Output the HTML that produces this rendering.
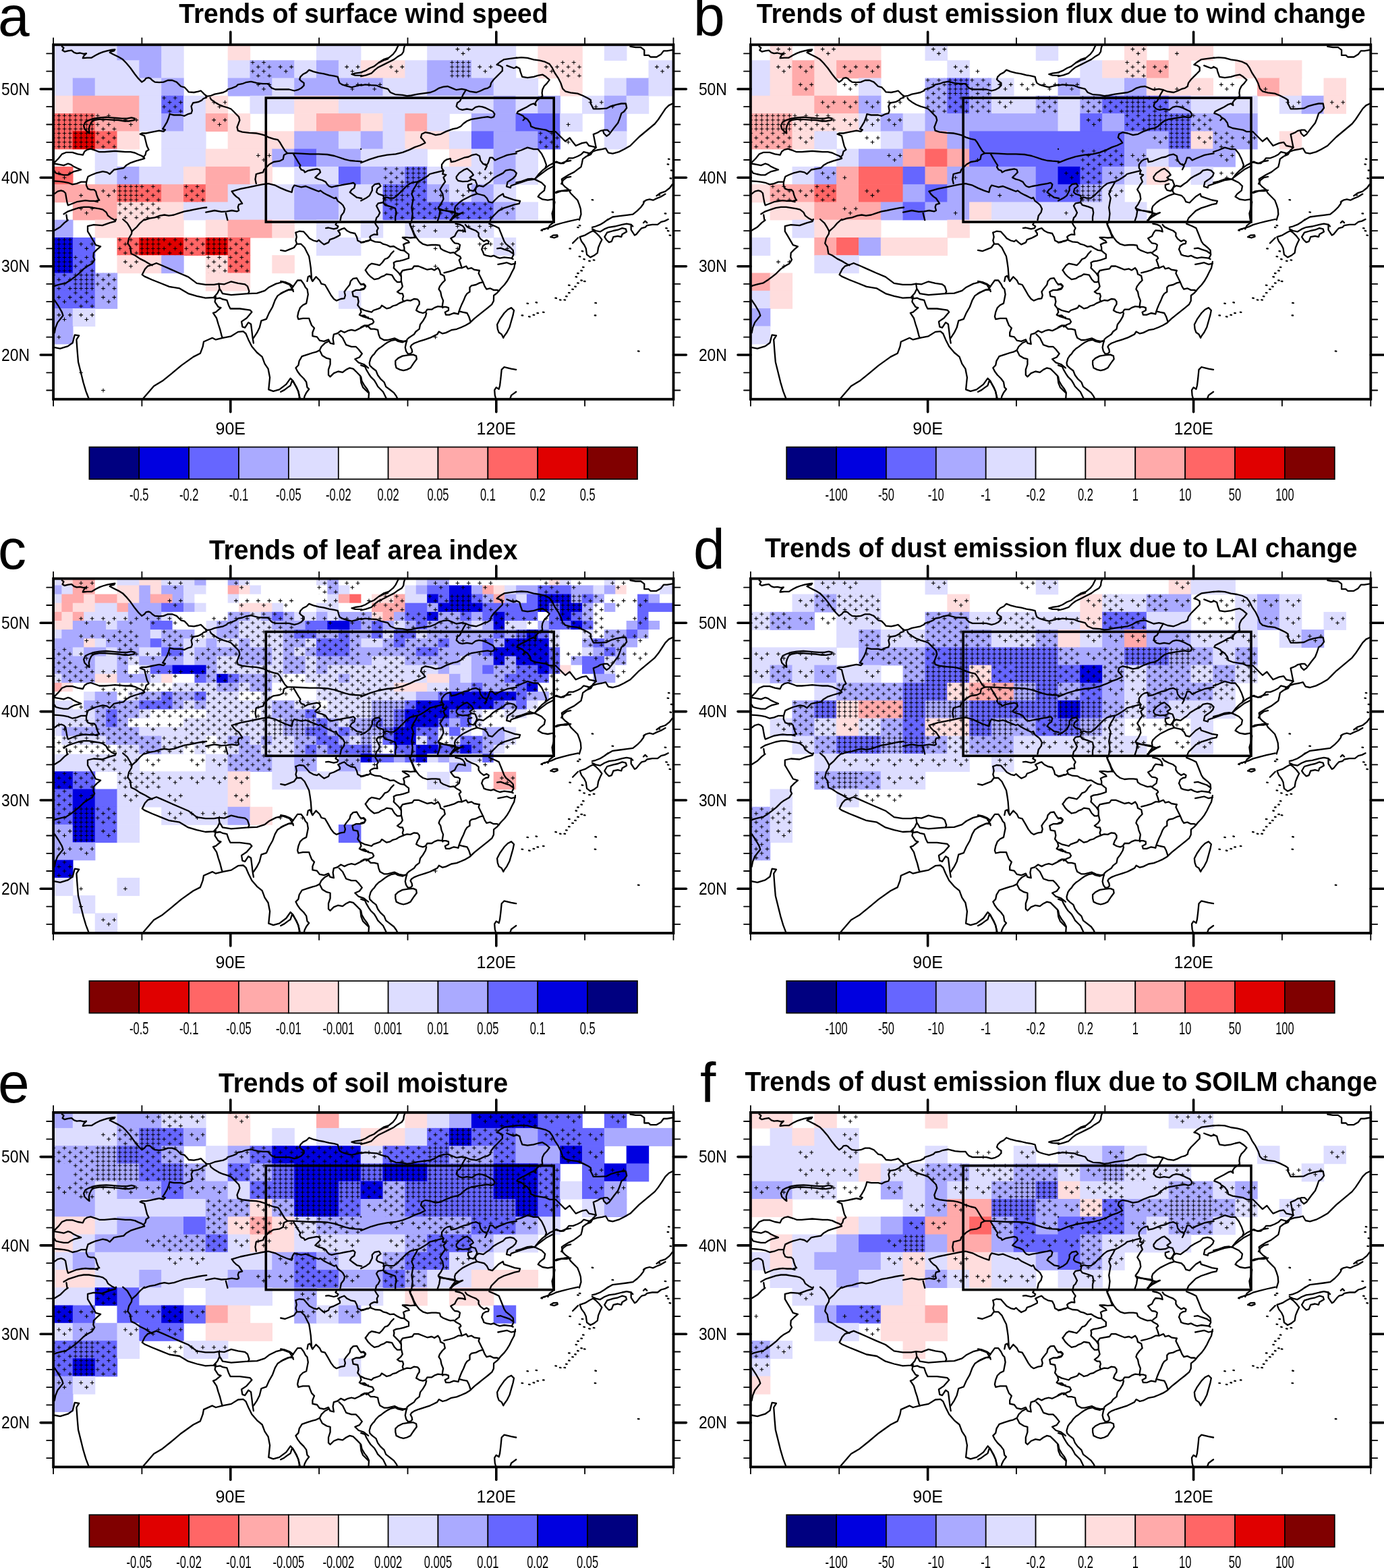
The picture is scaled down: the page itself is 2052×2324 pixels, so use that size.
<!DOCTYPE html><html><head><meta charset="utf-8"><title>Dust emission trends</title>
<style>html,body{margin:0;padding:0;background:#fff;}svg{display:block;}text{font-family:"Liberation Sans",Arial,Helvetica,sans-serif;fill:#000;}</style></head><body>
<svg xmlns="http://www.w3.org/2000/svg" width="2052" height="2324" viewBox="0 0 2052 2324">
<rect width="2052" height="2324" fill="#fff"/>
<g id="panel-a">
<clipPath id="clipa"><rect x="79.1" y="66.3" width="919.4" height="525.4"/></clipPath>
<g clip-path="url(#clipa)">
<defs><pattern id="pfa" patternUnits="userSpaceOnUse" x="75" y="63" width="8.2088" height="6.5670"><path d="M1.3 3.3h5.7M4.1 0.4v5.7" stroke="#000" stroke-width="1.1" fill="none"/></pattern><pattern id="pha" patternUnits="userSpaceOnUse" x="75" y="63" width="16.4175" height="13.1340"><path d="M1.3 3.3h5.7M4.1 0.4v5.7M9.5 9.9h5.7M12.3 7v5.7" stroke="#000" stroke-width="1.1" fill="none"/></pattern></defs><g><rect x="75" y="63" width="99.2" height="27" fill="#ddddff"/><rect x="173.5" y="63" width="66.4" height="27" fill="#aaaaff"/><rect x="239.2" y="63" width="33.5" height="27" fill="#ddddff"/><rect x="337.7" y="63" width="33.5" height="27" fill="#ffdddd"/><rect x="469" y="63" width="66.4" height="27" fill="#ddddff"/><rect x="633.2" y="63" width="132" height="27" fill="#ddddff"/><rect x="797.4" y="63" width="66.4" height="27" fill="#ffdddd"/><rect x="895.9" y="63" width="33.5" height="27" fill="#ddddff"/><rect x="75" y="89.3" width="132" height="27" fill="#ddddff"/><rect x="206.3" y="89.3" width="33.5" height="27" fill="#aaaaff"/><rect x="239.2" y="89.3" width="33.5" height="27" fill="#ddddff"/><rect x="337.7" y="89.3" width="33.5" height="27" fill="#ddddff"/><rect x="370.5" y="89.3" width="66.4" height="27" fill="#aaaaff"/><rect x="436.2" y="89.3" width="33.5" height="27" fill="#ddddff"/><rect x="469" y="89.3" width="33.5" height="27" fill="#aaaaff"/><rect x="501.9" y="89.3" width="33.5" height="27" fill="#ddddff"/><rect x="534.7" y="89.3" width="66.4" height="27" fill="#ffdddd"/><rect x="600.4" y="89.3" width="33.5" height="27" fill="#ddddff"/><rect x="633.2" y="89.3" width="66.4" height="27" fill="#aaaaff"/><rect x="698.9" y="89.3" width="66.4" height="27" fill="#ddddff"/><rect x="797.4" y="89.3" width="66.4" height="27" fill="#ffdddd"/><rect x="961.5" y="89.3" width="50.8" height="27" fill="#ddddff"/><rect x="75" y="115.6" width="33.5" height="27" fill="#ddddff"/><rect x="107.8" y="115.6" width="33.5" height="27" fill="#aaaaff"/><rect x="140.7" y="115.6" width="99.2" height="27" fill="#ddddff"/><rect x="239.2" y="115.6" width="33.5" height="27" fill="#aaaaff"/><rect x="337.7" y="115.6" width="66.4" height="27" fill="#aaaaff"/><rect x="403.3" y="115.6" width="33.5" height="27" fill="#ddddff"/><rect x="436.2" y="115.6" width="132" height="27" fill="#aaaaff"/><rect x="567.5" y="115.6" width="66.4" height="27" fill="#ddddff"/><rect x="633.2" y="115.6" width="99.2" height="27" fill="#aaaaff"/><rect x="731.7" y="115.6" width="66.4" height="27" fill="#ddddff"/><rect x="830.2" y="115.6" width="33.5" height="27" fill="#ffdddd"/><rect x="895.9" y="115.6" width="33.5" height="27" fill="#ddddff"/><rect x="928.7" y="115.6" width="33.5" height="27" fill="#aaaaff"/><rect x="961.5" y="115.6" width="50.8" height="27" fill="#ddddff"/><rect x="75" y="141.8" width="33.5" height="27" fill="#ffdddd"/><rect x="107.8" y="141.8" width="99.2" height="27" fill="#ffaaaa"/><rect x="206.3" y="141.8" width="33.5" height="27" fill="#ddddff"/><rect x="239.2" y="141.8" width="33.5" height="27" fill="#6666ff"/><rect x="272" y="141.8" width="33.5" height="27" fill="#ddddff"/><rect x="304.8" y="141.8" width="33.5" height="27" fill="#ffdddd"/><rect x="370.5" y="141.8" width="66.4" height="27" fill="#ddddff"/><rect x="436.2" y="141.8" width="66.4" height="27" fill="#ffdddd"/><rect x="501.9" y="141.8" width="230.5" height="27" fill="#ddddff"/><rect x="731.7" y="141.8" width="33.5" height="27" fill="#aaaaff"/><rect x="764.5" y="141.8" width="33.5" height="27" fill="#ddddff"/><rect x="797.4" y="141.8" width="33.5" height="27" fill="#aaaaff"/><rect x="863" y="141.8" width="33.5" height="27" fill="#ddddff"/><rect x="895.9" y="141.8" width="33.5" height="27" fill="#aaaaff"/><rect x="928.7" y="141.8" width="33.5" height="27" fill="#ddddff"/><rect x="75" y="168.1" width="66.4" height="27" fill="#ff6666"/><rect x="140.7" y="168.1" width="66.4" height="27" fill="#ffaaaa"/><rect x="206.3" y="168.1" width="33.5" height="27" fill="#ddddff"/><rect x="239.2" y="168.1" width="33.5" height="27" fill="#aaaaff"/><rect x="272" y="168.1" width="33.5" height="27" fill="#ddddff"/><rect x="304.8" y="168.1" width="33.5" height="27" fill="#ffaaaa"/><rect x="337.7" y="168.1" width="33.5" height="27" fill="#ffdddd"/><rect x="436.2" y="168.1" width="33.5" height="27" fill="#ffdddd"/><rect x="469" y="168.1" width="66.4" height="27" fill="#ffaaaa"/><rect x="534.7" y="168.1" width="33.5" height="27" fill="#ffdddd"/><rect x="567.5" y="168.1" width="33.5" height="27" fill="#ddddff"/><rect x="600.4" y="168.1" width="33.5" height="27" fill="#ffaaaa"/><rect x="633.2" y="168.1" width="33.5" height="27" fill="#ddddff"/><rect x="698.9" y="168.1" width="66.4" height="27" fill="#aaaaff"/><rect x="764.5" y="168.1" width="66.4" height="27" fill="#6666ff"/><rect x="830.2" y="168.1" width="33.5" height="27" fill="#ddddff"/><rect x="895.9" y="168.1" width="33.5" height="27" fill="#aaaaff"/><rect x="75" y="194.4" width="33.5" height="27" fill="#ff6666"/><rect x="107.8" y="194.4" width="33.5" height="27" fill="#e00000"/><rect x="140.7" y="194.4" width="33.5" height="27" fill="#ff6666"/><rect x="173.5" y="194.4" width="33.5" height="27" fill="#ffdddd"/><rect x="239.2" y="194.4" width="66.4" height="27" fill="#ddddff"/><rect x="337.7" y="194.4" width="99.2" height="27" fill="#ffdddd"/><rect x="436.2" y="194.4" width="66.4" height="27" fill="#aaaaff"/><rect x="501.9" y="194.4" width="33.5" height="27" fill="#ddddff"/><rect x="534.7" y="194.4" width="33.5" height="27" fill="#aaaaff"/><rect x="567.5" y="194.4" width="33.5" height="27" fill="#ddddff"/><rect x="600.4" y="194.4" width="66.4" height="27" fill="#ffdddd"/><rect x="666" y="194.4" width="33.5" height="27" fill="#ddddff"/><rect x="698.9" y="194.4" width="33.5" height="27" fill="#6666ff"/><rect x="731.7" y="194.4" width="66.4" height="27" fill="#aaaaff"/><rect x="797.4" y="194.4" width="33.5" height="27" fill="#6666ff"/><rect x="895.9" y="194.4" width="33.5" height="27" fill="#ddddff"/><rect x="140.7" y="220.6" width="33.5" height="27" fill="#ddddff"/><rect x="239.2" y="220.6" width="66.4" height="27" fill="#ddddff"/><rect x="304.8" y="220.6" width="99.2" height="27" fill="#ffdddd"/><rect x="403.3" y="220.6" width="33.5" height="27" fill="#aaaaff"/><rect x="436.2" y="220.6" width="33.5" height="27" fill="#6666ff"/><rect x="469" y="220.6" width="66.4" height="27" fill="#aaaaff"/><rect x="534.7" y="220.6" width="99.2" height="27" fill="#ddddff"/><rect x="666" y="220.6" width="33.5" height="27" fill="#ffdddd"/><rect x="698.9" y="220.6" width="33.5" height="27" fill="#ddddff"/><rect x="731.7" y="220.6" width="33.5" height="27" fill="#aaaaff"/><rect x="764.5" y="220.6" width="33.5" height="27" fill="#ddddff"/><rect x="75" y="246.9" width="33.5" height="27" fill="#ff6666"/><rect x="140.7" y="246.9" width="33.5" height="27" fill="#ddddff"/><rect x="173.5" y="246.9" width="33.5" height="27" fill="#aaaaff"/><rect x="206.3" y="246.9" width="66.4" height="27" fill="#ddddff"/><rect x="272" y="246.9" width="33.5" height="27" fill="#ffdddd"/><rect x="304.8" y="246.9" width="66.4" height="27" fill="#ffaaaa"/><rect x="370.5" y="246.9" width="33.5" height="27" fill="#ffdddd"/><rect x="436.2" y="246.9" width="66.4" height="27" fill="#ddddff"/><rect x="501.9" y="246.9" width="33.5" height="27" fill="#6666ff"/><rect x="534.7" y="246.9" width="66.4" height="27" fill="#aaaaff"/><rect x="600.4" y="246.9" width="33.5" height="27" fill="#6666ff"/><rect x="633.2" y="246.9" width="99.2" height="27" fill="#ddddff"/><rect x="731.7" y="246.9" width="33.5" height="27" fill="#aaaaff"/><rect x="764.5" y="246.9" width="33.5" height="27" fill="#ddddff"/><rect x="75" y="273.2" width="99.2" height="27" fill="#ffaaaa"/><rect x="173.5" y="273.2" width="66.4" height="27" fill="#ff6666"/><rect x="239.2" y="273.2" width="33.5" height="27" fill="#ffaaaa"/><rect x="272" y="273.2" width="33.5" height="27" fill="#ff6666"/><rect x="304.8" y="273.2" width="33.5" height="27" fill="#ffaaaa"/><rect x="337.7" y="273.2" width="99.2" height="27" fill="#ddddff"/><rect x="436.2" y="273.2" width="66.4" height="27" fill="#aaaaff"/><rect x="501.9" y="273.2" width="66.4" height="27" fill="#ddddff"/><rect x="567.5" y="273.2" width="66.4" height="27" fill="#6666ff"/><rect x="633.2" y="273.2" width="33.5" height="27" fill="#aaaaff"/><rect x="666" y="273.2" width="33.5" height="27" fill="#ddddff"/><rect x="698.9" y="273.2" width="33.5" height="27" fill="#aaaaff"/><rect x="731.7" y="273.2" width="33.5" height="27" fill="#ddddff"/><rect x="107.8" y="299.4" width="66.4" height="27" fill="#ffaaaa"/><rect x="173.5" y="299.4" width="99.2" height="27" fill="#ffdddd"/><rect x="272" y="299.4" width="164.9" height="27" fill="#ddddff"/><rect x="436.2" y="299.4" width="66.4" height="27" fill="#aaaaff"/><rect x="501.9" y="299.4" width="66.4" height="27" fill="#ddddff"/><rect x="567.5" y="299.4" width="164.9" height="27" fill="#6666ff"/><rect x="731.7" y="299.4" width="33.5" height="27" fill="#aaaaff"/><rect x="764.5" y="299.4" width="33.5" height="27" fill="#ddddff"/><rect x="75" y="325.7" width="33.5" height="27" fill="#aaaaff"/><rect x="140.7" y="325.7" width="132" height="27" fill="#ffdddd"/><rect x="304.8" y="325.7" width="33.5" height="27" fill="#ffdddd"/><rect x="337.7" y="325.7" width="66.4" height="27" fill="#ffaaaa"/><rect x="403.3" y="325.7" width="33.5" height="27" fill="#ffdddd"/><rect x="469" y="325.7" width="33.5" height="27" fill="#ddddff"/><rect x="534.7" y="325.7" width="33.5" height="27" fill="#ddddff"/><rect x="600.4" y="325.7" width="132" height="27" fill="#ddddff"/><rect x="75" y="352" width="33.5" height="27" fill="#0000e0"/><rect x="107.8" y="352" width="33.5" height="27" fill="#6666ff"/><rect x="173.5" y="352" width="33.5" height="27" fill="#ff6666"/><rect x="206.3" y="352" width="66.4" height="27" fill="#e00000"/><rect x="272" y="352" width="33.5" height="27" fill="#ff6666"/><rect x="304.8" y="352" width="33.5" height="27" fill="#e00000"/><rect x="337.7" y="352" width="33.5" height="27" fill="#ff6666"/><rect x="469" y="352" width="66.4" height="27" fill="#ddddff"/><rect x="731.7" y="352" width="33.5" height="27" fill="#ddddff"/><rect x="75" y="378.2" width="33.5" height="27" fill="#0000e0"/><rect x="107.8" y="378.2" width="33.5" height="27" fill="#6666ff"/><rect x="173.5" y="378.2" width="66.4" height="27" fill="#ffdddd"/><rect x="239.2" y="378.2" width="33.5" height="27" fill="#aaaaff"/><rect x="304.8" y="378.2" width="33.5" height="27" fill="#ffdddd"/><rect x="337.7" y="378.2" width="33.5" height="27" fill="#ff6666"/><rect x="403.3" y="378.2" width="33.5" height="27" fill="#ffdddd"/><rect x="75" y="404.5" width="66.4" height="27" fill="#6666ff"/><rect x="140.7" y="404.5" width="33.5" height="27" fill="#aaaaff"/><rect x="304.8" y="404.5" width="66.4" height="27" fill="#ffdddd"/><rect x="75" y="430.8" width="66.4" height="27" fill="#6666ff"/><rect x="140.7" y="430.8" width="33.5" height="27" fill="#aaaaff"/><rect x="501.9" y="430.8" width="33.5" height="27" fill="#ddddff"/><rect x="75" y="457" width="33.5" height="27" fill="#aaaaff"/><rect x="107.8" y="457" width="33.5" height="27" fill="#ddddff"/><rect x="75" y="483.3" width="33.5" height="27" fill="#aaaaff"/></g><rect x="666" y="89.3" width="32.8" height="26.3" fill="url(#pfa)"/><rect x="79.1" y="168.1" width="61.6" height="26.3" fill="url(#pfa)"/><rect x="79.1" y="194.4" width="61.6" height="26.3" fill="url(#pfa)"/><rect x="600.4" y="246.9" width="32.8" height="26.3" fill="url(#pfa)"/><rect x="173.5" y="273.2" width="32.8" height="26.3" fill="url(#pfa)"/><rect x="567.5" y="273.2" width="32.8" height="26.3" fill="url(#pfa)"/><rect x="79.1" y="352" width="28.7" height="26.3" fill="url(#pfa)"/><rect x="206.3" y="352" width="32.8" height="26.3" fill="url(#pfa)"/><rect x="304.8" y="352" width="32.8" height="26.3" fill="url(#pfa)"/><rect x="79.1" y="378.2" width="28.7" height="26.3" fill="url(#pfa)"/><rect x="107.8" y="404.5" width="32.8" height="26.3" fill="url(#pfa)"/><rect x="370.5" y="89.3" width="32.8" height="26.3" fill="url(#pha)"/><rect x="830.2" y="89.3" width="32.8" height="26.3" fill="url(#pha)"/><rect x="239.2" y="141.8" width="32.8" height="26.3" fill="url(#pha)"/><rect x="140.7" y="168.1" width="32.8" height="26.3" fill="url(#pha)"/><rect x="140.7" y="194.4" width="32.8" height="26.3" fill="url(#pha)"/><rect x="797.4" y="194.4" width="32.8" height="26.3" fill="url(#pha)"/><rect x="567.5" y="246.9" width="32.8" height="26.3" fill="url(#pha)"/><rect x="206.3" y="273.2" width="32.8" height="26.3" fill="url(#pha)"/><rect x="272" y="273.2" width="32.8" height="26.3" fill="url(#pha)"/><rect x="600.4" y="273.2" width="32.8" height="26.3" fill="url(#pha)"/><rect x="173.5" y="299.4" width="65.7" height="26.3" fill="url(#pha)"/><rect x="567.5" y="299.4" width="164.2" height="26.3" fill="url(#pha)"/><rect x="173.5" y="352" width="32.8" height="26.3" fill="url(#pha)"/><rect x="239.2" y="352" width="65.7" height="26.3" fill="url(#pha)"/><rect x="337.7" y="352" width="32.8" height="26.3" fill="url(#pha)"/><rect x="107.8" y="378.2" width="32.8" height="26.3" fill="url(#pha)"/><rect x="304.8" y="378.2" width="65.7" height="26.3" fill="url(#pha)"/><rect x="79.1" y="404.5" width="28.7" height="26.3" fill="url(#pha)"/><rect x="140.7" y="404.5" width="32.8" height="26.3" fill="url(#pha)"/><rect x="107.8" y="430.8" width="32.8" height="26.3" fill="url(#pha)"/><path fill="none" stroke="#000" stroke-width="1.1" d="M675.5 72.9h5.7M678.3 70v5.7M683.7 79.4h5.7M686.5 76.6v5.7M691.9 72.9h5.7M694.8 70v5.7M412.8 99.1h5.7M415.7 96.3v5.7M421 105.7h5.7M423.9 102.9v5.7M429.2 99.1h5.7M432.1 96.3v5.7M511.3 99.1h5.7M514.2 96.3v5.7M519.5 105.7h5.7M522.4 102.9v5.7M527.7 99.1h5.7M530.6 96.3v5.7M577 99.1h5.7M579.8 96.3v5.7M585.2 105.7h5.7M588 102.9v5.7M593.4 99.1h5.7M596.3 96.3v5.7M708.3 99.1h5.7M711.2 96.3v5.7M716.5 105.7h5.7M719.4 102.9v5.7M724.7 99.1h5.7M727.6 96.3v5.7M806.8 99.1h5.7M809.7 96.3v5.7M815 105.7h5.7M817.9 102.9v5.7M823.2 99.1h5.7M826.1 96.3v5.7M971 99.1h5.7M973.9 96.3v5.7M979.2 105.7h5.7M982.1 102.9v5.7M987.4 99.1h5.7M990.3 96.3v5.7M380 125.4h5.7M382.8 122.6v5.7M388.2 132h5.7M391 129.1v5.7M396.4 125.4h5.7M399.2 122.6v5.7M511.3 125.4h5.7M514.2 122.6v5.7M519.5 132h5.7M522.4 129.1v5.7M527.7 125.4h5.7M530.6 122.6v5.7M544.1 125.4h5.7M547 122.6v5.7M552.4 132h5.7M555.2 129.1v5.7M560.6 125.4h5.7M563.4 122.6v5.7M314.3 151.7h5.7M317.2 148.8v5.7M322.5 158.2h5.7M325.4 155.4v5.7M330.7 151.7h5.7M333.6 148.8v5.7M872.5 151.7h5.7M875.3 148.8v5.7M880.7 158.2h5.7M883.6 155.4v5.7M888.9 151.7h5.7M891.8 148.8v5.7M905.3 158.2h5.7M908.2 155.4v5.7M183 177.9h5.7M185.8 175.1v5.7M191.2 184.5h5.7M194 181.7v5.7M199.4 177.9h5.7M202.2 175.1v5.7M314.3 177.9h5.7M317.2 175.1v5.7M322.5 184.5h5.7M325.4 181.7v5.7M330.7 177.9h5.7M333.6 175.1v5.7M839.7 184.5h5.7M842.5 181.7v5.7M839.7 210.8h5.7M842.5 207.9v5.7M380 230.5h5.7M382.8 227.6v5.7M388.2 237h5.7M391 234.2v5.7M396.4 230.5h5.7M399.2 227.6v5.7M84.5 256.7h5.7M87.3 253.9v5.7M92.7 263.3h5.7M95.5 260.5v5.7M100.9 256.7h5.7M103.7 253.9v5.7M183 263.3h5.7M185.8 260.5v5.7M708.3 256.7h5.7M711.2 253.9v5.7M716.5 263.3h5.7M719.4 260.5v5.7M724.7 256.7h5.7M727.6 253.9v5.7M117.3 289.6h5.7M120.1 286.7v5.7M150.1 283h5.7M153 280.2v5.7M158.3 289.6h5.7M161.2 286.7v5.7M166.5 283h5.7M169.4 280.2v5.7M642.7 283h5.7M645.5 280.2v5.7M650.9 289.6h5.7M653.7 286.7v5.7M659.1 283h5.7M661.9 280.2v5.7M675.5 283h5.7M678.3 280.2v5.7M683.7 289.6h5.7M686.5 286.7v5.7M691.9 283h5.7M694.8 280.2v5.7M117.3 309.3h5.7M120.1 306.4v5.7M125.5 315.8h5.7M128.4 313v5.7M133.7 309.3h5.7M136.6 306.4v5.7M741.2 309.3h5.7M744 306.4v5.7M749.4 315.8h5.7M752.2 313v5.7M757.6 309.3h5.7M760.4 306.4v5.7M609.8 335.5h5.7M612.7 332.7v5.7M618 342.1h5.7M620.9 339.3v5.7M626.2 335.5h5.7M629.1 332.7v5.7M642.7 342.1h5.7M645.5 339.3v5.7M675.5 335.5h5.7M678.3 332.7v5.7M683.7 342.1h5.7M686.5 339.3v5.7M691.9 335.5h5.7M694.8 332.7v5.7M708.3 335.5h5.7M711.2 332.7v5.7M716.5 342.1h5.7M719.4 339.3v5.7M724.7 335.5h5.7M727.6 332.7v5.7M117.3 361.8h5.7M120.1 359v5.7M125.5 368.4h5.7M128.4 365.5v5.7M133.7 361.8h5.7M136.6 359v5.7M642.7 368.4h5.7M645.5 365.5v5.7M675.5 368.4h5.7M678.3 365.5v5.7M708.3 361.8h5.7M711.2 359v5.7M716.5 368.4h5.7M719.4 365.5v5.7M724.7 361.8h5.7M727.6 359v5.7M741.2 361.8h5.7M744 359v5.7M749.4 368.4h5.7M752.2 365.5v5.7M757.6 361.8h5.7M760.4 359v5.7M183 388.1h5.7M185.8 385.2v5.7M191.2 394.7h5.7M194 391.8v5.7M199.4 388.1h5.7M202.2 385.2v5.7M642.7 394.7h5.7M645.5 391.8v5.7M84.5 440.6h5.7M87.3 437.8v5.7M92.7 447.2h5.7M95.5 444.3v5.7M100.9 440.6h5.7M103.7 437.8v5.7M150.1 440.6h5.7M153 437.8v5.7M158.3 447.2h5.7M161.2 444.3v5.7M166.5 440.6h5.7M169.4 437.8v5.7M84.5 466.9h5.7M87.3 464v5.7M92.7 473.5h5.7M95.5 470.6v5.7M100.9 466.9h5.7M103.7 464v5.7M117.3 466.9h5.7M120.1 464v5.7M125.5 473.5h5.7M128.4 470.6v5.7M133.7 466.9h5.7M136.6 464v5.7M84.5 499.7h5.7M87.3 496.9v5.7M642.7 499.7h5.7M645.5 496.9v5.7M117.3 552.3h5.7M120.1 549.4v5.7M150.1 578.5h5.7M153 575.7v5.7"/>
<g transform="translate(79.1,66.3)" fill="none" stroke="#000" stroke-width="2.3" stroke-linejoin="round" stroke-linecap="round">
<polyline points="1.7,275.3 10.1,270.2 16.5,263.8 21.6,260"/>
<polyline points="92.9,258.7 91.7,261.8 84,263.8 72.6,267.9 59.8,266.9 50.9,268.9 50.9,276.5 54.7,282.9 58.5,289.3 62.9,296.9 70,299 64.9,303.3 59.8,308.4 59.3,314.8 61.1,318.6 57.3,324.5 49.6,328.8 44.5,332.6 38.1,339 31.8,344.1 26.7,347.9 19,353 10.1,355 3.7,356.8 0.7,358.1"/>
<polyline points="1.7,378.5 7.6,387.4 12.7,396.3 14.4,401.4 11.4,405.2 6.3,411.6 3.2,419.3 1.7,426.9"/>
<polyline points="1.2,448.6 10.1,450.3 21.6,446.8 28.7,441.7 30.5,434.5 31.8,430 38.1,431 34.3,437.1 35.6,454.9 36.9,470.2 40.7,485.5 44.5,500.8 48.3,513.5 52.2,523.7"/>
<polyline points="103.1,258.7 109.5,264.3 113.8,271.4 116.4,276.5"/>
<polyline points="135,258.7 128.6,264.3 123.5,270.2 116.4,276.5"/>
<polyline points="116.4,276.5 115.9,280.4 112.1,286.7 110.3,294.4 113.8,299.5 115.4,309.7 121,312.2 128.6,317.3 136.3,321.1 142.6,325 146.5,327"/>
<polyline points="146.5,326.2 152.8,323.7 161.8,327.5 174.5,333.1 186,338.2 200,344.1 212.7,353.5 225.5,355.5 238.2,355.5 245.3,354.3 246.4,361.9 243.3,368.3 237.7,374.7 225.5,375.4 212.7,372.6 200,368.8 187.2,361.1 171.9,358.6 159.2,353.5 146.5,348.4 135,343.3 131.7,340.8 135.8,332.6 140.1,328 146.5,326.2"/>
<polyline points="245.3,354.3 253.5,355 263.7,351 273.9,353.5 284.1,355 287.9,358.1 290.4,365.7 288.7,368.8 276.4,369.8 263.7,370.8 250.9,368.8 248.4,364.5 246.4,361.9"/>
<polyline points="289.2,368.8 301.9,368.3 313.4,364.5 319.8,359.4 330,354.3 340.1,351.7 350.3,355.5 354.2,361.9 355.9,365.7"/>
<polyline points="237.7,374.7 240.8,376.4 247.1,375.4 250.9,377.2 257.3,378.5 259.9,386.1 262.4,391.2 276.4,391.2 291.7,393.3 294.3,396.3 286.6,405.2 279,410.3 280.3,418 284.1,419.3 289.2,411.6 293,414.2 294.3,424.4 295.5,434.5 296.8,442.2"/>
<polyline points="240.8,373.4 239.5,381 244.6,388.7 248.4,389.9 240.8,396.3 236.9,397.6 242,405.2 244.6,414.2 247.1,421.8 249.7,432 250.9,434.5"/>
<polyline points="133.7,523.7 149,505.9 161.8,498.3 174.5,488.1 189.8,475.3 207.6,462.6 217.8,457.5 221.6,447.3 222.9,440.2 235.7,434.5 240.8,437.1 250.9,434.5 263.7,432 273.9,425.6 281.5,424.9 285.4,428.2 289.2,437.1 294.3,447.3 301.9,456.2 309.6,462.6 313.4,472.8 318.5,480.4 321,493.2 319.2,511 326.1,513.5 335,511 345.2,503.4 351.6,494.4 355.4,498.3 359.3,505.9 363.1,513.5 365.6,523.7"/>
<polyline points="296.8,434.5 301.9,426.9 305.7,419.3 308.3,409.1 315.9,406.5 319.8,397.6 324.9,388.7 328.7,378.5 332.5,372.1 340.1,367 349.1,363.2 355.4,363.2"/>
<polyline points="477.1,264.6 479,267.9 481.7,271.8 479.7,275.7 480.4,281.6 475.8,281 471.2,283 469.2,284.9 470.5,288.2 467.9,290.2 464,290.8 460,292.8 456.1,293.4"/>
<polyline points="470.5,289.5 477.1,292.1 484.9,292.8 488.9,295.4 494.1,296.7 499.4,299.3 504.6,298.7 509.9,302 515.1,304.6 520.3,305.2 524.3,308.5 526.9,310.5 526.9,316.4 523,317.7 519,319 513.8,320.3 508.5,321 504.6,322.9 505.3,326.9 504.6,330.8 508.5,334.7 512.5,338.7 515.1,342.6"/>
<polyline points="517.7,285.6 524.3,285.6 529.5,286.2 538,285.6"/>
<polyline points="528.2,264.6 530.2,269.2 532.8,274.4 534.8,279.7 538,285.6 542.6,291.5 547.9,295.4 554.4,297.4 561,296.7 567.5,296.7 572.8,297.4 574.1,302 578,304.6 584.6,307.2 588.5,308.5 593.8,307.9 597.7,311.1 602.9,313.8 604.3,316.4 601.6,319 603.6,324.3 605.6,330.8"/>
<polyline points="518.4,286.2 521.7,288.2 526.2,290.8 527.6,293.1 523,294.1 519,296.1 520.3,300.7 520.3,304.6"/>
<polyline points="596.4,265.3 602.9,266.6 606.9,268.5 609.5,271.8 610.8,277.1 606.9,275.7 600.3,275.1 597.7,278.4 595.1,283.6 589.2,286.9 592.5,291.5 595.1,294.1 600.3,294.8 602.9,296.7 601.6,303.3 596.4,307.2"/>
<polyline points="610.8,266.6 613.4,269.8 620,273.1 626.6,275.7 630.5,279 630.5,283.6 633.1,287.5 638.4,291.5 642.3,289.5 645.6,291.5 644.9,294.8 641,295.4 637,298 635.1,303.3 637,307.2 638.4,311.1 642.3,312.5 648.8,313.8 652.8,312.5 658,315.1 662,316.4 668.5,315.1 679,316.4 681.6,317.7"/>
<polyline points="646.2,265.3 655.4,269.2 660.6,271.8 663.3,278.4 665.9,284.9 668.5,291.5 671.1,295.4 677.7,300.7 681.6,304.6 682.3,311.1 679.7,316.4"/>
<polyline points="658,302 663.3,301.3 668.5,303.3 676.4,305.9 681,309.2"/>
<polyline points="659.3,325.6 665.9,324.3 672.4,322.9 679,325.6 684.9,324.3"/>
<polyline points="684.9,321.6 683.2,330.8 679.7,337.4 676.6,343.9 672.7,350.5 668.8,355.7 663.5,361.2 658.3,367.5 653,371.7 652.8,379.6 650.2,384.8 643.9,390.1 637.3,395.3 630.7,400.6 624.2,405.8 617.6,412.1 611.1,416 604.5,418.9 598,421.5 590.1,422.9 582.2,426.8 577,428.1 571.7,425.2 569.1,429.2 563.9,431.8 558.6,434.4 550.8,437 541.6,439.9 535,442.5 531.1,445.1 529.5,447.8 531.5,451.7 532.1,455.4 529.5,458 525.6,458 523,454.1 521.7,448.8 523,442.3 524.3,438.6 520.3,439.9 517.7,441 511.2,439.6 507.2,437.3 500.7,438.6 495.4,441.2 491.5,443.8 486.3,447.8 482.3,450.4 478.4,454.3 475.8,458.3 473.1,460.9 470.5,464.8 468.6,471.4 469.2,475.3 473.1,479.2 478.4,483.2 481,489.7 484.9,495 490.5,500.2 493.1,506.8 498.3,510.7 504.9,515.9 508.5,520.9 511.2,526.7"/>
<polyline points="507.2,468.5 511.2,464.6 517.7,461.3 525.6,460 533.5,459.3 538,461.3 538.7,465.9 534.8,471.1 532.1,475 529.5,479 524.3,481.6 519,482.9 513.8,481.6 508.5,479 507.2,473.7 507.2,468.5"/>
<polyline points="456.1,475 462,477 464,481.6 467.9,488.2 470.5,492.1 475.8,497.3 479,502.6 481,506.5 484.9,510.4 488.9,514.4 491.5,519.6 494.8,526.7"/>
<polyline points="456.1,492.1 457.4,498.6 461.3,505.2 465.3,510.4 467.9,515.7 467.2,526.7"/>
<polyline points="456.1,418.7 461.3,416 466.6,417.3 470.5,421.3 475.8,421.3 481,422.6 482.3,429.2 484.3,434.4 490.2,437.7 495.4,437.7 505.9,435.1 512.5,438.3 519,439.6 523,439"/>
<polyline points="456.1,401.6 461.3,401 466.6,405.5 473.1,406.9 475.1,410.8 473.1,413.4 469.2,414.7 465.9,417.3 464,418"/>
<polyline points="515.1,338.7 517.7,334.7 524.3,333.4 532.1,332.1 534.8,328.2 541.3,328.2 547.9,330.8 554.4,333.4 561,332.1 564.9,334.1 570.2,330.8 572.8,334.7 574.1,340"/>
<polyline points="574.1,340 579.3,342.6 580.7,349.2 576.7,353.1 572.8,358.3 571.5,362.3 574.1,366.2 575.4,372.8 578,379.3 576.7,387.2 577.4,389.8"/>
<polyline points="515.1,338.7 515.8,343.9 515.8,350.5 517.7,358.3 515.1,362.3 509.9,366.2 513.8,368.8 517.7,368.8 519,372.8 517.7,376.7 519,380.6"/>
<polyline points="519,380.6 524.3,378.7 529.5,379.3 534.8,376.7 540,377.4 542.6,380.6 542.6,384.6 540,388.5 538,393.7 542.6,396.4 547.9,397.7 551.8,396.4 554.4,392.4 561,392.4 564.9,389.8 570.2,387.8 576.7,388.5 582,388.5 585.9,389.8 585.9,393.7 580.7,396.4 582,400.3 587.2,400.3 593.8,397.7 600.3,399"/>
<polyline points="579.3,338 587.2,336.1 593.8,334.1 600.3,330.8 605.6,330.8 612.1,328.2 614.7,332.1 620,330.8 623.9,333.4 631.8,334.7"/>
<polyline points="631.8,334.7 630.5,338.7 633.1,343.9 635.7,349.2 637,351.8 631.8,353.1 626.6,355.7 620,357 617.4,359.7 617.4,366.2 613.4,368.8 610.8,372.8 608.2,379.3 605.6,384.6 602.9,391.1 601.6,395.1 600.3,399"/>
<polyline points="637,351.8 639.7,358.3 642.3,362.3 647.5,361 652.8,363.6 658,363.6 660.6,364.9"/>
<polyline points="601.6,395.1 606.9,396.4 613.4,397.7 616.1,402.9 618.7,410.8"/>
<polyline points="553.1,397.7 551.8,402.9 547.9,409.5 543.9,414.7 542.6,421.3 537.4,425.2 534.8,429.2 530.8,431.8 526.9,434.4 524.3,437"/>
<polyline points="519,380.6 512.5,383.3 508.5,385.9 503.3,387.2 499.4,389.8 494.1,391.1 490.2,388.5 486.9,386.5 484.9,389.8 482.3,391.1 474.5,393.7 471.8,396.4 466.6,395.1 461.3,393.7 456.1,391.1"/>
<polyline points="462.7,334.1 467.9,326.9 471.8,324.3 478.4,325.6 483.6,326.9 487.6,322.9 491.5,317.7 495.4,316.4 498.1,313.8 500.7,309.8 504.6,305.9"/>
<polyline points="462.7,334.1 466.6,340 470.5,343.9 475.8,347.9 482.3,346.5 486.3,343.9 490.2,342.6 494.1,340 498.1,340.6 502,341.3 505.9,347.9 509.9,351.8 513.8,351.8 515.8,350.5"/>
<polyline points="456.1,355.7 460,354.4 462.7,357 461.3,361 456.1,362.3"/>
<polyline points="658,414.7 662,406.9 668.5,397.7 673.8,392.4 679,389.8 682.9,393.7 681.6,400.3 679,409.5 676.4,418.7 672.4,426.5 668.5,431.8 667.2,434.4 664.6,429.2 660.6,426.5 658.7,421.3 658,414.7"/>
<polyline points="656.7,526.7 654.7,519.6 654.1,511.8 656.7,507.8 660.6,510.4 662,505.2 663.3,494.7 664.6,481.6 668.5,477.7 673.8,479 679,480.3 686.1,481.6"/>
<polyline points="676.4,526.7 679,519.6 686.1,514.4"/>
<polyline points="724.1,274.4 732,271.8 738.5,269.8 745.1,266.8 754.3,264.2 764.8,261.6 777.9,258.7"/>
<polyline points="733.3,273.1 735.9,267.9 741.2,263.9"/>
<polyline points="737.2,284.9 741.2,282.3 747.1,282 747.7,284.3 742.5,286.2 737.2,284.9"/>
<polyline points="780.5,284.9 788.4,282.3 794.9,278.4 800.2,275.7 804.1,278.4 809.3,283.6 813.3,288.9 810.7,294.1 808,300.7 806.7,308.5 801.5,312.5 796.2,315.1 791,311.1 789.7,302 787.1,296.7 783.1,291.5 780.5,284.9"/>
<polyline points="770,294.1 773.9,290.2 777.9,286.2"/>
<polyline points="798.9,270.5 804.1,269.2 810.7,266.6 817.2,262.6 822.5,258.7"/>
<polyline points="798.9,273.1 804.1,275.7 810.7,277.1 817.2,273.1 823.8,270.5 832.9,269.2 843.4,266.6 850,265.3 856.6,266.6 859.2,269.2"/>
<polyline points="817.2,284.9 821.1,278.4 830.3,275.7 836.9,274.4 843.4,271.8 848.7,273.1 850,277.1 843.4,281 842.1,284.9 836.9,283.6 830.3,284.9 827.7,291.5 823.8,292.8 819.8,288.9 817.2,284.9"/>
<polyline points="856.6,266.6 856.6,274.4 861.8,282.3 864.4,281 869.7,274.4 872.3,271.8 877.5,270.5 880.2,267.9 888,266.6 895.9,266.6 901.1,262.6 906.4,261.3 911.6,258.7"/>
<polyline points="874.9,263.9 877.5,261.3 880.2,263.9"/>
<polyline points="783.6,305.9 785.2,306.2"/>
<polyline points="779.7,313.8 781.3,314"/>
<polyline points="786.3,317.7 787.8,318"/>
<polyline points="794.1,320.3 795.7,320.6"/>
<polyline points="800.7,319 802.3,319.3"/>
<polyline points="785,329.5 786.5,329.8"/>
<polyline points="782.3,334.7 783.9,335"/>
<polyline points="777.1,338.7 778.7,338.9"/>
<polyline points="774.5,343.9 776,344.2"/>
<polyline points="782.3,349.2 783.9,349.4"/>
<polyline points="786.9,350.5 788.5,350.7"/>
<polyline points="777.1,353.1 778.7,353.4"/>
<polyline points="773.2,358.3 774.7,358.6"/>
<polyline points="769.2,362.3 770.8,362.5"/>
<polyline points="764,356.4 765.6,356.6"/>
<polyline points="764,367.5 765.6,367.8"/>
<polyline points="760,372.8 761.6,373"/>
<polyline points="757.4,378 759,378.3"/>
<polyline points="750.9,378 752.4,378.3"/>
<polyline points="744.3,375.4 745.9,375.7"/>
<polyline points="702.4,383.3 703.9,383.5"/>
<polyline points="715.5,381.9 717,382.2"/>
<polyline points="694.5,401 696.1,401.2"/>
<polyline points="705,402.9 706.6,403.2"/>
<polyline points="711.5,400.3 713.1,400.6"/>
<polyline points="717.4,397.7 719,397.9"/>
<polyline points="726,396.4 727.5,396.6"/>
<polyline points="803.3,382.6 804.9,382.9"/>
<polyline points="802.7,401 804.2,401.2"/>
<polyline points="866.9,454.1 868.5,454.3"/>
<polyline points="765.3,302 766.9,302.2"/>
<polyline points="723.3,275.1 724.9,275.4"/>
<polyline points="727.3,273.1 728.8,273.4"/>
<polyline points="777.1,270.5 778.7,270.8"/>
<polyline points="779.7,267.9 781.3,268.1"/>
<polyline points="908.2,271.8 909.8,272.1"/>
<polyline points="910.8,275.7 912.4,276"/>
<polyline points="913.5,282.3 915,282.6"/>
<polyline points="12.8,2.5 15.4,4.5 13.5,8.3 16.7,10.3 21.8,9 27,8.3 30.8,11.5 34.7,12.8 39.8,12.2 45,13.5 48.9,12.8 45,16.7 43.7,19.9 50.1,19.3 56.6,19.3 63,15.4 68.2,12.8 73.3,10.9 79.7,9 86.2,7.7 91.3,7 90,9 84.9,10.3 83.6,11.5 88.7,14.1 96.5,18 102.9,21.8 108,27 114.5,34.7 120.9,43.7 126.1,50.1 131.2,55.3 135.1,52.7 137.6,49.5 141.5,48.9 144.1,50.1 146.6,52.7 150.5,55.3 156.9,55.9 163.4,55.3 169.8,52.7 176.2,52.7 182.7,55.3 186.5,59.1 189.1,61.7 194.3,63 198.1,66.9 200.7,70.1 208.4,70.7 214.8,69.4 218.7,68.2 221.3,70.7 223.8,73.3 227.1,75.9"/>
<polyline points="227.1,78.4 222.6,79.7 220,82.3 214.8,84.9 207.1,86.2 204.5,91.3 205.8,97.7 204.5,101.6 199.4,102.9 194.3,105.5 189.1,104.2 178.8,104.2 172.4,102.9 171.1,108 168.5,114.5 164.7,120.9 162.1,124.8 165.9,126.1 163.4,128.6 156.9,127.3 150.5,128.6 144.1,129.9 137.6,131.2 131.2,131.2 128.6,132.5 135.1,135.1 136.3,140.2 137.6,145.4 138.9,150.5 141.5,155.6 137.6,158.2 136.3,163.4 133.8,165.9 135.1,168.5 131.2,169.8 122.2,172.4 114.5,175 108,178.8 104.2,182.7 96.5,184 90,185.2 86.2,189.1 83.6,191.7 79.7,189.1 73.3,187.8 68.2,189.1 63,190.4 56.6,193 51.4,195.5 50.1,199.4 48.9,204.5 48.9,208.4 51.4,213.6 55.3,214.8 60.4,214.8 63,217.4 64.3,222.6 66.2,227.7 68.2,230.3 63,231.6"/>
<polyline points="45,119.6 47.6,114.5 52.7,111.9 60.4,109.3 68.2,108 78.4,107.4 86.2,108 93.9,108.7 101.6,109.3 109.3,109.3 115.8,108 120.9,109.3 119.6,111.9 111.9,113.2 105.5,113.2 96.5,111.9 86.2,111.3 75.9,110.6 68.2,110.6 60.4,111.9 56.6,114.5 54,119.6 52.7,124.8 53.4,131.2 50.1,128.6 46.3,124.8 45,119.6"/>
<polyline points="1.2,175 7.7,168.5 12.8,162.1 19.3,159.5 28.3,159.5 36,162.1 43.7,163.4 46.3,158.2 50.1,155.6 55.3,154.4 63,156.9 68.2,158.9 75.9,158.9 83.6,158.2 91.3,157.6 99,158.2 106.8,158.9 114.5,158.9 120.9,160.2 126.1,162.7 131.2,164.7 134.4,167.2"/>
<polyline points="1.2,176.2 9,177.5 15.4,178.8 21.8,176.2 25.7,177.5 29.6,180.1 34.7,182.7 41.1,185.2 36,186.5 30.8,187.8 25.7,190.4 21.8,193 15.4,193 9,191.7 3.8,190.4 1.2,186.5"/>
<polyline points="1.2,202 9,202.6 15.4,203.3 21.8,204.5 28.3,207.1 34.7,205.8 41.1,203.3 48.9,203.3"/>
<polyline points="1.2,221.3 6.4,217.4 11.5,216.1 15.4,217.4 18,220 19.3,227.7 20.5,234.1 21.8,238 28.3,235.4 34.7,232.9 42.4,231.6 47.6,230.9 54,231.6 60.4,231.6 65.6,232.9"/>
<polyline points="15.4,250.9 21.8,247 29.6,244.4 37.3,241.9 45,240.6 52.7,240.6 60.4,241.9 68.2,243.1 73.3,244.4 78.4,248.3 81,253.4 86.2,257.3 91.3,259.9"/>
<polyline points="19.3,252.2 20.5,259.9"/>
<polyline points="135.1,259.9 142.8,257.3 150.5,256 158.2,253.4 164.7,252.2 171.1,253.4 178.8,252.2 186.5,249.6 194.3,247 202,245.7 208.4,244.4 214.8,243.1 221.3,241.9 227.1,241.2"/>
<polyline points="226.1,76.5 232.5,75.9 239,73.3 245.4,72 251.8,70.7 257,68.2 258.3,66.2 264.7,64.3 271.1,61.7 273.7,59.1 280.1,57.9 285.3,55.9 293,54.6 298.2,55.9 303.3,57.2 311,57.9 318.7,57.9 321.3,61.7 323.9,64.3 329,66.2 336.8,66.2 344.5,66.2 349.6,66.2 357.3,68.2 362.5,66.9 367.6,64.3 371.5,60.4 371.5,56.6 367.6,54 365.1,51.4 366.3,47.6 370.2,43.7 375.4,41.1 379.2,37.3 385.6,39.8 393.4,41.8 401.1,43.1 408.8,45 416.5,46.3 421.7,47.6 423,52.7 424.3,56.6 428.1,59.1 434.5,61.1 442.3,63 447.4,61.7 452.6,60.4 457.1,59.1"/>
<polyline points="457.1,41.1 447.4,42.4 442.3,43.7 447.4,45.3 457.1,45.6"/>
<polyline points="232.5,78.4 233.8,81 239,84.9 245.4,88.7 251.8,91.3 258.3,93.2 263.4,95.2 267.3,99 271.1,102.9 275,106.8 276.3,111.9 274.4,117 272.4,122.2 273.7,127.3 280.1,129.3 290.4,130.6 300.7,131.2 307.2,132.5 313.6,134.4 318.7,137 326.5,139.6 332.9,140.9 335.5,144.1 339.3,150.5 343.2,156.9 347,160.8"/>
<polyline points="347,160.8 354.8,160.8 367.6,161.4 380.5,162.1 393.4,162.1 406.2,162.7 416.5,164.7 424.3,167.2 432,169.8 439.7,171.7 447.4,172.4 457.1,173"/>
<polyline points="347,160.8 341.9,163.4 340.6,169.8 335.5,172.4 326.5,173.7 320,177.5 316.2,181.4 312.3,185.2 311,189.1 305.9,190.4 300.7,191.7 299.4,199.4 300.7,205.8"/>
<polyline points="356.1,162.1 359.9,168.5 363.8,175 366.3,178.8 365.1,181.4 367.6,185.2 371.5,186.5 372.8,189.1 377.9,186.5 384.4,185.2 390.8,184 394.7,185.2 395.9,189.1 392.1,193 388.2,196.8 393.4,199.4 398.5,200.7 403.7,203.3 406.2,207.1 408.8,209.7 412.7,211 417.8,209.7 425.5,208.4 432,207.1 439.7,205.8 444.8,204.5 447.4,207.1 446.1,212.3 442.3,214.8 439.7,218.7 444.8,222.6 450,226.4 457.1,227.7"/>
<polyline points="264.7,217.4 277.6,213.6 290.4,211 303.3,208.4 309.7,207.1 318.7,205.8 329,208.4 336.8,212.3 345.8,216.1 353.5,218.7 354.8,212.3 357.3,208.4 362.5,209.7 367.6,211 374.1,209.7 380.5,212.3 386.9,214.8 393.4,217.4 395.9,216.1 401.1,220 406.2,222.6 411.4,225.1 416.5,227.7 419.1,226.4 421.7,231.6 426.8,235.4 429.4,238 432,243.1 430.7,248.3 426.8,253.4 425.5,259.9"/>
<polyline points="264.7,217.4 267.3,221.3 271.1,225.1 275,227.7 277.6,231.6 280.1,235.4 275,236.7 273.7,240.6 275,245.7 272.4,247 264.7,245.7 257,247 249.3,247.6 239,245.7 226.1,248.3"/>
<polyline points="255.7,249.6 258.3,259.9"/>
<polyline points="456.1,41.1 462.5,38.6 469,34.7 475.4,32.1 481.8,27 489.6,21.8 497.3,19.3 503.7,14.1 507.6,9 510.1,3.8 511.4,1.2"/>
<polyline points="456.1,46.9 463.8,45 471.5,42.4 476.7,37.3 481.8,33.4 489.6,29.6 497.3,25.7 505,21.8 510.1,18 516.6,14.1 519.1,10.3 519.8,5.1 521.1,1.2"/>
<polyline points="483.1,26.3 489.6,23.1 496,21.2"/>
<polyline points="456.1,60.4 462.5,59.1 469,59.8 479.3,60.4 485.7,63 496,65.6 499.8,70.7 507.6,73.9 517.9,74.6 524.3,75.9 530.7,75.2 539.7,73.3 548.7,72 559,70.7 565.5,68.2 571.9,64.3 578.3,62.4 584.8,61.7 591.2,64.3 597.6,66.9 605.4,65.6 611.8,66.9 618.2,69.4 627.2,70.7 633.7,68.2 638.8,65.6 644,64.3 647.8,61.7"/>
<polyline points="647.8,61.7 649.1,56.6 653,51.4 658.1,46.3 662,42.4 665.8,38.6 665.8,33.4 662,30.8 657.5,29.6 662,25.7 668.4,21.8 677.4,20.5 687.1,19.3"/>
<polyline points="672.3,30.8 677.4,32.8 682.6,34.7 687.1,33.4"/>
<polyline points="456.1,175 469,169.8 481.8,165.9 494.7,163.4 507.6,162.1 517.9,159.5 528.2,155.6 535.9,151.8 543.6,149.2 551.3,145.4 548.7,141.5 544.9,137.6 546.2,132.5 551.3,129.9 559,131.2 566.8,133.8 574.5,132.5 582.2,128.6 592.5,124.8 598.9,123.5 604.1,120.9 607.9,117 613.1,113.2 619.5,110.6 627.2,109.3 636.2,107.8 644,106.8 649.1,108 653,106.8 654.3,102.9 651.7,99 646.5,96.5 641.4,93.9 636.2,92 631.1,91.3 625.9,92.6 620.8,96.5 613.1,95.2 606.6,96.5 601.5,95.2 597.6,91.3 598.9,86.2 602.8,83.6 605.4,78.4 607.9,73.3 611.8,66.9"/>
<polyline points="686.1,19.5 693.9,18.9 703,19.5 712.1,22.1 721.3,23.4 729.1,25.4 735.6,28.6 739.5,33.9 743.4,41.7 748.6,49.5 752.5,57.3 755.1,65.1 759,69 766.8,71 777.2,72.3 785,75.5 792.9,79.4 796.8,82 796.8,87.2 800.7,95 809.8,95 820.2,94.4 826.7,91.1 835.8,88.5 842.3,87.2 848.8,87.2 850.1,93.7 846.2,99 842.3,101.6 839.7,109.4 837.1,115.9 831.9,122.4 828,127.6 824.1,132.8 820.2,135.4 816.3,131.5 815,127.6 816.3,126.3 821.5,126.3 824.1,128.9"/>
<polyline points="815,126.9 811.1,127.6 807.2,130.2 800.7,132.8 802,139.3 803.3,145.8 804.6,152.3 800.7,156.2"/>
<polyline points="792.9,162.7 798.1,158.8 805.9,156.2 813.7,154.9 818.9,153.6 822.8,160.1 829.3,161.4 838.4,158.8 846.2,154.9 855.4,149.7 860.6,144.5 868.4,136.7 876.2,130.2 884,123.7 891.8,117.2 897,110.7 902.2,102.9 907.4,95 912.6,89.8 921.1,85.9"/>
<polyline points="686.1,32.6 691.3,35.2 692.6,40.4 695.2,47.5 703,48.8 712.1,47.5 718.6,45.6 725.2,44.3 730.4,47.5 735.6,52.1 731.7,57.3 727.8,61.2 725.2,66.4 724.5,71.6 725.2,76.2 717.3,82 714.7,85.9 715.4,89.8 712.1,87.2 708.2,88.5 701.7,92.4 693.9,96.3 688.7,99 687.4,101.6 691.3,102.9 696.5,105.5 699.1,109.4 696.5,112"/>
<polyline points="699.1,108.1 703,110.7 706.9,115.9 708.2,121.1 714.7,123.7 722.6,125 730.4,126.3 735.6,128.9 744.7,128.9 751.2,135.4 759,143.2 765.5,138 769.4,143.2 774.6,149.7 783.7,145.8 790.3,144.5 794.2,149.7 800.7,151 804.6,152.3"/>
<polyline points="761.7,171.2 756.4,175.8 751.2,175.8 746,173.2 740.8,175.8 735.6,178.4 730.4,182.3 725.2,186.2 720,191.4 716,196.6 714,199.6"/>
<polyline points="761.7,171.2 764.2,168 770.7,168 777.2,165.4 782.4,162.7 786.3,158.8 791.6,160.1 796.8,161.4 800.7,156.2"/>
<polyline points="686.1,204.4 693.9,202.5 703,199.2 709.5,198.6 714,199.6 718.6,201.8 723.9,204.4 729.1,209.6 727.8,216.1 721.3,221.3 718.6,225.2 725.2,229.1 733,230.4 740.8,229.1 743.4,233.1 742.1,240.9 739.5,250 740.8,259.7"/>
<polyline points="800.7,156.2 796.8,162.7 790.3,165.4 785,169.3 783.7,175.8 782.4,181 777.2,184.9 772,188.8 764.2,192.7 757.7,196.6 753.8,199.2 755.1,207 759,210.9 764.2,214.8 766.8,220 772,225.2 777.2,230.4 779.8,237 781.8,243.5 782.4,251.3 779.8,259.7"/>
<polyline points="742.1,220 747.3,217.4 756.4,216.1 764.2,214.8"/>
<polyline points="686.1,158.8 693.9,156.2 703,152.3 712.1,154.9 718.6,154.9 723.9,161.4 727.8,169.3 731,178.4 729.1,183.6"/>
<polyline points="855.4,2.6 863.2,3.9 871,3.9 876.2,7.8 876.2,15.6 882.7,15.6 885.3,18.2 894.4,18.2 900.9,14.3 904.8,9.1 910,9.1 917.8,7.8"/>
<polyline points="894.4,223.9 899.6,220 907.4,217.4 913.9,212.2 917.8,207"/>
<polyline points="874.9,233.1 878.8,230.4 884,229.1 889.2,230.4 894.4,227.8 900.9,225.2 907.4,221.3"/>
<polyline points="821.5,259.7 829.3,255.2 839.7,253.9 850.1,252.6 859.3,251.3 865.8,246.1 871,240.9 874.9,235.7 876.2,231.8"/>
<polyline points="798.6,229.8 800.1,230.1"/>
<polyline points="828.5,248 830.1,248.3"/>
<polyline points="897.5,222.6 899.1,222.9"/>
<polyline points="911.9,169.3 913.4,169.5"/>
<polyline points="910.6,177.1 912.1,177.3"/>
<polyline points="914.5,197.9 916,198.2"/>
<polyline points="915.8,186.2 917.3,186.4"/>
<polyline points="906.6,250 908.2,250.2"/>
<polyline points="359.4,278.4 360.7,284.9 359.4,290.2 360.7,294.1"/>
<polyline points="359.4,278.4 364.6,276.4 371.2,277.1 376.4,283 379.7,286.9 385.6,290.2 390.9,291.5 393.5,289.5 397.4,293.1 401.3,296.1 407.9,293.1 409.9,288.9 415.8,286.9 421,284.3 424.9,282.3 424.9,279.7 422.3,275.7"/>
<polyline points="404,271.8 407.9,271.2 415.8,273.1 421,271.8 422.3,269.2 418.4,266.6 419.7,264.6"/>
<polyline points="422.3,275.7 427.6,273.1 431.5,271.8 435.4,275.7 440.7,278.4 447.2,279.7 449.9,284.9 451.2,290.2 456.4,292.8 463,291.5 467,290.8"/>
<polyline points="337.1,304.6 343.7,305.9 350.2,303.3 356.8,300.7 360.7,295.4 367.3,295.4 372.5,300.7 376.4,308.5 379.1,313.8 380.4,321.6 381.7,330.8 382.3,338.7 383,347.9 384.3,350.5"/>
<polyline points="337.1,368.8 342.3,366.2 347.6,363.6 352.8,362.3 355.5,358.3 362,349.2 367.3,349.2 371.2,354.4 373.8,359.7 376.4,362.3 377.7,370.1 376.4,376.7 375.1,383.3 369.9,385.9 365.9,389.8 363.3,396.4 362,402.9 363.3,406.9 369.9,405.5 379.1,405.5 380.4,409.5 383,416 386.9,420 384.3,426.5 384.3,431.8 390.9,433.1 394.8,438.3 401.3,439.6 407.9,437 410.5,442.3 415.8,443.6 414.5,435.7 415.8,429.2 421,427.8"/>
<polyline points="337.1,350.5 343.7,351.8 350.2,354.4 355.5,358.3"/>
<polyline points="376.4,350.5 377.7,343.9 380.4,342.6 384.3,350.5 389.5,343.9 394.8,349.2 397.4,354.4 402.7,355.7 406.6,362.3 411.8,371.5 415.8,376.7 419.7,379.3 426.3,376.7 431.5,376 432.8,371.5 431.5,366.2 434.1,362.3 439.4,355.7 440.7,350.5 444.6,346.5 449.9,345.9 452.5,350.5 455.1,354.4 460.3,355.7 463,358.3 460.3,362.3 455.1,363.6 448.5,363.6 443.3,366.2 444.6,372.8 451.2,374.1 452.5,380.6 451.2,385.9 455.1,391.1 456.4,396.4 453.8,400.3 459,402.9 463,404.2 467,404.2"/>
<polyline points="421,427.8 426.3,423.9 431.5,426.5 436.7,423.9 442,422.6 447.2,423.9 452.5,421.3 457.7,418.7 463,416 467,416"/>
<polyline points="423.6,429.2 428.9,434.4 431.5,439.6 434.1,444.9 442,447.5 448.5,447.5 452.5,451.4 457.7,458 453.8,463.2 447.2,465.9 452.5,471.1 460.3,473.7 467,479"/>
<polyline points="407.9,439.6 402.7,442.3 397.4,447.5 394.8,452.8 398.7,460.6 405.3,464.6 410.5,465.9 410.5,473.7 407.9,481.6 407.9,489.5 410.5,492.1 415.8,486.8 422.3,484.2 428.9,485.5 434.1,481.6 439.4,479 444.6,480.3 449.9,485.5 455.1,490.8 456.4,501.3 459,507.8 463,511.8 467,515.7"/>
<polyline points="394.8,452.8 389.5,455.4 384.3,456.7 376.4,459.3 368.6,461.9 364.6,468.5 363.3,475 359.4,479 362,484.2 365.9,489.5 371.2,494.7 375.1,500 376.4,507.8 379.1,510.4 375.1,515.7 372.5,520.9 371.2,526.7"/>
<polyline points="337.1,514.4 342.3,511.8 347.6,507.8 351.5,505.2 354.1,497.3 356.8,501.3 360.7,507.8 363.3,514.4 364.6,520.9 364.6,526.7"/>
<polyline points="626.8,211.6 630.8,208.9 637.5,210.2 642.8,206.2 646.8,203.6 652.1,198.3 658.7,194.3 666.7,190.3 670.7,186.3 677.3,185 682.7,186.3 686.7,190.3 685.3,194.3 681.3,198.3 677.3,200.9 673.4,203.6 672,210.2 677.7,211.8"/>
<polyline points="677.7,211.8 678.7,208.9 686.7,206.2 694.6,203.6 702.6,200.9 713.8,199.3"/>
<polyline points="626.8,211.6 625.5,216.9 628.2,220.9 633.5,222.2 638.8,223.5 642.8,227.5 645.4,232.8 650.8,234.2 654.7,230.2 660.1,224.9 666.7,220.9 668,224.9 676,227.5 684,230.2 692,231.5 690.6,235.5 684,236.8 676,239.5 668,242.1 660.1,246.1 654.7,251.5 649.4,256.8 646.8,262.8"/>
<polyline points="628.2,220.9 620.2,223.5 614.9,226.2 606.9,230.2 601.6,234.2 596.2,239.5 594.9,243.5 596.2,250.1 590.9,256.8 588.3,262.8"/>
<polyline points="572.3,244.8 582.9,246.1 593.6,247.5 596.2,250.1"/>
<polyline points="597.6,195.6 601.6,190.3 609.5,185 613.5,183.6 620.2,189 622.8,193 617.5,196.9 620.2,199.6 614.9,202.3 606.9,202.9 600.2,201.6 597.6,198.3 597.6,195.6"/>
<polyline points="620.2,199.6 625.5,200.9 628.2,207.6 626.8,211.6"/>
<polyline points="626.8,211.6 622.8,216.9 617.5,215.6 614.9,211.6 614.9,207.6 620.2,206.2"/>
<polyline points="640.1,185 642.8,179.7 640.1,177"/>
<polyline points="713.8,199.3 715.9,196.9 721.2,193 726.5,189 731.9,185 737.2,182.3 742.5,179.7"/>
<polyline points="745.2,174.3 753.1,175.7 759.8,173 767.1,171.7"/>
<polyline points="745.2,219.5 753.1,216.9 761.1,216.9 767.1,215.6"/>
<polyline points="753.1,206.2 755.8,200.9 761.1,196.9 767.1,195.6"/>
<polyline points="588.3,260.1 594.9,255.4 601.6,251.5 606.9,248.8"/>
<polyline points="456.1,154.7 456.1,154.7"/>
<polyline points="456.1,231.2 463.7,227.3 468.8,223.5 472.7,215.9 472.7,210.8 476.5,206.9 482.9,205.7 485.4,209.5 480.3,213.3 479,218.4 481.6,221 489.2,223.5 490.5,228.6 489.2,233.7 481.6,235 479,238.8 481.6,243.9 484.1,249 481.6,254.1 479,256.6 477.8,261.7"/>
<polyline points="489.2,228 494.3,226.1 498.1,227.3 504.5,227.3 509.6,223.5 517.3,215.9 523.6,209.5 528.7,205.7 535.1,203.8 540.2,203.1 545.3,200.6 551.7,196.7 555.5,194.2 558,191.7 563.1,190.4 568.2,189.1 573.3,187.8 578.4,186.6"/>
<polyline points="489.2,233.7 491.8,237.5 500.7,240.1 507.1,242.6 508.3,249 507.1,255.4 507.1,261.7"/>
<polyline points="540.2,203.1 537.7,208.2 533.8,214.6 531.3,221 533.8,227.3 532.6,233.7 531.3,241.3 532.6,250.3 531.3,260.5 528.7,266.8 532.6,275.8 536.4,285.9"/>
<polyline points="578.4,186.6 577.2,191.7 582.2,192.9 578.4,196.7 581,203.1 577.2,208.2 573.3,214.6 577.2,221 578.4,228.6 574.6,236.3 570.8,241.3 573.3,246.4 572.1,254.1 569.5,261.7"/>
<polyline points="578.4,186.6 575.9,182.7 575.9,177.6 579.7,172.5 583.5,170 588.6,168.7 589.9,173.8 596.3,172.5 602.6,170 609,167.4 615.4,166.2 620.5,163.6 626.8,162.3 631.9,164.9 633.2,171.3 637,176.4 642.1,178.9 644.7,175.1 647.2,167.4 651.1,167.4 654.9,171.3 660,168.7 666.3,166.2 672.7,163.6 679.1,162.3 686.7,161.1"/>
<polyline points="570.8,242.6 578.4,245.2 588.6,247.7 595,249 600.1,250.3"/>
<polyline points="588.6,261.7 593.7,255.4 598.8,251.5 606.5,249"/>
</g>
<rect x="394.3" y="145.1" width="426.9" height="183.9" fill="none" stroke="#000" stroke-width="3.6"/>
</g>
<rect x="79.1" y="66.3" width="919.4" height="525.4" fill="none" stroke="#000" stroke-width="3.8"/>
<g stroke="#000" stroke-linecap="round"><line x1="69.2" y1="578.5" x2="79.1" y2="578.5" stroke-width="1.8"/><line x1="998.5" y1="578.5" x2="1008.4" y2="578.5" stroke-width="1.8"/><line x1="69.2" y1="552.3" x2="79.1" y2="552.3" stroke-width="1.8"/><line x1="998.5" y1="552.3" x2="1008.4" y2="552.3" stroke-width="1.8"/><line x1="60.2" y1="526" x2="79.1" y2="526" stroke-width="3.6"/><line x1="998.5" y1="526" x2="1017.4" y2="526" stroke-width="3.6"/><line x1="69.2" y1="499.7" x2="79.1" y2="499.7" stroke-width="1.8"/><line x1="998.5" y1="499.7" x2="1008.4" y2="499.7" stroke-width="1.8"/><line x1="69.2" y1="473.5" x2="79.1" y2="473.5" stroke-width="1.8"/><line x1="998.5" y1="473.5" x2="1008.4" y2="473.5" stroke-width="1.8"/><line x1="69.2" y1="447.2" x2="79.1" y2="447.2" stroke-width="1.8"/><line x1="998.5" y1="447.2" x2="1008.4" y2="447.2" stroke-width="1.8"/><line x1="69.2" y1="420.9" x2="79.1" y2="420.9" stroke-width="1.8"/><line x1="998.5" y1="420.9" x2="1008.4" y2="420.9" stroke-width="1.8"/><line x1="60.2" y1="394.7" x2="79.1" y2="394.7" stroke-width="3.6"/><line x1="998.5" y1="394.7" x2="1017.4" y2="394.7" stroke-width="3.6"/><line x1="69.2" y1="368.4" x2="79.1" y2="368.4" stroke-width="1.8"/><line x1="998.5" y1="368.4" x2="1008.4" y2="368.4" stroke-width="1.8"/><line x1="69.2" y1="342.1" x2="79.1" y2="342.1" stroke-width="1.8"/><line x1="998.5" y1="342.1" x2="1008.4" y2="342.1" stroke-width="1.8"/><line x1="69.2" y1="315.8" x2="79.1" y2="315.8" stroke-width="1.8"/><line x1="998.5" y1="315.8" x2="1008.4" y2="315.8" stroke-width="1.8"/><line x1="69.2" y1="289.6" x2="79.1" y2="289.6" stroke-width="1.8"/><line x1="998.5" y1="289.6" x2="1008.4" y2="289.6" stroke-width="1.8"/><line x1="60.2" y1="263.3" x2="79.1" y2="263.3" stroke-width="3.6"/><line x1="998.5" y1="263.3" x2="1017.4" y2="263.3" stroke-width="3.6"/><line x1="69.2" y1="237" x2="79.1" y2="237" stroke-width="1.8"/><line x1="998.5" y1="237" x2="1008.4" y2="237" stroke-width="1.8"/><line x1="69.2" y1="210.8" x2="79.1" y2="210.8" stroke-width="1.8"/><line x1="998.5" y1="210.8" x2="1008.4" y2="210.8" stroke-width="1.8"/><line x1="69.2" y1="184.5" x2="79.1" y2="184.5" stroke-width="1.8"/><line x1="998.5" y1="184.5" x2="1008.4" y2="184.5" stroke-width="1.8"/><line x1="69.2" y1="158.2" x2="79.1" y2="158.2" stroke-width="1.8"/><line x1="998.5" y1="158.2" x2="1008.4" y2="158.2" stroke-width="1.8"/><line x1="60.2" y1="132" x2="79.1" y2="132" stroke-width="3.6"/><line x1="998.5" y1="132" x2="1017.4" y2="132" stroke-width="3.6"/><line x1="69.2" y1="105.7" x2="79.1" y2="105.7" stroke-width="1.8"/><line x1="998.5" y1="105.7" x2="1008.4" y2="105.7" stroke-width="1.8"/><line x1="69.2" y1="79.4" x2="79.1" y2="79.4" stroke-width="1.8"/><line x1="998.5" y1="79.4" x2="1008.4" y2="79.4" stroke-width="1.8"/><line x1="79.1" y1="56.4" x2="79.1" y2="66.3" stroke-width="1.8"/><line x1="79.1" y1="591.7" x2="79.1" y2="601.6" stroke-width="1.8"/><line x1="210.4" y1="56.4" x2="210.4" y2="66.3" stroke-width="1.8"/><line x1="210.4" y1="591.7" x2="210.4" y2="601.6" stroke-width="1.8"/><line x1="341.8" y1="47.4" x2="341.8" y2="66.3" stroke-width="3.6"/><line x1="341.8" y1="591.7" x2="341.8" y2="610.6" stroke-width="3.6"/><line x1="473.1" y1="56.4" x2="473.1" y2="66.3" stroke-width="1.8"/><line x1="473.1" y1="591.7" x2="473.1" y2="601.6" stroke-width="1.8"/><line x1="604.5" y1="56.4" x2="604.5" y2="66.3" stroke-width="1.8"/><line x1="604.5" y1="591.7" x2="604.5" y2="601.6" stroke-width="1.8"/><line x1="735.8" y1="47.4" x2="735.8" y2="66.3" stroke-width="3.6"/><line x1="735.8" y1="591.7" x2="735.8" y2="610.6" stroke-width="3.6"/><line x1="867.1" y1="56.4" x2="867.1" y2="66.3" stroke-width="1.8"/><line x1="867.1" y1="591.7" x2="867.1" y2="601.6" stroke-width="1.8"/><line x1="998.5" y1="56.4" x2="998.5" y2="66.3" stroke-width="1.8"/><line x1="998.5" y1="591.7" x2="998.5" y2="601.6" stroke-width="1.8"/></g>
<text x="44.1" y="140.7" font-size="25" text-anchor="end" textLength="42" lengthAdjust="spacingAndGlyphs">50N</text>
<text x="44.1" y="272" font-size="25" text-anchor="end" textLength="42" lengthAdjust="spacingAndGlyphs">40N</text>
<text x="44.1" y="403.4" font-size="25" text-anchor="end" textLength="42" lengthAdjust="spacingAndGlyphs">30N</text>
<text x="44.1" y="534.7" font-size="25" text-anchor="end" textLength="42" lengthAdjust="spacingAndGlyphs">20N</text>
<text x="341.8" y="644" font-size="25" text-anchor="middle">90E</text>
<text x="735.8" y="644" font-size="25" text-anchor="middle">120E</text>
<text x="265.3" y="33.8" font-size="40.5" font-weight="bold" textLength="547.2" lengthAdjust="spacingAndGlyphs">Trends of surface wind speed</text>
<text x="-3" y="52.7" font-size="84">a</text>
<rect x="132.4" y="662.6" width="73.9" height="47.6" fill="#000080" stroke="#000" stroke-width="1.7"/>
<rect x="206.3" y="662.6" width="73.9" height="47.6" fill="#0000e0" stroke="#000" stroke-width="1.7"/>
<rect x="280.1" y="662.6" width="73.9" height="47.6" fill="#6666ff" stroke="#000" stroke-width="1.7"/>
<rect x="354" y="662.6" width="73.9" height="47.6" fill="#aaaaff" stroke="#000" stroke-width="1.7"/>
<rect x="427.9" y="662.6" width="73.9" height="47.6" fill="#ddddff" stroke="#000" stroke-width="1.7"/>
<rect x="501.8" y="662.6" width="73.9" height="47.6" fill="#ffffff" stroke="#000" stroke-width="1.7"/>
<rect x="575.6" y="662.6" width="73.9" height="47.6" fill="#ffdddd" stroke="#000" stroke-width="1.7"/>
<rect x="649.5" y="662.6" width="73.9" height="47.6" fill="#ffaaaa" stroke="#000" stroke-width="1.7"/>
<rect x="723.4" y="662.6" width="73.9" height="47.6" fill="#ff6666" stroke="#000" stroke-width="1.7"/>
<rect x="797.2" y="662.6" width="73.9" height="47.6" fill="#e00000" stroke="#000" stroke-width="1.7"/>
<rect x="871.1" y="662.6" width="73.9" height="47.6" fill="#800000" stroke="#000" stroke-width="1.7"/>
<text x="206.3" y="741.6" font-size="25" text-anchor="middle" transform="translate(206.3,0) scale(0.66,1) translate(-206.3,0)">-0.5</text>
<text x="280.1" y="741.6" font-size="25" text-anchor="middle" transform="translate(280.1,0) scale(0.66,1) translate(-280.1,0)">-0.2</text>
<text x="354" y="741.6" font-size="25" text-anchor="middle" transform="translate(354,0) scale(0.66,1) translate(-354,0)">-0.1</text>
<text x="427.9" y="741.6" font-size="25" text-anchor="middle" transform="translate(427.9,0) scale(0.66,1) translate(-427.9,0)">-0.05</text>
<text x="501.8" y="741.6" font-size="25" text-anchor="middle" transform="translate(501.8,0) scale(0.66,1) translate(-501.8,0)">-0.02</text>
<text x="575.6" y="741.6" font-size="25" text-anchor="middle" transform="translate(575.6,0) scale(0.66,1) translate(-575.6,0)">0.02</text>
<text x="649.5" y="741.6" font-size="25" text-anchor="middle" transform="translate(649.5,0) scale(0.66,1) translate(-649.5,0)">0.05</text>
<text x="723.4" y="741.6" font-size="25" text-anchor="middle" transform="translate(723.4,0) scale(0.66,1) translate(-723.4,0)">0.1</text>
<text x="797.2" y="741.6" font-size="25" text-anchor="middle" transform="translate(797.2,0) scale(0.66,1) translate(-797.2,0)">0.2</text>
<text x="871.1" y="741.6" font-size="25" text-anchor="middle" transform="translate(871.1,0) scale(0.66,1) translate(-871.1,0)">0.5</text>
</g>
<g id="panel-b">
<clipPath id="clipb"><rect x="1112.9" y="66.3" width="919.4" height="525.4"/></clipPath>
<g clip-path="url(#clipb)">
<defs><pattern id="pfb" patternUnits="userSpaceOnUse" x="1108.8" y="63" width="8.2088" height="6.5670"><path d="M1.3 3.3h5.7M4.1 0.4v5.7" stroke="#000" stroke-width="1.1" fill="none"/></pattern><pattern id="phb" patternUnits="userSpaceOnUse" x="1108.8" y="63" width="16.4175" height="13.1340"><path d="M1.3 3.3h5.7M4.1 0.4v5.7M9.5 9.9h5.7M12.3 7v5.7" stroke="#000" stroke-width="1.1" fill="none"/></pattern></defs><g><rect x="1141.6" y="63" width="33.5" height="27" fill="#ffdddd"/><rect x="1207.3" y="63" width="99.2" height="27" fill="#ffdddd"/><rect x="1371.5" y="63" width="33.5" height="27" fill="#ddddff"/><rect x="1535.7" y="63" width="33.5" height="27" fill="#ddddff"/><rect x="1667" y="63" width="33.5" height="27" fill="#ffdddd"/><rect x="1732.7" y="63" width="66.4" height="27" fill="#ffdddd"/><rect x="1108.8" y="89.3" width="33.5" height="27" fill="#ddddff"/><rect x="1141.6" y="89.3" width="33.5" height="27" fill="#ffdddd"/><rect x="1174.5" y="89.3" width="33.5" height="27" fill="#ffaaaa"/><rect x="1207.3" y="89.3" width="33.5" height="27" fill="#ffdddd"/><rect x="1240.1" y="89.3" width="66.4" height="27" fill="#ffaaaa"/><rect x="1404.3" y="89.3" width="33.5" height="27" fill="#ddddff"/><rect x="1601.3" y="89.3" width="33.5" height="27" fill="#ddddff"/><rect x="1634.2" y="89.3" width="66.4" height="27" fill="#ffdddd"/><rect x="1699.8" y="89.3" width="33.5" height="27" fill="#ffaaaa"/><rect x="1732.7" y="89.3" width="33.5" height="27" fill="#ffdddd"/><rect x="1831.2" y="89.3" width="99.2" height="27" fill="#ffdddd"/><rect x="1108.8" y="115.6" width="33.5" height="27" fill="#ddddff"/><rect x="1141.6" y="115.6" width="33.5" height="27" fill="#ffdddd"/><rect x="1174.5" y="115.6" width="33.5" height="27" fill="#ffaaaa"/><rect x="1207.3" y="115.6" width="33.5" height="27" fill="#ffdddd"/><rect x="1273" y="115.6" width="33.5" height="27" fill="#ddddff"/><rect x="1371.5" y="115.6" width="33.5" height="27" fill="#aaaaff"/><rect x="1404.3" y="115.6" width="33.5" height="27" fill="#6666ff"/><rect x="1437.1" y="115.6" width="33.5" height="27" fill="#aaaaff"/><rect x="1470" y="115.6" width="33.5" height="27" fill="#ddddff"/><rect x="1568.5" y="115.6" width="33.5" height="27" fill="#aaaaff"/><rect x="1601.3" y="115.6" width="66.4" height="27" fill="#ddddff"/><rect x="1667" y="115.6" width="33.5" height="27" fill="#aaaaff"/><rect x="1699.8" y="115.6" width="99.2" height="27" fill="#ffdddd"/><rect x="1864" y="115.6" width="33.5" height="27" fill="#ffaaaa"/><rect x="1896.8" y="115.6" width="33.5" height="27" fill="#ffdddd"/><rect x="1962.5" y="115.6" width="33.5" height="27" fill="#ffdddd"/><rect x="1108.8" y="141.8" width="99.2" height="27" fill="#ffdddd"/><rect x="1207.3" y="141.8" width="66.4" height="27" fill="#ffaaaa"/><rect x="1273" y="141.8" width="33.5" height="27" fill="#aaaaff"/><rect x="1371.5" y="141.8" width="33.5" height="27" fill="#aaaaff"/><rect x="1404.3" y="141.8" width="33.5" height="27" fill="#6666ff"/><rect x="1437.1" y="141.8" width="33.5" height="27" fill="#aaaaff"/><rect x="1470" y="141.8" width="66.4" height="27" fill="#ddddff"/><rect x="1535.7" y="141.8" width="33.5" height="27" fill="#aaaaff"/><rect x="1568.5" y="141.8" width="33.5" height="27" fill="#ddddff"/><rect x="1601.3" y="141.8" width="33.5" height="27" fill="#aaaaff"/><rect x="1634.2" y="141.8" width="99.2" height="27" fill="#6666ff"/><rect x="1732.7" y="141.8" width="33.5" height="27" fill="#aaaaff"/><rect x="1765.5" y="141.8" width="99.2" height="27" fill="#ddddff"/><rect x="1896.8" y="141.8" width="33.5" height="27" fill="#ddddff"/><rect x="1929.7" y="141.8" width="33.5" height="27" fill="#aaaaff"/><rect x="1962.5" y="141.8" width="33.5" height="27" fill="#ffdddd"/><rect x="1108.8" y="168.1" width="66.4" height="27" fill="#ffaaaa"/><rect x="1174.5" y="168.1" width="99.2" height="27" fill="#ffdddd"/><rect x="1273" y="168.1" width="33.5" height="27" fill="#ddddff"/><rect x="1305.8" y="168.1" width="33.5" height="27" fill="#aaaaff"/><rect x="1338.6" y="168.1" width="33.5" height="27" fill="#ddddff"/><rect x="1371.5" y="168.1" width="197.7" height="27" fill="#aaaaff"/><rect x="1568.5" y="168.1" width="33.5" height="27" fill="#ddddff"/><rect x="1601.3" y="168.1" width="33.5" height="27" fill="#6666ff"/><rect x="1634.2" y="168.1" width="33.5" height="27" fill="#aaaaff"/><rect x="1667" y="168.1" width="99.2" height="27" fill="#6666ff"/><rect x="1765.5" y="168.1" width="99.2" height="27" fill="#aaaaff"/><rect x="1108.8" y="194.4" width="66.4" height="27" fill="#ffaaaa"/><rect x="1174.5" y="194.4" width="33.5" height="27" fill="#ffdddd"/><rect x="1207.3" y="194.4" width="33.5" height="27" fill="#ddddff"/><rect x="1305.8" y="194.4" width="33.5" height="27" fill="#ddddff"/><rect x="1338.6" y="194.4" width="33.5" height="27" fill="#aaaaff"/><rect x="1371.5" y="194.4" width="33.5" height="27" fill="#ffaaaa"/><rect x="1404.3" y="194.4" width="33.5" height="27" fill="#aaaaff"/><rect x="1437.1" y="194.4" width="230.5" height="27" fill="#6666ff"/><rect x="1667" y="194.4" width="66.4" height="27" fill="#aaaaff"/><rect x="1732.7" y="194.4" width="33.5" height="27" fill="#6666ff"/><rect x="1765.5" y="194.4" width="33.5" height="27" fill="#ffdddd"/><rect x="1798.3" y="194.4" width="66.4" height="27" fill="#aaaaff"/><rect x="1896.8" y="194.4" width="33.5" height="27" fill="#ffdddd"/><rect x="1240.1" y="220.6" width="33.5" height="27" fill="#ddddff"/><rect x="1273" y="220.6" width="66.4" height="27" fill="#aaaaff"/><rect x="1338.6" y="220.6" width="33.5" height="27" fill="#ffaaaa"/><rect x="1371.5" y="220.6" width="33.5" height="27" fill="#ff6666"/><rect x="1404.3" y="220.6" width="33.5" height="27" fill="#ffaaaa"/><rect x="1437.1" y="220.6" width="230.5" height="27" fill="#6666ff"/><rect x="1667" y="220.6" width="33.5" height="27" fill="#aaaaff"/><rect x="1699.8" y="220.6" width="33.5" height="27" fill="#ddddff"/><rect x="1732.7" y="220.6" width="99.2" height="27" fill="#aaaaff"/><rect x="1174.5" y="246.9" width="33.5" height="27" fill="#ddddff"/><rect x="1207.3" y="246.9" width="33.5" height="27" fill="#aaaaff"/><rect x="1240.1" y="246.9" width="33.5" height="27" fill="#ffaaaa"/><rect x="1273" y="246.9" width="66.4" height="27" fill="#ff6666"/><rect x="1338.6" y="246.9" width="33.5" height="27" fill="#6666ff"/><rect x="1371.5" y="246.9" width="33.5" height="27" fill="#ffaaaa"/><rect x="1404.3" y="246.9" width="132" height="27" fill="#aaaaff"/><rect x="1535.7" y="246.9" width="33.5" height="27" fill="#6666ff"/><rect x="1568.5" y="246.9" width="33.5" height="27" fill="#0000e0"/><rect x="1601.3" y="246.9" width="33.5" height="27" fill="#6666ff"/><rect x="1634.2" y="246.9" width="33.5" height="27" fill="#aaaaff"/><rect x="1667" y="246.9" width="33.5" height="27" fill="#ddddff"/><rect x="1699.8" y="246.9" width="33.5" height="27" fill="#ffdddd"/><rect x="1765.5" y="246.9" width="33.5" height="27" fill="#ddddff"/><rect x="1108.8" y="273.2" width="33.5" height="27" fill="#ffdddd"/><rect x="1141.6" y="273.2" width="66.4" height="27" fill="#ffaaaa"/><rect x="1207.3" y="273.2" width="33.5" height="27" fill="#ff6666"/><rect x="1240.1" y="273.2" width="33.5" height="27" fill="#ffaaaa"/><rect x="1273" y="273.2" width="66.4" height="27" fill="#ff6666"/><rect x="1338.6" y="273.2" width="33.5" height="27" fill="#aaaaff"/><rect x="1371.5" y="273.2" width="33.5" height="27" fill="#6666ff"/><rect x="1404.3" y="273.2" width="132" height="27" fill="#aaaaff"/><rect x="1535.7" y="273.2" width="66.4" height="27" fill="#6666ff"/><rect x="1601.3" y="273.2" width="33.5" height="27" fill="#aaaaff"/><rect x="1634.2" y="273.2" width="33.5" height="27" fill="#ddddff"/><rect x="1141.6" y="299.4" width="66.4" height="27" fill="#ffdddd"/><rect x="1207.3" y="299.4" width="99.2" height="27" fill="#ffaaaa"/><rect x="1305.8" y="299.4" width="33.5" height="27" fill="#aaaaff"/><rect x="1338.6" y="299.4" width="33.5" height="27" fill="#6666ff"/><rect x="1371.5" y="299.4" width="66.4" height="27" fill="#aaaaff"/><rect x="1437.1" y="299.4" width="33.5" height="27" fill="#ffdddd"/><rect x="1470" y="299.4" width="230.5" height="27" fill="#ddddff"/><rect x="1174.5" y="325.7" width="33.5" height="27" fill="#ddddff"/><rect x="1207.3" y="325.7" width="99.2" height="27" fill="#ffdddd"/><rect x="1404.3" y="325.7" width="33.5" height="27" fill="#ffdddd"/><rect x="1108.8" y="352" width="33.5" height="27" fill="#ddddff"/><rect x="1207.3" y="352" width="33.5" height="27" fill="#ffaaaa"/><rect x="1240.1" y="352" width="33.5" height="27" fill="#ff6666"/><rect x="1273" y="352" width="33.5" height="27" fill="#aaaaff"/><rect x="1305.8" y="352" width="99.2" height="27" fill="#ffdddd"/><rect x="1207.3" y="378.2" width="66.4" height="27" fill="#ddddff"/><rect x="1108.8" y="404.5" width="33.5" height="27" fill="#ffaaaa"/><rect x="1141.6" y="404.5" width="33.5" height="27" fill="#ffdddd"/><rect x="1108.8" y="430.8" width="33.5" height="27" fill="#ddddff"/><rect x="1141.6" y="430.8" width="33.5" height="27" fill="#ffdddd"/><rect x="1108.8" y="457" width="33.5" height="27" fill="#aaaaff"/><rect x="1108.8" y="483.3" width="33.5" height="27" fill="#ddddff"/></g><rect x="1404.3" y="115.6" width="32.8" height="26.3" fill="url(#pfb)"/><rect x="1667" y="141.8" width="32.8" height="26.3" fill="url(#pfb)"/><rect x="1112.9" y="168.1" width="61.6" height="26.3" fill="url(#pfb)"/><rect x="1699.8" y="168.1" width="65.7" height="26.3" fill="url(#pfb)"/><rect x="1732.7" y="194.4" width="32.8" height="26.3" fill="url(#pfb)"/><rect x="1601.3" y="273.2" width="32.8" height="26.3" fill="url(#pfb)"/><rect x="1667" y="89.3" width="32.8" height="26.3" fill="url(#phb)"/><rect x="1371.5" y="115.6" width="32.8" height="26.3" fill="url(#phb)"/><rect x="1437.1" y="115.6" width="32.8" height="26.3" fill="url(#phb)"/><rect x="1371.5" y="141.8" width="98.5" height="26.3" fill="url(#phb)"/><rect x="1535.7" y="141.8" width="32.8" height="26.3" fill="url(#phb)"/><rect x="1601.3" y="141.8" width="65.7" height="26.3" fill="url(#phb)"/><rect x="1699.8" y="141.8" width="32.8" height="26.3" fill="url(#phb)"/><rect x="1174.5" y="168.1" width="65.7" height="26.3" fill="url(#phb)"/><rect x="1667" y="168.1" width="32.8" height="26.3" fill="url(#phb)"/><rect x="1765.5" y="168.1" width="32.8" height="26.3" fill="url(#phb)"/><rect x="1112.9" y="194.4" width="61.6" height="26.3" fill="url(#phb)"/><rect x="1798.3" y="194.4" width="32.8" height="26.3" fill="url(#phb)"/><rect x="1601.3" y="220.6" width="65.7" height="26.3" fill="url(#phb)"/><rect x="1601.3" y="246.9" width="32.8" height="26.3" fill="url(#phb)"/><rect x="1141.6" y="273.2" width="32.8" height="26.3" fill="url(#phb)"/><rect x="1207.3" y="273.2" width="32.8" height="26.3" fill="url(#phb)"/><path fill="none" stroke="#000" stroke-width="1.1" d="M1151.1 72.9h5.7M1153.9 70v5.7M1159.3 79.4h5.7M1162.2 76.6v5.7M1167.5 72.9h5.7M1170.4 70v5.7M1216.8 72.9h5.7M1219.6 70v5.7M1225 79.4h5.7M1227.8 76.6v5.7M1233.2 72.9h5.7M1236 70v5.7M1380.9 72.9h5.7M1383.8 70v5.7M1389.1 79.4h5.7M1392 76.6v5.7M1397.4 72.9h5.7M1400.2 70v5.7M1676.5 72.9h5.7M1679.3 70v5.7M1684.7 79.4h5.7M1687.5 76.6v5.7M1692.9 72.9h5.7M1695.7 70v5.7M1742.1 79.4h5.7M1745 76.6v5.7M1151.1 99.1h5.7M1153.9 96.3v5.7M1159.3 105.7h5.7M1162.2 102.9v5.7M1167.5 99.1h5.7M1170.4 96.3v5.7M1183.9 99.1h5.7M1186.8 96.3v5.7M1192.1 105.7h5.7M1195 102.9v5.7M1200.3 99.1h5.7M1203.2 96.3v5.7M1249.6 99.1h5.7M1252.4 96.3v5.7M1257.8 105.7h5.7M1260.7 102.9v5.7M1266 99.1h5.7M1268.9 96.3v5.7M1282.4 99.1h5.7M1285.3 96.3v5.7M1290.6 105.7h5.7M1293.5 102.9v5.7M1298.9 99.1h5.7M1301.7 96.3v5.7M1413.8 99.1h5.7M1416.6 96.3v5.7M1422 105.7h5.7M1424.8 102.9v5.7M1430.2 99.1h5.7M1433 96.3v5.7M1446.6 105.7h5.7M1449.5 102.9v5.7M1709.3 99.1h5.7M1712.1 96.3v5.7M1717.5 105.7h5.7M1720.3 102.9v5.7M1725.7 99.1h5.7M1728.6 96.3v5.7M1183.9 125.4h5.7M1186.8 122.6v5.7M1192.1 132h5.7M1195 129.1v5.7M1200.3 125.4h5.7M1203.2 122.6v5.7M1249.6 125.4h5.7M1252.4 122.6v5.7M1257.8 132h5.7M1260.7 129.1v5.7M1266 125.4h5.7M1268.9 122.6v5.7M1479.4 125.4h5.7M1482.3 122.6v5.7M1487.7 132h5.7M1490.5 129.1v5.7M1495.9 125.4h5.7M1498.7 122.6v5.7M1512.3 125.4h5.7M1515.1 122.6v5.7M1520.5 132h5.7M1523.3 129.1v5.7M1528.7 125.4h5.7M1531.5 122.6v5.7M1545.1 125.4h5.7M1548 122.6v5.7M1553.3 132h5.7M1556.2 129.1v5.7M1561.5 125.4h5.7M1564.4 122.6v5.7M1577.9 125.4h5.7M1580.8 122.6v5.7M1586.2 132h5.7M1589 129.1v5.7M1594.4 125.4h5.7M1597.2 122.6v5.7M1709.3 132h5.7M1712.1 129.1v5.7M1742.1 132h5.7M1745 129.1v5.7M1775 132h5.7M1777.8 129.1v5.7M1807.8 125.4h5.7M1810.6 122.6v5.7M1816 132h5.7M1818.9 129.1v5.7M1824.2 125.4h5.7M1827.1 122.6v5.7M1873.5 132h5.7M1876.3 129.1v5.7M1216.8 151.7h5.7M1219.6 148.8v5.7M1225 158.2h5.7M1227.8 155.4v5.7M1233.2 151.7h5.7M1236 148.8v5.7M1249.6 151.7h5.7M1252.4 148.8v5.7M1257.8 158.2h5.7M1260.7 155.4v5.7M1266 151.7h5.7M1268.9 148.8v5.7M1282.4 151.7h5.7M1285.3 148.8v5.7M1290.6 158.2h5.7M1293.5 155.4v5.7M1298.9 151.7h5.7M1301.7 148.8v5.7M1315.3 151.7h5.7M1318.1 148.8v5.7M1323.5 158.2h5.7M1326.3 155.4v5.7M1331.7 151.7h5.7M1334.5 148.8v5.7M1479.4 151.7h5.7M1482.3 148.8v5.7M1487.7 158.2h5.7M1490.5 155.4v5.7M1495.9 151.7h5.7M1498.7 148.8v5.7M1742.1 151.7h5.7M1745 148.8v5.7M1750.3 158.2h5.7M1753.2 155.4v5.7M1758.5 151.7h5.7M1761.4 148.8v5.7M1906.3 151.7h5.7M1909.1 148.8v5.7M1914.5 158.2h5.7M1917.4 155.4v5.7M1922.7 151.7h5.7M1925.6 148.8v5.7M1972 151.7h5.7M1974.8 148.8v5.7M1980.2 158.2h5.7M1983 155.4v5.7M1988.4 151.7h5.7M1991.2 148.8v5.7M1249.6 177.9h5.7M1252.4 175.1v5.7M1257.8 184.5h5.7M1260.7 181.7v5.7M1266 177.9h5.7M1268.9 175.1v5.7M1282.4 177.9h5.7M1285.3 175.1v5.7M1290.6 184.5h5.7M1293.5 181.7v5.7M1298.9 177.9h5.7M1301.7 175.1v5.7M1315.3 177.9h5.7M1318.1 175.1v5.7M1323.5 184.5h5.7M1326.3 181.7v5.7M1331.7 177.9h5.7M1334.5 175.1v5.7M1610.8 177.9h5.7M1613.6 175.1v5.7M1619 184.5h5.7M1621.8 181.7v5.7M1627.2 177.9h5.7M1630.1 175.1v5.7M1183.9 204.2h5.7M1186.8 201.4v5.7M1192.1 210.8h5.7M1195 207.9v5.7M1200.3 204.2h5.7M1203.2 201.4v5.7M1282.4 204.2h5.7M1285.3 201.4v5.7M1290.6 210.8h5.7M1293.5 207.9v5.7M1298.9 204.2h5.7M1301.7 201.4v5.7M1709.3 204.2h5.7M1712.1 201.4v5.7M1717.5 210.8h5.7M1720.3 207.9v5.7M1725.7 204.2h5.7M1728.6 201.4v5.7M1775 204.2h5.7M1777.8 201.4v5.7M1783.2 210.8h5.7M1786 207.9v5.7M1791.4 204.2h5.7M1794.2 201.4v5.7M1840.6 204.2h5.7M1843.5 201.4v5.7M1848.8 210.8h5.7M1851.7 207.9v5.7M1857 204.2h5.7M1859.9 201.4v5.7M1315.3 230.5h5.7M1318.1 227.6v5.7M1323.5 237h5.7M1326.3 234.2v5.7M1331.7 230.5h5.7M1334.5 227.6v5.7M1446.6 237h5.7M1449.5 234.2v5.7M1676.5 230.5h5.7M1679.3 227.6v5.7M1684.7 237h5.7M1687.5 234.2v5.7M1692.9 230.5h5.7M1695.7 227.6v5.7M1742.1 237h5.7M1745 234.2v5.7M1807.8 230.5h5.7M1810.6 227.6v5.7M1816 237h5.7M1818.9 234.2v5.7M1824.2 230.5h5.7M1827.1 227.6v5.7M1216.8 256.7h5.7M1219.6 253.9v5.7M1225 263.3h5.7M1227.8 260.5v5.7M1233.2 256.7h5.7M1236 253.9v5.7M1249.6 263.3h5.7M1252.4 260.5v5.7M1413.8 263.3h5.7M1416.6 260.5v5.7M1577.9 256.7h5.7M1580.8 253.9v5.7M1586.2 263.3h5.7M1589 260.5v5.7M1594.4 256.7h5.7M1597.2 253.9v5.7M1643.6 256.7h5.7M1646.5 253.9v5.7M1651.8 263.3h5.7M1654.7 260.5v5.7M1660 256.7h5.7M1662.9 253.9v5.7M1807.8 256.7h5.7M1810.6 253.9v5.7M1816 263.3h5.7M1818.9 260.5v5.7M1824.2 256.7h5.7M1827.1 253.9v5.7M1183.9 283h5.7M1186.8 280.2v5.7M1192.1 289.6h5.7M1195 286.7v5.7M1200.3 283h5.7M1203.2 280.2v5.7M1282.4 283h5.7M1285.3 280.2v5.7M1290.6 289.6h5.7M1293.5 286.7v5.7M1298.9 283h5.7M1301.7 280.2v5.7M1479.4 289.6h5.7M1482.3 286.7v5.7M1545.1 283h5.7M1548 280.2v5.7M1553.3 289.6h5.7M1556.2 286.7v5.7M1561.5 283h5.7M1564.4 280.2v5.7M1577.9 283h5.7M1580.8 280.2v5.7M1586.2 289.6h5.7M1589 286.7v5.7M1594.4 283h5.7M1597.2 280.2v5.7M1643.6 283h5.7M1646.5 280.2v5.7M1651.8 289.6h5.7M1654.7 286.7v5.7M1660 283h5.7M1662.9 280.2v5.7M1249.6 309.3h5.7M1252.4 306.4v5.7M1257.8 315.8h5.7M1260.7 313v5.7M1266 309.3h5.7M1268.9 306.4v5.7M1413.8 315.8h5.7M1416.6 313v5.7M1577.9 315.8h5.7M1580.8 313v5.7M1151.1 388.1h5.7M1153.9 385.2v5.7M1159.3 394.7h5.7M1162.2 391.8v5.7M1167.5 388.1h5.7M1170.4 385.2v5.7"/>
<g transform="translate(1112.9,66.3)" fill="none" stroke="#000" stroke-width="2.3" stroke-linejoin="round" stroke-linecap="round">
<polyline points="1.7,275.3 10.1,270.2 16.5,263.8 21.6,260"/>
<polyline points="92.9,258.7 91.7,261.8 84,263.8 72.6,267.9 59.8,266.9 50.9,268.9 50.9,276.5 54.7,282.9 58.5,289.3 62.9,296.9 70,299 64.9,303.3 59.8,308.4 59.3,314.8 61.1,318.6 57.3,324.5 49.6,328.8 44.5,332.6 38.1,339 31.8,344.1 26.7,347.9 19,353 10.1,355 3.7,356.8 0.7,358.1"/>
<polyline points="1.7,378.5 7.6,387.4 12.7,396.3 14.4,401.4 11.4,405.2 6.3,411.6 3.2,419.3 1.7,426.9"/>
<polyline points="1.2,448.6 10.1,450.3 21.6,446.8 28.7,441.7 30.5,434.5 31.8,430 38.1,431 34.3,437.1 35.6,454.9 36.9,470.2 40.7,485.5 44.5,500.8 48.3,513.5 52.2,523.7"/>
<polyline points="103.1,258.7 109.5,264.3 113.8,271.4 116.4,276.5"/>
<polyline points="135,258.7 128.6,264.3 123.5,270.2 116.4,276.5"/>
<polyline points="116.4,276.5 115.9,280.4 112.1,286.7 110.3,294.4 113.8,299.5 115.4,309.7 121,312.2 128.6,317.3 136.3,321.1 142.6,325 146.5,327"/>
<polyline points="146.5,326.2 152.8,323.7 161.8,327.5 174.5,333.1 186,338.2 200,344.1 212.7,353.5 225.5,355.5 238.2,355.5 245.3,354.3 246.4,361.9 243.3,368.3 237.7,374.7 225.5,375.4 212.7,372.6 200,368.8 187.2,361.1 171.9,358.6 159.2,353.5 146.5,348.4 135,343.3 131.7,340.8 135.8,332.6 140.1,328 146.5,326.2"/>
<polyline points="245.3,354.3 253.5,355 263.7,351 273.9,353.5 284.1,355 287.9,358.1 290.4,365.7 288.7,368.8 276.4,369.8 263.7,370.8 250.9,368.8 248.4,364.5 246.4,361.9"/>
<polyline points="289.2,368.8 301.9,368.3 313.4,364.5 319.8,359.4 330,354.3 340.1,351.7 350.3,355.5 354.2,361.9 355.9,365.7"/>
<polyline points="237.7,374.7 240.8,376.4 247.1,375.4 250.9,377.2 257.3,378.5 259.9,386.1 262.4,391.2 276.4,391.2 291.7,393.3 294.3,396.3 286.6,405.2 279,410.3 280.3,418 284.1,419.3 289.2,411.6 293,414.2 294.3,424.4 295.5,434.5 296.8,442.2"/>
<polyline points="240.8,373.4 239.5,381 244.6,388.7 248.4,389.9 240.8,396.3 236.9,397.6 242,405.2 244.6,414.2 247.1,421.8 249.7,432 250.9,434.5"/>
<polyline points="133.7,523.7 149,505.9 161.8,498.3 174.5,488.1 189.8,475.3 207.6,462.6 217.8,457.5 221.6,447.3 222.9,440.2 235.7,434.5 240.8,437.1 250.9,434.5 263.7,432 273.9,425.6 281.5,424.9 285.4,428.2 289.2,437.1 294.3,447.3 301.9,456.2 309.6,462.6 313.4,472.8 318.5,480.4 321,493.2 319.2,511 326.1,513.5 335,511 345.2,503.4 351.6,494.4 355.4,498.3 359.3,505.9 363.1,513.5 365.6,523.7"/>
<polyline points="296.8,434.5 301.9,426.9 305.7,419.3 308.3,409.1 315.9,406.5 319.8,397.6 324.9,388.7 328.7,378.5 332.5,372.1 340.1,367 349.1,363.2 355.4,363.2"/>
<polyline points="477.1,264.6 479,267.9 481.7,271.8 479.7,275.7 480.4,281.6 475.8,281 471.2,283 469.2,284.9 470.5,288.2 467.9,290.2 464,290.8 460,292.8 456.1,293.4"/>
<polyline points="470.5,289.5 477.1,292.1 484.9,292.8 488.9,295.4 494.1,296.7 499.4,299.3 504.6,298.7 509.9,302 515.1,304.6 520.3,305.2 524.3,308.5 526.9,310.5 526.9,316.4 523,317.7 519,319 513.8,320.3 508.5,321 504.6,322.9 505.3,326.9 504.6,330.8 508.5,334.7 512.5,338.7 515.1,342.6"/>
<polyline points="517.7,285.6 524.3,285.6 529.5,286.2 538,285.6"/>
<polyline points="528.2,264.6 530.2,269.2 532.8,274.4 534.8,279.7 538,285.6 542.6,291.5 547.9,295.4 554.4,297.4 561,296.7 567.5,296.7 572.8,297.4 574.1,302 578,304.6 584.6,307.2 588.5,308.5 593.8,307.9 597.7,311.1 602.9,313.8 604.3,316.4 601.6,319 603.6,324.3 605.6,330.8"/>
<polyline points="518.4,286.2 521.7,288.2 526.2,290.8 527.6,293.1 523,294.1 519,296.1 520.3,300.7 520.3,304.6"/>
<polyline points="596.4,265.3 602.9,266.6 606.9,268.5 609.5,271.8 610.8,277.1 606.9,275.7 600.3,275.1 597.7,278.4 595.1,283.6 589.2,286.9 592.5,291.5 595.1,294.1 600.3,294.8 602.9,296.7 601.6,303.3 596.4,307.2"/>
<polyline points="610.8,266.6 613.4,269.8 620,273.1 626.6,275.7 630.5,279 630.5,283.6 633.1,287.5 638.4,291.5 642.3,289.5 645.6,291.5 644.9,294.8 641,295.4 637,298 635.1,303.3 637,307.2 638.4,311.1 642.3,312.5 648.8,313.8 652.8,312.5 658,315.1 662,316.4 668.5,315.1 679,316.4 681.6,317.7"/>
<polyline points="646.2,265.3 655.4,269.2 660.6,271.8 663.3,278.4 665.9,284.9 668.5,291.5 671.1,295.4 677.7,300.7 681.6,304.6 682.3,311.1 679.7,316.4"/>
<polyline points="658,302 663.3,301.3 668.5,303.3 676.4,305.9 681,309.2"/>
<polyline points="659.3,325.6 665.9,324.3 672.4,322.9 679,325.6 684.9,324.3"/>
<polyline points="684.9,321.6 683.2,330.8 679.7,337.4 676.6,343.9 672.7,350.5 668.8,355.7 663.5,361.2 658.3,367.5 653,371.7 652.8,379.6 650.2,384.8 643.9,390.1 637.3,395.3 630.7,400.6 624.2,405.8 617.6,412.1 611.1,416 604.5,418.9 598,421.5 590.1,422.9 582.2,426.8 577,428.1 571.7,425.2 569.1,429.2 563.9,431.8 558.6,434.4 550.8,437 541.6,439.9 535,442.5 531.1,445.1 529.5,447.8 531.5,451.7 532.1,455.4 529.5,458 525.6,458 523,454.1 521.7,448.8 523,442.3 524.3,438.6 520.3,439.9 517.7,441 511.2,439.6 507.2,437.3 500.7,438.6 495.4,441.2 491.5,443.8 486.3,447.8 482.3,450.4 478.4,454.3 475.8,458.3 473.1,460.9 470.5,464.8 468.6,471.4 469.2,475.3 473.1,479.2 478.4,483.2 481,489.7 484.9,495 490.5,500.2 493.1,506.8 498.3,510.7 504.9,515.9 508.5,520.9 511.2,526.7"/>
<polyline points="507.2,468.5 511.2,464.6 517.7,461.3 525.6,460 533.5,459.3 538,461.3 538.7,465.9 534.8,471.1 532.1,475 529.5,479 524.3,481.6 519,482.9 513.8,481.6 508.5,479 507.2,473.7 507.2,468.5"/>
<polyline points="456.1,475 462,477 464,481.6 467.9,488.2 470.5,492.1 475.8,497.3 479,502.6 481,506.5 484.9,510.4 488.9,514.4 491.5,519.6 494.8,526.7"/>
<polyline points="456.1,492.1 457.4,498.6 461.3,505.2 465.3,510.4 467.9,515.7 467.2,526.7"/>
<polyline points="456.1,418.7 461.3,416 466.6,417.3 470.5,421.3 475.8,421.3 481,422.6 482.3,429.2 484.3,434.4 490.2,437.7 495.4,437.7 505.9,435.1 512.5,438.3 519,439.6 523,439"/>
<polyline points="456.1,401.6 461.3,401 466.6,405.5 473.1,406.9 475.1,410.8 473.1,413.4 469.2,414.7 465.9,417.3 464,418"/>
<polyline points="515.1,338.7 517.7,334.7 524.3,333.4 532.1,332.1 534.8,328.2 541.3,328.2 547.9,330.8 554.4,333.4 561,332.1 564.9,334.1 570.2,330.8 572.8,334.7 574.1,340"/>
<polyline points="574.1,340 579.3,342.6 580.7,349.2 576.7,353.1 572.8,358.3 571.5,362.3 574.1,366.2 575.4,372.8 578,379.3 576.7,387.2 577.4,389.8"/>
<polyline points="515.1,338.7 515.8,343.9 515.8,350.5 517.7,358.3 515.1,362.3 509.9,366.2 513.8,368.8 517.7,368.8 519,372.8 517.7,376.7 519,380.6"/>
<polyline points="519,380.6 524.3,378.7 529.5,379.3 534.8,376.7 540,377.4 542.6,380.6 542.6,384.6 540,388.5 538,393.7 542.6,396.4 547.9,397.7 551.8,396.4 554.4,392.4 561,392.4 564.9,389.8 570.2,387.8 576.7,388.5 582,388.5 585.9,389.8 585.9,393.7 580.7,396.4 582,400.3 587.2,400.3 593.8,397.7 600.3,399"/>
<polyline points="579.3,338 587.2,336.1 593.8,334.1 600.3,330.8 605.6,330.8 612.1,328.2 614.7,332.1 620,330.8 623.9,333.4 631.8,334.7"/>
<polyline points="631.8,334.7 630.5,338.7 633.1,343.9 635.7,349.2 637,351.8 631.8,353.1 626.6,355.7 620,357 617.4,359.7 617.4,366.2 613.4,368.8 610.8,372.8 608.2,379.3 605.6,384.6 602.9,391.1 601.6,395.1 600.3,399"/>
<polyline points="637,351.8 639.7,358.3 642.3,362.3 647.5,361 652.8,363.6 658,363.6 660.6,364.9"/>
<polyline points="601.6,395.1 606.9,396.4 613.4,397.7 616.1,402.9 618.7,410.8"/>
<polyline points="553.1,397.7 551.8,402.9 547.9,409.5 543.9,414.7 542.6,421.3 537.4,425.2 534.8,429.2 530.8,431.8 526.9,434.4 524.3,437"/>
<polyline points="519,380.6 512.5,383.3 508.5,385.9 503.3,387.2 499.4,389.8 494.1,391.1 490.2,388.5 486.9,386.5 484.9,389.8 482.3,391.1 474.5,393.7 471.8,396.4 466.6,395.1 461.3,393.7 456.1,391.1"/>
<polyline points="462.7,334.1 467.9,326.9 471.8,324.3 478.4,325.6 483.6,326.9 487.6,322.9 491.5,317.7 495.4,316.4 498.1,313.8 500.7,309.8 504.6,305.9"/>
<polyline points="462.7,334.1 466.6,340 470.5,343.9 475.8,347.9 482.3,346.5 486.3,343.9 490.2,342.6 494.1,340 498.1,340.6 502,341.3 505.9,347.9 509.9,351.8 513.8,351.8 515.8,350.5"/>
<polyline points="456.1,355.7 460,354.4 462.7,357 461.3,361 456.1,362.3"/>
<polyline points="658,414.7 662,406.9 668.5,397.7 673.8,392.4 679,389.8 682.9,393.7 681.6,400.3 679,409.5 676.4,418.7 672.4,426.5 668.5,431.8 667.2,434.4 664.6,429.2 660.6,426.5 658.7,421.3 658,414.7"/>
<polyline points="656.7,526.7 654.7,519.6 654.1,511.8 656.7,507.8 660.6,510.4 662,505.2 663.3,494.7 664.6,481.6 668.5,477.7 673.8,479 679,480.3 686.1,481.6"/>
<polyline points="676.4,526.7 679,519.6 686.1,514.4"/>
<polyline points="724.1,274.4 732,271.8 738.5,269.8 745.1,266.8 754.3,264.2 764.8,261.6 777.9,258.7"/>
<polyline points="733.3,273.1 735.9,267.9 741.2,263.9"/>
<polyline points="737.2,284.9 741.2,282.3 747.1,282 747.7,284.3 742.5,286.2 737.2,284.9"/>
<polyline points="780.5,284.9 788.4,282.3 794.9,278.4 800.2,275.7 804.1,278.4 809.3,283.6 813.3,288.9 810.7,294.1 808,300.7 806.7,308.5 801.5,312.5 796.2,315.1 791,311.1 789.7,302 787.1,296.7 783.1,291.5 780.5,284.9"/>
<polyline points="770,294.1 773.9,290.2 777.9,286.2"/>
<polyline points="798.9,270.5 804.1,269.2 810.7,266.6 817.2,262.6 822.5,258.7"/>
<polyline points="798.9,273.1 804.1,275.7 810.7,277.1 817.2,273.1 823.8,270.5 832.9,269.2 843.4,266.6 850,265.3 856.6,266.6 859.2,269.2"/>
<polyline points="817.2,284.9 821.1,278.4 830.3,275.7 836.9,274.4 843.4,271.8 848.7,273.1 850,277.1 843.4,281 842.1,284.9 836.9,283.6 830.3,284.9 827.7,291.5 823.8,292.8 819.8,288.9 817.2,284.9"/>
<polyline points="856.6,266.6 856.6,274.4 861.8,282.3 864.4,281 869.7,274.4 872.3,271.8 877.5,270.5 880.2,267.9 888,266.6 895.9,266.6 901.1,262.6 906.4,261.3 911.6,258.7"/>
<polyline points="874.9,263.9 877.5,261.3 880.2,263.9"/>
<polyline points="783.6,305.9 785.2,306.2"/>
<polyline points="779.7,313.8 781.3,314"/>
<polyline points="786.3,317.7 787.8,318"/>
<polyline points="794.1,320.3 795.7,320.6"/>
<polyline points="800.7,319 802.3,319.3"/>
<polyline points="785,329.5 786.5,329.8"/>
<polyline points="782.3,334.7 783.9,335"/>
<polyline points="777.1,338.7 778.7,338.9"/>
<polyline points="774.5,343.9 776,344.2"/>
<polyline points="782.3,349.2 783.9,349.4"/>
<polyline points="786.9,350.5 788.5,350.7"/>
<polyline points="777.1,353.1 778.7,353.4"/>
<polyline points="773.2,358.3 774.7,358.6"/>
<polyline points="769.2,362.3 770.8,362.5"/>
<polyline points="764,356.4 765.6,356.6"/>
<polyline points="764,367.5 765.6,367.8"/>
<polyline points="760,372.8 761.6,373"/>
<polyline points="757.4,378 759,378.3"/>
<polyline points="750.9,378 752.4,378.3"/>
<polyline points="744.3,375.4 745.9,375.7"/>
<polyline points="702.4,383.3 703.9,383.5"/>
<polyline points="715.5,381.9 717,382.2"/>
<polyline points="694.5,401 696.1,401.2"/>
<polyline points="705,402.9 706.6,403.2"/>
<polyline points="711.5,400.3 713.1,400.6"/>
<polyline points="717.4,397.7 719,397.9"/>
<polyline points="726,396.4 727.5,396.6"/>
<polyline points="803.3,382.6 804.9,382.9"/>
<polyline points="802.7,401 804.2,401.2"/>
<polyline points="866.9,454.1 868.5,454.3"/>
<polyline points="765.3,302 766.9,302.2"/>
<polyline points="723.3,275.1 724.9,275.4"/>
<polyline points="727.3,273.1 728.8,273.4"/>
<polyline points="777.1,270.5 778.7,270.8"/>
<polyline points="779.7,267.9 781.3,268.1"/>
<polyline points="908.2,271.8 909.8,272.1"/>
<polyline points="910.8,275.7 912.4,276"/>
<polyline points="913.5,282.3 915,282.6"/>
<polyline points="12.8,2.5 15.4,4.5 13.5,8.3 16.7,10.3 21.8,9 27,8.3 30.8,11.5 34.7,12.8 39.8,12.2 45,13.5 48.9,12.8 45,16.7 43.7,19.9 50.1,19.3 56.6,19.3 63,15.4 68.2,12.8 73.3,10.9 79.7,9 86.2,7.7 91.3,7 90,9 84.9,10.3 83.6,11.5 88.7,14.1 96.5,18 102.9,21.8 108,27 114.5,34.7 120.9,43.7 126.1,50.1 131.2,55.3 135.1,52.7 137.6,49.5 141.5,48.9 144.1,50.1 146.6,52.7 150.5,55.3 156.9,55.9 163.4,55.3 169.8,52.7 176.2,52.7 182.7,55.3 186.5,59.1 189.1,61.7 194.3,63 198.1,66.9 200.7,70.1 208.4,70.7 214.8,69.4 218.7,68.2 221.3,70.7 223.8,73.3 227.1,75.9"/>
<polyline points="227.1,78.4 222.6,79.7 220,82.3 214.8,84.9 207.1,86.2 204.5,91.3 205.8,97.7 204.5,101.6 199.4,102.9 194.3,105.5 189.1,104.2 178.8,104.2 172.4,102.9 171.1,108 168.5,114.5 164.7,120.9 162.1,124.8 165.9,126.1 163.4,128.6 156.9,127.3 150.5,128.6 144.1,129.9 137.6,131.2 131.2,131.2 128.6,132.5 135.1,135.1 136.3,140.2 137.6,145.4 138.9,150.5 141.5,155.6 137.6,158.2 136.3,163.4 133.8,165.9 135.1,168.5 131.2,169.8 122.2,172.4 114.5,175 108,178.8 104.2,182.7 96.5,184 90,185.2 86.2,189.1 83.6,191.7 79.7,189.1 73.3,187.8 68.2,189.1 63,190.4 56.6,193 51.4,195.5 50.1,199.4 48.9,204.5 48.9,208.4 51.4,213.6 55.3,214.8 60.4,214.8 63,217.4 64.3,222.6 66.2,227.7 68.2,230.3 63,231.6"/>
<polyline points="45,119.6 47.6,114.5 52.7,111.9 60.4,109.3 68.2,108 78.4,107.4 86.2,108 93.9,108.7 101.6,109.3 109.3,109.3 115.8,108 120.9,109.3 119.6,111.9 111.9,113.2 105.5,113.2 96.5,111.9 86.2,111.3 75.9,110.6 68.2,110.6 60.4,111.9 56.6,114.5 54,119.6 52.7,124.8 53.4,131.2 50.1,128.6 46.3,124.8 45,119.6"/>
<polyline points="1.2,175 7.7,168.5 12.8,162.1 19.3,159.5 28.3,159.5 36,162.1 43.7,163.4 46.3,158.2 50.1,155.6 55.3,154.4 63,156.9 68.2,158.9 75.9,158.9 83.6,158.2 91.3,157.6 99,158.2 106.8,158.9 114.5,158.9 120.9,160.2 126.1,162.7 131.2,164.7 134.4,167.2"/>
<polyline points="1.2,176.2 9,177.5 15.4,178.8 21.8,176.2 25.7,177.5 29.6,180.1 34.7,182.7 41.1,185.2 36,186.5 30.8,187.8 25.7,190.4 21.8,193 15.4,193 9,191.7 3.8,190.4 1.2,186.5"/>
<polyline points="1.2,202 9,202.6 15.4,203.3 21.8,204.5 28.3,207.1 34.7,205.8 41.1,203.3 48.9,203.3"/>
<polyline points="1.2,221.3 6.4,217.4 11.5,216.1 15.4,217.4 18,220 19.3,227.7 20.5,234.1 21.8,238 28.3,235.4 34.7,232.9 42.4,231.6 47.6,230.9 54,231.6 60.4,231.6 65.6,232.9"/>
<polyline points="15.4,250.9 21.8,247 29.6,244.4 37.3,241.9 45,240.6 52.7,240.6 60.4,241.9 68.2,243.1 73.3,244.4 78.4,248.3 81,253.4 86.2,257.3 91.3,259.9"/>
<polyline points="19.3,252.2 20.5,259.9"/>
<polyline points="135.1,259.9 142.8,257.3 150.5,256 158.2,253.4 164.7,252.2 171.1,253.4 178.8,252.2 186.5,249.6 194.3,247 202,245.7 208.4,244.4 214.8,243.1 221.3,241.9 227.1,241.2"/>
<polyline points="226.1,76.5 232.5,75.9 239,73.3 245.4,72 251.8,70.7 257,68.2 258.3,66.2 264.7,64.3 271.1,61.7 273.7,59.1 280.1,57.9 285.3,55.9 293,54.6 298.2,55.9 303.3,57.2 311,57.9 318.7,57.9 321.3,61.7 323.9,64.3 329,66.2 336.8,66.2 344.5,66.2 349.6,66.2 357.3,68.2 362.5,66.9 367.6,64.3 371.5,60.4 371.5,56.6 367.6,54 365.1,51.4 366.3,47.6 370.2,43.7 375.4,41.1 379.2,37.3 385.6,39.8 393.4,41.8 401.1,43.1 408.8,45 416.5,46.3 421.7,47.6 423,52.7 424.3,56.6 428.1,59.1 434.5,61.1 442.3,63 447.4,61.7 452.6,60.4 457.1,59.1"/>
<polyline points="457.1,41.1 447.4,42.4 442.3,43.7 447.4,45.3 457.1,45.6"/>
<polyline points="232.5,78.4 233.8,81 239,84.9 245.4,88.7 251.8,91.3 258.3,93.2 263.4,95.2 267.3,99 271.1,102.9 275,106.8 276.3,111.9 274.4,117 272.4,122.2 273.7,127.3 280.1,129.3 290.4,130.6 300.7,131.2 307.2,132.5 313.6,134.4 318.7,137 326.5,139.6 332.9,140.9 335.5,144.1 339.3,150.5 343.2,156.9 347,160.8"/>
<polyline points="347,160.8 354.8,160.8 367.6,161.4 380.5,162.1 393.4,162.1 406.2,162.7 416.5,164.7 424.3,167.2 432,169.8 439.7,171.7 447.4,172.4 457.1,173"/>
<polyline points="347,160.8 341.9,163.4 340.6,169.8 335.5,172.4 326.5,173.7 320,177.5 316.2,181.4 312.3,185.2 311,189.1 305.9,190.4 300.7,191.7 299.4,199.4 300.7,205.8"/>
<polyline points="356.1,162.1 359.9,168.5 363.8,175 366.3,178.8 365.1,181.4 367.6,185.2 371.5,186.5 372.8,189.1 377.9,186.5 384.4,185.2 390.8,184 394.7,185.2 395.9,189.1 392.1,193 388.2,196.8 393.4,199.4 398.5,200.7 403.7,203.3 406.2,207.1 408.8,209.7 412.7,211 417.8,209.7 425.5,208.4 432,207.1 439.7,205.8 444.8,204.5 447.4,207.1 446.1,212.3 442.3,214.8 439.7,218.7 444.8,222.6 450,226.4 457.1,227.7"/>
<polyline points="264.7,217.4 277.6,213.6 290.4,211 303.3,208.4 309.7,207.1 318.7,205.8 329,208.4 336.8,212.3 345.8,216.1 353.5,218.7 354.8,212.3 357.3,208.4 362.5,209.7 367.6,211 374.1,209.7 380.5,212.3 386.9,214.8 393.4,217.4 395.9,216.1 401.1,220 406.2,222.6 411.4,225.1 416.5,227.7 419.1,226.4 421.7,231.6 426.8,235.4 429.4,238 432,243.1 430.7,248.3 426.8,253.4 425.5,259.9"/>
<polyline points="264.7,217.4 267.3,221.3 271.1,225.1 275,227.7 277.6,231.6 280.1,235.4 275,236.7 273.7,240.6 275,245.7 272.4,247 264.7,245.7 257,247 249.3,247.6 239,245.7 226.1,248.3"/>
<polyline points="255.7,249.6 258.3,259.9"/>
<polyline points="456.1,41.1 462.5,38.6 469,34.7 475.4,32.1 481.8,27 489.6,21.8 497.3,19.3 503.7,14.1 507.6,9 510.1,3.8 511.4,1.2"/>
<polyline points="456.1,46.9 463.8,45 471.5,42.4 476.7,37.3 481.8,33.4 489.6,29.6 497.3,25.7 505,21.8 510.1,18 516.6,14.1 519.1,10.3 519.8,5.1 521.1,1.2"/>
<polyline points="483.1,26.3 489.6,23.1 496,21.2"/>
<polyline points="456.1,60.4 462.5,59.1 469,59.8 479.3,60.4 485.7,63 496,65.6 499.8,70.7 507.6,73.9 517.9,74.6 524.3,75.9 530.7,75.2 539.7,73.3 548.7,72 559,70.7 565.5,68.2 571.9,64.3 578.3,62.4 584.8,61.7 591.2,64.3 597.6,66.9 605.4,65.6 611.8,66.9 618.2,69.4 627.2,70.7 633.7,68.2 638.8,65.6 644,64.3 647.8,61.7"/>
<polyline points="647.8,61.7 649.1,56.6 653,51.4 658.1,46.3 662,42.4 665.8,38.6 665.8,33.4 662,30.8 657.5,29.6 662,25.7 668.4,21.8 677.4,20.5 687.1,19.3"/>
<polyline points="672.3,30.8 677.4,32.8 682.6,34.7 687.1,33.4"/>
<polyline points="456.1,175 469,169.8 481.8,165.9 494.7,163.4 507.6,162.1 517.9,159.5 528.2,155.6 535.9,151.8 543.6,149.2 551.3,145.4 548.7,141.5 544.9,137.6 546.2,132.5 551.3,129.9 559,131.2 566.8,133.8 574.5,132.5 582.2,128.6 592.5,124.8 598.9,123.5 604.1,120.9 607.9,117 613.1,113.2 619.5,110.6 627.2,109.3 636.2,107.8 644,106.8 649.1,108 653,106.8 654.3,102.9 651.7,99 646.5,96.5 641.4,93.9 636.2,92 631.1,91.3 625.9,92.6 620.8,96.5 613.1,95.2 606.6,96.5 601.5,95.2 597.6,91.3 598.9,86.2 602.8,83.6 605.4,78.4 607.9,73.3 611.8,66.9"/>
<polyline points="686.1,19.5 693.9,18.9 703,19.5 712.1,22.1 721.3,23.4 729.1,25.4 735.6,28.6 739.5,33.9 743.4,41.7 748.6,49.5 752.5,57.3 755.1,65.1 759,69 766.8,71 777.2,72.3 785,75.5 792.9,79.4 796.8,82 796.8,87.2 800.7,95 809.8,95 820.2,94.4 826.7,91.1 835.8,88.5 842.3,87.2 848.8,87.2 850.1,93.7 846.2,99 842.3,101.6 839.7,109.4 837.1,115.9 831.9,122.4 828,127.6 824.1,132.8 820.2,135.4 816.3,131.5 815,127.6 816.3,126.3 821.5,126.3 824.1,128.9"/>
<polyline points="815,126.9 811.1,127.6 807.2,130.2 800.7,132.8 802,139.3 803.3,145.8 804.6,152.3 800.7,156.2"/>
<polyline points="792.9,162.7 798.1,158.8 805.9,156.2 813.7,154.9 818.9,153.6 822.8,160.1 829.3,161.4 838.4,158.8 846.2,154.9 855.4,149.7 860.6,144.5 868.4,136.7 876.2,130.2 884,123.7 891.8,117.2 897,110.7 902.2,102.9 907.4,95 912.6,89.8 921.1,85.9"/>
<polyline points="686.1,32.6 691.3,35.2 692.6,40.4 695.2,47.5 703,48.8 712.1,47.5 718.6,45.6 725.2,44.3 730.4,47.5 735.6,52.1 731.7,57.3 727.8,61.2 725.2,66.4 724.5,71.6 725.2,76.2 717.3,82 714.7,85.9 715.4,89.8 712.1,87.2 708.2,88.5 701.7,92.4 693.9,96.3 688.7,99 687.4,101.6 691.3,102.9 696.5,105.5 699.1,109.4 696.5,112"/>
<polyline points="699.1,108.1 703,110.7 706.9,115.9 708.2,121.1 714.7,123.7 722.6,125 730.4,126.3 735.6,128.9 744.7,128.9 751.2,135.4 759,143.2 765.5,138 769.4,143.2 774.6,149.7 783.7,145.8 790.3,144.5 794.2,149.7 800.7,151 804.6,152.3"/>
<polyline points="761.7,171.2 756.4,175.8 751.2,175.8 746,173.2 740.8,175.8 735.6,178.4 730.4,182.3 725.2,186.2 720,191.4 716,196.6 714,199.6"/>
<polyline points="761.7,171.2 764.2,168 770.7,168 777.2,165.4 782.4,162.7 786.3,158.8 791.6,160.1 796.8,161.4 800.7,156.2"/>
<polyline points="686.1,204.4 693.9,202.5 703,199.2 709.5,198.6 714,199.6 718.6,201.8 723.9,204.4 729.1,209.6 727.8,216.1 721.3,221.3 718.6,225.2 725.2,229.1 733,230.4 740.8,229.1 743.4,233.1 742.1,240.9 739.5,250 740.8,259.7"/>
<polyline points="800.7,156.2 796.8,162.7 790.3,165.4 785,169.3 783.7,175.8 782.4,181 777.2,184.9 772,188.8 764.2,192.7 757.7,196.6 753.8,199.2 755.1,207 759,210.9 764.2,214.8 766.8,220 772,225.2 777.2,230.4 779.8,237 781.8,243.5 782.4,251.3 779.8,259.7"/>
<polyline points="742.1,220 747.3,217.4 756.4,216.1 764.2,214.8"/>
<polyline points="686.1,158.8 693.9,156.2 703,152.3 712.1,154.9 718.6,154.9 723.9,161.4 727.8,169.3 731,178.4 729.1,183.6"/>
<polyline points="855.4,2.6 863.2,3.9 871,3.9 876.2,7.8 876.2,15.6 882.7,15.6 885.3,18.2 894.4,18.2 900.9,14.3 904.8,9.1 910,9.1 917.8,7.8"/>
<polyline points="894.4,223.9 899.6,220 907.4,217.4 913.9,212.2 917.8,207"/>
<polyline points="874.9,233.1 878.8,230.4 884,229.1 889.2,230.4 894.4,227.8 900.9,225.2 907.4,221.3"/>
<polyline points="821.5,259.7 829.3,255.2 839.7,253.9 850.1,252.6 859.3,251.3 865.8,246.1 871,240.9 874.9,235.7 876.2,231.8"/>
<polyline points="798.6,229.8 800.1,230.1"/>
<polyline points="828.5,248 830.1,248.3"/>
<polyline points="897.5,222.6 899.1,222.9"/>
<polyline points="911.9,169.3 913.4,169.5"/>
<polyline points="910.6,177.1 912.1,177.3"/>
<polyline points="914.5,197.9 916,198.2"/>
<polyline points="915.8,186.2 917.3,186.4"/>
<polyline points="906.6,250 908.2,250.2"/>
<polyline points="359.4,278.4 360.7,284.9 359.4,290.2 360.7,294.1"/>
<polyline points="359.4,278.4 364.6,276.4 371.2,277.1 376.4,283 379.7,286.9 385.6,290.2 390.9,291.5 393.5,289.5 397.4,293.1 401.3,296.1 407.9,293.1 409.9,288.9 415.8,286.9 421,284.3 424.9,282.3 424.9,279.7 422.3,275.7"/>
<polyline points="404,271.8 407.9,271.2 415.8,273.1 421,271.8 422.3,269.2 418.4,266.6 419.7,264.6"/>
<polyline points="422.3,275.7 427.6,273.1 431.5,271.8 435.4,275.7 440.7,278.4 447.2,279.7 449.9,284.9 451.2,290.2 456.4,292.8 463,291.5 467,290.8"/>
<polyline points="337.1,304.6 343.7,305.9 350.2,303.3 356.8,300.7 360.7,295.4 367.3,295.4 372.5,300.7 376.4,308.5 379.1,313.8 380.4,321.6 381.7,330.8 382.3,338.7 383,347.9 384.3,350.5"/>
<polyline points="337.1,368.8 342.3,366.2 347.6,363.6 352.8,362.3 355.5,358.3 362,349.2 367.3,349.2 371.2,354.4 373.8,359.7 376.4,362.3 377.7,370.1 376.4,376.7 375.1,383.3 369.9,385.9 365.9,389.8 363.3,396.4 362,402.9 363.3,406.9 369.9,405.5 379.1,405.5 380.4,409.5 383,416 386.9,420 384.3,426.5 384.3,431.8 390.9,433.1 394.8,438.3 401.3,439.6 407.9,437 410.5,442.3 415.8,443.6 414.5,435.7 415.8,429.2 421,427.8"/>
<polyline points="337.1,350.5 343.7,351.8 350.2,354.4 355.5,358.3"/>
<polyline points="376.4,350.5 377.7,343.9 380.4,342.6 384.3,350.5 389.5,343.9 394.8,349.2 397.4,354.4 402.7,355.7 406.6,362.3 411.8,371.5 415.8,376.7 419.7,379.3 426.3,376.7 431.5,376 432.8,371.5 431.5,366.2 434.1,362.3 439.4,355.7 440.7,350.5 444.6,346.5 449.9,345.9 452.5,350.5 455.1,354.4 460.3,355.7 463,358.3 460.3,362.3 455.1,363.6 448.5,363.6 443.3,366.2 444.6,372.8 451.2,374.1 452.5,380.6 451.2,385.9 455.1,391.1 456.4,396.4 453.8,400.3 459,402.9 463,404.2 467,404.2"/>
<polyline points="421,427.8 426.3,423.9 431.5,426.5 436.7,423.9 442,422.6 447.2,423.9 452.5,421.3 457.7,418.7 463,416 467,416"/>
<polyline points="423.6,429.2 428.9,434.4 431.5,439.6 434.1,444.9 442,447.5 448.5,447.5 452.5,451.4 457.7,458 453.8,463.2 447.2,465.9 452.5,471.1 460.3,473.7 467,479"/>
<polyline points="407.9,439.6 402.7,442.3 397.4,447.5 394.8,452.8 398.7,460.6 405.3,464.6 410.5,465.9 410.5,473.7 407.9,481.6 407.9,489.5 410.5,492.1 415.8,486.8 422.3,484.2 428.9,485.5 434.1,481.6 439.4,479 444.6,480.3 449.9,485.5 455.1,490.8 456.4,501.3 459,507.8 463,511.8 467,515.7"/>
<polyline points="394.8,452.8 389.5,455.4 384.3,456.7 376.4,459.3 368.6,461.9 364.6,468.5 363.3,475 359.4,479 362,484.2 365.9,489.5 371.2,494.7 375.1,500 376.4,507.8 379.1,510.4 375.1,515.7 372.5,520.9 371.2,526.7"/>
<polyline points="337.1,514.4 342.3,511.8 347.6,507.8 351.5,505.2 354.1,497.3 356.8,501.3 360.7,507.8 363.3,514.4 364.6,520.9 364.6,526.7"/>
<polyline points="626.8,211.6 630.8,208.9 637.5,210.2 642.8,206.2 646.8,203.6 652.1,198.3 658.7,194.3 666.7,190.3 670.7,186.3 677.3,185 682.7,186.3 686.7,190.3 685.3,194.3 681.3,198.3 677.3,200.9 673.4,203.6 672,210.2 677.7,211.8"/>
<polyline points="677.7,211.8 678.7,208.9 686.7,206.2 694.6,203.6 702.6,200.9 713.8,199.3"/>
<polyline points="626.8,211.6 625.5,216.9 628.2,220.9 633.5,222.2 638.8,223.5 642.8,227.5 645.4,232.8 650.8,234.2 654.7,230.2 660.1,224.9 666.7,220.9 668,224.9 676,227.5 684,230.2 692,231.5 690.6,235.5 684,236.8 676,239.5 668,242.1 660.1,246.1 654.7,251.5 649.4,256.8 646.8,262.8"/>
<polyline points="628.2,220.9 620.2,223.5 614.9,226.2 606.9,230.2 601.6,234.2 596.2,239.5 594.9,243.5 596.2,250.1 590.9,256.8 588.3,262.8"/>
<polyline points="572.3,244.8 582.9,246.1 593.6,247.5 596.2,250.1"/>
<polyline points="597.6,195.6 601.6,190.3 609.5,185 613.5,183.6 620.2,189 622.8,193 617.5,196.9 620.2,199.6 614.9,202.3 606.9,202.9 600.2,201.6 597.6,198.3 597.6,195.6"/>
<polyline points="620.2,199.6 625.5,200.9 628.2,207.6 626.8,211.6"/>
<polyline points="626.8,211.6 622.8,216.9 617.5,215.6 614.9,211.6 614.9,207.6 620.2,206.2"/>
<polyline points="640.1,185 642.8,179.7 640.1,177"/>
<polyline points="713.8,199.3 715.9,196.9 721.2,193 726.5,189 731.9,185 737.2,182.3 742.5,179.7"/>
<polyline points="745.2,174.3 753.1,175.7 759.8,173 767.1,171.7"/>
<polyline points="745.2,219.5 753.1,216.9 761.1,216.9 767.1,215.6"/>
<polyline points="753.1,206.2 755.8,200.9 761.1,196.9 767.1,195.6"/>
<polyline points="588.3,260.1 594.9,255.4 601.6,251.5 606.9,248.8"/>
<polyline points="456.1,154.7 456.1,154.7"/>
<polyline points="456.1,231.2 463.7,227.3 468.8,223.5 472.7,215.9 472.7,210.8 476.5,206.9 482.9,205.7 485.4,209.5 480.3,213.3 479,218.4 481.6,221 489.2,223.5 490.5,228.6 489.2,233.7 481.6,235 479,238.8 481.6,243.9 484.1,249 481.6,254.1 479,256.6 477.8,261.7"/>
<polyline points="489.2,228 494.3,226.1 498.1,227.3 504.5,227.3 509.6,223.5 517.3,215.9 523.6,209.5 528.7,205.7 535.1,203.8 540.2,203.1 545.3,200.6 551.7,196.7 555.5,194.2 558,191.7 563.1,190.4 568.2,189.1 573.3,187.8 578.4,186.6"/>
<polyline points="489.2,233.7 491.8,237.5 500.7,240.1 507.1,242.6 508.3,249 507.1,255.4 507.1,261.7"/>
<polyline points="540.2,203.1 537.7,208.2 533.8,214.6 531.3,221 533.8,227.3 532.6,233.7 531.3,241.3 532.6,250.3 531.3,260.5 528.7,266.8 532.6,275.8 536.4,285.9"/>
<polyline points="578.4,186.6 577.2,191.7 582.2,192.9 578.4,196.7 581,203.1 577.2,208.2 573.3,214.6 577.2,221 578.4,228.6 574.6,236.3 570.8,241.3 573.3,246.4 572.1,254.1 569.5,261.7"/>
<polyline points="578.4,186.6 575.9,182.7 575.9,177.6 579.7,172.5 583.5,170 588.6,168.7 589.9,173.8 596.3,172.5 602.6,170 609,167.4 615.4,166.2 620.5,163.6 626.8,162.3 631.9,164.9 633.2,171.3 637,176.4 642.1,178.9 644.7,175.1 647.2,167.4 651.1,167.4 654.9,171.3 660,168.7 666.3,166.2 672.7,163.6 679.1,162.3 686.7,161.1"/>
<polyline points="570.8,242.6 578.4,245.2 588.6,247.7 595,249 600.1,250.3"/>
<polyline points="588.6,261.7 593.7,255.4 598.8,251.5 606.5,249"/>
</g>
<rect x="1428.1" y="145.1" width="426.9" height="183.9" fill="none" stroke="#000" stroke-width="3.6"/>
</g>
<rect x="1112.9" y="66.3" width="919.4" height="525.4" fill="none" stroke="#000" stroke-width="3.8"/>
<g stroke="#000" stroke-linecap="round"><line x1="1103" y1="578.5" x2="1112.9" y2="578.5" stroke-width="1.8"/><line x1="2032.3" y1="578.5" x2="2042.2" y2="578.5" stroke-width="1.8"/><line x1="1103" y1="552.3" x2="1112.9" y2="552.3" stroke-width="1.8"/><line x1="2032.3" y1="552.3" x2="2042.2" y2="552.3" stroke-width="1.8"/><line x1="1094" y1="526" x2="1112.9" y2="526" stroke-width="3.6"/><line x1="2032.3" y1="526" x2="2051.2" y2="526" stroke-width="3.6"/><line x1="1103" y1="499.7" x2="1112.9" y2="499.7" stroke-width="1.8"/><line x1="2032.3" y1="499.7" x2="2042.2" y2="499.7" stroke-width="1.8"/><line x1="1103" y1="473.5" x2="1112.9" y2="473.5" stroke-width="1.8"/><line x1="2032.3" y1="473.5" x2="2042.2" y2="473.5" stroke-width="1.8"/><line x1="1103" y1="447.2" x2="1112.9" y2="447.2" stroke-width="1.8"/><line x1="2032.3" y1="447.2" x2="2042.2" y2="447.2" stroke-width="1.8"/><line x1="1103" y1="420.9" x2="1112.9" y2="420.9" stroke-width="1.8"/><line x1="2032.3" y1="420.9" x2="2042.2" y2="420.9" stroke-width="1.8"/><line x1="1094" y1="394.7" x2="1112.9" y2="394.7" stroke-width="3.6"/><line x1="2032.3" y1="394.7" x2="2051.2" y2="394.7" stroke-width="3.6"/><line x1="1103" y1="368.4" x2="1112.9" y2="368.4" stroke-width="1.8"/><line x1="2032.3" y1="368.4" x2="2042.2" y2="368.4" stroke-width="1.8"/><line x1="1103" y1="342.1" x2="1112.9" y2="342.1" stroke-width="1.8"/><line x1="2032.3" y1="342.1" x2="2042.2" y2="342.1" stroke-width="1.8"/><line x1="1103" y1="315.8" x2="1112.9" y2="315.8" stroke-width="1.8"/><line x1="2032.3" y1="315.8" x2="2042.2" y2="315.8" stroke-width="1.8"/><line x1="1103" y1="289.6" x2="1112.9" y2="289.6" stroke-width="1.8"/><line x1="2032.3" y1="289.6" x2="2042.2" y2="289.6" stroke-width="1.8"/><line x1="1094" y1="263.3" x2="1112.9" y2="263.3" stroke-width="3.6"/><line x1="2032.3" y1="263.3" x2="2051.2" y2="263.3" stroke-width="3.6"/><line x1="1103" y1="237" x2="1112.9" y2="237" stroke-width="1.8"/><line x1="2032.3" y1="237" x2="2042.2" y2="237" stroke-width="1.8"/><line x1="1103" y1="210.8" x2="1112.9" y2="210.8" stroke-width="1.8"/><line x1="2032.3" y1="210.8" x2="2042.2" y2="210.8" stroke-width="1.8"/><line x1="1103" y1="184.5" x2="1112.9" y2="184.5" stroke-width="1.8"/><line x1="2032.3" y1="184.5" x2="2042.2" y2="184.5" stroke-width="1.8"/><line x1="1103" y1="158.2" x2="1112.9" y2="158.2" stroke-width="1.8"/><line x1="2032.3" y1="158.2" x2="2042.2" y2="158.2" stroke-width="1.8"/><line x1="1094" y1="132" x2="1112.9" y2="132" stroke-width="3.6"/><line x1="2032.3" y1="132" x2="2051.2" y2="132" stroke-width="3.6"/><line x1="1103" y1="105.7" x2="1112.9" y2="105.7" stroke-width="1.8"/><line x1="2032.3" y1="105.7" x2="2042.2" y2="105.7" stroke-width="1.8"/><line x1="1103" y1="79.4" x2="1112.9" y2="79.4" stroke-width="1.8"/><line x1="2032.3" y1="79.4" x2="2042.2" y2="79.4" stroke-width="1.8"/><line x1="1112.9" y1="56.4" x2="1112.9" y2="66.3" stroke-width="1.8"/><line x1="1112.9" y1="591.7" x2="1112.9" y2="601.6" stroke-width="1.8"/><line x1="1244.2" y1="56.4" x2="1244.2" y2="66.3" stroke-width="1.8"/><line x1="1244.2" y1="591.7" x2="1244.2" y2="601.6" stroke-width="1.8"/><line x1="1375.6" y1="47.4" x2="1375.6" y2="66.3" stroke-width="3.6"/><line x1="1375.6" y1="591.7" x2="1375.6" y2="610.6" stroke-width="3.6"/><line x1="1506.9" y1="56.4" x2="1506.9" y2="66.3" stroke-width="1.8"/><line x1="1506.9" y1="591.7" x2="1506.9" y2="601.6" stroke-width="1.8"/><line x1="1638.3" y1="56.4" x2="1638.3" y2="66.3" stroke-width="1.8"/><line x1="1638.3" y1="591.7" x2="1638.3" y2="601.6" stroke-width="1.8"/><line x1="1769.6" y1="47.4" x2="1769.6" y2="66.3" stroke-width="3.6"/><line x1="1769.6" y1="591.7" x2="1769.6" y2="610.6" stroke-width="3.6"/><line x1="1900.9" y1="56.4" x2="1900.9" y2="66.3" stroke-width="1.8"/><line x1="1900.9" y1="591.7" x2="1900.9" y2="601.6" stroke-width="1.8"/><line x1="2032.3" y1="56.4" x2="2032.3" y2="66.3" stroke-width="1.8"/><line x1="2032.3" y1="591.7" x2="2032.3" y2="601.6" stroke-width="1.8"/></g>
<text x="1077.9" y="140.7" font-size="25" text-anchor="end" textLength="42" lengthAdjust="spacingAndGlyphs">50N</text>
<text x="1077.9" y="272" font-size="25" text-anchor="end" textLength="42" lengthAdjust="spacingAndGlyphs">40N</text>
<text x="1077.9" y="403.4" font-size="25" text-anchor="end" textLength="42" lengthAdjust="spacingAndGlyphs">30N</text>
<text x="1077.9" y="534.7" font-size="25" text-anchor="end" textLength="42" lengthAdjust="spacingAndGlyphs">20N</text>
<text x="1375.6" y="644" font-size="25" text-anchor="middle">90E</text>
<text x="1769.6" y="644" font-size="25" text-anchor="middle">120E</text>
<text x="1121.8" y="33.5" font-size="40.5" font-weight="bold" textLength="902.8" lengthAdjust="spacingAndGlyphs">Trends of dust emission flux due to wind change</text>
<text x="1028" y="52.7" font-size="84">b</text>
<rect x="1166.2" y="662.6" width="73.9" height="47.6" fill="#000080" stroke="#000" stroke-width="1.7"/>
<rect x="1240.1" y="662.6" width="73.9" height="47.6" fill="#0000e0" stroke="#000" stroke-width="1.7"/>
<rect x="1313.9" y="662.6" width="73.9" height="47.6" fill="#6666ff" stroke="#000" stroke-width="1.7"/>
<rect x="1387.8" y="662.6" width="73.9" height="47.6" fill="#aaaaff" stroke="#000" stroke-width="1.7"/>
<rect x="1461.7" y="662.6" width="73.9" height="47.6" fill="#ddddff" stroke="#000" stroke-width="1.7"/>
<rect x="1535.6" y="662.6" width="73.9" height="47.6" fill="#ffffff" stroke="#000" stroke-width="1.7"/>
<rect x="1609.4" y="662.6" width="73.9" height="47.6" fill="#ffdddd" stroke="#000" stroke-width="1.7"/>
<rect x="1683.3" y="662.6" width="73.9" height="47.6" fill="#ffaaaa" stroke="#000" stroke-width="1.7"/>
<rect x="1757.2" y="662.6" width="73.9" height="47.6" fill="#ff6666" stroke="#000" stroke-width="1.7"/>
<rect x="1831" y="662.6" width="73.9" height="47.6" fill="#e00000" stroke="#000" stroke-width="1.7"/>
<rect x="1904.9" y="662.6" width="73.9" height="47.6" fill="#800000" stroke="#000" stroke-width="1.7"/>
<text x="1240.1" y="741.6" font-size="25" text-anchor="middle" transform="translate(1240.1,0) scale(0.66,1) translate(-1240.1,0)">-100</text>
<text x="1313.9" y="741.6" font-size="25" text-anchor="middle" transform="translate(1313.9,0) scale(0.66,1) translate(-1313.9,0)">-50</text>
<text x="1387.8" y="741.6" font-size="25" text-anchor="middle" transform="translate(1387.8,0) scale(0.66,1) translate(-1387.8,0)">-10</text>
<text x="1461.7" y="741.6" font-size="25" text-anchor="middle" transform="translate(1461.7,0) scale(0.66,1) translate(-1461.7,0)">-1</text>
<text x="1535.6" y="741.6" font-size="25" text-anchor="middle" transform="translate(1535.6,0) scale(0.66,1) translate(-1535.6,0)">-0.2</text>
<text x="1609.4" y="741.6" font-size="25" text-anchor="middle" transform="translate(1609.4,0) scale(0.66,1) translate(-1609.4,0)">0.2</text>
<text x="1683.3" y="741.6" font-size="25" text-anchor="middle" transform="translate(1683.3,0) scale(0.66,1) translate(-1683.3,0)">1</text>
<text x="1757.2" y="741.6" font-size="25" text-anchor="middle" transform="translate(1757.2,0) scale(0.66,1) translate(-1757.2,0)">10</text>
<text x="1831" y="741.6" font-size="25" text-anchor="middle" transform="translate(1831,0) scale(0.66,1) translate(-1831,0)">50</text>
<text x="1904.9" y="741.6" font-size="25" text-anchor="middle" transform="translate(1904.9,0) scale(0.66,1) translate(-1904.9,0)">100</text>
</g>
<g id="panel-c">
<clipPath id="clipc"><rect x="79.1" y="857.6" width="919.4" height="525.4"/></clipPath>
<g clip-path="url(#clipc)">
<defs><pattern id="pfc" patternUnits="userSpaceOnUse" x="75" y="854.3" width="8.2088" height="6.5670"><path d="M1.3 3.3h5.7M4.1 0.4v5.7" stroke="#000" stroke-width="1.1" fill="none"/></pattern><pattern id="phc" patternUnits="userSpaceOnUse" x="75" y="854.3" width="16.4175" height="13.1340"><path d="M1.3 3.3h5.7M4.1 0.4v5.7M9.5 9.9h5.7M12.3 7v5.7" stroke="#000" stroke-width="1.1" fill="none"/></pattern></defs><g><rect x="75" y="854.3" width="33.5" height="27" fill="#ffdddd"/><rect x="107.8" y="854.3" width="33.5" height="27" fill="#ffaaaa"/><rect x="140.7" y="854.3" width="33.5" height="27" fill="#ddddff"/><rect x="173.5" y="854.3" width="66.4" height="27" fill="#ffdddd"/><rect x="239.2" y="854.3" width="33.5" height="27" fill="#aaaaff"/><rect x="272" y="854.3" width="33.5" height="27" fill="#ddddff"/><rect x="337.7" y="854.3" width="33.5" height="27" fill="#ffaaaa"/><rect x="370.5" y="854.3" width="33.5" height="27" fill="#ddddff"/><rect x="469" y="854.3" width="33.5" height="27" fill="#aaaaff"/><rect x="501.9" y="854.3" width="33.5" height="27" fill="#ffdddd"/><rect x="600.4" y="854.3" width="33.5" height="27" fill="#ddddff"/><rect x="633.2" y="854.3" width="66.4" height="27" fill="#aaaaff"/><rect x="698.9" y="854.3" width="33.5" height="27" fill="#ffdddd"/><rect x="731.7" y="854.3" width="33.5" height="27" fill="#ddddff"/><rect x="764.5" y="854.3" width="33.5" height="27" fill="#aaaaff"/><rect x="797.4" y="854.3" width="33.5" height="27" fill="#6666ff"/><rect x="830.2" y="854.3" width="33.5" height="27" fill="#aaaaff"/><rect x="863" y="854.3" width="66.4" height="27" fill="#ddddff"/><rect x="961.5" y="854.3" width="50.8" height="27" fill="#ddddff"/><rect x="75" y="880.6" width="33.5" height="27" fill="#ffaaaa"/><rect x="107.8" y="880.6" width="33.5" height="27" fill="#ffdddd"/><rect x="140.7" y="880.6" width="33.5" height="27" fill="#ddddff"/><rect x="173.5" y="880.6" width="66.4" height="27" fill="#aaaaff"/><rect x="239.2" y="880.6" width="33.5" height="27" fill="#6666ff"/><rect x="272" y="880.6" width="33.5" height="27" fill="#ddddff"/><rect x="337.7" y="880.6" width="66.4" height="27" fill="#ffdddd"/><rect x="403.3" y="880.6" width="33.5" height="27" fill="#ddddff"/><rect x="469" y="880.6" width="33.5" height="27" fill="#ddddff"/><rect x="501.9" y="880.6" width="33.5" height="27" fill="#ffaaaa"/><rect x="534.7" y="880.6" width="33.5" height="27" fill="#ddddff"/><rect x="567.5" y="880.6" width="33.5" height="27" fill="#ffaaaa"/><rect x="600.4" y="880.6" width="66.4" height="27" fill="#6666ff"/><rect x="666" y="880.6" width="66.4" height="27" fill="#0000e0"/><rect x="731.7" y="880.6" width="33.5" height="27" fill="#6666ff"/><rect x="764.5" y="880.6" width="33.5" height="27" fill="#ddddff"/><rect x="797.4" y="880.6" width="66.4" height="27" fill="#0000e0"/><rect x="863" y="880.6" width="33.5" height="27" fill="#6666ff"/><rect x="895.9" y="880.6" width="33.5" height="27" fill="#ddddff"/><rect x="928.7" y="880.6" width="83.6" height="27" fill="#aaaaff"/><rect x="75" y="906.9" width="66.4" height="27" fill="#ffdddd"/><rect x="140.7" y="906.9" width="33.5" height="27" fill="#ddddff"/><rect x="173.5" y="906.9" width="66.4" height="27" fill="#aaaaff"/><rect x="239.2" y="906.9" width="33.5" height="27" fill="#6666ff"/><rect x="337.7" y="906.9" width="33.5" height="27" fill="#aaaaff"/><rect x="370.5" y="906.9" width="33.5" height="27" fill="#ddddff"/><rect x="403.3" y="906.9" width="33.5" height="27" fill="#aaaaff"/><rect x="436.2" y="906.9" width="33.5" height="27" fill="#ddddff"/><rect x="469" y="906.9" width="33.5" height="27" fill="#6666ff"/><rect x="501.9" y="906.9" width="33.5" height="27" fill="#0000e0"/><rect x="534.7" y="906.9" width="33.5" height="27" fill="#6666ff"/><rect x="567.5" y="906.9" width="33.5" height="27" fill="#aaaaff"/><rect x="600.4" y="906.9" width="66.4" height="27" fill="#6666ff"/><rect x="666" y="906.9" width="33.5" height="27" fill="#aaaaff"/><rect x="698.9" y="906.9" width="33.5" height="27" fill="#ddddff"/><rect x="731.7" y="906.9" width="33.5" height="27" fill="#6666ff"/><rect x="764.5" y="906.9" width="33.5" height="27" fill="#aaaaff"/><rect x="797.4" y="906.9" width="33.5" height="27" fill="#ddddff"/><rect x="830.2" y="906.9" width="33.5" height="27" fill="#6666ff"/><rect x="863" y="906.9" width="33.5" height="27" fill="#aaaaff"/><rect x="928.7" y="906.9" width="33.5" height="27" fill="#6666ff"/><rect x="75" y="933.1" width="230.5" height="27" fill="#aaaaff"/><rect x="304.8" y="933.1" width="33.5" height="27" fill="#ddddff"/><rect x="337.7" y="933.1" width="33.5" height="27" fill="#aaaaff"/><rect x="370.5" y="933.1" width="99.2" height="27" fill="#ddddff"/><rect x="469" y="933.1" width="66.4" height="27" fill="#6666ff"/><rect x="534.7" y="933.1" width="66.4" height="27" fill="#aaaaff"/><rect x="600.4" y="933.1" width="33.5" height="27" fill="#6666ff"/><rect x="633.2" y="933.1" width="66.4" height="27" fill="#aaaaff"/><rect x="698.9" y="933.1" width="33.5" height="27" fill="#ddddff"/><rect x="731.7" y="933.1" width="33.5" height="27" fill="#6666ff"/><rect x="764.5" y="933.1" width="33.5" height="27" fill="#0000e0"/><rect x="797.4" y="933.1" width="33.5" height="27" fill="#6666ff"/><rect x="863" y="933.1" width="66.4" height="27" fill="#aaaaff"/><rect x="928.7" y="933.1" width="33.5" height="27" fill="#ddddff"/><rect x="75" y="959.4" width="66.4" height="27" fill="#aaaaff"/><rect x="140.7" y="959.4" width="33.5" height="27" fill="#ddddff"/><rect x="173.5" y="959.4" width="33.5" height="27" fill="#aaaaff"/><rect x="206.3" y="959.4" width="33.5" height="27" fill="#ddddff"/><rect x="239.2" y="959.4" width="33.5" height="27" fill="#6666ff"/><rect x="272" y="959.4" width="99.2" height="27" fill="#ddddff"/><rect x="370.5" y="959.4" width="33.5" height="27" fill="#aaaaff"/><rect x="403.3" y="959.4" width="33.5" height="27" fill="#ddddff"/><rect x="436.2" y="959.4" width="33.5" height="27" fill="#aaaaff"/><rect x="469" y="959.4" width="66.4" height="27" fill="#6666ff"/><rect x="534.7" y="959.4" width="132" height="27" fill="#aaaaff"/><rect x="666" y="959.4" width="33.5" height="27" fill="#ddddff"/><rect x="698.9" y="959.4" width="33.5" height="27" fill="#aaaaff"/><rect x="731.7" y="959.4" width="99.2" height="27" fill="#0000e0"/><rect x="863" y="959.4" width="33.5" height="27" fill="#ddddff"/><rect x="895.9" y="959.4" width="33.5" height="27" fill="#6666ff"/><rect x="928.7" y="959.4" width="33.5" height="27" fill="#ddddff"/><rect x="75" y="985.7" width="33.5" height="27" fill="#aaaaff"/><rect x="107.8" y="985.7" width="99.2" height="27" fill="#ddddff"/><rect x="206.3" y="985.7" width="66.4" height="27" fill="#aaaaff"/><rect x="272" y="985.7" width="33.5" height="27" fill="#0000e0"/><rect x="304.8" y="985.7" width="33.5" height="27" fill="#6666ff"/><rect x="337.7" y="985.7" width="66.4" height="27" fill="#aaaaff"/><rect x="403.3" y="985.7" width="263.4" height="27" fill="#ddddff"/><rect x="666" y="985.7" width="66.4" height="27" fill="#aaaaff"/><rect x="731.7" y="985.7" width="99.2" height="27" fill="#6666ff"/><rect x="863" y="985.7" width="33.5" height="27" fill="#ddddff"/><rect x="895.9" y="985.7" width="33.5" height="27" fill="#aaaaff"/><rect x="75" y="1011.9" width="33.5" height="27" fill="#ffdddd"/><rect x="140.7" y="1011.9" width="66.4" height="27" fill="#ddddff"/><rect x="206.3" y="1011.9" width="132" height="27" fill="#aaaaff"/><rect x="337.7" y="1011.9" width="263.4" height="27" fill="#ddddff"/><rect x="600.4" y="1011.9" width="33.5" height="27" fill="#ffdddd"/><rect x="633.2" y="1011.9" width="33.5" height="27" fill="#ddddff"/><rect x="666" y="1011.9" width="33.5" height="27" fill="#aaaaff"/><rect x="698.9" y="1011.9" width="99.2" height="27" fill="#6666ff"/><rect x="797.4" y="1011.9" width="33.5" height="27" fill="#ddddff"/><rect x="75" y="1038.2" width="99.2" height="27" fill="#ddddff"/><rect x="173.5" y="1038.2" width="33.5" height="27" fill="#aaaaff"/><rect x="206.3" y="1038.2" width="33.5" height="27" fill="#6666ff"/><rect x="239.2" y="1038.2" width="132" height="27" fill="#ddddff"/><rect x="370.5" y="1038.2" width="99.2" height="27" fill="#aaaaff"/><rect x="469" y="1038.2" width="66.4" height="27" fill="#ddddff"/><rect x="534.7" y="1038.2" width="33.5" height="27" fill="#aaaaff"/><rect x="567.5" y="1038.2" width="33.5" height="27" fill="#ddddff"/><rect x="600.4" y="1038.2" width="33.5" height="27" fill="#6666ff"/><rect x="633.2" y="1038.2" width="99.2" height="27" fill="#0000e0"/><rect x="731.7" y="1038.2" width="33.5" height="27" fill="#6666ff"/><rect x="764.5" y="1038.2" width="33.5" height="27" fill="#ddddff"/><rect x="75" y="1064.5" width="66.4" height="27" fill="#ddddff"/><rect x="140.7" y="1064.5" width="33.5" height="27" fill="#6666ff"/><rect x="173.5" y="1064.5" width="33.5" height="27" fill="#ddddff"/><rect x="272" y="1064.5" width="132" height="27" fill="#ddddff"/><rect x="403.3" y="1064.5" width="66.4" height="27" fill="#aaaaff"/><rect x="469" y="1064.5" width="33.5" height="27" fill="#6666ff"/><rect x="501.9" y="1064.5" width="66.4" height="27" fill="#aaaaff"/><rect x="567.5" y="1064.5" width="33.5" height="27" fill="#6666ff"/><rect x="600.4" y="1064.5" width="66.4" height="27" fill="#0000e0"/><rect x="666" y="1064.5" width="33.5" height="27" fill="#6666ff"/><rect x="698.9" y="1064.5" width="33.5" height="27" fill="#aaaaff"/><rect x="731.7" y="1064.5" width="33.5" height="27" fill="#ddddff"/><rect x="107.8" y="1090.7" width="66.4" height="27" fill="#ddddff"/><rect x="173.5" y="1090.7" width="66.4" height="27" fill="#aaaaff"/><rect x="239.2" y="1090.7" width="197.7" height="27" fill="#ddddff"/><rect x="436.2" y="1090.7" width="33.5" height="27" fill="#aaaaff"/><rect x="469" y="1090.7" width="263.4" height="27" fill="#6666ff"/><rect x="731.7" y="1090.7" width="33.5" height="27" fill="#aaaaff"/><rect x="75" y="1117" width="132" height="27" fill="#ddddff"/><rect x="304.8" y="1117" width="33.5" height="27" fill="#ddddff"/><rect x="337.7" y="1117" width="66.4" height="27" fill="#aaaaff"/><rect x="403.3" y="1117" width="33.5" height="27" fill="#ddddff"/><rect x="436.2" y="1117" width="33.5" height="27" fill="#aaaaff"/><rect x="501.9" y="1117" width="132" height="27" fill="#aaaaff"/><rect x="633.2" y="1117" width="99.2" height="27" fill="#ddddff"/><rect x="75" y="1143.3" width="33.5" height="27" fill="#0000e0"/><rect x="107.8" y="1143.3" width="33.5" height="27" fill="#6666ff"/><rect x="173.5" y="1143.3" width="164.9" height="27" fill="#ddddff"/><rect x="337.7" y="1143.3" width="33.5" height="27" fill="#ffdddd"/><rect x="403.3" y="1143.3" width="132" height="27" fill="#ddddff"/><rect x="633.2" y="1143.3" width="33.5" height="27" fill="#ddddff"/><rect x="731.7" y="1143.3" width="33.5" height="27" fill="#ffaaaa"/><rect x="75" y="1169.5" width="33.5" height="27" fill="#6666ff"/><rect x="107.8" y="1169.5" width="33.5" height="27" fill="#0000e0"/><rect x="140.7" y="1169.5" width="33.5" height="27" fill="#6666ff"/><rect x="173.5" y="1169.5" width="164.9" height="27" fill="#ddddff"/><rect x="337.7" y="1169.5" width="33.5" height="27" fill="#ffdddd"/><rect x="75" y="1195.8" width="33.5" height="27" fill="#6666ff"/><rect x="107.8" y="1195.8" width="33.5" height="27" fill="#0000e0"/><rect x="140.7" y="1195.8" width="33.5" height="27" fill="#6666ff"/><rect x="173.5" y="1195.8" width="33.5" height="27" fill="#ddddff"/><rect x="239.2" y="1195.8" width="99.2" height="27" fill="#ddddff"/><rect x="337.7" y="1195.8" width="33.5" height="27" fill="#aaaaff"/><rect x="370.5" y="1195.8" width="33.5" height="27" fill="#ffdddd"/><rect x="75" y="1222.1" width="33.5" height="27" fill="#aaaaff"/><rect x="107.8" y="1222.1" width="33.5" height="27" fill="#0000e0"/><rect x="140.7" y="1222.1" width="33.5" height="27" fill="#6666ff"/><rect x="173.5" y="1222.1" width="33.5" height="27" fill="#ddddff"/><rect x="501.9" y="1222.1" width="33.5" height="27" fill="#6666ff"/><rect x="75" y="1248.3" width="66.4" height="27" fill="#aaaaff"/><rect x="75" y="1274.6" width="33.5" height="27" fill="#0000e0"/><rect x="75" y="1300.9" width="33.5" height="27" fill="#ddddff"/><rect x="173.5" y="1300.9" width="33.5" height="27" fill="#ddddff"/><rect x="107.8" y="1327.1" width="33.5" height="27" fill="#ddddff"/><rect x="140.7" y="1353.4" width="33.5" height="43.4" fill="#ddddff"/><rect x="764.5" y="854.3" width="50" height="13.8" fill="#ffffff"/><rect x="813.8" y="854.3" width="17.1" height="13.8" fill="#ffdddd"/><rect x="830.2" y="854.3" width="17.1" height="13.8" fill="#ddddff"/><rect x="846.6" y="854.3" width="50" height="13.8" fill="#ffffff"/><rect x="895.9" y="854.3" width="17.1" height="13.8" fill="#ddddff"/><rect x="912.3" y="854.3" width="100" height="13.8" fill="#ffffff"/><rect x="764.5" y="867.5" width="33.5" height="13.8" fill="#aaaaff"/><rect x="797.4" y="867.5" width="50" height="13.8" fill="#6666ff"/><rect x="846.6" y="867.5" width="33.5" height="13.8" fill="#aaaaff"/><rect x="879.5" y="867.5" width="17.1" height="13.8" fill="#ddddff"/><rect x="895.9" y="867.5" width="17.1" height="13.8" fill="#aaaaff"/><rect x="912.3" y="867.5" width="17.1" height="13.8" fill="#ffdddd"/><rect x="928.7" y="867.5" width="50" height="13.8" fill="#ffffff"/><rect x="978" y="867.5" width="34.4" height="13.8" fill="#ddddff"/><rect x="764.5" y="880.6" width="17.1" height="13.8" fill="#ddddff"/><rect x="780.9" y="880.6" width="17.1" height="13.8" fill="#6666ff"/><rect x="797.4" y="880.6" width="50" height="13.8" fill="#0000e0"/><rect x="846.6" y="880.6" width="17.1" height="13.8" fill="#aaaaff"/><rect x="863" y="880.6" width="17.1" height="13.8" fill="#6666ff"/><rect x="879.5" y="880.6" width="17.1" height="13.8" fill="#aaaaff"/><rect x="895.9" y="880.6" width="50" height="13.8" fill="#ffffff"/><rect x="945.1" y="880.6" width="17.1" height="13.8" fill="#6666ff"/><rect x="961.5" y="880.6" width="17.1" height="13.8" fill="#aaaaff"/><rect x="978" y="880.6" width="34.4" height="13.8" fill="#ffffff"/><rect x="764.5" y="893.7" width="33.5" height="13.8" fill="#6666ff"/><rect x="797.4" y="893.7" width="17.1" height="13.8" fill="#0000e0"/><rect x="813.8" y="893.7" width="17.1" height="13.8" fill="#6666ff"/><rect x="830.2" y="893.7" width="33.5" height="13.8" fill="#0000e0"/><rect x="863" y="893.7" width="17.1" height="13.8" fill="#aaaaff"/><rect x="879.5" y="893.7" width="17.1" height="13.8" fill="#ffffff"/><rect x="895.9" y="893.7" width="17.1" height="13.8" fill="#aaaaff"/><rect x="912.3" y="893.7" width="33.5" height="13.8" fill="#ffffff"/><rect x="945.1" y="893.7" width="67.2" height="13.8" fill="#6666ff"/><rect x="764.5" y="906.9" width="33.5" height="13.8" fill="#6666ff"/><rect x="797.4" y="906.9" width="17.1" height="13.8" fill="#ffffff"/><rect x="813.8" y="906.9" width="17.1" height="13.8" fill="#6666ff"/><rect x="830.2" y="906.9" width="17.1" height="13.8" fill="#0000e0"/><rect x="846.6" y="906.9" width="17.1" height="13.8" fill="#6666ff"/><rect x="863" y="906.9" width="17.1" height="13.8" fill="#aaaaff"/><rect x="879.5" y="906.9" width="66.4" height="13.8" fill="#ffffff"/><rect x="945.1" y="906.9" width="17.1" height="13.8" fill="#6666ff"/><rect x="961.5" y="906.9" width="50.8" height="13.8" fill="#ffffff"/><rect x="764.5" y="920" width="17.1" height="13.8" fill="#ddddff"/><rect x="780.9" y="920" width="17.1" height="13.8" fill="#ffffff"/><rect x="797.4" y="920" width="17.1" height="13.8" fill="#aaaaff"/><rect x="813.8" y="920" width="33.5" height="13.8" fill="#6666ff"/><rect x="846.6" y="920" width="17.1" height="13.8" fill="#0000e0"/><rect x="863" y="920" width="17.1" height="13.8" fill="#6666ff"/><rect x="879.5" y="920" width="50" height="13.8" fill="#ffffff"/><rect x="928.7" y="920" width="17.1" height="13.8" fill="#aaaaff"/><rect x="945.1" y="920" width="17.1" height="13.8" fill="#6666ff"/><rect x="961.5" y="920" width="17.1" height="13.8" fill="#aaaaff"/><rect x="978" y="920" width="34.4" height="13.8" fill="#ffffff"/><rect x="764.5" y="933.1" width="17.1" height="13.8" fill="#6666ff"/><rect x="780.9" y="933.1" width="17.1" height="13.8" fill="#0000e0"/><rect x="797.4" y="933.1" width="17.1" height="13.8" fill="#6666ff"/><rect x="813.8" y="933.1" width="17.1" height="13.8" fill="#ddddff"/><rect x="830.2" y="933.1" width="33.5" height="13.8" fill="#ffffff"/><rect x="863" y="933.1" width="17.1" height="13.8" fill="#ddddff"/><rect x="879.5" y="933.1" width="17.1" height="13.8" fill="#ffffff"/><rect x="895.9" y="933.1" width="33.5" height="13.8" fill="#aaaaff"/><rect x="928.7" y="933.1" width="17.1" height="13.8" fill="#6666ff"/><rect x="945.1" y="933.1" width="17.1" height="13.8" fill="#aaaaff"/><rect x="961.5" y="933.1" width="50.8" height="13.8" fill="#ffffff"/><rect x="764.5" y="946.3" width="50" height="13.8" fill="#0000e0"/><rect x="813.8" y="946.3" width="17.1" height="13.8" fill="#ddddff"/><rect x="830.2" y="946.3" width="33.5" height="13.8" fill="#ffffff"/><rect x="863" y="946.3" width="17.1" height="13.8" fill="#aaaaff"/><rect x="879.5" y="946.3" width="17.1" height="13.8" fill="#6666ff"/><rect x="895.9" y="946.3" width="50" height="13.8" fill="#aaaaff"/><rect x="945.1" y="946.3" width="67.2" height="13.8" fill="#ffffff"/><rect x="764.5" y="959.4" width="50" height="13.8" fill="#0000e0"/><rect x="813.8" y="959.4" width="17.1" height="13.8" fill="#6666ff"/><rect x="830.2" y="959.4" width="33.5" height="13.8" fill="#ffffff"/><rect x="863" y="959.4" width="17.1" height="13.8" fill="#ddddff"/><rect x="879.5" y="959.4" width="17.1" height="13.8" fill="#aaaaff"/><rect x="895.9" y="959.4" width="17.1" height="13.8" fill="#6666ff"/><rect x="912.3" y="959.4" width="17.1" height="13.8" fill="#aaaaff"/><rect x="928.7" y="959.4" width="83.6" height="13.8" fill="#ffffff"/><rect x="764.5" y="972.5" width="50" height="13.8" fill="#0000e0"/><rect x="813.8" y="972.5" width="17.1" height="13.8" fill="#6666ff"/><rect x="830.2" y="972.5" width="17.1" height="13.8" fill="#ffffff"/><rect x="846.6" y="972.5" width="17.1" height="13.8" fill="#aaaaff"/><rect x="863" y="972.5" width="33.5" height="13.8" fill="#6666ff"/><rect x="895.9" y="972.5" width="17.1" height="13.8" fill="#ddddff"/><rect x="912.3" y="972.5" width="17.1" height="13.8" fill="#aaaaff"/><rect x="928.7" y="972.5" width="83.6" height="13.8" fill="#ffffff"/><rect x="764.5" y="985.7" width="33.5" height="13.8" fill="#6666ff"/><rect x="797.4" y="985.7" width="17.1" height="13.8" fill="#0000e0"/><rect x="813.8" y="985.7" width="17.1" height="13.8" fill="#6666ff"/><rect x="830.2" y="985.7" width="17.1" height="13.8" fill="#ffdddd"/><rect x="846.6" y="985.7" width="17.1" height="13.8" fill="#ffffff"/><rect x="863" y="985.7" width="33.5" height="13.8" fill="#6666ff"/><rect x="895.9" y="985.7" width="17.1" height="13.8" fill="#ddddff"/><rect x="912.3" y="985.7" width="100" height="13.8" fill="#ffffff"/><rect x="764.5" y="998.8" width="50" height="13.8" fill="#6666ff"/><rect x="813.8" y="998.8" width="66.4" height="13.8" fill="#ffffff"/><rect x="879.5" y="998.8" width="33.5" height="13.8" fill="#aaaaff"/><rect x="912.3" y="998.8" width="100" height="13.8" fill="#ffffff"/><rect x="764.5" y="1011.9" width="17.1" height="13.8" fill="#6666ff"/><rect x="780.9" y="1011.9" width="17.1" height="13.8" fill="#0000e0"/><rect x="797.4" y="1011.9" width="214.9" height="13.8" fill="#ffffff"/><rect x="764.5" y="1025.1" width="17.1" height="13.8" fill="#6666ff"/><rect x="780.9" y="1025.1" width="33.5" height="13.8" fill="#aaaaff"/><rect x="813.8" y="1025.1" width="198.5" height="13.8" fill="#ffffff"/><rect x="764.5" y="1038.2" width="17.1" height="13.8" fill="#6666ff"/><rect x="780.9" y="1038.2" width="17.1" height="13.8" fill="#ddddff"/><rect x="797.4" y="1038.2" width="214.9" height="13.8" fill="#ffffff"/><rect x="764.5" y="1051.3" width="17.1" height="13.8" fill="#ddddff"/><rect x="780.9" y="1051.3" width="231.4" height="13.8" fill="#ffffff"/><rect x="764.5" y="1064.5" width="247.8" height="13.8" fill="#ffffff"/><rect x="764.5" y="1077.6" width="247.8" height="13.8" fill="#ffffff"/><rect x="764.5" y="1090.7" width="247.8" height="13.8" fill="#ffffff"/><rect x="764.5" y="1103.9" width="247.8" height="13.8" fill="#ffffff"/><rect x="534.7" y="854.3" width="82.8" height="13.8" fill="#ffffff"/><rect x="616.8" y="854.3" width="17.1" height="13.8" fill="#ddddff"/><rect x="633.2" y="854.3" width="33.5" height="13.8" fill="#aaaaff"/><rect x="666" y="854.3" width="99.2" height="13.8" fill="#ffffff"/><rect x="534.7" y="867.5" width="66.4" height="13.8" fill="#ffffff"/><rect x="600.4" y="867.5" width="17.1" height="13.8" fill="#ddddff"/><rect x="616.8" y="867.5" width="17.1" height="13.8" fill="#aaaaff"/><rect x="633.2" y="867.5" width="33.5" height="13.8" fill="#6666ff"/><rect x="666" y="867.5" width="33.5" height="13.8" fill="#0000e0"/><rect x="698.9" y="867.5" width="17.1" height="13.8" fill="#aaaaff"/><rect x="715.3" y="867.5" width="17.1" height="13.8" fill="#ffaaaa"/><rect x="731.7" y="867.5" width="17.1" height="13.8" fill="#ffdddd"/><rect x="748.1" y="867.5" width="17.1" height="13.8" fill="#ddddff"/><rect x="534.7" y="880.6" width="17.1" height="13.8" fill="#ffffff"/><rect x="551.1" y="880.6" width="33.5" height="13.8" fill="#ffdddd"/><rect x="583.9" y="880.6" width="17.1" height="13.8" fill="#ffaaaa"/><rect x="600.4" y="880.6" width="33.5" height="13.8" fill="#ddddff"/><rect x="633.2" y="880.6" width="17.1" height="13.8" fill="#0000e0"/><rect x="649.6" y="880.6" width="17.1" height="13.8" fill="#6666ff"/><rect x="666" y="880.6" width="33.5" height="13.8" fill="#0000e0"/><rect x="698.9" y="880.6" width="17.1" height="13.8" fill="#6666ff"/><rect x="715.3" y="880.6" width="17.1" height="13.8" fill="#aaaaff"/><rect x="731.7" y="880.6" width="17.1" height="13.8" fill="#ffaaaa"/><rect x="748.1" y="880.6" width="17.1" height="13.8" fill="#aaaaff"/><rect x="534.7" y="893.7" width="17.1" height="13.8" fill="#ffffff"/><rect x="551.1" y="893.7" width="50" height="13.8" fill="#ffaaaa"/><rect x="600.4" y="893.7" width="33.5" height="13.8" fill="#6666ff"/><rect x="633.2" y="893.7" width="17.1" height="13.8" fill="#aaaaff"/><rect x="649.6" y="893.7" width="66.4" height="13.8" fill="#0000e0"/><rect x="715.3" y="893.7" width="50" height="13.8" fill="#6666ff"/><rect x="534.7" y="906.9" width="17.1" height="13.8" fill="#aaaaff"/><rect x="551.1" y="906.9" width="17.1" height="13.8" fill="#ffdddd"/><rect x="567.5" y="906.9" width="17.1" height="13.8" fill="#ffaaaa"/><rect x="583.9" y="906.9" width="17.1" height="13.8" fill="#aaaaff"/><rect x="600.4" y="906.9" width="33.5" height="13.8" fill="#6666ff"/><rect x="633.2" y="906.9" width="17.1" height="13.8" fill="#0000e0"/><rect x="649.6" y="906.9" width="33.5" height="13.8" fill="#aaaaff"/><rect x="682.4" y="906.9" width="17.1" height="13.8" fill="#6666ff"/><rect x="698.9" y="906.9" width="17.1" height="13.8" fill="#aaaaff"/><rect x="715.3" y="906.9" width="17.1" height="13.8" fill="#6666ff"/><rect x="731.7" y="906.9" width="17.1" height="13.8" fill="#0000e0"/><rect x="748.1" y="906.9" width="17.1" height="13.8" fill="#6666ff"/><rect x="534.7" y="920" width="17.1" height="13.8" fill="#aaaaff"/><rect x="551.1" y="920" width="17.1" height="13.8" fill="#6666ff"/><rect x="567.5" y="920" width="17.1" height="13.8" fill="#aaaaff"/><rect x="583.9" y="920" width="17.1" height="13.8" fill="#ddddff"/><rect x="600.4" y="920" width="17.1" height="13.8" fill="#aaaaff"/><rect x="616.8" y="920" width="17.1" height="13.8" fill="#6666ff"/><rect x="633.2" y="920" width="66.4" height="13.8" fill="#aaaaff"/><rect x="698.9" y="920" width="17.1" height="13.8" fill="#ddddff"/><rect x="715.3" y="920" width="17.1" height="13.8" fill="#aaaaff"/><rect x="731.7" y="920" width="17.1" height="13.8" fill="#0000e0"/><rect x="748.1" y="920" width="17.1" height="13.8" fill="#ddddff"/><rect x="534.7" y="933.1" width="17.1" height="13.8" fill="#aaaaff"/><rect x="551.1" y="933.1" width="17.1" height="13.8" fill="#6666ff"/><rect x="567.5" y="933.1" width="17.1" height="13.8" fill="#ddddff"/><rect x="583.9" y="933.1" width="33.5" height="13.8" fill="#6666ff"/><rect x="616.8" y="933.1" width="17.1" height="13.8" fill="#ddddff"/><rect x="633.2" y="933.1" width="99.2" height="13.8" fill="#aaaaff"/><rect x="731.7" y="933.1" width="17.1" height="13.8" fill="#6666ff"/><rect x="748.1" y="933.1" width="17.1" height="13.8" fill="#aaaaff"/><rect x="534.7" y="946.3" width="33.5" height="13.8" fill="#ddddff"/><rect x="567.5" y="946.3" width="17.1" height="13.8" fill="#aaaaff"/><rect x="583.9" y="946.3" width="17.1" height="13.8" fill="#6666ff"/><rect x="600.4" y="946.3" width="50" height="13.8" fill="#aaaaff"/><rect x="649.6" y="946.3" width="17.1" height="13.8" fill="#6666ff"/><rect x="666" y="946.3" width="50" height="13.8" fill="#aaaaff"/><rect x="715.3" y="946.3" width="17.1" height="13.8" fill="#6666ff"/><rect x="731.7" y="946.3" width="17.1" height="13.8" fill="#aaaaff"/><rect x="748.1" y="946.3" width="17.1" height="13.8" fill="#0000e0"/><rect x="534.7" y="959.4" width="82.8" height="13.8" fill="#aaaaff"/><rect x="616.8" y="959.4" width="33.5" height="13.8" fill="#6666ff"/><rect x="649.6" y="959.4" width="66.4" height="13.8" fill="#aaaaff"/><rect x="715.3" y="959.4" width="17.1" height="13.8" fill="#6666ff"/><rect x="731.7" y="959.4" width="33.5" height="13.8" fill="#0000e0"/><rect x="534.7" y="972.5" width="17.1" height="13.8" fill="#aaaaff"/><rect x="551.1" y="972.5" width="50" height="13.8" fill="#ddddff"/><rect x="600.4" y="972.5" width="82.8" height="13.8" fill="#aaaaff"/><rect x="682.4" y="972.5" width="17.1" height="13.8" fill="#ddddff"/><rect x="698.9" y="972.5" width="33.5" height="13.8" fill="#aaaaff"/><rect x="731.7" y="972.5" width="17.1" height="13.8" fill="#0000e0"/><rect x="748.1" y="972.5" width="17.1" height="13.8" fill="#aaaaff"/><rect x="534.7" y="985.7" width="115.6" height="13.8" fill="#ddddff"/><rect x="649.6" y="985.7" width="17.1" height="13.8" fill="#aaaaff"/><rect x="666" y="985.7" width="33.5" height="13.8" fill="#ddddff"/><rect x="698.9" y="985.7" width="17.1" height="13.8" fill="#aaaaff"/><rect x="715.3" y="985.7" width="17.1" height="13.8" fill="#6666ff"/><rect x="731.7" y="985.7" width="33.5" height="13.8" fill="#aaaaff"/><rect x="534.7" y="998.8" width="99.2" height="13.8" fill="#ddddff"/><rect x="633.2" y="998.8" width="33.5" height="13.8" fill="#ffdddd"/><rect x="666" y="998.8" width="17.1" height="13.8" fill="#aaaaff"/><rect x="682.4" y="998.8" width="17.1" height="13.8" fill="#ddddff"/><rect x="698.9" y="998.8" width="50" height="13.8" fill="#aaaaff"/><rect x="748.1" y="998.8" width="17.1" height="13.8" fill="#6666ff"/><rect x="304.8" y="854.3" width="33.5" height="13.8" fill="#ffffff"/><rect x="337.7" y="854.3" width="17.1" height="13.8" fill="#aaaaff"/><rect x="354.1" y="854.3" width="17.1" height="13.8" fill="#ddddff"/><rect x="370.5" y="854.3" width="99.2" height="13.8" fill="#ffffff"/><rect x="469" y="854.3" width="17.1" height="13.8" fill="#ddddff"/><rect x="485.4" y="854.3" width="17.1" height="13.8" fill="#aaaaff"/><rect x="501.9" y="854.3" width="33.5" height="13.8" fill="#ffffff"/><rect x="304.8" y="867.5" width="33.5" height="13.8" fill="#ffffff"/><rect x="337.7" y="867.5" width="17.1" height="13.8" fill="#ffaaaa"/><rect x="354.1" y="867.5" width="17.1" height="13.8" fill="#ffdddd"/><rect x="370.5" y="867.5" width="17.1" height="13.8" fill="#ddddff"/><rect x="386.9" y="867.5" width="99.2" height="13.8" fill="#ffffff"/><rect x="485.4" y="867.5" width="17.1" height="13.8" fill="#aaaaff"/><rect x="501.9" y="867.5" width="17.1" height="13.8" fill="#ddddff"/><rect x="518.3" y="867.5" width="17.1" height="13.8" fill="#ffffff"/><rect x="304.8" y="880.6" width="33.5" height="13.8" fill="#ffffff"/><rect x="337.7" y="880.6" width="17.1" height="13.8" fill="#ddddff"/><rect x="354.1" y="880.6" width="132" height="13.8" fill="#ffffff"/><rect x="485.4" y="880.6" width="17.1" height="13.8" fill="#ddddff"/><rect x="501.9" y="880.6" width="17.1" height="13.8" fill="#ffaaaa"/><rect x="518.3" y="880.6" width="17.1" height="13.8" fill="#ff6666"/><rect x="304.8" y="893.7" width="50" height="13.8" fill="#ffffff"/><rect x="354.1" y="893.7" width="50" height="13.8" fill="#ffdddd"/><rect x="403.3" y="893.7" width="17.1" height="13.8" fill="#ddddff"/><rect x="419.8" y="893.7" width="50" height="13.8" fill="#ffffff"/><rect x="469" y="893.7" width="33.5" height="13.8" fill="#ddddff"/><rect x="501.9" y="893.7" width="33.5" height="13.8" fill="#ffffff"/><rect x="304.8" y="906.9" width="33.5" height="13.8" fill="#ffffff"/><rect x="337.7" y="906.9" width="33.5" height="13.8" fill="#aaaaff"/><rect x="370.5" y="906.9" width="17.1" height="13.8" fill="#ddddff"/><rect x="386.9" y="906.9" width="17.1" height="13.8" fill="#aaaaff"/><rect x="403.3" y="906.9" width="17.1" height="13.8" fill="#6666ff"/><rect x="419.8" y="906.9" width="17.1" height="13.8" fill="#aaaaff"/><rect x="436.2" y="906.9" width="33.5" height="13.8" fill="#ddddff"/><rect x="469" y="906.9" width="17.1" height="13.8" fill="#aaaaff"/><rect x="485.4" y="906.9" width="17.1" height="13.8" fill="#ddddff"/><rect x="501.9" y="906.9" width="33.5" height="13.8" fill="#aaaaff"/><rect x="304.8" y="920" width="17.1" height="13.8" fill="#ddddff"/><rect x="321.3" y="920" width="33.5" height="13.8" fill="#aaaaff"/><rect x="354.1" y="920" width="50" height="13.8" fill="#ddddff"/><rect x="403.3" y="920" width="50" height="13.8" fill="#aaaaff"/><rect x="452.6" y="920" width="33.5" height="13.8" fill="#6666ff"/><rect x="485.4" y="920" width="33.5" height="13.8" fill="#0000e0"/><rect x="518.3" y="920" width="17.1" height="13.8" fill="#6666ff"/><rect x="304.8" y="933.1" width="17.1" height="13.8" fill="#ddddff"/><rect x="321.3" y="933.1" width="33.5" height="13.8" fill="#aaaaff"/><rect x="354.1" y="933.1" width="66.4" height="13.8" fill="#ddddff"/><rect x="419.8" y="933.1" width="17.1" height="13.8" fill="#aaaaff"/><rect x="436.2" y="933.1" width="33.5" height="13.8" fill="#6666ff"/><rect x="469" y="933.1" width="33.5" height="13.8" fill="#aaaaff"/><rect x="501.9" y="933.1" width="17.1" height="13.8" fill="#6666ff"/><rect x="518.3" y="933.1" width="17.1" height="13.8" fill="#aaaaff"/><rect x="304.8" y="946.3" width="17.1" height="13.8" fill="#aaaaff"/><rect x="321.3" y="946.3" width="33.5" height="13.8" fill="#ddddff"/><rect x="354.1" y="946.3" width="17.1" height="13.8" fill="#aaaaff"/><rect x="370.5" y="946.3" width="50" height="13.8" fill="#ddddff"/><rect x="419.8" y="946.3" width="33.5" height="13.8" fill="#aaaaff"/><rect x="452.6" y="946.3" width="17.1" height="13.8" fill="#ddddff"/><rect x="469" y="946.3" width="50" height="13.8" fill="#6666ff"/><rect x="518.3" y="946.3" width="17.1" height="13.8" fill="#aaaaff"/><rect x="304.8" y="959.4" width="99.2" height="13.8" fill="#aaaaff"/><rect x="403.3" y="959.4" width="17.1" height="13.8" fill="#ddddff"/><rect x="419.8" y="959.4" width="17.1" height="13.8" fill="#aaaaff"/><rect x="436.2" y="959.4" width="17.1" height="13.8" fill="#ddddff"/><rect x="452.6" y="959.4" width="17.1" height="13.8" fill="#aaaaff"/><rect x="469" y="959.4" width="50" height="13.8" fill="#6666ff"/><rect x="518.3" y="959.4" width="17.1" height="13.8" fill="#aaaaff"/><rect x="304.8" y="972.5" width="17.1" height="13.8" fill="#aaaaff"/><rect x="321.3" y="972.5" width="33.5" height="13.8" fill="#ddddff"/><rect x="354.1" y="972.5" width="50" height="13.8" fill="#aaaaff"/><rect x="403.3" y="972.5" width="17.1" height="13.8" fill="#ddddff"/><rect x="419.8" y="972.5" width="33.5" height="13.8" fill="#aaaaff"/><rect x="452.6" y="972.5" width="17.1" height="13.8" fill="#ddddff"/><rect x="469" y="972.5" width="66.4" height="13.8" fill="#aaaaff"/><rect x="304.8" y="985.7" width="17.1" height="13.8" fill="#aaaaff"/><rect x="321.3" y="985.7" width="99.2" height="13.8" fill="#ddddff"/><rect x="419.8" y="985.7" width="33.5" height="13.8" fill="#aaaaff"/><rect x="452.6" y="985.7" width="17.1" height="13.8" fill="#ddddff"/><rect x="469" y="985.7" width="17.1" height="13.8" fill="#aaaaff"/><rect x="485.4" y="985.7" width="50" height="13.8" fill="#ddddff"/><rect x="304.8" y="998.8" width="17.1" height="13.8" fill="#aaaaff"/><rect x="321.3" y="998.8" width="17.1" height="13.8" fill="#0000e0"/><rect x="337.7" y="998.8" width="17.1" height="13.8" fill="#6666ff"/><rect x="354.1" y="998.8" width="50" height="13.8" fill="#aaaaff"/><rect x="403.3" y="998.8" width="17.1" height="13.8" fill="#ddddff"/><rect x="419.8" y="998.8" width="33.5" height="13.8" fill="#ffffff"/><rect x="452.6" y="998.8" width="50" height="13.8" fill="#ddddff"/><rect x="501.9" y="998.8" width="17.1" height="13.8" fill="#aaaaff"/><rect x="518.3" y="998.8" width="17.1" height="13.8" fill="#ddddff"/><rect x="304.8" y="1011.9" width="17.1" height="13.8" fill="#ddddff"/><rect x="321.3" y="1011.9" width="33.5" height="13.8" fill="#aaaaff"/><rect x="354.1" y="1011.9" width="17.1" height="13.8" fill="#ddddff"/><rect x="370.5" y="1011.9" width="33.5" height="13.8" fill="#aaaaff"/><rect x="403.3" y="1011.9" width="66.4" height="13.8" fill="#ffffff"/><rect x="469" y="1011.9" width="66.4" height="13.8" fill="#ddddff"/><rect x="304.8" y="1025.1" width="50" height="13.8" fill="#ddddff"/><rect x="354.1" y="1025.1" width="33.5" height="13.8" fill="#ffffff"/><rect x="386.9" y="1025.1" width="17.1" height="13.8" fill="#ddddff"/><rect x="403.3" y="1025.1" width="66.4" height="13.8" fill="#ffffff"/><rect x="469" y="1025.1" width="66.4" height="13.8" fill="#ddddff"/><rect x="304.8" y="1038.2" width="99.2" height="13.8" fill="#ddddff"/><rect x="403.3" y="1038.2" width="33.5" height="13.8" fill="#aaaaff"/><rect x="436.2" y="1038.2" width="33.5" height="13.8" fill="#ddddff"/><rect x="469" y="1038.2" width="17.1" height="13.8" fill="#ffffff"/><rect x="485.4" y="1038.2" width="50" height="13.8" fill="#ddddff"/><rect x="304.8" y="1051.3" width="66.4" height="13.8" fill="#ddddff"/><rect x="370.5" y="1051.3" width="17.1" height="13.8" fill="#ffffff"/><rect x="386.9" y="1051.3" width="17.1" height="13.8" fill="#ddddff"/><rect x="403.3" y="1051.3" width="50" height="13.8" fill="#aaaaff"/><rect x="452.6" y="1051.3" width="17.1" height="13.8" fill="#6666ff"/><rect x="469" y="1051.3" width="66.4" height="13.8" fill="#ddddff"/><rect x="304.8" y="1064.5" width="115.6" height="13.8" fill="#ddddff"/><rect x="419.8" y="1064.5" width="50" height="13.8" fill="#aaaaff"/><rect x="469" y="1064.5" width="17.1" height="13.8" fill="#6666ff"/><rect x="485.4" y="1064.5" width="17.1" height="13.8" fill="#aaaaff"/><rect x="501.9" y="1064.5" width="17.1" height="13.8" fill="#ddddff"/><rect x="518.3" y="1064.5" width="17.1" height="13.8" fill="#aaaaff"/><rect x="304.8" y="1077.6" width="115.6" height="13.8" fill="#ddddff"/><rect x="419.8" y="1077.6" width="33.5" height="13.8" fill="#aaaaff"/><rect x="452.6" y="1077.6" width="33.5" height="13.8" fill="#6666ff"/><rect x="485.4" y="1077.6" width="17.1" height="13.8" fill="#aaaaff"/><rect x="501.9" y="1077.6" width="17.1" height="13.8" fill="#6666ff"/><rect x="518.3" y="1077.6" width="17.1" height="13.8" fill="#aaaaff"/><rect x="304.8" y="1090.7" width="17.1" height="13.8" fill="#ffffff"/><rect x="321.3" y="1090.7" width="17.1" height="13.8" fill="#ddddff"/><rect x="337.7" y="1090.7" width="33.5" height="13.8" fill="#aaaaff"/><rect x="370.5" y="1090.7" width="17.1" height="13.8" fill="#ddddff"/><rect x="386.9" y="1090.7" width="17.1" height="13.8" fill="#aaaaff"/><rect x="403.3" y="1090.7" width="33.5" height="13.8" fill="#ddddff"/><rect x="436.2" y="1090.7" width="33.5" height="13.8" fill="#aaaaff"/><rect x="469" y="1090.7" width="33.5" height="13.8" fill="#6666ff"/><rect x="501.9" y="1090.7" width="17.1" height="13.8" fill="#aaaaff"/><rect x="518.3" y="1090.7" width="17.1" height="13.8" fill="#ddddff"/><rect x="304.8" y="1103.9" width="33.5" height="13.8" fill="#ffffff"/><rect x="337.7" y="1103.9" width="17.1" height="13.8" fill="#ddddff"/><rect x="354.1" y="1103.9" width="33.5" height="13.8" fill="#aaaaff"/><rect x="386.9" y="1103.9" width="50" height="13.8" fill="#ddddff"/><rect x="436.2" y="1103.9" width="17.1" height="13.8" fill="#aaaaff"/><rect x="452.6" y="1103.9" width="17.1" height="13.8" fill="#6666ff"/><rect x="469" y="1103.9" width="17.1" height="13.8" fill="#aaaaff"/><rect x="485.4" y="1103.9" width="50" height="13.8" fill="#6666ff"/><rect x="75" y="854.3" width="17.1" height="13.8" fill="#ddddff"/><rect x="91.4" y="854.3" width="17.1" height="13.8" fill="#ffdddd"/><rect x="107.8" y="854.3" width="33.5" height="13.8" fill="#ffaaaa"/><rect x="140.7" y="854.3" width="33.5" height="13.8" fill="#ffffff"/><rect x="173.5" y="854.3" width="33.5" height="13.8" fill="#ddddff"/><rect x="206.3" y="854.3" width="33.5" height="13.8" fill="#ffdddd"/><rect x="239.2" y="854.3" width="50" height="13.8" fill="#ddddff"/><rect x="288.4" y="854.3" width="17.1" height="13.8" fill="#aaaaff"/><rect x="75" y="867.5" width="17.1" height="13.8" fill="#aaaaff"/><rect x="91.4" y="867.5" width="17.1" height="13.8" fill="#ddddff"/><rect x="107.8" y="867.5" width="33.5" height="13.8" fill="#ffaaaa"/><rect x="140.7" y="867.5" width="33.5" height="13.8" fill="#ffffff"/><rect x="173.5" y="867.5" width="33.5" height="13.8" fill="#ffdddd"/><rect x="206.3" y="867.5" width="17.1" height="13.8" fill="#aaaaff"/><rect x="222.8" y="867.5" width="17.1" height="13.8" fill="#ffdddd"/><rect x="239.2" y="867.5" width="33.5" height="13.8" fill="#aaaaff"/><rect x="272" y="867.5" width="33.5" height="13.8" fill="#ddddff"/><rect x="75" y="880.6" width="17.1" height="13.8" fill="#ddddff"/><rect x="91.4" y="880.6" width="33.5" height="13.8" fill="#ffaaaa"/><rect x="124.2" y="880.6" width="17.1" height="13.8" fill="#ffdddd"/><rect x="140.7" y="880.6" width="33.5" height="13.8" fill="#ffaaaa"/><rect x="173.5" y="880.6" width="33.5" height="13.8" fill="#ffdddd"/><rect x="206.3" y="880.6" width="17.1" height="13.8" fill="#aaaaff"/><rect x="222.8" y="880.6" width="33.5" height="13.8" fill="#ffaaaa"/><rect x="255.6" y="880.6" width="17.1" height="13.8" fill="#aaaaff"/><rect x="272" y="880.6" width="17.1" height="13.8" fill="#ddddff"/><rect x="288.4" y="880.6" width="17.1" height="13.8" fill="#ffffff"/><rect x="75" y="893.7" width="17.1" height="13.8" fill="#ffdddd"/><rect x="91.4" y="893.7" width="17.1" height="13.8" fill="#ffaaaa"/><rect x="107.8" y="893.7" width="33.5" height="13.8" fill="#ffdddd"/><rect x="140.7" y="893.7" width="33.5" height="13.8" fill="#ddddff"/><rect x="173.5" y="893.7" width="17.1" height="13.8" fill="#ffaaaa"/><rect x="189.9" y="893.7" width="50" height="13.8" fill="#aaaaff"/><rect x="239.2" y="893.7" width="33.5" height="13.8" fill="#6666ff"/><rect x="272" y="893.7" width="17.1" height="13.8" fill="#aaaaff"/><rect x="288.4" y="893.7" width="17.1" height="13.8" fill="#ddddff"/><rect x="75" y="906.9" width="17.1" height="13.8" fill="#ffaaaa"/><rect x="91.4" y="906.9" width="17.1" height="13.8" fill="#ffdddd"/><rect x="107.8" y="906.9" width="17.1" height="13.8" fill="#ffaaaa"/><rect x="124.2" y="906.9" width="66.4" height="13.8" fill="#ddddff"/><rect x="189.9" y="906.9" width="50" height="13.8" fill="#aaaaff"/><rect x="239.2" y="906.9" width="17.1" height="13.8" fill="#ddddff"/><rect x="255.6" y="906.9" width="50" height="13.8" fill="#ffffff"/><rect x="75" y="920" width="33.5" height="13.8" fill="#ffdddd"/><rect x="107.8" y="920" width="50" height="13.8" fill="#aaaaff"/><rect x="157.1" y="920" width="17.1" height="13.8" fill="#ddddff"/><rect x="173.5" y="920" width="50" height="13.8" fill="#aaaaff"/><rect x="222.8" y="920" width="33.5" height="13.8" fill="#6666ff"/><rect x="255.6" y="920" width="50" height="13.8" fill="#ffffff"/><rect x="75" y="933.1" width="17.1" height="13.8" fill="#ddddff"/><rect x="91.4" y="933.1" width="132" height="13.8" fill="#aaaaff"/><rect x="222.8" y="933.1" width="17.1" height="13.8" fill="#ddddff"/><rect x="239.2" y="933.1" width="50" height="13.8" fill="#aaaaff"/><rect x="288.4" y="933.1" width="17.1" height="13.8" fill="#ffffff"/><rect x="75" y="946.3" width="50" height="13.8" fill="#aaaaff"/><rect x="124.2" y="946.3" width="17.1" height="13.8" fill="#ffdddd"/><rect x="140.7" y="946.3" width="17.1" height="13.8" fill="#ddddff"/><rect x="157.1" y="946.3" width="66.4" height="13.8" fill="#aaaaff"/><rect x="222.8" y="946.3" width="17.1" height="13.8" fill="#6666ff"/><rect x="239.2" y="946.3" width="33.5" height="13.8" fill="#aaaaff"/><rect x="272" y="946.3" width="33.5" height="13.8" fill="#ddddff"/><rect x="75" y="959.4" width="33.5" height="13.8" fill="#aaaaff"/><rect x="107.8" y="959.4" width="17.1" height="13.8" fill="#ddddff"/><rect x="124.2" y="959.4" width="33.5" height="13.8" fill="#aaaaff"/><rect x="157.1" y="959.4" width="17.1" height="13.8" fill="#ddddff"/><rect x="173.5" y="959.4" width="33.5" height="13.8" fill="#aaaaff"/><rect x="206.3" y="959.4" width="33.5" height="13.8" fill="#ddddff"/><rect x="239.2" y="959.4" width="33.5" height="13.8" fill="#6666ff"/><rect x="272" y="959.4" width="17.1" height="13.8" fill="#ddddff"/><rect x="288.4" y="959.4" width="17.1" height="13.8" fill="#aaaaff"/><rect x="75" y="972.5" width="66.4" height="13.8" fill="#aaaaff"/><rect x="140.7" y="972.5" width="33.5" height="13.8" fill="#ddddff"/><rect x="173.5" y="972.5" width="17.1" height="13.8" fill="#aaaaff"/><rect x="189.9" y="972.5" width="17.1" height="13.8" fill="#ddddff"/><rect x="206.3" y="972.5" width="66.4" height="13.8" fill="#aaaaff"/><rect x="272" y="972.5" width="17.1" height="13.8" fill="#ddddff"/><rect x="288.4" y="972.5" width="17.1" height="13.8" fill="#aaaaff"/><rect x="75" y="985.7" width="66.4" height="13.8" fill="#aaaaff"/><rect x="140.7" y="985.7" width="33.5" height="13.8" fill="#ddddff"/><rect x="173.5" y="985.7" width="17.1" height="13.8" fill="#aaaaff"/><rect x="189.9" y="985.7" width="17.1" height="13.8" fill="#ffffff"/><rect x="206.3" y="985.7" width="17.1" height="13.8" fill="#ddddff"/><rect x="222.8" y="985.7" width="33.5" height="13.8" fill="#6666ff"/><rect x="255.6" y="985.7" width="50" height="13.8" fill="#0000e0"/><rect x="75" y="998.8" width="17.1" height="13.8" fill="#ddddff"/><rect x="91.4" y="998.8" width="50" height="13.8" fill="#aaaaff"/><rect x="140.7" y="998.8" width="33.5" height="13.8" fill="#ffdddd"/><rect x="173.5" y="998.8" width="50" height="13.8" fill="#aaaaff"/><rect x="222.8" y="998.8" width="17.1" height="13.8" fill="#ddddff"/><rect x="239.2" y="998.8" width="17.1" height="13.8" fill="#ffdddd"/><rect x="255.6" y="998.8" width="33.5" height="13.8" fill="#ffffff"/><rect x="288.4" y="998.8" width="17.1" height="13.8" fill="#6666ff"/><rect x="75" y="1011.9" width="17.1" height="13.8" fill="#ffaaaa"/><rect x="91.4" y="1011.9" width="17.1" height="13.8" fill="#ffdddd"/><rect x="107.8" y="1011.9" width="148.5" height="13.8" fill="#ffffff"/><rect x="255.6" y="1011.9" width="50" height="13.8" fill="#ddddff"/><rect x="75" y="1025.1" width="50" height="13.8" fill="#ffffff"/><rect x="124.2" y="1025.1" width="17.1" height="13.8" fill="#ddddff"/><rect x="140.7" y="1025.1" width="33.5" height="13.8" fill="#aaaaff"/><rect x="173.5" y="1025.1" width="17.1" height="13.8" fill="#ffffff"/><rect x="189.9" y="1025.1" width="17.1" height="13.8" fill="#ddddff"/><rect x="206.3" y="1025.1" width="33.5" height="13.8" fill="#aaaaff"/><rect x="239.2" y="1025.1" width="17.1" height="13.8" fill="#6666ff"/><rect x="255.6" y="1025.1" width="33.5" height="13.8" fill="#aaaaff"/><rect x="288.4" y="1025.1" width="17.1" height="13.8" fill="#6666ff"/><rect x="75" y="1038.2" width="33.5" height="13.8" fill="#ddddff"/><rect x="107.8" y="1038.2" width="17.1" height="13.8" fill="#ffffff"/><rect x="124.2" y="1038.2" width="82.8" height="13.8" fill="#aaaaff"/><rect x="206.3" y="1038.2" width="50" height="13.8" fill="#6666ff"/><rect x="255.6" y="1038.2" width="17.1" height="13.8" fill="#aaaaff"/><rect x="272" y="1038.2" width="17.1" height="13.8" fill="#ddddff"/><rect x="288.4" y="1038.2" width="17.1" height="13.8" fill="#aaaaff"/><rect x="75" y="1051.3" width="66.4" height="13.8" fill="#ddddff"/><rect x="140.7" y="1051.3" width="17.1" height="13.8" fill="#aaaaff"/><rect x="157.1" y="1051.3" width="17.1" height="13.8" fill="#6666ff"/><rect x="173.5" y="1051.3" width="33.5" height="13.8" fill="#aaaaff"/><rect x="206.3" y="1051.3" width="17.1" height="13.8" fill="#ddddff"/><rect x="222.8" y="1051.3" width="82.8" height="13.8" fill="#ffffff"/><rect x="75" y="1064.5" width="66.4" height="13.8" fill="#ddddff"/><rect x="140.7" y="1064.5" width="17.1" height="13.8" fill="#aaaaff"/><rect x="157.1" y="1064.5" width="17.1" height="13.8" fill="#6666ff"/><rect x="173.5" y="1064.5" width="17.1" height="13.8" fill="#aaaaff"/><rect x="189.9" y="1064.5" width="82.8" height="13.8" fill="#ffffff"/><rect x="272" y="1064.5" width="33.5" height="13.8" fill="#ddddff"/><rect x="75" y="1077.6" width="17.1" height="13.8" fill="#ddddff"/><rect x="91.4" y="1077.6" width="115.6" height="13.8" fill="#aaaaff"/><rect x="206.3" y="1077.6" width="99.2" height="13.8" fill="#ddddff"/><rect x="75" y="1090.7" width="17.1" height="13.8" fill="#ffffff"/><rect x="91.4" y="1090.7" width="66.4" height="13.8" fill="#ddddff"/><rect x="157.1" y="1090.7" width="82.8" height="13.8" fill="#aaaaff"/><rect x="239.2" y="1090.7" width="66.4" height="13.8" fill="#ddddff"/><rect x="75" y="1103.9" width="99.2" height="13.8" fill="#ffffff"/><rect x="173.5" y="1103.9" width="33.5" height="13.8" fill="#ddddff"/><rect x="206.3" y="1103.9" width="33.5" height="13.8" fill="#aaaaff"/><rect x="239.2" y="1103.9" width="33.5" height="13.8" fill="#ddddff"/><rect x="272" y="1103.9" width="17.1" height="13.8" fill="#ffffff"/><rect x="288.4" y="1103.9" width="17.1" height="13.8" fill="#ddddff"/><rect x="534.7" y="1011.9" width="50" height="13.8" fill="#ddddff"/><rect x="583.9" y="1011.9" width="50" height="13.8" fill="#ffdddd"/><rect x="633.2" y="1011.9" width="33.5" height="13.8" fill="#ddddff"/><rect x="666" y="1011.9" width="33.5" height="13.8" fill="#aaaaff"/><rect x="698.9" y="1011.9" width="17.1" height="13.8" fill="#6666ff"/><rect x="715.3" y="1011.9" width="50" height="13.8" fill="#aaaaff"/><rect x="534.7" y="1025.1" width="82.8" height="13.8" fill="#ddddff"/><rect x="616.8" y="1025.1" width="33.5" height="13.8" fill="#aaaaff"/><rect x="649.6" y="1025.1" width="17.1" height="13.8" fill="#6666ff"/><rect x="666" y="1025.1" width="99.2" height="13.8" fill="#0000e0"/><rect x="534.7" y="1038.2" width="17.1" height="13.8" fill="#ddddff"/><rect x="551.1" y="1038.2" width="50" height="13.8" fill="#aaaaff"/><rect x="600.4" y="1038.2" width="17.1" height="13.8" fill="#6666ff"/><rect x="616.8" y="1038.2" width="115.6" height="13.8" fill="#0000e0"/><rect x="731.7" y="1038.2" width="17.1" height="13.8" fill="#6666ff"/><rect x="748.1" y="1038.2" width="17.1" height="13.8" fill="#aaaaff"/><rect x="534.7" y="1051.3" width="17.1" height="13.8" fill="#ddddff"/><rect x="551.1" y="1051.3" width="33.5" height="13.8" fill="#aaaaff"/><rect x="583.9" y="1051.3" width="17.1" height="13.8" fill="#6666ff"/><rect x="600.4" y="1051.3" width="66.4" height="13.8" fill="#0000e0"/><rect x="666" y="1051.3" width="33.5" height="13.8" fill="#6666ff"/><rect x="698.9" y="1051.3" width="17.1" height="13.8" fill="#ddddff"/><rect x="715.3" y="1051.3" width="33.5" height="13.8" fill="#ffffff"/><rect x="748.1" y="1051.3" width="17.1" height="13.8" fill="#ddddff"/><rect x="534.7" y="1064.5" width="17.1" height="13.8" fill="#aaaaff"/><rect x="551.1" y="1064.5" width="17.1" height="13.8" fill="#6666ff"/><rect x="567.5" y="1064.5" width="17.1" height="13.8" fill="#aaaaff"/><rect x="583.9" y="1064.5" width="17.1" height="13.8" fill="#6666ff"/><rect x="600.4" y="1064.5" width="50" height="13.8" fill="#0000e0"/><rect x="649.6" y="1064.5" width="17.1" height="13.8" fill="#6666ff"/><rect x="666" y="1064.5" width="17.1" height="13.8" fill="#aaaaff"/><rect x="682.4" y="1064.5" width="17.1" height="13.8" fill="#6666ff"/><rect x="698.9" y="1064.5" width="17.1" height="13.8" fill="#ddddff"/><rect x="715.3" y="1064.5" width="50" height="13.8" fill="#ffffff"/><rect x="534.7" y="1077.6" width="33.5" height="13.8" fill="#aaaaff"/><rect x="567.5" y="1077.6" width="17.1" height="13.8" fill="#6666ff"/><rect x="583.9" y="1077.6" width="33.5" height="13.8" fill="#0000e0"/><rect x="616.8" y="1077.6" width="33.5" height="13.8" fill="#6666ff"/><rect x="649.6" y="1077.6" width="17.1" height="13.8" fill="#ddddff"/><rect x="666" y="1077.6" width="17.1" height="13.8" fill="#6666ff"/><rect x="682.4" y="1077.6" width="17.1" height="13.8" fill="#ddddff"/><rect x="698.9" y="1077.6" width="17.1" height="13.8" fill="#ffffff"/><rect x="715.3" y="1077.6" width="33.5" height="13.8" fill="#aaaaff"/><rect x="748.1" y="1077.6" width="17.1" height="13.8" fill="#ddddff"/><rect x="534.7" y="1090.7" width="17.1" height="13.8" fill="#aaaaff"/><rect x="551.1" y="1090.7" width="17.1" height="13.8" fill="#ddddff"/><rect x="567.5" y="1090.7" width="17.1" height="13.8" fill="#6666ff"/><rect x="583.9" y="1090.7" width="33.5" height="13.8" fill="#0000e0"/><rect x="616.8" y="1090.7" width="17.1" height="13.8" fill="#ddddff"/><rect x="633.2" y="1090.7" width="17.1" height="13.8" fill="#6666ff"/><rect x="649.6" y="1090.7" width="17.1" height="13.8" fill="#ffffff"/><rect x="666" y="1090.7" width="17.1" height="13.8" fill="#ddddff"/><rect x="682.4" y="1090.7" width="33.5" height="13.8" fill="#6666ff"/><rect x="715.3" y="1090.7" width="33.5" height="13.8" fill="#aaaaff"/><rect x="748.1" y="1090.7" width="17.1" height="13.8" fill="#ddddff"/><rect x="534.7" y="1103.9" width="17.1" height="13.8" fill="#6666ff"/><rect x="551.1" y="1103.9" width="17.1" height="13.8" fill="#ddddff"/><rect x="567.5" y="1103.9" width="17.1" height="13.8" fill="#ffffff"/><rect x="583.9" y="1103.9" width="33.5" height="13.8" fill="#6666ff"/><rect x="616.8" y="1103.9" width="33.5" height="13.8" fill="#0000e0"/><rect x="649.6" y="1103.9" width="33.5" height="13.8" fill="#6666ff"/><rect x="682.4" y="1103.9" width="17.1" height="13.8" fill="#0000e0"/><rect x="698.9" y="1103.9" width="17.1" height="13.8" fill="#6666ff"/><rect x="715.3" y="1103.9" width="17.1" height="13.8" fill="#aaaaff"/><rect x="731.7" y="1103.9" width="17.1" height="13.8" fill="#ddddff"/><rect x="748.1" y="1103.9" width="17.1" height="13.8" fill="#ffffff"/><rect x="534.7" y="1117" width="17.1" height="13.8" fill="#0000e0"/><rect x="551.1" y="1117" width="33.5" height="13.8" fill="#6666ff"/><rect x="583.9" y="1117" width="17.1" height="13.8" fill="#aaaaff"/><rect x="600.4" y="1117" width="17.1" height="13.8" fill="#6666ff"/><rect x="616.8" y="1117" width="17.1" height="13.8" fill="#0000e0"/><rect x="633.2" y="1117" width="17.1" height="13.8" fill="#ddddff"/><rect x="649.6" y="1117" width="17.1" height="13.8" fill="#aaaaff"/><rect x="666" y="1117" width="50" height="13.8" fill="#ddddff"/><rect x="715.3" y="1117" width="17.1" height="13.8" fill="#6666ff"/><rect x="731.7" y="1117" width="33.5" height="13.8" fill="#ffffff"/><rect x="534.7" y="1130.1" width="132" height="13.8" fill="#ffffff"/><rect x="666" y="1130.1" width="33.5" height="13.8" fill="#aaaaff"/><rect x="698.9" y="1130.1" width="66.4" height="13.8" fill="#ffffff"/></g><rect x="666" y="880.6" width="32.8" height="26.3" fill="url(#pfc)"/><rect x="797.4" y="880.6" width="65.7" height="26.3" fill="url(#pfc)"/><rect x="764.5" y="933.1" width="32.8" height="26.3" fill="url(#pfc)"/><rect x="534.7" y="1038.2" width="65.7" height="26.3" fill="url(#pfc)"/><rect x="403.3" y="1064.5" width="65.7" height="26.3" fill="url(#pfc)"/><rect x="534.7" y="1064.5" width="65.7" height="26.3" fill="url(#pfc)"/><rect x="534.7" y="1090.7" width="32.8" height="26.3" fill="url(#pfc)"/><rect x="107.8" y="1195.8" width="32.8" height="26.3" fill="url(#pfc)"/><rect x="107.8" y="1222.1" width="32.8" height="26.3" fill="url(#pfc)"/><rect x="469" y="857.6" width="32.8" height="23" fill="url(#phc)"/><rect x="797.4" y="857.6" width="32.8" height="23" fill="url(#phc)"/><rect x="567.5" y="880.6" width="32.8" height="26.3" fill="url(#phc)"/><rect x="633.2" y="880.6" width="32.8" height="26.3" fill="url(#phc)"/><rect x="698.9" y="880.6" width="32.8" height="26.3" fill="url(#phc)"/><rect x="863" y="880.6" width="32.8" height="26.3" fill="url(#phc)"/><rect x="337.7" y="906.9" width="98.5" height="26.3" fill="url(#phc)"/><rect x="534.7" y="906.9" width="32.8" height="26.3" fill="url(#phc)"/><rect x="600.4" y="906.9" width="98.5" height="26.3" fill="url(#phc)"/><rect x="731.7" y="906.9" width="32.8" height="26.3" fill="url(#phc)"/><rect x="830.2" y="906.9" width="65.7" height="26.3" fill="url(#phc)"/><rect x="173.5" y="933.1" width="32.8" height="26.3" fill="url(#phc)"/><rect x="239.2" y="933.1" width="32.8" height="26.3" fill="url(#phc)"/><rect x="337.7" y="933.1" width="197" height="26.3" fill="url(#phc)"/><rect x="567.5" y="933.1" width="98.5" height="26.3" fill="url(#phc)"/><rect x="731.7" y="933.1" width="32.8" height="26.3" fill="url(#phc)"/><rect x="797.4" y="933.1" width="32.8" height="26.3" fill="url(#phc)"/><rect x="863" y="933.1" width="65.7" height="26.3" fill="url(#phc)"/><rect x="79.1" y="959.4" width="28.7" height="26.3" fill="url(#phc)"/><rect x="173.5" y="959.4" width="32.8" height="26.3" fill="url(#phc)"/><rect x="304.8" y="959.4" width="229.8" height="26.3" fill="url(#phc)"/><rect x="567.5" y="959.4" width="98.5" height="26.3" fill="url(#phc)"/><rect x="731.7" y="959.4" width="98.5" height="26.3" fill="url(#phc)"/><rect x="895.9" y="959.4" width="32.8" height="26.3" fill="url(#phc)"/><rect x="79.1" y="985.7" width="61.6" height="26.3" fill="url(#phc)"/><rect x="304.8" y="985.7" width="295.5" height="26.3" fill="url(#phc)"/><rect x="731.7" y="985.7" width="98.5" height="26.3" fill="url(#phc)"/><rect x="173.5" y="1011.9" width="229.8" height="26.3" fill="url(#phc)"/><rect x="469" y="1011.9" width="131.3" height="26.3" fill="url(#phc)"/><rect x="698.9" y="1011.9" width="98.5" height="26.3" fill="url(#phc)"/><rect x="140.7" y="1038.2" width="394" height="26.3" fill="url(#phc)"/><rect x="600.4" y="1038.2" width="164.2" height="26.3" fill="url(#phc)"/><rect x="107.8" y="1064.5" width="98.5" height="26.3" fill="url(#phc)"/><rect x="272" y="1064.5" width="131.3" height="26.3" fill="url(#phc)"/><rect x="469" y="1064.5" width="65.7" height="26.3" fill="url(#phc)"/><rect x="600.4" y="1064.5" width="65.7" height="26.3" fill="url(#phc)"/><rect x="79.1" y="1090.7" width="455.6" height="26.3" fill="url(#phc)"/><rect x="567.5" y="1090.7" width="164.2" height="26.3" fill="url(#phc)"/><rect x="140.7" y="1117" width="32.8" height="26.3" fill="url(#phc)"/><rect x="337.7" y="1117" width="65.7" height="26.3" fill="url(#phc)"/><rect x="79.1" y="1143.3" width="61.6" height="26.3" fill="url(#phc)"/><rect x="173.5" y="1143.3" width="65.7" height="26.3" fill="url(#phc)"/><rect x="79.1" y="1169.5" width="28.7" height="26.3" fill="url(#phc)"/><rect x="79.1" y="1195.8" width="28.7" height="26.3" fill="url(#phc)"/><rect x="140.7" y="1195.8" width="32.8" height="26.3" fill="url(#phc)"/><rect x="79.1" y="1274.6" width="28.7" height="26.3" fill="url(#phc)"/><path fill="none" stroke="#000" stroke-width="1.1" d="M117.3 864.2h5.7M120.1 861.3v5.7M125.5 870.7h5.7M128.4 867.9v5.7M133.7 864.2h5.7M136.6 861.3v5.7M248.6 864.2h5.7M251.5 861.3v5.7M256.8 870.7h5.7M259.7 867.9v5.7M265.1 864.2h5.7M267.9 861.3v5.7M347.1 864.2h5.7M350 861.3v5.7M355.3 870.7h5.7M358.2 867.9v5.7M363.6 864.2h5.7M366.4 861.3v5.7M511.3 864.2h5.7M514.2 861.3v5.7M519.5 870.7h5.7M522.4 867.9v5.7M527.7 864.2h5.7M530.6 861.3v5.7M642.7 864.2h5.7M645.5 861.3v5.7M650.9 870.7h5.7M653.7 867.9v5.7M659.1 864.2h5.7M661.9 861.3v5.7M675.5 864.2h5.7M678.3 861.3v5.7M683.7 870.7h5.7M686.5 867.9v5.7M691.9 864.2h5.7M694.8 861.3v5.7M708.3 864.2h5.7M711.2 861.3v5.7M716.5 870.7h5.7M719.4 867.9v5.7M724.7 864.2h5.7M727.6 861.3v5.7M839.7 864.2h5.7M842.5 861.3v5.7M847.9 870.7h5.7M850.7 867.9v5.7M856.1 864.2h5.7M858.9 861.3v5.7M905.3 864.2h5.7M908.2 861.3v5.7M913.5 870.7h5.7M916.4 867.9v5.7M921.8 864.2h5.7M924.6 861.3v5.7M248.6 890.4h5.7M251.5 887.6v5.7M256.8 897h5.7M259.7 894.2v5.7M265.1 890.4h5.7M267.9 887.6v5.7M347.1 890.4h5.7M350 887.6v5.7M355.3 897h5.7M358.2 894.2v5.7M363.6 890.4h5.7M366.4 887.6v5.7M380 890.4h5.7M382.8 887.6v5.7M388.2 897h5.7M391 894.2v5.7M396.4 890.4h5.7M399.2 887.6v5.7M412.8 890.4h5.7M415.7 887.6v5.7M421 897h5.7M423.9 894.2v5.7M429.2 890.4h5.7M432.1 887.6v5.7M478.5 890.4h5.7M481.3 887.6v5.7M486.7 897h5.7M489.5 894.2v5.7M494.9 890.4h5.7M497.7 887.6v5.7M544.1 890.4h5.7M547 887.6v5.7M552.4 897h5.7M555.2 894.2v5.7M560.6 890.4h5.7M563.4 887.6v5.7M741.2 890.4h5.7M744 887.6v5.7M749.4 897h5.7M752.2 894.2v5.7M757.6 890.4h5.7M760.4 887.6v5.7M905.3 890.4h5.7M908.2 887.6v5.7M913.5 897h5.7M916.4 894.2v5.7M921.8 890.4h5.7M924.6 887.6v5.7M938.2 890.4h5.7M941 887.6v5.7M946.4 897h5.7M949.2 894.2v5.7M954.6 890.4h5.7M957.4 887.6v5.7M117.3 916.7h5.7M120.1 913.9v5.7M125.5 923.3h5.7M128.4 920.4v5.7M133.7 916.7h5.7M136.6 913.9v5.7M150.1 916.7h5.7M153 913.9v5.7M158.3 923.3h5.7M161.2 920.4v5.7M166.5 916.7h5.7M169.4 913.9v5.7M183 916.7h5.7M185.8 913.9v5.7M191.2 923.3h5.7M194 920.4v5.7M199.4 916.7h5.7M202.2 913.9v5.7M215.8 916.7h5.7M218.6 913.9v5.7M224 923.3h5.7M226.9 920.4v5.7M232.2 916.7h5.7M235.1 913.9v5.7M248.6 916.7h5.7M251.5 913.9v5.7M256.8 923.3h5.7M259.7 920.4v5.7M265.1 916.7h5.7M267.9 913.9v5.7M314.3 916.7h5.7M317.2 913.9v5.7M322.5 923.3h5.7M325.4 920.4v5.7M330.7 916.7h5.7M333.6 913.9v5.7M445.6 916.7h5.7M448.5 913.9v5.7M453.9 923.3h5.7M456.7 920.4v5.7M462.1 916.7h5.7M464.9 913.9v5.7M478.5 916.7h5.7M481.3 913.9v5.7M486.7 923.3h5.7M489.5 920.4v5.7M494.9 916.7h5.7M497.7 913.9v5.7M511.3 916.7h5.7M514.2 913.9v5.7M519.5 923.3h5.7M522.4 920.4v5.7M527.7 916.7h5.7M530.6 913.9v5.7M577 916.7h5.7M579.8 913.9v5.7M585.2 923.3h5.7M588 920.4v5.7M593.4 916.7h5.7M596.3 913.9v5.7M708.3 916.7h5.7M711.2 913.9v5.7M716.5 923.3h5.7M719.4 920.4v5.7M724.7 916.7h5.7M727.6 913.9v5.7M774 916.7h5.7M776.8 913.9v5.7M782.2 923.3h5.7M785.1 920.4v5.7M790.4 916.7h5.7M793.3 913.9v5.7M806.8 916.7h5.7M809.7 913.9v5.7M815 923.3h5.7M817.9 920.4v5.7M823.2 916.7h5.7M826.1 913.9v5.7M938.2 916.7h5.7M941 913.9v5.7M946.4 923.3h5.7M949.2 920.4v5.7M954.6 916.7h5.7M957.4 913.9v5.7M117.3 943h5.7M120.1 940.1v5.7M125.5 949.5h5.7M128.4 946.7v5.7M133.7 943h5.7M136.6 940.1v5.7M150.1 943h5.7M153 940.1v5.7M158.3 949.5h5.7M161.2 946.7v5.7M166.5 943h5.7M169.4 940.1v5.7M281.5 943h5.7M284.3 940.1v5.7M289.7 949.5h5.7M292.5 946.7v5.7M297.9 943h5.7M300.7 940.1v5.7M314.3 943h5.7M317.2 940.1v5.7M322.5 949.5h5.7M325.4 946.7v5.7M330.7 943h5.7M333.6 940.1v5.7M544.1 943h5.7M547 940.1v5.7M552.4 949.5h5.7M555.2 946.7v5.7M560.6 943h5.7M563.4 940.1v5.7M675.5 943h5.7M678.3 940.1v5.7M683.7 949.5h5.7M686.5 946.7v5.7M691.9 943h5.7M694.8 940.1v5.7M708.3 943h5.7M711.2 940.1v5.7M716.5 949.5h5.7M719.4 946.7v5.7M724.7 943h5.7M727.6 940.1v5.7M938.2 943h5.7M941 940.1v5.7M946.4 949.5h5.7M949.2 946.7v5.7M954.6 943h5.7M957.4 940.1v5.7M117.3 969.2h5.7M120.1 966.4v5.7M125.5 975.8h5.7M128.4 973v5.7M133.7 969.2h5.7M136.6 966.4v5.7M215.8 969.2h5.7M218.6 966.4v5.7M224 975.8h5.7M226.9 973v5.7M232.2 969.2h5.7M235.1 966.4v5.7M248.6 969.2h5.7M251.5 966.4v5.7M256.8 975.8h5.7M259.7 973v5.7M265.1 969.2h5.7M267.9 966.4v5.7M281.5 969.2h5.7M284.3 966.4v5.7M289.7 975.8h5.7M292.5 973v5.7M297.9 969.2h5.7M300.7 966.4v5.7M544.1 969.2h5.7M547 966.4v5.7M552.4 975.8h5.7M555.2 973v5.7M560.6 969.2h5.7M563.4 966.4v5.7M675.5 969.2h5.7M678.3 966.4v5.7M683.7 975.8h5.7M686.5 973v5.7M691.9 969.2h5.7M694.8 966.4v5.7M708.3 969.2h5.7M711.2 966.4v5.7M716.5 975.8h5.7M719.4 973v5.7M724.7 969.2h5.7M727.6 966.4v5.7M839.7 969.2h5.7M842.5 966.4v5.7M847.9 975.8h5.7M850.7 973v5.7M856.1 969.2h5.7M858.9 966.4v5.7M872.5 969.2h5.7M875.3 966.4v5.7M880.7 975.8h5.7M883.6 973v5.7M888.9 969.2h5.7M891.8 966.4v5.7M938.2 969.2h5.7M941 966.4v5.7M946.4 975.8h5.7M949.2 973v5.7M954.6 969.2h5.7M957.4 966.4v5.7M150.1 995.5h5.7M153 992.7v5.7M158.3 1002.1h5.7M161.2 999.2v5.7M166.5 995.5h5.7M169.4 992.7v5.7M183 995.5h5.7M185.8 992.7v5.7M191.2 1002.1h5.7M194 999.2v5.7M199.4 995.5h5.7M202.2 992.7v5.7M215.8 995.5h5.7M218.6 992.7v5.7M224 1002.1h5.7M226.9 999.2v5.7M232.2 995.5h5.7M235.1 992.7v5.7M248.6 995.5h5.7M251.5 992.7v5.7M256.8 1002.1h5.7M259.7 999.2v5.7M265.1 995.5h5.7M267.9 992.7v5.7M281.5 995.5h5.7M284.3 992.7v5.7M289.7 1002.1h5.7M292.5 999.2v5.7M297.9 995.5h5.7M300.7 992.7v5.7M609.8 995.5h5.7M612.7 992.7v5.7M618 1002.1h5.7M620.9 999.2v5.7M626.2 995.5h5.7M629.1 992.7v5.7M905.3 995.5h5.7M908.2 992.7v5.7M913.5 1002.1h5.7M916.4 999.2v5.7M921.8 995.5h5.7M924.6 992.7v5.7M150.1 1021.8h5.7M153 1018.9v5.7M158.3 1028.3h5.7M161.2 1025.5v5.7M166.5 1021.8h5.7M169.4 1018.9v5.7M412.8 1021.8h5.7M415.7 1018.9v5.7M421 1028.3h5.7M423.9 1025.5v5.7M429.2 1021.8h5.7M432.1 1018.9v5.7M642.7 1021.8h5.7M645.5 1018.9v5.7M650.9 1028.3h5.7M653.7 1025.5v5.7M659.1 1021.8h5.7M661.9 1018.9v5.7M675.5 1021.8h5.7M678.3 1018.9v5.7M683.7 1028.3h5.7M686.5 1025.5v5.7M691.9 1021.8h5.7M694.8 1018.9v5.7M806.8 1021.8h5.7M809.7 1018.9v5.7M815 1028.3h5.7M817.9 1025.5v5.7M823.2 1021.8h5.7M826.1 1018.9v5.7M117.3 1048h5.7M120.1 1045.2v5.7M125.5 1054.6h5.7M128.4 1051.8v5.7M133.7 1048h5.7M136.6 1045.2v5.7M774 1048h5.7M776.8 1045.2v5.7M782.2 1054.6h5.7M785.1 1051.8v5.7M790.4 1048h5.7M793.3 1045.2v5.7M84.5 1074.3h5.7M87.3 1071.5v5.7M92.7 1080.9h5.7M95.5 1078v5.7M100.9 1074.3h5.7M103.7 1071.5v5.7M215.8 1074.3h5.7M218.6 1071.5v5.7M224 1080.9h5.7M226.9 1078v5.7M232.2 1074.3h5.7M235.1 1071.5v5.7M248.6 1074.3h5.7M251.5 1071.5v5.7M256.8 1080.9h5.7M259.7 1078v5.7M265.1 1074.3h5.7M267.9 1071.5v5.7M675.5 1074.3h5.7M678.3 1071.5v5.7M683.7 1080.9h5.7M686.5 1078v5.7M691.9 1074.3h5.7M694.8 1071.5v5.7M708.3 1074.3h5.7M711.2 1071.5v5.7M716.5 1080.9h5.7M719.4 1078v5.7M724.7 1074.3h5.7M727.6 1071.5v5.7M741.2 1100.6h5.7M744 1097.7v5.7M749.4 1107.1h5.7M752.2 1104.3v5.7M757.6 1100.6h5.7M760.4 1097.7v5.7M183 1126.8h5.7M185.8 1124v5.7M191.2 1133.4h5.7M194 1130.6v5.7M199.4 1126.8h5.7M202.2 1124v5.7M215.8 1126.8h5.7M218.6 1124v5.7M224 1133.4h5.7M226.9 1130.6v5.7M232.2 1126.8h5.7M235.1 1124v5.7M281.5 1126.8h5.7M284.3 1124v5.7M289.7 1133.4h5.7M292.5 1130.6v5.7M297.9 1126.8h5.7M300.7 1124v5.7M314.3 1126.8h5.7M317.2 1124v5.7M322.5 1133.4h5.7M325.4 1130.6v5.7M330.7 1126.8h5.7M333.6 1124v5.7M445.6 1126.8h5.7M448.5 1124v5.7M453.9 1133.4h5.7M456.7 1130.6v5.7M462.1 1126.8h5.7M464.9 1124v5.7M511.3 1126.8h5.7M514.2 1124v5.7M519.5 1133.4h5.7M522.4 1130.6v5.7M527.7 1126.8h5.7M530.6 1124v5.7M544.1 1126.8h5.7M547 1124v5.7M552.4 1133.4h5.7M555.2 1130.6v5.7M560.6 1126.8h5.7M563.4 1124v5.7M609.8 1126.8h5.7M612.7 1124v5.7M618 1133.4h5.7M620.9 1130.6v5.7M626.2 1126.8h5.7M629.1 1124v5.7M708.3 1126.8h5.7M711.2 1124v5.7M716.5 1133.4h5.7M719.4 1130.6v5.7M724.7 1126.8h5.7M727.6 1124v5.7M248.6 1153.1h5.7M251.5 1150.3v5.7M256.8 1159.7h5.7M259.7 1156.8v5.7M265.1 1153.1h5.7M267.9 1150.3v5.7M281.5 1153.1h5.7M284.3 1150.3v5.7M289.7 1159.7h5.7M292.5 1156.8v5.7M297.9 1153.1h5.7M300.7 1150.3v5.7M314.3 1153.1h5.7M317.2 1150.3v5.7M322.5 1159.7h5.7M325.4 1156.8v5.7M330.7 1153.1h5.7M333.6 1150.3v5.7M347.1 1153.1h5.7M350 1150.3v5.7M355.3 1159.7h5.7M358.2 1156.8v5.7M363.6 1153.1h5.7M366.4 1150.3v5.7M642.7 1159.7h5.7M645.5 1156.8v5.7M675.5 1159.7h5.7M678.3 1156.8v5.7M741.2 1153.1h5.7M744 1150.3v5.7M749.4 1159.7h5.7M752.2 1156.8v5.7M757.6 1153.1h5.7M760.4 1150.3v5.7M117.3 1179.4h5.7M120.1 1176.5v5.7M125.5 1186h5.7M128.4 1183.1v5.7M133.7 1179.4h5.7M136.6 1176.5v5.7M183 1179.4h5.7M185.8 1176.5v5.7M191.2 1186h5.7M194 1183.1v5.7M199.4 1179.4h5.7M202.2 1176.5v5.7M248.6 1179.4h5.7M251.5 1176.5v5.7M256.8 1186h5.7M259.7 1183.1v5.7M265.1 1179.4h5.7M267.9 1176.5v5.7M347.1 1179.4h5.7M350 1176.5v5.7M355.3 1186h5.7M358.2 1183.1v5.7M363.6 1179.4h5.7M366.4 1176.5v5.7M642.7 1186h5.7M645.5 1183.1v5.7M248.6 1205.7h5.7M251.5 1202.8v5.7M256.8 1212.2h5.7M259.7 1209.4v5.7M265.1 1205.7h5.7M267.9 1202.8v5.7M281.5 1205.7h5.7M284.3 1202.8v5.7M289.7 1212.2h5.7M292.5 1209.4v5.7M297.9 1205.7h5.7M300.7 1202.8v5.7M314.3 1205.7h5.7M317.2 1202.8v5.7M322.5 1212.2h5.7M325.4 1209.4v5.7M330.7 1205.7h5.7M333.6 1202.8v5.7M412.8 1212.2h5.7M415.7 1209.4v5.7M445.6 1212.2h5.7M448.5 1209.4v5.7M84.5 1231.9h5.7M87.3 1229.1v5.7M92.7 1238.5h5.7M95.5 1235.6v5.7M100.9 1231.9h5.7M103.7 1229.1v5.7M150.1 1231.9h5.7M153 1229.1v5.7M158.3 1238.5h5.7M161.2 1235.6v5.7M166.5 1231.9h5.7M169.4 1229.1v5.7M84.5 1258.2h5.7M87.3 1255.3v5.7M92.7 1264.8h5.7M95.5 1261.9v5.7M100.9 1258.2h5.7M103.7 1255.3v5.7M117.3 1258.2h5.7M120.1 1255.3v5.7M125.5 1264.8h5.7M128.4 1261.9v5.7M133.7 1258.2h5.7M136.6 1255.3v5.7M642.7 1291h5.7M645.5 1288.2v5.7M117.3 1317.3h5.7M120.1 1314.4v5.7M183 1317.3h5.7M185.8 1314.4v5.7M117.3 1343.6h5.7M120.1 1340.7v5.7M150.1 1363.3h5.7M153 1360.4v5.7M158.3 1369.8h5.7M161.2 1367v5.7M166.5 1363.3h5.7M169.4 1360.4v5.7"/>
<g transform="translate(79.1,857.6)" fill="none" stroke="#000" stroke-width="2.3" stroke-linejoin="round" stroke-linecap="round">
<polyline points="1.7,275.3 10.1,270.2 16.5,263.8 21.6,260"/>
<polyline points="92.9,258.7 91.7,261.8 84,263.8 72.6,267.9 59.8,266.9 50.9,268.9 50.9,276.5 54.7,282.9 58.5,289.3 62.9,296.9 70,299 64.9,303.3 59.8,308.4 59.3,314.8 61.1,318.6 57.3,324.5 49.6,328.8 44.5,332.6 38.1,339 31.8,344.1 26.7,347.9 19,353 10.1,355 3.7,356.8 0.7,358.1"/>
<polyline points="1.7,378.5 7.6,387.4 12.7,396.3 14.4,401.4 11.4,405.2 6.3,411.6 3.2,419.3 1.7,426.9"/>
<polyline points="1.2,448.6 10.1,450.3 21.6,446.8 28.7,441.7 30.5,434.5 31.8,430 38.1,431 34.3,437.1 35.6,454.9 36.9,470.2 40.7,485.5 44.5,500.8 48.3,513.5 52.2,523.7"/>
<polyline points="103.1,258.7 109.5,264.3 113.8,271.4 116.4,276.5"/>
<polyline points="135,258.7 128.6,264.3 123.5,270.2 116.4,276.5"/>
<polyline points="116.4,276.5 115.9,280.4 112.1,286.7 110.3,294.4 113.8,299.5 115.4,309.7 121,312.2 128.6,317.3 136.3,321.1 142.6,325 146.5,327"/>
<polyline points="146.5,326.2 152.8,323.7 161.8,327.5 174.5,333.1 186,338.2 200,344.1 212.7,353.5 225.5,355.5 238.2,355.5 245.3,354.3 246.4,361.9 243.3,368.3 237.7,374.7 225.5,375.4 212.7,372.6 200,368.8 187.2,361.1 171.9,358.6 159.2,353.5 146.5,348.4 135,343.3 131.7,340.8 135.8,332.6 140.1,328 146.5,326.2"/>
<polyline points="245.3,354.3 253.5,355 263.7,351 273.9,353.5 284.1,355 287.9,358.1 290.4,365.7 288.7,368.8 276.4,369.8 263.7,370.8 250.9,368.8 248.4,364.5 246.4,361.9"/>
<polyline points="289.2,368.8 301.9,368.3 313.4,364.5 319.8,359.4 330,354.3 340.1,351.7 350.3,355.5 354.2,361.9 355.9,365.7"/>
<polyline points="237.7,374.7 240.8,376.4 247.1,375.4 250.9,377.2 257.3,378.5 259.9,386.1 262.4,391.2 276.4,391.2 291.7,393.3 294.3,396.3 286.6,405.2 279,410.3 280.3,418 284.1,419.3 289.2,411.6 293,414.2 294.3,424.4 295.5,434.5 296.8,442.2"/>
<polyline points="240.8,373.4 239.5,381 244.6,388.7 248.4,389.9 240.8,396.3 236.9,397.6 242,405.2 244.6,414.2 247.1,421.8 249.7,432 250.9,434.5"/>
<polyline points="133.7,523.7 149,505.9 161.8,498.3 174.5,488.1 189.8,475.3 207.6,462.6 217.8,457.5 221.6,447.3 222.9,440.2 235.7,434.5 240.8,437.1 250.9,434.5 263.7,432 273.9,425.6 281.5,424.9 285.4,428.2 289.2,437.1 294.3,447.3 301.9,456.2 309.6,462.6 313.4,472.8 318.5,480.4 321,493.2 319.2,511 326.1,513.5 335,511 345.2,503.4 351.6,494.4 355.4,498.3 359.3,505.9 363.1,513.5 365.6,523.7"/>
<polyline points="296.8,434.5 301.9,426.9 305.7,419.3 308.3,409.1 315.9,406.5 319.8,397.6 324.9,388.7 328.7,378.5 332.5,372.1 340.1,367 349.1,363.2 355.4,363.2"/>
<polyline points="477.1,264.6 479,267.9 481.7,271.8 479.7,275.7 480.4,281.6 475.8,281 471.2,283 469.2,284.9 470.5,288.2 467.9,290.2 464,290.8 460,292.8 456.1,293.4"/>
<polyline points="470.5,289.5 477.1,292.1 484.9,292.8 488.9,295.4 494.1,296.7 499.4,299.3 504.6,298.7 509.9,302 515.1,304.6 520.3,305.2 524.3,308.5 526.9,310.5 526.9,316.4 523,317.7 519,319 513.8,320.3 508.5,321 504.6,322.9 505.3,326.9 504.6,330.8 508.5,334.7 512.5,338.7 515.1,342.6"/>
<polyline points="517.7,285.6 524.3,285.6 529.5,286.2 538,285.6"/>
<polyline points="528.2,264.6 530.2,269.2 532.8,274.4 534.8,279.7 538,285.6 542.6,291.5 547.9,295.4 554.4,297.4 561,296.7 567.5,296.7 572.8,297.4 574.1,302 578,304.6 584.6,307.2 588.5,308.5 593.8,307.9 597.7,311.1 602.9,313.8 604.3,316.4 601.6,319 603.6,324.3 605.6,330.8"/>
<polyline points="518.4,286.2 521.7,288.2 526.2,290.8 527.6,293.1 523,294.1 519,296.1 520.3,300.7 520.3,304.6"/>
<polyline points="596.4,265.3 602.9,266.6 606.9,268.5 609.5,271.8 610.8,277.1 606.9,275.7 600.3,275.1 597.7,278.4 595.1,283.6 589.2,286.9 592.5,291.5 595.1,294.1 600.3,294.8 602.9,296.7 601.6,303.3 596.4,307.2"/>
<polyline points="610.8,266.6 613.4,269.8 620,273.1 626.6,275.7 630.5,279 630.5,283.6 633.1,287.5 638.4,291.5 642.3,289.5 645.6,291.5 644.9,294.8 641,295.4 637,298 635.1,303.3 637,307.2 638.4,311.1 642.3,312.5 648.8,313.8 652.8,312.5 658,315.1 662,316.4 668.5,315.1 679,316.4 681.6,317.7"/>
<polyline points="646.2,265.3 655.4,269.2 660.6,271.8 663.3,278.4 665.9,284.9 668.5,291.5 671.1,295.4 677.7,300.7 681.6,304.6 682.3,311.1 679.7,316.4"/>
<polyline points="658,302 663.3,301.3 668.5,303.3 676.4,305.9 681,309.2"/>
<polyline points="659.3,325.6 665.9,324.3 672.4,322.9 679,325.6 684.9,324.3"/>
<polyline points="684.9,321.6 683.2,330.8 679.7,337.4 676.6,343.9 672.7,350.5 668.8,355.7 663.5,361.2 658.3,367.5 653,371.7 652.8,379.6 650.2,384.8 643.9,390.1 637.3,395.3 630.7,400.6 624.2,405.8 617.6,412.1 611.1,416 604.5,418.9 598,421.5 590.1,422.9 582.2,426.8 577,428.1 571.7,425.2 569.1,429.2 563.9,431.8 558.6,434.4 550.8,437 541.6,439.9 535,442.5 531.1,445.1 529.5,447.8 531.5,451.7 532.1,455.4 529.5,458 525.6,458 523,454.1 521.7,448.8 523,442.3 524.3,438.6 520.3,439.9 517.7,441 511.2,439.6 507.2,437.3 500.7,438.6 495.4,441.2 491.5,443.8 486.3,447.8 482.3,450.4 478.4,454.3 475.8,458.3 473.1,460.9 470.5,464.8 468.6,471.4 469.2,475.3 473.1,479.2 478.4,483.2 481,489.7 484.9,495 490.5,500.2 493.1,506.8 498.3,510.7 504.9,515.9 508.5,520.9 511.2,526.7"/>
<polyline points="507.2,468.5 511.2,464.6 517.7,461.3 525.6,460 533.5,459.3 538,461.3 538.7,465.9 534.8,471.1 532.1,475 529.5,479 524.3,481.6 519,482.9 513.8,481.6 508.5,479 507.2,473.7 507.2,468.5"/>
<polyline points="456.1,475 462,477 464,481.6 467.9,488.2 470.5,492.1 475.8,497.3 479,502.6 481,506.5 484.9,510.4 488.9,514.4 491.5,519.6 494.8,526.7"/>
<polyline points="456.1,492.1 457.4,498.6 461.3,505.2 465.3,510.4 467.9,515.7 467.2,526.7"/>
<polyline points="456.1,418.7 461.3,416 466.6,417.3 470.5,421.3 475.8,421.3 481,422.6 482.3,429.2 484.3,434.4 490.2,437.7 495.4,437.7 505.9,435.1 512.5,438.3 519,439.6 523,439"/>
<polyline points="456.1,401.6 461.3,401 466.6,405.5 473.1,406.9 475.1,410.8 473.1,413.4 469.2,414.7 465.9,417.3 464,418"/>
<polyline points="515.1,338.7 517.7,334.7 524.3,333.4 532.1,332.1 534.8,328.2 541.3,328.2 547.9,330.8 554.4,333.4 561,332.1 564.9,334.1 570.2,330.8 572.8,334.7 574.1,340"/>
<polyline points="574.1,340 579.3,342.6 580.7,349.2 576.7,353.1 572.8,358.3 571.5,362.3 574.1,366.2 575.4,372.8 578,379.3 576.7,387.2 577.4,389.8"/>
<polyline points="515.1,338.7 515.8,343.9 515.8,350.5 517.7,358.3 515.1,362.3 509.9,366.2 513.8,368.8 517.7,368.8 519,372.8 517.7,376.7 519,380.6"/>
<polyline points="519,380.6 524.3,378.7 529.5,379.3 534.8,376.7 540,377.4 542.6,380.6 542.6,384.6 540,388.5 538,393.7 542.6,396.4 547.9,397.7 551.8,396.4 554.4,392.4 561,392.4 564.9,389.8 570.2,387.8 576.7,388.5 582,388.5 585.9,389.8 585.9,393.7 580.7,396.4 582,400.3 587.2,400.3 593.8,397.7 600.3,399"/>
<polyline points="579.3,338 587.2,336.1 593.8,334.1 600.3,330.8 605.6,330.8 612.1,328.2 614.7,332.1 620,330.8 623.9,333.4 631.8,334.7"/>
<polyline points="631.8,334.7 630.5,338.7 633.1,343.9 635.7,349.2 637,351.8 631.8,353.1 626.6,355.7 620,357 617.4,359.7 617.4,366.2 613.4,368.8 610.8,372.8 608.2,379.3 605.6,384.6 602.9,391.1 601.6,395.1 600.3,399"/>
<polyline points="637,351.8 639.7,358.3 642.3,362.3 647.5,361 652.8,363.6 658,363.6 660.6,364.9"/>
<polyline points="601.6,395.1 606.9,396.4 613.4,397.7 616.1,402.9 618.7,410.8"/>
<polyline points="553.1,397.7 551.8,402.9 547.9,409.5 543.9,414.7 542.6,421.3 537.4,425.2 534.8,429.2 530.8,431.8 526.9,434.4 524.3,437"/>
<polyline points="519,380.6 512.5,383.3 508.5,385.9 503.3,387.2 499.4,389.8 494.1,391.1 490.2,388.5 486.9,386.5 484.9,389.8 482.3,391.1 474.5,393.7 471.8,396.4 466.6,395.1 461.3,393.7 456.1,391.1"/>
<polyline points="462.7,334.1 467.9,326.9 471.8,324.3 478.4,325.6 483.6,326.9 487.6,322.9 491.5,317.7 495.4,316.4 498.1,313.8 500.7,309.8 504.6,305.9"/>
<polyline points="462.7,334.1 466.6,340 470.5,343.9 475.8,347.9 482.3,346.5 486.3,343.9 490.2,342.6 494.1,340 498.1,340.6 502,341.3 505.9,347.9 509.9,351.8 513.8,351.8 515.8,350.5"/>
<polyline points="456.1,355.7 460,354.4 462.7,357 461.3,361 456.1,362.3"/>
<polyline points="658,414.7 662,406.9 668.5,397.7 673.8,392.4 679,389.8 682.9,393.7 681.6,400.3 679,409.5 676.4,418.7 672.4,426.5 668.5,431.8 667.2,434.4 664.6,429.2 660.6,426.5 658.7,421.3 658,414.7"/>
<polyline points="656.7,526.7 654.7,519.6 654.1,511.8 656.7,507.8 660.6,510.4 662,505.2 663.3,494.7 664.6,481.6 668.5,477.7 673.8,479 679,480.3 686.1,481.6"/>
<polyline points="676.4,526.7 679,519.6 686.1,514.4"/>
<polyline points="724.1,274.4 732,271.8 738.5,269.8 745.1,266.8 754.3,264.2 764.8,261.6 777.9,258.7"/>
<polyline points="733.3,273.1 735.9,267.9 741.2,263.9"/>
<polyline points="737.2,284.9 741.2,282.3 747.1,282 747.7,284.3 742.5,286.2 737.2,284.9"/>
<polyline points="780.5,284.9 788.4,282.3 794.9,278.4 800.2,275.7 804.1,278.4 809.3,283.6 813.3,288.9 810.7,294.1 808,300.7 806.7,308.5 801.5,312.5 796.2,315.1 791,311.1 789.7,302 787.1,296.7 783.1,291.5 780.5,284.9"/>
<polyline points="770,294.1 773.9,290.2 777.9,286.2"/>
<polyline points="798.9,270.5 804.1,269.2 810.7,266.6 817.2,262.6 822.5,258.7"/>
<polyline points="798.9,273.1 804.1,275.7 810.7,277.1 817.2,273.1 823.8,270.5 832.9,269.2 843.4,266.6 850,265.3 856.6,266.6 859.2,269.2"/>
<polyline points="817.2,284.9 821.1,278.4 830.3,275.7 836.9,274.4 843.4,271.8 848.7,273.1 850,277.1 843.4,281 842.1,284.9 836.9,283.6 830.3,284.9 827.7,291.5 823.8,292.8 819.8,288.9 817.2,284.9"/>
<polyline points="856.6,266.6 856.6,274.4 861.8,282.3 864.4,281 869.7,274.4 872.3,271.8 877.5,270.5 880.2,267.9 888,266.6 895.9,266.6 901.1,262.6 906.4,261.3 911.6,258.7"/>
<polyline points="874.9,263.9 877.5,261.3 880.2,263.9"/>
<polyline points="783.6,305.9 785.2,306.2"/>
<polyline points="779.7,313.8 781.3,314"/>
<polyline points="786.3,317.7 787.8,318"/>
<polyline points="794.1,320.3 795.7,320.6"/>
<polyline points="800.7,319 802.3,319.3"/>
<polyline points="785,329.5 786.5,329.8"/>
<polyline points="782.3,334.7 783.9,335"/>
<polyline points="777.1,338.7 778.7,338.9"/>
<polyline points="774.5,343.9 776,344.2"/>
<polyline points="782.3,349.2 783.9,349.4"/>
<polyline points="786.9,350.5 788.5,350.7"/>
<polyline points="777.1,353.1 778.7,353.4"/>
<polyline points="773.2,358.3 774.7,358.6"/>
<polyline points="769.2,362.3 770.8,362.5"/>
<polyline points="764,356.4 765.6,356.6"/>
<polyline points="764,367.5 765.6,367.8"/>
<polyline points="760,372.8 761.6,373"/>
<polyline points="757.4,378 759,378.3"/>
<polyline points="750.9,378 752.4,378.3"/>
<polyline points="744.3,375.4 745.9,375.7"/>
<polyline points="702.4,383.3 703.9,383.5"/>
<polyline points="715.5,381.9 717,382.2"/>
<polyline points="694.5,401 696.1,401.2"/>
<polyline points="705,402.9 706.6,403.2"/>
<polyline points="711.5,400.3 713.1,400.6"/>
<polyline points="717.4,397.7 719,397.9"/>
<polyline points="726,396.4 727.5,396.6"/>
<polyline points="803.3,382.6 804.9,382.9"/>
<polyline points="802.7,401 804.2,401.2"/>
<polyline points="866.9,454.1 868.5,454.3"/>
<polyline points="765.3,302 766.9,302.2"/>
<polyline points="723.3,275.1 724.9,275.4"/>
<polyline points="727.3,273.1 728.8,273.4"/>
<polyline points="777.1,270.5 778.7,270.8"/>
<polyline points="779.7,267.9 781.3,268.1"/>
<polyline points="908.2,271.8 909.8,272.1"/>
<polyline points="910.8,275.7 912.4,276"/>
<polyline points="913.5,282.3 915,282.6"/>
<polyline points="12.8,2.5 15.4,4.5 13.5,8.3 16.7,10.3 21.8,9 27,8.3 30.8,11.5 34.7,12.8 39.8,12.2 45,13.5 48.9,12.8 45,16.7 43.7,19.9 50.1,19.3 56.6,19.3 63,15.4 68.2,12.8 73.3,10.9 79.7,9 86.2,7.7 91.3,7 90,9 84.9,10.3 83.6,11.5 88.7,14.1 96.5,18 102.9,21.8 108,27 114.5,34.7 120.9,43.7 126.1,50.1 131.2,55.3 135.1,52.7 137.6,49.5 141.5,48.9 144.1,50.1 146.6,52.7 150.5,55.3 156.9,55.9 163.4,55.3 169.8,52.7 176.2,52.7 182.7,55.3 186.5,59.1 189.1,61.7 194.3,63 198.1,66.9 200.7,70.1 208.4,70.7 214.8,69.4 218.7,68.2 221.3,70.7 223.8,73.3 227.1,75.9"/>
<polyline points="227.1,78.4 222.6,79.7 220,82.3 214.8,84.9 207.1,86.2 204.5,91.3 205.8,97.7 204.5,101.6 199.4,102.9 194.3,105.5 189.1,104.2 178.8,104.2 172.4,102.9 171.1,108 168.5,114.5 164.7,120.9 162.1,124.8 165.9,126.1 163.4,128.6 156.9,127.3 150.5,128.6 144.1,129.9 137.6,131.2 131.2,131.2 128.6,132.5 135.1,135.1 136.3,140.2 137.6,145.4 138.9,150.5 141.5,155.6 137.6,158.2 136.3,163.4 133.8,165.9 135.1,168.5 131.2,169.8 122.2,172.4 114.5,175 108,178.8 104.2,182.7 96.5,184 90,185.2 86.2,189.1 83.6,191.7 79.7,189.1 73.3,187.8 68.2,189.1 63,190.4 56.6,193 51.4,195.5 50.1,199.4 48.9,204.5 48.9,208.4 51.4,213.6 55.3,214.8 60.4,214.8 63,217.4 64.3,222.6 66.2,227.7 68.2,230.3 63,231.6"/>
<polyline points="45,119.6 47.6,114.5 52.7,111.9 60.4,109.3 68.2,108 78.4,107.4 86.2,108 93.9,108.7 101.6,109.3 109.3,109.3 115.8,108 120.9,109.3 119.6,111.9 111.9,113.2 105.5,113.2 96.5,111.9 86.2,111.3 75.9,110.6 68.2,110.6 60.4,111.9 56.6,114.5 54,119.6 52.7,124.8 53.4,131.2 50.1,128.6 46.3,124.8 45,119.6"/>
<polyline points="1.2,175 7.7,168.5 12.8,162.1 19.3,159.5 28.3,159.5 36,162.1 43.7,163.4 46.3,158.2 50.1,155.6 55.3,154.4 63,156.9 68.2,158.9 75.9,158.9 83.6,158.2 91.3,157.6 99,158.2 106.8,158.9 114.5,158.9 120.9,160.2 126.1,162.7 131.2,164.7 134.4,167.2"/>
<polyline points="1.2,176.2 9,177.5 15.4,178.8 21.8,176.2 25.7,177.5 29.6,180.1 34.7,182.7 41.1,185.2 36,186.5 30.8,187.8 25.7,190.4 21.8,193 15.4,193 9,191.7 3.8,190.4 1.2,186.5"/>
<polyline points="1.2,202 9,202.6 15.4,203.3 21.8,204.5 28.3,207.1 34.7,205.8 41.1,203.3 48.9,203.3"/>
<polyline points="1.2,221.3 6.4,217.4 11.5,216.1 15.4,217.4 18,220 19.3,227.7 20.5,234.1 21.8,238 28.3,235.4 34.7,232.9 42.4,231.6 47.6,230.9 54,231.6 60.4,231.6 65.6,232.9"/>
<polyline points="15.4,250.9 21.8,247 29.6,244.4 37.3,241.9 45,240.6 52.7,240.6 60.4,241.9 68.2,243.1 73.3,244.4 78.4,248.3 81,253.4 86.2,257.3 91.3,259.9"/>
<polyline points="19.3,252.2 20.5,259.9"/>
<polyline points="135.1,259.9 142.8,257.3 150.5,256 158.2,253.4 164.7,252.2 171.1,253.4 178.8,252.2 186.5,249.6 194.3,247 202,245.7 208.4,244.4 214.8,243.1 221.3,241.9 227.1,241.2"/>
<polyline points="226.1,76.5 232.5,75.9 239,73.3 245.4,72 251.8,70.7 257,68.2 258.3,66.2 264.7,64.3 271.1,61.7 273.7,59.1 280.1,57.9 285.3,55.9 293,54.6 298.2,55.9 303.3,57.2 311,57.9 318.7,57.9 321.3,61.7 323.9,64.3 329,66.2 336.8,66.2 344.5,66.2 349.6,66.2 357.3,68.2 362.5,66.9 367.6,64.3 371.5,60.4 371.5,56.6 367.6,54 365.1,51.4 366.3,47.6 370.2,43.7 375.4,41.1 379.2,37.3 385.6,39.8 393.4,41.8 401.1,43.1 408.8,45 416.5,46.3 421.7,47.6 423,52.7 424.3,56.6 428.1,59.1 434.5,61.1 442.3,63 447.4,61.7 452.6,60.4 457.1,59.1"/>
<polyline points="457.1,41.1 447.4,42.4 442.3,43.7 447.4,45.3 457.1,45.6"/>
<polyline points="232.5,78.4 233.8,81 239,84.9 245.4,88.7 251.8,91.3 258.3,93.2 263.4,95.2 267.3,99 271.1,102.9 275,106.8 276.3,111.9 274.4,117 272.4,122.2 273.7,127.3 280.1,129.3 290.4,130.6 300.7,131.2 307.2,132.5 313.6,134.4 318.7,137 326.5,139.6 332.9,140.9 335.5,144.1 339.3,150.5 343.2,156.9 347,160.8"/>
<polyline points="347,160.8 354.8,160.8 367.6,161.4 380.5,162.1 393.4,162.1 406.2,162.7 416.5,164.7 424.3,167.2 432,169.8 439.7,171.7 447.4,172.4 457.1,173"/>
<polyline points="347,160.8 341.9,163.4 340.6,169.8 335.5,172.4 326.5,173.7 320,177.5 316.2,181.4 312.3,185.2 311,189.1 305.9,190.4 300.7,191.7 299.4,199.4 300.7,205.8"/>
<polyline points="356.1,162.1 359.9,168.5 363.8,175 366.3,178.8 365.1,181.4 367.6,185.2 371.5,186.5 372.8,189.1 377.9,186.5 384.4,185.2 390.8,184 394.7,185.2 395.9,189.1 392.1,193 388.2,196.8 393.4,199.4 398.5,200.7 403.7,203.3 406.2,207.1 408.8,209.7 412.7,211 417.8,209.7 425.5,208.4 432,207.1 439.7,205.8 444.8,204.5 447.4,207.1 446.1,212.3 442.3,214.8 439.7,218.7 444.8,222.6 450,226.4 457.1,227.7"/>
<polyline points="264.7,217.4 277.6,213.6 290.4,211 303.3,208.4 309.7,207.1 318.7,205.8 329,208.4 336.8,212.3 345.8,216.1 353.5,218.7 354.8,212.3 357.3,208.4 362.5,209.7 367.6,211 374.1,209.7 380.5,212.3 386.9,214.8 393.4,217.4 395.9,216.1 401.1,220 406.2,222.6 411.4,225.1 416.5,227.7 419.1,226.4 421.7,231.6 426.8,235.4 429.4,238 432,243.1 430.7,248.3 426.8,253.4 425.5,259.9"/>
<polyline points="264.7,217.4 267.3,221.3 271.1,225.1 275,227.7 277.6,231.6 280.1,235.4 275,236.7 273.7,240.6 275,245.7 272.4,247 264.7,245.7 257,247 249.3,247.6 239,245.7 226.1,248.3"/>
<polyline points="255.7,249.6 258.3,259.9"/>
<polyline points="456.1,41.1 462.5,38.6 469,34.7 475.4,32.1 481.8,27 489.6,21.8 497.3,19.3 503.7,14.1 507.6,9 510.1,3.8 511.4,1.2"/>
<polyline points="456.1,46.9 463.8,45 471.5,42.4 476.7,37.3 481.8,33.4 489.6,29.6 497.3,25.7 505,21.8 510.1,18 516.6,14.1 519.1,10.3 519.8,5.1 521.1,1.2"/>
<polyline points="483.1,26.3 489.6,23.1 496,21.2"/>
<polyline points="456.1,60.4 462.5,59.1 469,59.8 479.3,60.4 485.7,63 496,65.6 499.8,70.7 507.6,73.9 517.9,74.6 524.3,75.9 530.7,75.2 539.7,73.3 548.7,72 559,70.7 565.5,68.2 571.9,64.3 578.3,62.4 584.8,61.7 591.2,64.3 597.6,66.9 605.4,65.6 611.8,66.9 618.2,69.4 627.2,70.7 633.7,68.2 638.8,65.6 644,64.3 647.8,61.7"/>
<polyline points="647.8,61.7 649.1,56.6 653,51.4 658.1,46.3 662,42.4 665.8,38.6 665.8,33.4 662,30.8 657.5,29.6 662,25.7 668.4,21.8 677.4,20.5 687.1,19.3"/>
<polyline points="672.3,30.8 677.4,32.8 682.6,34.7 687.1,33.4"/>
<polyline points="456.1,175 469,169.8 481.8,165.9 494.7,163.4 507.6,162.1 517.9,159.5 528.2,155.6 535.9,151.8 543.6,149.2 551.3,145.4 548.7,141.5 544.9,137.6 546.2,132.5 551.3,129.9 559,131.2 566.8,133.8 574.5,132.5 582.2,128.6 592.5,124.8 598.9,123.5 604.1,120.9 607.9,117 613.1,113.2 619.5,110.6 627.2,109.3 636.2,107.8 644,106.8 649.1,108 653,106.8 654.3,102.9 651.7,99 646.5,96.5 641.4,93.9 636.2,92 631.1,91.3 625.9,92.6 620.8,96.5 613.1,95.2 606.6,96.5 601.5,95.2 597.6,91.3 598.9,86.2 602.8,83.6 605.4,78.4 607.9,73.3 611.8,66.9"/>
<polyline points="686.1,19.5 693.9,18.9 703,19.5 712.1,22.1 721.3,23.4 729.1,25.4 735.6,28.6 739.5,33.9 743.4,41.7 748.6,49.5 752.5,57.3 755.1,65.1 759,69 766.8,71 777.2,72.3 785,75.5 792.9,79.4 796.8,82 796.8,87.2 800.7,95 809.8,95 820.2,94.4 826.7,91.1 835.8,88.5 842.3,87.2 848.8,87.2 850.1,93.7 846.2,99 842.3,101.6 839.7,109.4 837.1,115.9 831.9,122.4 828,127.6 824.1,132.8 820.2,135.4 816.3,131.5 815,127.6 816.3,126.3 821.5,126.3 824.1,128.9"/>
<polyline points="815,126.9 811.1,127.6 807.2,130.2 800.7,132.8 802,139.3 803.3,145.8 804.6,152.3 800.7,156.2"/>
<polyline points="792.9,162.7 798.1,158.8 805.9,156.2 813.7,154.9 818.9,153.6 822.8,160.1 829.3,161.4 838.4,158.8 846.2,154.9 855.4,149.7 860.6,144.5 868.4,136.7 876.2,130.2 884,123.7 891.8,117.2 897,110.7 902.2,102.9 907.4,95 912.6,89.8 921.1,85.9"/>
<polyline points="686.1,32.6 691.3,35.2 692.6,40.4 695.2,47.5 703,48.8 712.1,47.5 718.6,45.6 725.2,44.3 730.4,47.5 735.6,52.1 731.7,57.3 727.8,61.2 725.2,66.4 724.5,71.6 725.2,76.2 717.3,82 714.7,85.9 715.4,89.8 712.1,87.2 708.2,88.5 701.7,92.4 693.9,96.3 688.7,99 687.4,101.6 691.3,102.9 696.5,105.5 699.1,109.4 696.5,112"/>
<polyline points="699.1,108.1 703,110.7 706.9,115.9 708.2,121.1 714.7,123.7 722.6,125 730.4,126.3 735.6,128.9 744.7,128.9 751.2,135.4 759,143.2 765.5,138 769.4,143.2 774.6,149.7 783.7,145.8 790.3,144.5 794.2,149.7 800.7,151 804.6,152.3"/>
<polyline points="761.7,171.2 756.4,175.8 751.2,175.8 746,173.2 740.8,175.8 735.6,178.4 730.4,182.3 725.2,186.2 720,191.4 716,196.6 714,199.6"/>
<polyline points="761.7,171.2 764.2,168 770.7,168 777.2,165.4 782.4,162.7 786.3,158.8 791.6,160.1 796.8,161.4 800.7,156.2"/>
<polyline points="686.1,204.4 693.9,202.5 703,199.2 709.5,198.6 714,199.6 718.6,201.8 723.9,204.4 729.1,209.6 727.8,216.1 721.3,221.3 718.6,225.2 725.2,229.1 733,230.4 740.8,229.1 743.4,233.1 742.1,240.9 739.5,250 740.8,259.7"/>
<polyline points="800.7,156.2 796.8,162.7 790.3,165.4 785,169.3 783.7,175.8 782.4,181 777.2,184.9 772,188.8 764.2,192.7 757.7,196.6 753.8,199.2 755.1,207 759,210.9 764.2,214.8 766.8,220 772,225.2 777.2,230.4 779.8,237 781.8,243.5 782.4,251.3 779.8,259.7"/>
<polyline points="742.1,220 747.3,217.4 756.4,216.1 764.2,214.8"/>
<polyline points="686.1,158.8 693.9,156.2 703,152.3 712.1,154.9 718.6,154.9 723.9,161.4 727.8,169.3 731,178.4 729.1,183.6"/>
<polyline points="855.4,2.6 863.2,3.9 871,3.9 876.2,7.8 876.2,15.6 882.7,15.6 885.3,18.2 894.4,18.2 900.9,14.3 904.8,9.1 910,9.1 917.8,7.8"/>
<polyline points="894.4,223.9 899.6,220 907.4,217.4 913.9,212.2 917.8,207"/>
<polyline points="874.9,233.1 878.8,230.4 884,229.1 889.2,230.4 894.4,227.8 900.9,225.2 907.4,221.3"/>
<polyline points="821.5,259.7 829.3,255.2 839.7,253.9 850.1,252.6 859.3,251.3 865.8,246.1 871,240.9 874.9,235.7 876.2,231.8"/>
<polyline points="798.6,229.8 800.1,230.1"/>
<polyline points="828.5,248 830.1,248.3"/>
<polyline points="897.5,222.6 899.1,222.9"/>
<polyline points="911.9,169.3 913.4,169.5"/>
<polyline points="910.6,177.1 912.1,177.3"/>
<polyline points="914.5,197.9 916,198.2"/>
<polyline points="915.8,186.2 917.3,186.4"/>
<polyline points="906.6,250 908.2,250.2"/>
<polyline points="359.4,278.4 360.7,284.9 359.4,290.2 360.7,294.1"/>
<polyline points="359.4,278.4 364.6,276.4 371.2,277.1 376.4,283 379.7,286.9 385.6,290.2 390.9,291.5 393.5,289.5 397.4,293.1 401.3,296.1 407.9,293.1 409.9,288.9 415.8,286.9 421,284.3 424.9,282.3 424.9,279.7 422.3,275.7"/>
<polyline points="404,271.8 407.9,271.2 415.8,273.1 421,271.8 422.3,269.2 418.4,266.6 419.7,264.6"/>
<polyline points="422.3,275.7 427.6,273.1 431.5,271.8 435.4,275.7 440.7,278.4 447.2,279.7 449.9,284.9 451.2,290.2 456.4,292.8 463,291.5 467,290.8"/>
<polyline points="337.1,304.6 343.7,305.9 350.2,303.3 356.8,300.7 360.7,295.4 367.3,295.4 372.5,300.7 376.4,308.5 379.1,313.8 380.4,321.6 381.7,330.8 382.3,338.7 383,347.9 384.3,350.5"/>
<polyline points="337.1,368.8 342.3,366.2 347.6,363.6 352.8,362.3 355.5,358.3 362,349.2 367.3,349.2 371.2,354.4 373.8,359.7 376.4,362.3 377.7,370.1 376.4,376.7 375.1,383.3 369.9,385.9 365.9,389.8 363.3,396.4 362,402.9 363.3,406.9 369.9,405.5 379.1,405.5 380.4,409.5 383,416 386.9,420 384.3,426.5 384.3,431.8 390.9,433.1 394.8,438.3 401.3,439.6 407.9,437 410.5,442.3 415.8,443.6 414.5,435.7 415.8,429.2 421,427.8"/>
<polyline points="337.1,350.5 343.7,351.8 350.2,354.4 355.5,358.3"/>
<polyline points="376.4,350.5 377.7,343.9 380.4,342.6 384.3,350.5 389.5,343.9 394.8,349.2 397.4,354.4 402.7,355.7 406.6,362.3 411.8,371.5 415.8,376.7 419.7,379.3 426.3,376.7 431.5,376 432.8,371.5 431.5,366.2 434.1,362.3 439.4,355.7 440.7,350.5 444.6,346.5 449.9,345.9 452.5,350.5 455.1,354.4 460.3,355.7 463,358.3 460.3,362.3 455.1,363.6 448.5,363.6 443.3,366.2 444.6,372.8 451.2,374.1 452.5,380.6 451.2,385.9 455.1,391.1 456.4,396.4 453.8,400.3 459,402.9 463,404.2 467,404.2"/>
<polyline points="421,427.8 426.3,423.9 431.5,426.5 436.7,423.9 442,422.6 447.2,423.9 452.5,421.3 457.7,418.7 463,416 467,416"/>
<polyline points="423.6,429.2 428.9,434.4 431.5,439.6 434.1,444.9 442,447.5 448.5,447.5 452.5,451.4 457.7,458 453.8,463.2 447.2,465.9 452.5,471.1 460.3,473.7 467,479"/>
<polyline points="407.9,439.6 402.7,442.3 397.4,447.5 394.8,452.8 398.7,460.6 405.3,464.6 410.5,465.9 410.5,473.7 407.9,481.6 407.9,489.5 410.5,492.1 415.8,486.8 422.3,484.2 428.9,485.5 434.1,481.6 439.4,479 444.6,480.3 449.9,485.5 455.1,490.8 456.4,501.3 459,507.8 463,511.8 467,515.7"/>
<polyline points="394.8,452.8 389.5,455.4 384.3,456.7 376.4,459.3 368.6,461.9 364.6,468.5 363.3,475 359.4,479 362,484.2 365.9,489.5 371.2,494.7 375.1,500 376.4,507.8 379.1,510.4 375.1,515.7 372.5,520.9 371.2,526.7"/>
<polyline points="337.1,514.4 342.3,511.8 347.6,507.8 351.5,505.2 354.1,497.3 356.8,501.3 360.7,507.8 363.3,514.4 364.6,520.9 364.6,526.7"/>
<polyline points="626.8,211.6 630.8,208.9 637.5,210.2 642.8,206.2 646.8,203.6 652.1,198.3 658.7,194.3 666.7,190.3 670.7,186.3 677.3,185 682.7,186.3 686.7,190.3 685.3,194.3 681.3,198.3 677.3,200.9 673.4,203.6 672,210.2 677.7,211.8"/>
<polyline points="677.7,211.8 678.7,208.9 686.7,206.2 694.6,203.6 702.6,200.9 713.8,199.3"/>
<polyline points="626.8,211.6 625.5,216.9 628.2,220.9 633.5,222.2 638.8,223.5 642.8,227.5 645.4,232.8 650.8,234.2 654.7,230.2 660.1,224.9 666.7,220.9 668,224.9 676,227.5 684,230.2 692,231.5 690.6,235.5 684,236.8 676,239.5 668,242.1 660.1,246.1 654.7,251.5 649.4,256.8 646.8,262.8"/>
<polyline points="628.2,220.9 620.2,223.5 614.9,226.2 606.9,230.2 601.6,234.2 596.2,239.5 594.9,243.5 596.2,250.1 590.9,256.8 588.3,262.8"/>
<polyline points="572.3,244.8 582.9,246.1 593.6,247.5 596.2,250.1"/>
<polyline points="597.6,195.6 601.6,190.3 609.5,185 613.5,183.6 620.2,189 622.8,193 617.5,196.9 620.2,199.6 614.9,202.3 606.9,202.9 600.2,201.6 597.6,198.3 597.6,195.6"/>
<polyline points="620.2,199.6 625.5,200.9 628.2,207.6 626.8,211.6"/>
<polyline points="626.8,211.6 622.8,216.9 617.5,215.6 614.9,211.6 614.9,207.6 620.2,206.2"/>
<polyline points="640.1,185 642.8,179.7 640.1,177"/>
<polyline points="713.8,199.3 715.9,196.9 721.2,193 726.5,189 731.9,185 737.2,182.3 742.5,179.7"/>
<polyline points="745.2,174.3 753.1,175.7 759.8,173 767.1,171.7"/>
<polyline points="745.2,219.5 753.1,216.9 761.1,216.9 767.1,215.6"/>
<polyline points="753.1,206.2 755.8,200.9 761.1,196.9 767.1,195.6"/>
<polyline points="588.3,260.1 594.9,255.4 601.6,251.5 606.9,248.8"/>
<polyline points="456.1,154.7 456.1,154.7"/>
<polyline points="456.1,231.2 463.7,227.3 468.8,223.5 472.7,215.9 472.7,210.8 476.5,206.9 482.9,205.7 485.4,209.5 480.3,213.3 479,218.4 481.6,221 489.2,223.5 490.5,228.6 489.2,233.7 481.6,235 479,238.8 481.6,243.9 484.1,249 481.6,254.1 479,256.6 477.8,261.7"/>
<polyline points="489.2,228 494.3,226.1 498.1,227.3 504.5,227.3 509.6,223.5 517.3,215.9 523.6,209.5 528.7,205.7 535.1,203.8 540.2,203.1 545.3,200.6 551.7,196.7 555.5,194.2 558,191.7 563.1,190.4 568.2,189.1 573.3,187.8 578.4,186.6"/>
<polyline points="489.2,233.7 491.8,237.5 500.7,240.1 507.1,242.6 508.3,249 507.1,255.4 507.1,261.7"/>
<polyline points="540.2,203.1 537.7,208.2 533.8,214.6 531.3,221 533.8,227.3 532.6,233.7 531.3,241.3 532.6,250.3 531.3,260.5 528.7,266.8 532.6,275.8 536.4,285.9"/>
<polyline points="578.4,186.6 577.2,191.7 582.2,192.9 578.4,196.7 581,203.1 577.2,208.2 573.3,214.6 577.2,221 578.4,228.6 574.6,236.3 570.8,241.3 573.3,246.4 572.1,254.1 569.5,261.7"/>
<polyline points="578.4,186.6 575.9,182.7 575.9,177.6 579.7,172.5 583.5,170 588.6,168.7 589.9,173.8 596.3,172.5 602.6,170 609,167.4 615.4,166.2 620.5,163.6 626.8,162.3 631.9,164.9 633.2,171.3 637,176.4 642.1,178.9 644.7,175.1 647.2,167.4 651.1,167.4 654.9,171.3 660,168.7 666.3,166.2 672.7,163.6 679.1,162.3 686.7,161.1"/>
<polyline points="570.8,242.6 578.4,245.2 588.6,247.7 595,249 600.1,250.3"/>
<polyline points="588.6,261.7 593.7,255.4 598.8,251.5 606.5,249"/>
</g>
<rect x="394.3" y="936.4" width="426.9" height="183.9" fill="none" stroke="#000" stroke-width="3.6"/>
</g>
<rect x="79.1" y="857.6" width="919.4" height="525.4" fill="none" stroke="#000" stroke-width="3.8"/>
<g stroke="#000" stroke-linecap="round"><line x1="69.2" y1="1369.8" x2="79.1" y2="1369.8" stroke-width="1.8"/><line x1="998.5" y1="1369.8" x2="1008.4" y2="1369.8" stroke-width="1.8"/><line x1="69.2" y1="1343.6" x2="79.1" y2="1343.6" stroke-width="1.8"/><line x1="998.5" y1="1343.6" x2="1008.4" y2="1343.6" stroke-width="1.8"/><line x1="60.2" y1="1317.3" x2="79.1" y2="1317.3" stroke-width="3.6"/><line x1="998.5" y1="1317.3" x2="1017.4" y2="1317.3" stroke-width="3.6"/><line x1="69.2" y1="1291" x2="79.1" y2="1291" stroke-width="1.8"/><line x1="998.5" y1="1291" x2="1008.4" y2="1291" stroke-width="1.8"/><line x1="69.2" y1="1264.8" x2="79.1" y2="1264.8" stroke-width="1.8"/><line x1="998.5" y1="1264.8" x2="1008.4" y2="1264.8" stroke-width="1.8"/><line x1="69.2" y1="1238.5" x2="79.1" y2="1238.5" stroke-width="1.8"/><line x1="998.5" y1="1238.5" x2="1008.4" y2="1238.5" stroke-width="1.8"/><line x1="69.2" y1="1212.2" x2="79.1" y2="1212.2" stroke-width="1.8"/><line x1="998.5" y1="1212.2" x2="1008.4" y2="1212.2" stroke-width="1.8"/><line x1="60.2" y1="1186" x2="79.1" y2="1186" stroke-width="3.6"/><line x1="998.5" y1="1186" x2="1017.4" y2="1186" stroke-width="3.6"/><line x1="69.2" y1="1159.7" x2="79.1" y2="1159.7" stroke-width="1.8"/><line x1="998.5" y1="1159.7" x2="1008.4" y2="1159.7" stroke-width="1.8"/><line x1="69.2" y1="1133.4" x2="79.1" y2="1133.4" stroke-width="1.8"/><line x1="998.5" y1="1133.4" x2="1008.4" y2="1133.4" stroke-width="1.8"/><line x1="69.2" y1="1107.1" x2="79.1" y2="1107.1" stroke-width="1.8"/><line x1="998.5" y1="1107.1" x2="1008.4" y2="1107.1" stroke-width="1.8"/><line x1="69.2" y1="1080.9" x2="79.1" y2="1080.9" stroke-width="1.8"/><line x1="998.5" y1="1080.9" x2="1008.4" y2="1080.9" stroke-width="1.8"/><line x1="60.2" y1="1054.6" x2="79.1" y2="1054.6" stroke-width="3.6"/><line x1="998.5" y1="1054.6" x2="1017.4" y2="1054.6" stroke-width="3.6"/><line x1="69.2" y1="1028.3" x2="79.1" y2="1028.3" stroke-width="1.8"/><line x1="998.5" y1="1028.3" x2="1008.4" y2="1028.3" stroke-width="1.8"/><line x1="69.2" y1="1002.1" x2="79.1" y2="1002.1" stroke-width="1.8"/><line x1="998.5" y1="1002.1" x2="1008.4" y2="1002.1" stroke-width="1.8"/><line x1="69.2" y1="975.8" x2="79.1" y2="975.8" stroke-width="1.8"/><line x1="998.5" y1="975.8" x2="1008.4" y2="975.8" stroke-width="1.8"/><line x1="69.2" y1="949.5" x2="79.1" y2="949.5" stroke-width="1.8"/><line x1="998.5" y1="949.5" x2="1008.4" y2="949.5" stroke-width="1.8"/><line x1="60.2" y1="923.3" x2="79.1" y2="923.3" stroke-width="3.6"/><line x1="998.5" y1="923.3" x2="1017.4" y2="923.3" stroke-width="3.6"/><line x1="69.2" y1="897" x2="79.1" y2="897" stroke-width="1.8"/><line x1="998.5" y1="897" x2="1008.4" y2="897" stroke-width="1.8"/><line x1="69.2" y1="870.7" x2="79.1" y2="870.7" stroke-width="1.8"/><line x1="998.5" y1="870.7" x2="1008.4" y2="870.7" stroke-width="1.8"/><line x1="79.1" y1="847.7" x2="79.1" y2="857.6" stroke-width="1.8"/><line x1="79.1" y1="1383" x2="79.1" y2="1392.9" stroke-width="1.8"/><line x1="210.4" y1="847.7" x2="210.4" y2="857.6" stroke-width="1.8"/><line x1="210.4" y1="1383" x2="210.4" y2="1392.9" stroke-width="1.8"/><line x1="341.8" y1="838.7" x2="341.8" y2="857.6" stroke-width="3.6"/><line x1="341.8" y1="1383" x2="341.8" y2="1401.9" stroke-width="3.6"/><line x1="473.1" y1="847.7" x2="473.1" y2="857.6" stroke-width="1.8"/><line x1="473.1" y1="1383" x2="473.1" y2="1392.9" stroke-width="1.8"/><line x1="604.5" y1="847.7" x2="604.5" y2="857.6" stroke-width="1.8"/><line x1="604.5" y1="1383" x2="604.5" y2="1392.9" stroke-width="1.8"/><line x1="735.8" y1="838.7" x2="735.8" y2="857.6" stroke-width="3.6"/><line x1="735.8" y1="1383" x2="735.8" y2="1401.9" stroke-width="3.6"/><line x1="867.1" y1="847.7" x2="867.1" y2="857.6" stroke-width="1.8"/><line x1="867.1" y1="1383" x2="867.1" y2="1392.9" stroke-width="1.8"/><line x1="998.5" y1="847.7" x2="998.5" y2="857.6" stroke-width="1.8"/><line x1="998.5" y1="1383" x2="998.5" y2="1392.9" stroke-width="1.8"/></g>
<text x="44.1" y="932" font-size="25" text-anchor="end" textLength="42" lengthAdjust="spacingAndGlyphs">50N</text>
<text x="44.1" y="1063.3" font-size="25" text-anchor="end" textLength="42" lengthAdjust="spacingAndGlyphs">40N</text>
<text x="44.1" y="1194.7" font-size="25" text-anchor="end" textLength="42" lengthAdjust="spacingAndGlyphs">30N</text>
<text x="44.1" y="1326" font-size="25" text-anchor="end" textLength="42" lengthAdjust="spacingAndGlyphs">20N</text>
<text x="341.8" y="1435.3" font-size="25" text-anchor="middle">90E</text>
<text x="735.8" y="1435.3" font-size="25" text-anchor="middle">120E</text>
<text x="309.9" y="828.8" font-size="40.5" font-weight="bold" textLength="457.6" lengthAdjust="spacingAndGlyphs">Trends of leaf area index</text>
<text x="-3" y="843" font-size="84">c</text>
<rect x="132.4" y="1453.9" width="73.9" height="47.6" fill="#800000" stroke="#000" stroke-width="1.7"/>
<rect x="206.3" y="1453.9" width="73.9" height="47.6" fill="#e00000" stroke="#000" stroke-width="1.7"/>
<rect x="280.1" y="1453.9" width="73.9" height="47.6" fill="#ff6666" stroke="#000" stroke-width="1.7"/>
<rect x="354" y="1453.9" width="73.9" height="47.6" fill="#ffaaaa" stroke="#000" stroke-width="1.7"/>
<rect x="427.9" y="1453.9" width="73.9" height="47.6" fill="#ffdddd" stroke="#000" stroke-width="1.7"/>
<rect x="501.8" y="1453.9" width="73.9" height="47.6" fill="#ffffff" stroke="#000" stroke-width="1.7"/>
<rect x="575.6" y="1453.9" width="73.9" height="47.6" fill="#ddddff" stroke="#000" stroke-width="1.7"/>
<rect x="649.5" y="1453.9" width="73.9" height="47.6" fill="#aaaaff" stroke="#000" stroke-width="1.7"/>
<rect x="723.4" y="1453.9" width="73.9" height="47.6" fill="#6666ff" stroke="#000" stroke-width="1.7"/>
<rect x="797.2" y="1453.9" width="73.9" height="47.6" fill="#0000e0" stroke="#000" stroke-width="1.7"/>
<rect x="871.1" y="1453.9" width="73.9" height="47.6" fill="#000080" stroke="#000" stroke-width="1.7"/>
<text x="206.3" y="1532.9" font-size="25" text-anchor="middle" transform="translate(206.3,0) scale(0.66,1) translate(-206.3,0)">-0.5</text>
<text x="280.1" y="1532.9" font-size="25" text-anchor="middle" transform="translate(280.1,0) scale(0.66,1) translate(-280.1,0)">-0.1</text>
<text x="354" y="1532.9" font-size="25" text-anchor="middle" transform="translate(354,0) scale(0.66,1) translate(-354,0)">-0.05</text>
<text x="427.9" y="1532.9" font-size="25" text-anchor="middle" transform="translate(427.9,0) scale(0.66,1) translate(-427.9,0)">-0.01</text>
<text x="501.8" y="1532.9" font-size="25" text-anchor="middle" transform="translate(501.8,0) scale(0.66,1) translate(-501.8,0)">-0.001</text>
<text x="575.6" y="1532.9" font-size="25" text-anchor="middle" transform="translate(575.6,0) scale(0.66,1) translate(-575.6,0)">0.001</text>
<text x="649.5" y="1532.9" font-size="25" text-anchor="middle" transform="translate(649.5,0) scale(0.66,1) translate(-649.5,0)">0.01</text>
<text x="723.4" y="1532.9" font-size="25" text-anchor="middle" transform="translate(723.4,0) scale(0.66,1) translate(-723.4,0)">0.05</text>
<text x="797.2" y="1532.9" font-size="25" text-anchor="middle" transform="translate(797.2,0) scale(0.66,1) translate(-797.2,0)">0.1</text>
<text x="871.1" y="1532.9" font-size="25" text-anchor="middle" transform="translate(871.1,0) scale(0.66,1) translate(-871.1,0)">0.5</text>
</g>
<g id="panel-d">
<clipPath id="clipd"><rect x="1112.9" y="857.6" width="919.4" height="525.4"/></clipPath>
<g clip-path="url(#clipd)">
<defs><pattern id="pfd" patternUnits="userSpaceOnUse" x="1108.8" y="854.3" width="8.2088" height="6.5670"><path d="M1.3 3.3h5.7M4.1 0.4v5.7" stroke="#000" stroke-width="1.1" fill="none"/></pattern><pattern id="phd" patternUnits="userSpaceOnUse" x="1108.8" y="854.3" width="16.4175" height="13.1340"><path d="M1.3 3.3h5.7M4.1 0.4v5.7M9.5 9.9h5.7M12.3 7v5.7" stroke="#000" stroke-width="1.1" fill="none"/></pattern></defs><g><rect x="1207.3" y="854.3" width="99.2" height="27" fill="#ddddff"/><rect x="1371.5" y="854.3" width="33.5" height="27" fill="#ddddff"/><rect x="1535.7" y="854.3" width="33.5" height="27" fill="#ddddff"/><rect x="1732.7" y="854.3" width="33.5" height="27" fill="#ffdddd"/><rect x="1765.5" y="854.3" width="66.4" height="27" fill="#ddddff"/><rect x="1174.5" y="880.6" width="33.5" height="27" fill="#ddddff"/><rect x="1207.3" y="880.6" width="33.5" height="27" fill="#aaaaff"/><rect x="1240.1" y="880.6" width="66.4" height="27" fill="#ddddff"/><rect x="1404.3" y="880.6" width="33.5" height="27" fill="#ffdddd"/><rect x="1601.3" y="880.6" width="33.5" height="27" fill="#ffdddd"/><rect x="1634.2" y="880.6" width="66.4" height="27" fill="#ddddff"/><rect x="1699.8" y="880.6" width="66.4" height="27" fill="#aaaaff"/><rect x="1831.2" y="880.6" width="33.5" height="27" fill="#ddddff"/><rect x="1864" y="880.6" width="33.5" height="27" fill="#aaaaff"/><rect x="1896.8" y="880.6" width="33.5" height="27" fill="#ddddff"/><rect x="1108.8" y="906.9" width="33.5" height="27" fill="#ddddff"/><rect x="1141.6" y="906.9" width="66.4" height="27" fill="#aaaaff"/><rect x="1240.1" y="906.9" width="66.4" height="27" fill="#ddddff"/><rect x="1371.5" y="906.9" width="66.4" height="27" fill="#aaaaff"/><rect x="1437.1" y="906.9" width="164.9" height="27" fill="#ddddff"/><rect x="1601.3" y="906.9" width="33.5" height="27" fill="#ffdddd"/><rect x="1634.2" y="906.9" width="66.4" height="27" fill="#6666ff"/><rect x="1699.8" y="906.9" width="66.4" height="27" fill="#ddddff"/><rect x="1831.2" y="906.9" width="33.5" height="27" fill="#ddddff"/><rect x="1864" y="906.9" width="33.5" height="27" fill="#aaaaff"/><rect x="1896.8" y="906.9" width="33.5" height="27" fill="#ddddff"/><rect x="1962.5" y="906.9" width="33.5" height="27" fill="#ddddff"/><rect x="1240.1" y="933.1" width="33.5" height="27" fill="#ddddff"/><rect x="1273" y="933.1" width="33.5" height="27" fill="#aaaaff"/><rect x="1305.8" y="933.1" width="66.4" height="27" fill="#ddddff"/><rect x="1371.5" y="933.1" width="99.2" height="27" fill="#aaaaff"/><rect x="1470" y="933.1" width="66.4" height="27" fill="#ddddff"/><rect x="1535.7" y="933.1" width="33.5" height="27" fill="#aaaaff"/><rect x="1568.5" y="933.1" width="33.5" height="27" fill="#ffdddd"/><rect x="1601.3" y="933.1" width="33.5" height="27" fill="#ddddff"/><rect x="1634.2" y="933.1" width="33.5" height="27" fill="#aaaaff"/><rect x="1667" y="933.1" width="33.5" height="27" fill="#ffaaaa"/><rect x="1699.8" y="933.1" width="66.4" height="27" fill="#aaaaff"/><rect x="1765.5" y="933.1" width="99.2" height="27" fill="#ddddff"/><rect x="1896.8" y="933.1" width="33.5" height="27" fill="#ddddff"/><rect x="1929.7" y="933.1" width="33.5" height="27" fill="#aaaaff"/><rect x="1108.8" y="959.4" width="132" height="27" fill="#ddddff"/><rect x="1273" y="959.4" width="99.2" height="27" fill="#aaaaff"/><rect x="1371.5" y="959.4" width="197.7" height="27" fill="#6666ff"/><rect x="1568.5" y="959.4" width="99.2" height="27" fill="#aaaaff"/><rect x="1667" y="959.4" width="66.4" height="27" fill="#6666ff"/><rect x="1732.7" y="959.4" width="66.4" height="27" fill="#aaaaff"/><rect x="1798.3" y="959.4" width="33.5" height="27" fill="#ddddff"/><rect x="1831.2" y="959.4" width="33.5" height="27" fill="#aaaaff"/><rect x="1108.8" y="985.7" width="33.5" height="27" fill="#ddddff"/><rect x="1141.6" y="985.7" width="33.5" height="27" fill="#aaaaff"/><rect x="1174.5" y="985.7" width="33.5" height="27" fill="#ddddff"/><rect x="1207.3" y="985.7" width="33.5" height="27" fill="#aaaaff"/><rect x="1240.1" y="985.7" width="66.4" height="27" fill="#ddddff"/><rect x="1338.6" y="985.7" width="33.5" height="27" fill="#aaaaff"/><rect x="1371.5" y="985.7" width="66.4" height="27" fill="#6666ff"/><rect x="1437.1" y="985.7" width="33.5" height="27" fill="#ffdddd"/><rect x="1470" y="985.7" width="132" height="27" fill="#6666ff"/><rect x="1601.3" y="985.7" width="33.5" height="27" fill="#0000e0"/><rect x="1634.2" y="985.7" width="33.5" height="27" fill="#aaaaff"/><rect x="1667" y="985.7" width="33.5" height="27" fill="#ddddff"/><rect x="1699.8" y="985.7" width="66.4" height="27" fill="#aaaaff"/><rect x="1765.5" y="985.7" width="33.5" height="27" fill="#ddddff"/><rect x="1798.3" y="985.7" width="33.5" height="27" fill="#aaaaff"/><rect x="1831.2" y="985.7" width="33.5" height="27" fill="#ddddff"/><rect x="1207.3" y="1011.9" width="33.5" height="27" fill="#ddddff"/><rect x="1240.1" y="1011.9" width="99.2" height="27" fill="#aaaaff"/><rect x="1338.6" y="1011.9" width="66.4" height="27" fill="#6666ff"/><rect x="1404.3" y="1011.9" width="33.5" height="27" fill="#ffdddd"/><rect x="1437.1" y="1011.9" width="66.4" height="27" fill="#ffaaaa"/><rect x="1502.8" y="1011.9" width="33.5" height="27" fill="#aaaaff"/><rect x="1535.7" y="1011.9" width="33.5" height="27" fill="#6666ff"/><rect x="1568.5" y="1011.9" width="33.5" height="27" fill="#aaaaff"/><rect x="1601.3" y="1011.9" width="33.5" height="27" fill="#6666ff"/><rect x="1634.2" y="1011.9" width="33.5" height="27" fill="#aaaaff"/><rect x="1667" y="1011.9" width="33.5" height="27" fill="#ddddff"/><rect x="1699.8" y="1011.9" width="99.2" height="27" fill="#aaaaff"/><rect x="1798.3" y="1011.9" width="33.5" height="27" fill="#ddddff"/><rect x="1174.5" y="1038.2" width="33.5" height="27" fill="#aaaaff"/><rect x="1207.3" y="1038.2" width="33.5" height="27" fill="#6666ff"/><rect x="1240.1" y="1038.2" width="33.5" height="27" fill="#ffdddd"/><rect x="1273" y="1038.2" width="66.4" height="27" fill="#ffaaaa"/><rect x="1338.6" y="1038.2" width="33.5" height="27" fill="#6666ff"/><rect x="1371.5" y="1038.2" width="66.4" height="27" fill="#aaaaff"/><rect x="1437.1" y="1038.2" width="132" height="27" fill="#6666ff"/><rect x="1568.5" y="1038.2" width="33.5" height="27" fill="#0000e0"/><rect x="1601.3" y="1038.2" width="33.5" height="27" fill="#6666ff"/><rect x="1634.2" y="1038.2" width="33.5" height="27" fill="#aaaaff"/><rect x="1667" y="1038.2" width="33.5" height="27" fill="#ddddff"/><rect x="1699.8" y="1038.2" width="33.5" height="27" fill="#aaaaff"/><rect x="1732.7" y="1038.2" width="99.2" height="27" fill="#ddddff"/><rect x="1141.6" y="1064.5" width="33.5" height="27" fill="#ddddff"/><rect x="1174.5" y="1064.5" width="33.5" height="27" fill="#aaaaff"/><rect x="1207.3" y="1064.5" width="33.5" height="27" fill="#ddddff"/><rect x="1240.1" y="1064.5" width="33.5" height="27" fill="#ffdddd"/><rect x="1273" y="1064.5" width="33.5" height="27" fill="#ddddff"/><rect x="1305.8" y="1064.5" width="33.5" height="27" fill="#aaaaff"/><rect x="1338.6" y="1064.5" width="33.5" height="27" fill="#6666ff"/><rect x="1371.5" y="1064.5" width="66.4" height="27" fill="#ffdddd"/><rect x="1437.1" y="1064.5" width="33.5" height="27" fill="#6666ff"/><rect x="1470" y="1064.5" width="66.4" height="27" fill="#aaaaff"/><rect x="1535.7" y="1064.5" width="66.4" height="27" fill="#6666ff"/><rect x="1601.3" y="1064.5" width="33.5" height="27" fill="#aaaaff"/><rect x="1634.2" y="1064.5" width="33.5" height="27" fill="#ddddff"/><rect x="1765.5" y="1064.5" width="33.5" height="27" fill="#ddddff"/><rect x="1174.5" y="1090.7" width="33.5" height="27" fill="#ddddff"/><rect x="1207.3" y="1090.7" width="33.5" height="27" fill="#aaaaff"/><rect x="1240.1" y="1090.7" width="66.4" height="27" fill="#6666ff"/><rect x="1305.8" y="1090.7" width="33.5" height="27" fill="#aaaaff"/><rect x="1338.6" y="1090.7" width="33.5" height="27" fill="#6666ff"/><rect x="1371.5" y="1090.7" width="33.5" height="27" fill="#aaaaff"/><rect x="1404.3" y="1090.7" width="33.5" height="27" fill="#ddddff"/><rect x="1437.1" y="1090.7" width="66.4" height="27" fill="#aaaaff"/><rect x="1502.8" y="1090.7" width="197.7" height="27" fill="#ddddff"/><rect x="1765.5" y="1090.7" width="33.5" height="27" fill="#ddddff"/><rect x="1207.3" y="1117" width="230.5" height="27" fill="#ddddff"/><rect x="1470" y="1117" width="33.5" height="27" fill="#ddddff"/><rect x="1207.3" y="1143.3" width="99.2" height="27" fill="#aaaaff"/><rect x="1305.8" y="1143.3" width="66.4" height="27" fill="#ddddff"/><rect x="1141.6" y="1169.5" width="33.5" height="27" fill="#ddddff"/><rect x="1240.1" y="1169.5" width="33.5" height="27" fill="#ddddff"/><rect x="1108.8" y="1195.8" width="33.5" height="27" fill="#aaaaff"/><rect x="1141.6" y="1195.8" width="33.5" height="27" fill="#ddddff"/><rect x="1108.8" y="1222.1" width="33.5" height="27" fill="#aaaaff"/><rect x="1141.6" y="1222.1" width="33.5" height="27" fill="#ddddff"/><rect x="1108.8" y="1248.3" width="33.5" height="27" fill="#aaaaff"/></g><rect x="1404.3" y="959.4" width="164.2" height="26.3" fill="url(#pfd)"/><rect x="1667" y="959.4" width="98.5" height="26.3" fill="url(#pfd)"/><rect x="1371.5" y="985.7" width="65.7" height="26.3" fill="url(#pfd)"/><rect x="1502.8" y="985.7" width="65.7" height="26.3" fill="url(#pfd)"/><rect x="1338.6" y="1011.9" width="65.7" height="26.3" fill="url(#pfd)"/><rect x="1502.8" y="1011.9" width="65.7" height="26.3" fill="url(#pfd)"/><rect x="1207.3" y="1038.2" width="65.7" height="26.3" fill="url(#pfd)"/><rect x="1338.6" y="1038.2" width="295.5" height="26.3" fill="url(#pfd)"/><rect x="1437.1" y="1064.5" width="65.7" height="26.3" fill="url(#pfd)"/><rect x="1568.5" y="1064.5" width="65.7" height="26.3" fill="url(#pfd)"/><rect x="1240.1" y="1090.7" width="131.3" height="26.3" fill="url(#pfd)"/><rect x="1240.1" y="1143.3" width="32.8" height="26.3" fill="url(#pfd)"/><rect x="1207.3" y="880.6" width="98.5" height="26.3" fill="url(#phd)"/><rect x="1634.2" y="880.6" width="32.8" height="26.3" fill="url(#phd)"/><rect x="1699.8" y="880.6" width="32.8" height="26.3" fill="url(#phd)"/><rect x="1112.9" y="906.9" width="61.6" height="26.3" fill="url(#phd)"/><rect x="1371.5" y="906.9" width="65.7" height="26.3" fill="url(#phd)"/><rect x="1502.8" y="906.9" width="32.8" height="26.3" fill="url(#phd)"/><rect x="1634.2" y="906.9" width="65.7" height="26.3" fill="url(#phd)"/><rect x="1273" y="933.1" width="32.8" height="26.3" fill="url(#phd)"/><rect x="1371.5" y="933.1" width="98.5" height="26.3" fill="url(#phd)"/><rect x="1502.8" y="933.1" width="65.7" height="26.3" fill="url(#phd)"/><rect x="1305.8" y="959.4" width="98.5" height="26.3" fill="url(#phd)"/><rect x="1568.5" y="959.4" width="32.8" height="26.3" fill="url(#phd)"/><rect x="1634.2" y="959.4" width="32.8" height="26.3" fill="url(#phd)"/><rect x="1765.5" y="959.4" width="32.8" height="26.3" fill="url(#phd)"/><rect x="1831.2" y="959.4" width="32.8" height="26.3" fill="url(#phd)"/><rect x="1141.6" y="985.7" width="32.8" height="26.3" fill="url(#phd)"/><rect x="1338.6" y="985.7" width="32.8" height="26.3" fill="url(#phd)"/><rect x="1437.1" y="985.7" width="65.7" height="26.3" fill="url(#phd)"/><rect x="1568.5" y="985.7" width="295.5" height="26.3" fill="url(#phd)"/><rect x="1240.1" y="1011.9" width="98.5" height="26.3" fill="url(#phd)"/><rect x="1404.3" y="1011.9" width="98.5" height="26.3" fill="url(#phd)"/><rect x="1568.5" y="1011.9" width="65.7" height="26.3" fill="url(#phd)"/><rect x="1699.8" y="1011.9" width="131.3" height="26.3" fill="url(#phd)"/><rect x="1174.5" y="1038.2" width="32.8" height="26.3" fill="url(#phd)"/><rect x="1273" y="1038.2" width="65.7" height="26.3" fill="url(#phd)"/><rect x="1634.2" y="1038.2" width="98.5" height="26.3" fill="url(#phd)"/><rect x="1174.5" y="1064.5" width="65.7" height="26.3" fill="url(#phd)"/><rect x="1273" y="1064.5" width="164.2" height="26.3" fill="url(#phd)"/><rect x="1502.8" y="1064.5" width="65.7" height="26.3" fill="url(#phd)"/><rect x="1634.2" y="1064.5" width="32.8" height="26.3" fill="url(#phd)"/><rect x="1207.3" y="1090.7" width="32.8" height="26.3" fill="url(#phd)"/><rect x="1371.5" y="1090.7" width="131.3" height="26.3" fill="url(#phd)"/><rect x="1601.3" y="1090.7" width="65.7" height="26.3" fill="url(#phd)"/><rect x="1207.3" y="1143.3" width="32.8" height="26.3" fill="url(#phd)"/><rect x="1273" y="1143.3" width="32.8" height="26.3" fill="url(#phd)"/><rect x="1112.9" y="1195.8" width="61.6" height="26.3" fill="url(#phd)"/><rect x="1112.9" y="1222.1" width="28.7" height="26.3" fill="url(#phd)"/><rect x="1112.9" y="1248.3" width="28.7" height="26.3" fill="url(#phd)"/><path fill="none" stroke="#000" stroke-width="1.1" d="M1216.8 864.2h5.7M1219.6 861.3v5.7M1225 870.7h5.7M1227.8 867.9v5.7M1233.2 864.2h5.7M1236 861.3v5.7M1249.6 864.2h5.7M1252.4 861.3v5.7M1257.8 870.7h5.7M1260.7 867.9v5.7M1266 864.2h5.7M1268.9 861.3v5.7M1380.9 864.2h5.7M1383.8 861.3v5.7M1389.1 870.7h5.7M1392 867.9v5.7M1397.4 864.2h5.7M1400.2 861.3v5.7M1512.3 864.2h5.7M1515.1 861.3v5.7M1520.5 870.7h5.7M1523.3 867.9v5.7M1528.7 864.2h5.7M1531.5 861.3v5.7M1545.1 864.2h5.7M1548 861.3v5.7M1553.3 870.7h5.7M1556.2 867.9v5.7M1561.5 864.2h5.7M1564.4 861.3v5.7M1742.1 864.2h5.7M1745 861.3v5.7M1750.3 870.7h5.7M1753.2 867.9v5.7M1758.5 864.2h5.7M1761.4 861.3v5.7M1183.9 890.4h5.7M1186.8 887.6v5.7M1192.1 897h5.7M1195 894.2v5.7M1200.3 890.4h5.7M1203.2 887.6v5.7M1413.8 890.4h5.7M1416.6 887.6v5.7M1422 897h5.7M1424.8 894.2v5.7M1430.2 890.4h5.7M1433 887.6v5.7M1610.8 890.4h5.7M1613.6 887.6v5.7M1619 897h5.7M1621.8 894.2v5.7M1627.2 890.4h5.7M1630.1 887.6v5.7M1676.5 890.4h5.7M1679.3 887.6v5.7M1684.7 897h5.7M1687.5 894.2v5.7M1692.9 890.4h5.7M1695.7 887.6v5.7M1742.1 890.4h5.7M1745 887.6v5.7M1750.3 897h5.7M1753.2 894.2v5.7M1758.5 890.4h5.7M1761.4 887.6v5.7M1807.8 890.4h5.7M1810.6 887.6v5.7M1816 897h5.7M1818.9 894.2v5.7M1824.2 890.4h5.7M1827.1 887.6v5.7M1840.6 890.4h5.7M1843.5 887.6v5.7M1848.8 897h5.7M1851.7 894.2v5.7M1857 890.4h5.7M1859.9 887.6v5.7M1873.5 890.4h5.7M1876.3 887.6v5.7M1881.7 897h5.7M1884.5 894.2v5.7M1889.9 890.4h5.7M1892.7 887.6v5.7M1906.3 890.4h5.7M1909.1 887.6v5.7M1914.5 897h5.7M1917.4 894.2v5.7M1922.7 890.4h5.7M1925.6 887.6v5.7M1183.9 916.7h5.7M1186.8 913.9v5.7M1192.1 923.3h5.7M1195 920.4v5.7M1200.3 916.7h5.7M1203.2 913.9v5.7M1216.8 916.7h5.7M1219.6 913.9v5.7M1225 923.3h5.7M1227.8 920.4v5.7M1233.2 916.7h5.7M1236 913.9v5.7M1249.6 916.7h5.7M1252.4 913.9v5.7M1257.8 923.3h5.7M1260.7 920.4v5.7M1266 916.7h5.7M1268.9 913.9v5.7M1282.4 916.7h5.7M1285.3 913.9v5.7M1290.6 923.3h5.7M1293.5 920.4v5.7M1298.9 916.7h5.7M1301.7 913.9v5.7M1446.6 916.7h5.7M1449.5 913.9v5.7M1454.8 923.3h5.7M1457.7 920.4v5.7M1463 916.7h5.7M1465.9 913.9v5.7M1479.4 916.7h5.7M1482.3 913.9v5.7M1487.7 923.3h5.7M1490.5 920.4v5.7M1495.9 916.7h5.7M1498.7 913.9v5.7M1545.1 916.7h5.7M1548 913.9v5.7M1553.3 923.3h5.7M1556.2 920.4v5.7M1561.5 916.7h5.7M1564.4 913.9v5.7M1577.9 916.7h5.7M1580.8 913.9v5.7M1586.2 923.3h5.7M1589 920.4v5.7M1594.4 916.7h5.7M1597.2 913.9v5.7M1610.8 916.7h5.7M1613.6 913.9v5.7M1619 923.3h5.7M1621.8 920.4v5.7M1627.2 916.7h5.7M1630.1 913.9v5.7M1775 916.7h5.7M1777.8 913.9v5.7M1783.2 923.3h5.7M1786 920.4v5.7M1791.4 916.7h5.7M1794.2 913.9v5.7M1807.8 916.7h5.7M1810.6 913.9v5.7M1816 923.3h5.7M1818.9 920.4v5.7M1824.2 916.7h5.7M1827.1 913.9v5.7M1873.5 916.7h5.7M1876.3 913.9v5.7M1881.7 923.3h5.7M1884.5 920.4v5.7M1889.9 916.7h5.7M1892.7 913.9v5.7M1906.3 916.7h5.7M1909.1 913.9v5.7M1914.5 923.3h5.7M1917.4 920.4v5.7M1922.7 916.7h5.7M1925.6 913.9v5.7M1972 916.7h5.7M1974.8 913.9v5.7M1980.2 923.3h5.7M1983 920.4v5.7M1988.4 916.7h5.7M1991.2 913.9v5.7M1315.3 943h5.7M1318.1 940.1v5.7M1323.5 949.5h5.7M1326.3 946.7v5.7M1331.7 943h5.7M1334.5 940.1v5.7M1348.1 943h5.7M1351 940.1v5.7M1356.3 949.5h5.7M1359.2 946.7v5.7M1364.5 943h5.7M1367.4 940.1v5.7M1479.4 943h5.7M1482.3 940.1v5.7M1487.7 949.5h5.7M1490.5 946.7v5.7M1495.9 943h5.7M1498.7 940.1v5.7M1610.8 943h5.7M1613.6 940.1v5.7M1619 949.5h5.7M1621.8 946.7v5.7M1627.2 943h5.7M1630.1 940.1v5.7M1643.6 943h5.7M1646.5 940.1v5.7M1651.8 949.5h5.7M1654.7 946.7v5.7M1660 943h5.7M1662.9 940.1v5.7M1676.5 943h5.7M1679.3 940.1v5.7M1684.7 949.5h5.7M1687.5 946.7v5.7M1692.9 943h5.7M1695.7 940.1v5.7M1709.3 949.5h5.7M1712.1 946.7v5.7M1742.1 943h5.7M1745 940.1v5.7M1750.3 949.5h5.7M1753.2 946.7v5.7M1758.5 943h5.7M1761.4 940.1v5.7M1775 943h5.7M1777.8 940.1v5.7M1783.2 949.5h5.7M1786 946.7v5.7M1791.4 943h5.7M1794.2 940.1v5.7M1807.8 943h5.7M1810.6 940.1v5.7M1816 949.5h5.7M1818.9 946.7v5.7M1824.2 943h5.7M1827.1 940.1v5.7M1840.6 943h5.7M1843.5 940.1v5.7M1848.8 949.5h5.7M1851.7 946.7v5.7M1857 943h5.7M1859.9 940.1v5.7M1906.3 943h5.7M1909.1 940.1v5.7M1914.5 949.5h5.7M1917.4 946.7v5.7M1922.7 943h5.7M1925.6 940.1v5.7M1939.1 943h5.7M1942 940.1v5.7M1947.3 949.5h5.7M1950.2 946.7v5.7M1955.6 943h5.7M1958.4 940.1v5.7M1118.3 969.2h5.7M1121.1 966.4v5.7M1126.5 975.8h5.7M1129.3 973v5.7M1134.7 969.2h5.7M1137.5 966.4v5.7M1151.1 969.2h5.7M1153.9 966.4v5.7M1159.3 975.8h5.7M1162.2 973v5.7M1167.5 969.2h5.7M1170.4 966.4v5.7M1183.9 969.2h5.7M1186.8 966.4v5.7M1192.1 975.8h5.7M1195 973v5.7M1200.3 969.2h5.7M1203.2 966.4v5.7M1216.8 969.2h5.7M1219.6 966.4v5.7M1225 975.8h5.7M1227.8 973v5.7M1233.2 969.2h5.7M1236 966.4v5.7M1282.4 969.2h5.7M1285.3 966.4v5.7M1290.6 975.8h5.7M1293.5 973v5.7M1298.9 969.2h5.7M1301.7 966.4v5.7M1610.8 969.2h5.7M1613.6 966.4v5.7M1619 975.8h5.7M1621.8 973v5.7M1627.2 969.2h5.7M1630.1 966.4v5.7M1807.8 969.2h5.7M1810.6 966.4v5.7M1816 975.8h5.7M1818.9 973v5.7M1824.2 969.2h5.7M1827.1 966.4v5.7M1118.3 995.5h5.7M1121.1 992.7v5.7M1126.5 1002.1h5.7M1129.3 999.2v5.7M1134.7 995.5h5.7M1137.5 992.7v5.7M1183.9 995.5h5.7M1186.8 992.7v5.7M1192.1 1002.1h5.7M1195 999.2v5.7M1200.3 995.5h5.7M1203.2 992.7v5.7M1216.8 995.5h5.7M1219.6 992.7v5.7M1225 1002.1h5.7M1227.8 999.2v5.7M1233.2 995.5h5.7M1236 992.7v5.7M1282.4 995.5h5.7M1285.3 992.7v5.7M1290.6 1002.1h5.7M1293.5 999.2v5.7M1298.9 995.5h5.7M1301.7 992.7v5.7M1643.6 1021.8h5.7M1646.5 1018.9v5.7M1651.8 1028.3h5.7M1654.7 1025.5v5.7M1660 1021.8h5.7M1662.9 1018.9v5.7M1676.5 1021.8h5.7M1679.3 1018.9v5.7M1684.7 1028.3h5.7M1687.5 1025.5v5.7M1692.9 1021.8h5.7M1695.7 1018.9v5.7M1742.1 1048h5.7M1745 1045.2v5.7M1750.3 1054.6h5.7M1753.2 1051.8v5.7M1758.5 1048h5.7M1761.4 1045.2v5.7M1775 1048h5.7M1777.8 1045.2v5.7M1783.2 1054.6h5.7M1786 1051.8v5.7M1791.4 1048h5.7M1794.2 1045.2v5.7M1151.1 1074.3h5.7M1153.9 1071.5v5.7M1159.3 1080.9h5.7M1162.2 1078v5.7M1167.5 1074.3h5.7M1170.4 1071.5v5.7M1249.6 1074.3h5.7M1252.4 1071.5v5.7M1257.8 1080.9h5.7M1260.7 1078v5.7M1266 1074.3h5.7M1268.9 1071.5v5.7M1676.5 1074.3h5.7M1679.3 1071.5v5.7M1684.7 1080.9h5.7M1687.5 1078v5.7M1692.9 1074.3h5.7M1695.7 1071.5v5.7M1709.3 1074.3h5.7M1712.1 1071.5v5.7M1717.5 1080.9h5.7M1720.3 1078v5.7M1725.7 1074.3h5.7M1728.6 1071.5v5.7M1742.1 1074.3h5.7M1745 1071.5v5.7M1750.3 1080.9h5.7M1753.2 1078v5.7M1758.5 1074.3h5.7M1761.4 1071.5v5.7M1183.9 1100.6h5.7M1186.8 1097.7v5.7M1192.1 1107.1h5.7M1195 1104.3v5.7M1200.3 1100.6h5.7M1203.2 1097.7v5.7M1512.3 1100.6h5.7M1515.1 1097.7v5.7M1520.5 1107.1h5.7M1523.3 1104.3v5.7M1528.7 1100.6h5.7M1531.5 1097.7v5.7M1545.1 1100.6h5.7M1548 1097.7v5.7M1553.3 1107.1h5.7M1556.2 1104.3v5.7M1561.5 1100.6h5.7M1564.4 1097.7v5.7M1577.9 1100.6h5.7M1580.8 1097.7v5.7M1586.2 1107.1h5.7M1589 1104.3v5.7M1594.4 1100.6h5.7M1597.2 1097.7v5.7M1676.5 1100.6h5.7M1679.3 1097.7v5.7M1684.7 1107.1h5.7M1687.5 1104.3v5.7M1692.9 1100.6h5.7M1695.7 1097.7v5.7M1742.1 1100.6h5.7M1745 1097.7v5.7M1750.3 1107.1h5.7M1753.2 1104.3v5.7M1758.5 1100.6h5.7M1761.4 1097.7v5.7M1775 1100.6h5.7M1777.8 1097.7v5.7M1783.2 1107.1h5.7M1786 1104.3v5.7M1791.4 1100.6h5.7M1794.2 1097.7v5.7M1249.6 1126.8h5.7M1252.4 1124v5.7M1257.8 1133.4h5.7M1260.7 1130.6v5.7M1266 1126.8h5.7M1268.9 1124v5.7M1282.4 1126.8h5.7M1285.3 1124v5.7M1290.6 1133.4h5.7M1293.5 1130.6v5.7M1298.9 1126.8h5.7M1301.7 1124v5.7M1315.3 1126.8h5.7M1318.1 1124v5.7M1323.5 1133.4h5.7M1326.3 1130.6v5.7M1331.7 1126.8h5.7M1334.5 1124v5.7M1348.1 1126.8h5.7M1351 1124v5.7M1356.3 1133.4h5.7M1359.2 1130.6v5.7M1364.5 1126.8h5.7M1367.4 1124v5.7M1380.9 1126.8h5.7M1383.8 1124v5.7M1389.1 1133.4h5.7M1392 1130.6v5.7M1397.4 1126.8h5.7M1400.2 1124v5.7M1413.8 1126.8h5.7M1416.6 1124v5.7M1422 1133.4h5.7M1424.8 1130.6v5.7M1430.2 1126.8h5.7M1433 1124v5.7M1479.4 1126.8h5.7M1482.3 1124v5.7M1487.7 1133.4h5.7M1490.5 1130.6v5.7M1495.9 1126.8h5.7M1498.7 1124v5.7M1315.3 1153.1h5.7M1318.1 1150.3v5.7M1323.5 1159.7h5.7M1326.3 1156.8v5.7M1331.7 1153.1h5.7M1334.5 1150.3v5.7M1348.1 1153.1h5.7M1351 1150.3v5.7M1356.3 1159.7h5.7M1359.2 1156.8v5.7M1364.5 1153.1h5.7M1367.4 1150.3v5.7M1249.6 1179.4h5.7M1252.4 1176.5v5.7M1257.8 1186h5.7M1260.7 1183.1v5.7M1266 1179.4h5.7M1268.9 1176.5v5.7M1282.4 1179.4h5.7M1285.3 1176.5v5.7M1290.6 1186h5.7M1293.5 1183.1v5.7M1298.9 1179.4h5.7M1301.7 1176.5v5.7M1315.3 1179.4h5.7M1318.1 1176.5v5.7M1323.5 1186h5.7M1326.3 1183.1v5.7M1331.7 1179.4h5.7M1334.5 1176.5v5.7M1151.1 1231.9h5.7M1153.9 1229.1v5.7M1159.3 1238.5h5.7M1162.2 1235.6v5.7M1167.5 1231.9h5.7M1170.4 1229.1v5.7"/>
<g transform="translate(1112.9,857.6)" fill="none" stroke="#000" stroke-width="2.3" stroke-linejoin="round" stroke-linecap="round">
<polyline points="1.7,275.3 10.1,270.2 16.5,263.8 21.6,260"/>
<polyline points="92.9,258.7 91.7,261.8 84,263.8 72.6,267.9 59.8,266.9 50.9,268.9 50.9,276.5 54.7,282.9 58.5,289.3 62.9,296.9 70,299 64.9,303.3 59.8,308.4 59.3,314.8 61.1,318.6 57.3,324.5 49.6,328.8 44.5,332.6 38.1,339 31.8,344.1 26.7,347.9 19,353 10.1,355 3.7,356.8 0.7,358.1"/>
<polyline points="1.7,378.5 7.6,387.4 12.7,396.3 14.4,401.4 11.4,405.2 6.3,411.6 3.2,419.3 1.7,426.9"/>
<polyline points="1.2,448.6 10.1,450.3 21.6,446.8 28.7,441.7 30.5,434.5 31.8,430 38.1,431 34.3,437.1 35.6,454.9 36.9,470.2 40.7,485.5 44.5,500.8 48.3,513.5 52.2,523.7"/>
<polyline points="103.1,258.7 109.5,264.3 113.8,271.4 116.4,276.5"/>
<polyline points="135,258.7 128.6,264.3 123.5,270.2 116.4,276.5"/>
<polyline points="116.4,276.5 115.9,280.4 112.1,286.7 110.3,294.4 113.8,299.5 115.4,309.7 121,312.2 128.6,317.3 136.3,321.1 142.6,325 146.5,327"/>
<polyline points="146.5,326.2 152.8,323.7 161.8,327.5 174.5,333.1 186,338.2 200,344.1 212.7,353.5 225.5,355.5 238.2,355.5 245.3,354.3 246.4,361.9 243.3,368.3 237.7,374.7 225.5,375.4 212.7,372.6 200,368.8 187.2,361.1 171.9,358.6 159.2,353.5 146.5,348.4 135,343.3 131.7,340.8 135.8,332.6 140.1,328 146.5,326.2"/>
<polyline points="245.3,354.3 253.5,355 263.7,351 273.9,353.5 284.1,355 287.9,358.1 290.4,365.7 288.7,368.8 276.4,369.8 263.7,370.8 250.9,368.8 248.4,364.5 246.4,361.9"/>
<polyline points="289.2,368.8 301.9,368.3 313.4,364.5 319.8,359.4 330,354.3 340.1,351.7 350.3,355.5 354.2,361.9 355.9,365.7"/>
<polyline points="237.7,374.7 240.8,376.4 247.1,375.4 250.9,377.2 257.3,378.5 259.9,386.1 262.4,391.2 276.4,391.2 291.7,393.3 294.3,396.3 286.6,405.2 279,410.3 280.3,418 284.1,419.3 289.2,411.6 293,414.2 294.3,424.4 295.5,434.5 296.8,442.2"/>
<polyline points="240.8,373.4 239.5,381 244.6,388.7 248.4,389.9 240.8,396.3 236.9,397.6 242,405.2 244.6,414.2 247.1,421.8 249.7,432 250.9,434.5"/>
<polyline points="133.7,523.7 149,505.9 161.8,498.3 174.5,488.1 189.8,475.3 207.6,462.6 217.8,457.5 221.6,447.3 222.9,440.2 235.7,434.5 240.8,437.1 250.9,434.5 263.7,432 273.9,425.6 281.5,424.9 285.4,428.2 289.2,437.1 294.3,447.3 301.9,456.2 309.6,462.6 313.4,472.8 318.5,480.4 321,493.2 319.2,511 326.1,513.5 335,511 345.2,503.4 351.6,494.4 355.4,498.3 359.3,505.9 363.1,513.5 365.6,523.7"/>
<polyline points="296.8,434.5 301.9,426.9 305.7,419.3 308.3,409.1 315.9,406.5 319.8,397.6 324.9,388.7 328.7,378.5 332.5,372.1 340.1,367 349.1,363.2 355.4,363.2"/>
<polyline points="477.1,264.6 479,267.9 481.7,271.8 479.7,275.7 480.4,281.6 475.8,281 471.2,283 469.2,284.9 470.5,288.2 467.9,290.2 464,290.8 460,292.8 456.1,293.4"/>
<polyline points="470.5,289.5 477.1,292.1 484.9,292.8 488.9,295.4 494.1,296.7 499.4,299.3 504.6,298.7 509.9,302 515.1,304.6 520.3,305.2 524.3,308.5 526.9,310.5 526.9,316.4 523,317.7 519,319 513.8,320.3 508.5,321 504.6,322.9 505.3,326.9 504.6,330.8 508.5,334.7 512.5,338.7 515.1,342.6"/>
<polyline points="517.7,285.6 524.3,285.6 529.5,286.2 538,285.6"/>
<polyline points="528.2,264.6 530.2,269.2 532.8,274.4 534.8,279.7 538,285.6 542.6,291.5 547.9,295.4 554.4,297.4 561,296.7 567.5,296.7 572.8,297.4 574.1,302 578,304.6 584.6,307.2 588.5,308.5 593.8,307.9 597.7,311.1 602.9,313.8 604.3,316.4 601.6,319 603.6,324.3 605.6,330.8"/>
<polyline points="518.4,286.2 521.7,288.2 526.2,290.8 527.6,293.1 523,294.1 519,296.1 520.3,300.7 520.3,304.6"/>
<polyline points="596.4,265.3 602.9,266.6 606.9,268.5 609.5,271.8 610.8,277.1 606.9,275.7 600.3,275.1 597.7,278.4 595.1,283.6 589.2,286.9 592.5,291.5 595.1,294.1 600.3,294.8 602.9,296.7 601.6,303.3 596.4,307.2"/>
<polyline points="610.8,266.6 613.4,269.8 620,273.1 626.6,275.7 630.5,279 630.5,283.6 633.1,287.5 638.4,291.5 642.3,289.5 645.6,291.5 644.9,294.8 641,295.4 637,298 635.1,303.3 637,307.2 638.4,311.1 642.3,312.5 648.8,313.8 652.8,312.5 658,315.1 662,316.4 668.5,315.1 679,316.4 681.6,317.7"/>
<polyline points="646.2,265.3 655.4,269.2 660.6,271.8 663.3,278.4 665.9,284.9 668.5,291.5 671.1,295.4 677.7,300.7 681.6,304.6 682.3,311.1 679.7,316.4"/>
<polyline points="658,302 663.3,301.3 668.5,303.3 676.4,305.9 681,309.2"/>
<polyline points="659.3,325.6 665.9,324.3 672.4,322.9 679,325.6 684.9,324.3"/>
<polyline points="684.9,321.6 683.2,330.8 679.7,337.4 676.6,343.9 672.7,350.5 668.8,355.7 663.5,361.2 658.3,367.5 653,371.7 652.8,379.6 650.2,384.8 643.9,390.1 637.3,395.3 630.7,400.6 624.2,405.8 617.6,412.1 611.1,416 604.5,418.9 598,421.5 590.1,422.9 582.2,426.8 577,428.1 571.7,425.2 569.1,429.2 563.9,431.8 558.6,434.4 550.8,437 541.6,439.9 535,442.5 531.1,445.1 529.5,447.8 531.5,451.7 532.1,455.4 529.5,458 525.6,458 523,454.1 521.7,448.8 523,442.3 524.3,438.6 520.3,439.9 517.7,441 511.2,439.6 507.2,437.3 500.7,438.6 495.4,441.2 491.5,443.8 486.3,447.8 482.3,450.4 478.4,454.3 475.8,458.3 473.1,460.9 470.5,464.8 468.6,471.4 469.2,475.3 473.1,479.2 478.4,483.2 481,489.7 484.9,495 490.5,500.2 493.1,506.8 498.3,510.7 504.9,515.9 508.5,520.9 511.2,526.7"/>
<polyline points="507.2,468.5 511.2,464.6 517.7,461.3 525.6,460 533.5,459.3 538,461.3 538.7,465.9 534.8,471.1 532.1,475 529.5,479 524.3,481.6 519,482.9 513.8,481.6 508.5,479 507.2,473.7 507.2,468.5"/>
<polyline points="456.1,475 462,477 464,481.6 467.9,488.2 470.5,492.1 475.8,497.3 479,502.6 481,506.5 484.9,510.4 488.9,514.4 491.5,519.6 494.8,526.7"/>
<polyline points="456.1,492.1 457.4,498.6 461.3,505.2 465.3,510.4 467.9,515.7 467.2,526.7"/>
<polyline points="456.1,418.7 461.3,416 466.6,417.3 470.5,421.3 475.8,421.3 481,422.6 482.3,429.2 484.3,434.4 490.2,437.7 495.4,437.7 505.9,435.1 512.5,438.3 519,439.6 523,439"/>
<polyline points="456.1,401.6 461.3,401 466.6,405.5 473.1,406.9 475.1,410.8 473.1,413.4 469.2,414.7 465.9,417.3 464,418"/>
<polyline points="515.1,338.7 517.7,334.7 524.3,333.4 532.1,332.1 534.8,328.2 541.3,328.2 547.9,330.8 554.4,333.4 561,332.1 564.9,334.1 570.2,330.8 572.8,334.7 574.1,340"/>
<polyline points="574.1,340 579.3,342.6 580.7,349.2 576.7,353.1 572.8,358.3 571.5,362.3 574.1,366.2 575.4,372.8 578,379.3 576.7,387.2 577.4,389.8"/>
<polyline points="515.1,338.7 515.8,343.9 515.8,350.5 517.7,358.3 515.1,362.3 509.9,366.2 513.8,368.8 517.7,368.8 519,372.8 517.7,376.7 519,380.6"/>
<polyline points="519,380.6 524.3,378.7 529.5,379.3 534.8,376.7 540,377.4 542.6,380.6 542.6,384.6 540,388.5 538,393.7 542.6,396.4 547.9,397.7 551.8,396.4 554.4,392.4 561,392.4 564.9,389.8 570.2,387.8 576.7,388.5 582,388.5 585.9,389.8 585.9,393.7 580.7,396.4 582,400.3 587.2,400.3 593.8,397.7 600.3,399"/>
<polyline points="579.3,338 587.2,336.1 593.8,334.1 600.3,330.8 605.6,330.8 612.1,328.2 614.7,332.1 620,330.8 623.9,333.4 631.8,334.7"/>
<polyline points="631.8,334.7 630.5,338.7 633.1,343.9 635.7,349.2 637,351.8 631.8,353.1 626.6,355.7 620,357 617.4,359.7 617.4,366.2 613.4,368.8 610.8,372.8 608.2,379.3 605.6,384.6 602.9,391.1 601.6,395.1 600.3,399"/>
<polyline points="637,351.8 639.7,358.3 642.3,362.3 647.5,361 652.8,363.6 658,363.6 660.6,364.9"/>
<polyline points="601.6,395.1 606.9,396.4 613.4,397.7 616.1,402.9 618.7,410.8"/>
<polyline points="553.1,397.7 551.8,402.9 547.9,409.5 543.9,414.7 542.6,421.3 537.4,425.2 534.8,429.2 530.8,431.8 526.9,434.4 524.3,437"/>
<polyline points="519,380.6 512.5,383.3 508.5,385.9 503.3,387.2 499.4,389.8 494.1,391.1 490.2,388.5 486.9,386.5 484.9,389.8 482.3,391.1 474.5,393.7 471.8,396.4 466.6,395.1 461.3,393.7 456.1,391.1"/>
<polyline points="462.7,334.1 467.9,326.9 471.8,324.3 478.4,325.6 483.6,326.9 487.6,322.9 491.5,317.7 495.4,316.4 498.1,313.8 500.7,309.8 504.6,305.9"/>
<polyline points="462.7,334.1 466.6,340 470.5,343.9 475.8,347.9 482.3,346.5 486.3,343.9 490.2,342.6 494.1,340 498.1,340.6 502,341.3 505.9,347.9 509.9,351.8 513.8,351.8 515.8,350.5"/>
<polyline points="456.1,355.7 460,354.4 462.7,357 461.3,361 456.1,362.3"/>
<polyline points="658,414.7 662,406.9 668.5,397.7 673.8,392.4 679,389.8 682.9,393.7 681.6,400.3 679,409.5 676.4,418.7 672.4,426.5 668.5,431.8 667.2,434.4 664.6,429.2 660.6,426.5 658.7,421.3 658,414.7"/>
<polyline points="656.7,526.7 654.7,519.6 654.1,511.8 656.7,507.8 660.6,510.4 662,505.2 663.3,494.7 664.6,481.6 668.5,477.7 673.8,479 679,480.3 686.1,481.6"/>
<polyline points="676.4,526.7 679,519.6 686.1,514.4"/>
<polyline points="724.1,274.4 732,271.8 738.5,269.8 745.1,266.8 754.3,264.2 764.8,261.6 777.9,258.7"/>
<polyline points="733.3,273.1 735.9,267.9 741.2,263.9"/>
<polyline points="737.2,284.9 741.2,282.3 747.1,282 747.7,284.3 742.5,286.2 737.2,284.9"/>
<polyline points="780.5,284.9 788.4,282.3 794.9,278.4 800.2,275.7 804.1,278.4 809.3,283.6 813.3,288.9 810.7,294.1 808,300.7 806.7,308.5 801.5,312.5 796.2,315.1 791,311.1 789.7,302 787.1,296.7 783.1,291.5 780.5,284.9"/>
<polyline points="770,294.1 773.9,290.2 777.9,286.2"/>
<polyline points="798.9,270.5 804.1,269.2 810.7,266.6 817.2,262.6 822.5,258.7"/>
<polyline points="798.9,273.1 804.1,275.7 810.7,277.1 817.2,273.1 823.8,270.5 832.9,269.2 843.4,266.6 850,265.3 856.6,266.6 859.2,269.2"/>
<polyline points="817.2,284.9 821.1,278.4 830.3,275.7 836.9,274.4 843.4,271.8 848.7,273.1 850,277.1 843.4,281 842.1,284.9 836.9,283.6 830.3,284.9 827.7,291.5 823.8,292.8 819.8,288.9 817.2,284.9"/>
<polyline points="856.6,266.6 856.6,274.4 861.8,282.3 864.4,281 869.7,274.4 872.3,271.8 877.5,270.5 880.2,267.9 888,266.6 895.9,266.6 901.1,262.6 906.4,261.3 911.6,258.7"/>
<polyline points="874.9,263.9 877.5,261.3 880.2,263.9"/>
<polyline points="783.6,305.9 785.2,306.2"/>
<polyline points="779.7,313.8 781.3,314"/>
<polyline points="786.3,317.7 787.8,318"/>
<polyline points="794.1,320.3 795.7,320.6"/>
<polyline points="800.7,319 802.3,319.3"/>
<polyline points="785,329.5 786.5,329.8"/>
<polyline points="782.3,334.7 783.9,335"/>
<polyline points="777.1,338.7 778.7,338.9"/>
<polyline points="774.5,343.9 776,344.2"/>
<polyline points="782.3,349.2 783.9,349.4"/>
<polyline points="786.9,350.5 788.5,350.7"/>
<polyline points="777.1,353.1 778.7,353.4"/>
<polyline points="773.2,358.3 774.7,358.6"/>
<polyline points="769.2,362.3 770.8,362.5"/>
<polyline points="764,356.4 765.6,356.6"/>
<polyline points="764,367.5 765.6,367.8"/>
<polyline points="760,372.8 761.6,373"/>
<polyline points="757.4,378 759,378.3"/>
<polyline points="750.9,378 752.4,378.3"/>
<polyline points="744.3,375.4 745.9,375.7"/>
<polyline points="702.4,383.3 703.9,383.5"/>
<polyline points="715.5,381.9 717,382.2"/>
<polyline points="694.5,401 696.1,401.2"/>
<polyline points="705,402.9 706.6,403.2"/>
<polyline points="711.5,400.3 713.1,400.6"/>
<polyline points="717.4,397.7 719,397.9"/>
<polyline points="726,396.4 727.5,396.6"/>
<polyline points="803.3,382.6 804.9,382.9"/>
<polyline points="802.7,401 804.2,401.2"/>
<polyline points="866.9,454.1 868.5,454.3"/>
<polyline points="765.3,302 766.9,302.2"/>
<polyline points="723.3,275.1 724.9,275.4"/>
<polyline points="727.3,273.1 728.8,273.4"/>
<polyline points="777.1,270.5 778.7,270.8"/>
<polyline points="779.7,267.9 781.3,268.1"/>
<polyline points="908.2,271.8 909.8,272.1"/>
<polyline points="910.8,275.7 912.4,276"/>
<polyline points="913.5,282.3 915,282.6"/>
<polyline points="12.8,2.5 15.4,4.5 13.5,8.3 16.7,10.3 21.8,9 27,8.3 30.8,11.5 34.7,12.8 39.8,12.2 45,13.5 48.9,12.8 45,16.7 43.7,19.9 50.1,19.3 56.6,19.3 63,15.4 68.2,12.8 73.3,10.9 79.7,9 86.2,7.7 91.3,7 90,9 84.9,10.3 83.6,11.5 88.7,14.1 96.5,18 102.9,21.8 108,27 114.5,34.7 120.9,43.7 126.1,50.1 131.2,55.3 135.1,52.7 137.6,49.5 141.5,48.9 144.1,50.1 146.6,52.7 150.5,55.3 156.9,55.9 163.4,55.3 169.8,52.7 176.2,52.7 182.7,55.3 186.5,59.1 189.1,61.7 194.3,63 198.1,66.9 200.7,70.1 208.4,70.7 214.8,69.4 218.7,68.2 221.3,70.7 223.8,73.3 227.1,75.9"/>
<polyline points="227.1,78.4 222.6,79.7 220,82.3 214.8,84.9 207.1,86.2 204.5,91.3 205.8,97.7 204.5,101.6 199.4,102.9 194.3,105.5 189.1,104.2 178.8,104.2 172.4,102.9 171.1,108 168.5,114.5 164.7,120.9 162.1,124.8 165.9,126.1 163.4,128.6 156.9,127.3 150.5,128.6 144.1,129.9 137.6,131.2 131.2,131.2 128.6,132.5 135.1,135.1 136.3,140.2 137.6,145.4 138.9,150.5 141.5,155.6 137.6,158.2 136.3,163.4 133.8,165.9 135.1,168.5 131.2,169.8 122.2,172.4 114.5,175 108,178.8 104.2,182.7 96.5,184 90,185.2 86.2,189.1 83.6,191.7 79.7,189.1 73.3,187.8 68.2,189.1 63,190.4 56.6,193 51.4,195.5 50.1,199.4 48.9,204.5 48.9,208.4 51.4,213.6 55.3,214.8 60.4,214.8 63,217.4 64.3,222.6 66.2,227.7 68.2,230.3 63,231.6"/>
<polyline points="45,119.6 47.6,114.5 52.7,111.9 60.4,109.3 68.2,108 78.4,107.4 86.2,108 93.9,108.7 101.6,109.3 109.3,109.3 115.8,108 120.9,109.3 119.6,111.9 111.9,113.2 105.5,113.2 96.5,111.9 86.2,111.3 75.9,110.6 68.2,110.6 60.4,111.9 56.6,114.5 54,119.6 52.7,124.8 53.4,131.2 50.1,128.6 46.3,124.8 45,119.6"/>
<polyline points="1.2,175 7.7,168.5 12.8,162.1 19.3,159.5 28.3,159.5 36,162.1 43.7,163.4 46.3,158.2 50.1,155.6 55.3,154.4 63,156.9 68.2,158.9 75.9,158.9 83.6,158.2 91.3,157.6 99,158.2 106.8,158.9 114.5,158.9 120.9,160.2 126.1,162.7 131.2,164.7 134.4,167.2"/>
<polyline points="1.2,176.2 9,177.5 15.4,178.8 21.8,176.2 25.7,177.5 29.6,180.1 34.7,182.7 41.1,185.2 36,186.5 30.8,187.8 25.7,190.4 21.8,193 15.4,193 9,191.7 3.8,190.4 1.2,186.5"/>
<polyline points="1.2,202 9,202.6 15.4,203.3 21.8,204.5 28.3,207.1 34.7,205.8 41.1,203.3 48.9,203.3"/>
<polyline points="1.2,221.3 6.4,217.4 11.5,216.1 15.4,217.4 18,220 19.3,227.7 20.5,234.1 21.8,238 28.3,235.4 34.7,232.9 42.4,231.6 47.6,230.9 54,231.6 60.4,231.6 65.6,232.9"/>
<polyline points="15.4,250.9 21.8,247 29.6,244.4 37.3,241.9 45,240.6 52.7,240.6 60.4,241.9 68.2,243.1 73.3,244.4 78.4,248.3 81,253.4 86.2,257.3 91.3,259.9"/>
<polyline points="19.3,252.2 20.5,259.9"/>
<polyline points="135.1,259.9 142.8,257.3 150.5,256 158.2,253.4 164.7,252.2 171.1,253.4 178.8,252.2 186.5,249.6 194.3,247 202,245.7 208.4,244.4 214.8,243.1 221.3,241.9 227.1,241.2"/>
<polyline points="226.1,76.5 232.5,75.9 239,73.3 245.4,72 251.8,70.7 257,68.2 258.3,66.2 264.7,64.3 271.1,61.7 273.7,59.1 280.1,57.9 285.3,55.9 293,54.6 298.2,55.9 303.3,57.2 311,57.9 318.7,57.9 321.3,61.7 323.9,64.3 329,66.2 336.8,66.2 344.5,66.2 349.6,66.2 357.3,68.2 362.5,66.9 367.6,64.3 371.5,60.4 371.5,56.6 367.6,54 365.1,51.4 366.3,47.6 370.2,43.7 375.4,41.1 379.2,37.3 385.6,39.8 393.4,41.8 401.1,43.1 408.8,45 416.5,46.3 421.7,47.6 423,52.7 424.3,56.6 428.1,59.1 434.5,61.1 442.3,63 447.4,61.7 452.6,60.4 457.1,59.1"/>
<polyline points="457.1,41.1 447.4,42.4 442.3,43.7 447.4,45.3 457.1,45.6"/>
<polyline points="232.5,78.4 233.8,81 239,84.9 245.4,88.7 251.8,91.3 258.3,93.2 263.4,95.2 267.3,99 271.1,102.9 275,106.8 276.3,111.9 274.4,117 272.4,122.2 273.7,127.3 280.1,129.3 290.4,130.6 300.7,131.2 307.2,132.5 313.6,134.4 318.7,137 326.5,139.6 332.9,140.9 335.5,144.1 339.3,150.5 343.2,156.9 347,160.8"/>
<polyline points="347,160.8 354.8,160.8 367.6,161.4 380.5,162.1 393.4,162.1 406.2,162.7 416.5,164.7 424.3,167.2 432,169.8 439.7,171.7 447.4,172.4 457.1,173"/>
<polyline points="347,160.8 341.9,163.4 340.6,169.8 335.5,172.4 326.5,173.7 320,177.5 316.2,181.4 312.3,185.2 311,189.1 305.9,190.4 300.7,191.7 299.4,199.4 300.7,205.8"/>
<polyline points="356.1,162.1 359.9,168.5 363.8,175 366.3,178.8 365.1,181.4 367.6,185.2 371.5,186.5 372.8,189.1 377.9,186.5 384.4,185.2 390.8,184 394.7,185.2 395.9,189.1 392.1,193 388.2,196.8 393.4,199.4 398.5,200.7 403.7,203.3 406.2,207.1 408.8,209.7 412.7,211 417.8,209.7 425.5,208.4 432,207.1 439.7,205.8 444.8,204.5 447.4,207.1 446.1,212.3 442.3,214.8 439.7,218.7 444.8,222.6 450,226.4 457.1,227.7"/>
<polyline points="264.7,217.4 277.6,213.6 290.4,211 303.3,208.4 309.7,207.1 318.7,205.8 329,208.4 336.8,212.3 345.8,216.1 353.5,218.7 354.8,212.3 357.3,208.4 362.5,209.7 367.6,211 374.1,209.7 380.5,212.3 386.9,214.8 393.4,217.4 395.9,216.1 401.1,220 406.2,222.6 411.4,225.1 416.5,227.7 419.1,226.4 421.7,231.6 426.8,235.4 429.4,238 432,243.1 430.7,248.3 426.8,253.4 425.5,259.9"/>
<polyline points="264.7,217.4 267.3,221.3 271.1,225.1 275,227.7 277.6,231.6 280.1,235.4 275,236.7 273.7,240.6 275,245.7 272.4,247 264.7,245.7 257,247 249.3,247.6 239,245.7 226.1,248.3"/>
<polyline points="255.7,249.6 258.3,259.9"/>
<polyline points="456.1,41.1 462.5,38.6 469,34.7 475.4,32.1 481.8,27 489.6,21.8 497.3,19.3 503.7,14.1 507.6,9 510.1,3.8 511.4,1.2"/>
<polyline points="456.1,46.9 463.8,45 471.5,42.4 476.7,37.3 481.8,33.4 489.6,29.6 497.3,25.7 505,21.8 510.1,18 516.6,14.1 519.1,10.3 519.8,5.1 521.1,1.2"/>
<polyline points="483.1,26.3 489.6,23.1 496,21.2"/>
<polyline points="456.1,60.4 462.5,59.1 469,59.8 479.3,60.4 485.7,63 496,65.6 499.8,70.7 507.6,73.9 517.9,74.6 524.3,75.9 530.7,75.2 539.7,73.3 548.7,72 559,70.7 565.5,68.2 571.9,64.3 578.3,62.4 584.8,61.7 591.2,64.3 597.6,66.9 605.4,65.6 611.8,66.9 618.2,69.4 627.2,70.7 633.7,68.2 638.8,65.6 644,64.3 647.8,61.7"/>
<polyline points="647.8,61.7 649.1,56.6 653,51.4 658.1,46.3 662,42.4 665.8,38.6 665.8,33.4 662,30.8 657.5,29.6 662,25.7 668.4,21.8 677.4,20.5 687.1,19.3"/>
<polyline points="672.3,30.8 677.4,32.8 682.6,34.7 687.1,33.4"/>
<polyline points="456.1,175 469,169.8 481.8,165.9 494.7,163.4 507.6,162.1 517.9,159.5 528.2,155.6 535.9,151.8 543.6,149.2 551.3,145.4 548.7,141.5 544.9,137.6 546.2,132.5 551.3,129.9 559,131.2 566.8,133.8 574.5,132.5 582.2,128.6 592.5,124.8 598.9,123.5 604.1,120.9 607.9,117 613.1,113.2 619.5,110.6 627.2,109.3 636.2,107.8 644,106.8 649.1,108 653,106.8 654.3,102.9 651.7,99 646.5,96.5 641.4,93.9 636.2,92 631.1,91.3 625.9,92.6 620.8,96.5 613.1,95.2 606.6,96.5 601.5,95.2 597.6,91.3 598.9,86.2 602.8,83.6 605.4,78.4 607.9,73.3 611.8,66.9"/>
<polyline points="686.1,19.5 693.9,18.9 703,19.5 712.1,22.1 721.3,23.4 729.1,25.4 735.6,28.6 739.5,33.9 743.4,41.7 748.6,49.5 752.5,57.3 755.1,65.1 759,69 766.8,71 777.2,72.3 785,75.5 792.9,79.4 796.8,82 796.8,87.2 800.7,95 809.8,95 820.2,94.4 826.7,91.1 835.8,88.5 842.3,87.2 848.8,87.2 850.1,93.7 846.2,99 842.3,101.6 839.7,109.4 837.1,115.9 831.9,122.4 828,127.6 824.1,132.8 820.2,135.4 816.3,131.5 815,127.6 816.3,126.3 821.5,126.3 824.1,128.9"/>
<polyline points="815,126.9 811.1,127.6 807.2,130.2 800.7,132.8 802,139.3 803.3,145.8 804.6,152.3 800.7,156.2"/>
<polyline points="792.9,162.7 798.1,158.8 805.9,156.2 813.7,154.9 818.9,153.6 822.8,160.1 829.3,161.4 838.4,158.8 846.2,154.9 855.4,149.7 860.6,144.5 868.4,136.7 876.2,130.2 884,123.7 891.8,117.2 897,110.7 902.2,102.9 907.4,95 912.6,89.8 921.1,85.9"/>
<polyline points="686.1,32.6 691.3,35.2 692.6,40.4 695.2,47.5 703,48.8 712.1,47.5 718.6,45.6 725.2,44.3 730.4,47.5 735.6,52.1 731.7,57.3 727.8,61.2 725.2,66.4 724.5,71.6 725.2,76.2 717.3,82 714.7,85.9 715.4,89.8 712.1,87.2 708.2,88.5 701.7,92.4 693.9,96.3 688.7,99 687.4,101.6 691.3,102.9 696.5,105.5 699.1,109.4 696.5,112"/>
<polyline points="699.1,108.1 703,110.7 706.9,115.9 708.2,121.1 714.7,123.7 722.6,125 730.4,126.3 735.6,128.9 744.7,128.9 751.2,135.4 759,143.2 765.5,138 769.4,143.2 774.6,149.7 783.7,145.8 790.3,144.5 794.2,149.7 800.7,151 804.6,152.3"/>
<polyline points="761.7,171.2 756.4,175.8 751.2,175.8 746,173.2 740.8,175.8 735.6,178.4 730.4,182.3 725.2,186.2 720,191.4 716,196.6 714,199.6"/>
<polyline points="761.7,171.2 764.2,168 770.7,168 777.2,165.4 782.4,162.7 786.3,158.8 791.6,160.1 796.8,161.4 800.7,156.2"/>
<polyline points="686.1,204.4 693.9,202.5 703,199.2 709.5,198.6 714,199.6 718.6,201.8 723.9,204.4 729.1,209.6 727.8,216.1 721.3,221.3 718.6,225.2 725.2,229.1 733,230.4 740.8,229.1 743.4,233.1 742.1,240.9 739.5,250 740.8,259.7"/>
<polyline points="800.7,156.2 796.8,162.7 790.3,165.4 785,169.3 783.7,175.8 782.4,181 777.2,184.9 772,188.8 764.2,192.7 757.7,196.6 753.8,199.2 755.1,207 759,210.9 764.2,214.8 766.8,220 772,225.2 777.2,230.4 779.8,237 781.8,243.5 782.4,251.3 779.8,259.7"/>
<polyline points="742.1,220 747.3,217.4 756.4,216.1 764.2,214.8"/>
<polyline points="686.1,158.8 693.9,156.2 703,152.3 712.1,154.9 718.6,154.9 723.9,161.4 727.8,169.3 731,178.4 729.1,183.6"/>
<polyline points="855.4,2.6 863.2,3.9 871,3.9 876.2,7.8 876.2,15.6 882.7,15.6 885.3,18.2 894.4,18.2 900.9,14.3 904.8,9.1 910,9.1 917.8,7.8"/>
<polyline points="894.4,223.9 899.6,220 907.4,217.4 913.9,212.2 917.8,207"/>
<polyline points="874.9,233.1 878.8,230.4 884,229.1 889.2,230.4 894.4,227.8 900.9,225.2 907.4,221.3"/>
<polyline points="821.5,259.7 829.3,255.2 839.7,253.9 850.1,252.6 859.3,251.3 865.8,246.1 871,240.9 874.9,235.7 876.2,231.8"/>
<polyline points="798.6,229.8 800.1,230.1"/>
<polyline points="828.5,248 830.1,248.3"/>
<polyline points="897.5,222.6 899.1,222.9"/>
<polyline points="911.9,169.3 913.4,169.5"/>
<polyline points="910.6,177.1 912.1,177.3"/>
<polyline points="914.5,197.9 916,198.2"/>
<polyline points="915.8,186.2 917.3,186.4"/>
<polyline points="906.6,250 908.2,250.2"/>
<polyline points="359.4,278.4 360.7,284.9 359.4,290.2 360.7,294.1"/>
<polyline points="359.4,278.4 364.6,276.4 371.2,277.1 376.4,283 379.7,286.9 385.6,290.2 390.9,291.5 393.5,289.5 397.4,293.1 401.3,296.1 407.9,293.1 409.9,288.9 415.8,286.9 421,284.3 424.9,282.3 424.9,279.7 422.3,275.7"/>
<polyline points="404,271.8 407.9,271.2 415.8,273.1 421,271.8 422.3,269.2 418.4,266.6 419.7,264.6"/>
<polyline points="422.3,275.7 427.6,273.1 431.5,271.8 435.4,275.7 440.7,278.4 447.2,279.7 449.9,284.9 451.2,290.2 456.4,292.8 463,291.5 467,290.8"/>
<polyline points="337.1,304.6 343.7,305.9 350.2,303.3 356.8,300.7 360.7,295.4 367.3,295.4 372.5,300.7 376.4,308.5 379.1,313.8 380.4,321.6 381.7,330.8 382.3,338.7 383,347.9 384.3,350.5"/>
<polyline points="337.1,368.8 342.3,366.2 347.6,363.6 352.8,362.3 355.5,358.3 362,349.2 367.3,349.2 371.2,354.4 373.8,359.7 376.4,362.3 377.7,370.1 376.4,376.7 375.1,383.3 369.9,385.9 365.9,389.8 363.3,396.4 362,402.9 363.3,406.9 369.9,405.5 379.1,405.5 380.4,409.5 383,416 386.9,420 384.3,426.5 384.3,431.8 390.9,433.1 394.8,438.3 401.3,439.6 407.9,437 410.5,442.3 415.8,443.6 414.5,435.7 415.8,429.2 421,427.8"/>
<polyline points="337.1,350.5 343.7,351.8 350.2,354.4 355.5,358.3"/>
<polyline points="376.4,350.5 377.7,343.9 380.4,342.6 384.3,350.5 389.5,343.9 394.8,349.2 397.4,354.4 402.7,355.7 406.6,362.3 411.8,371.5 415.8,376.7 419.7,379.3 426.3,376.7 431.5,376 432.8,371.5 431.5,366.2 434.1,362.3 439.4,355.7 440.7,350.5 444.6,346.5 449.9,345.9 452.5,350.5 455.1,354.4 460.3,355.7 463,358.3 460.3,362.3 455.1,363.6 448.5,363.6 443.3,366.2 444.6,372.8 451.2,374.1 452.5,380.6 451.2,385.9 455.1,391.1 456.4,396.4 453.8,400.3 459,402.9 463,404.2 467,404.2"/>
<polyline points="421,427.8 426.3,423.9 431.5,426.5 436.7,423.9 442,422.6 447.2,423.9 452.5,421.3 457.7,418.7 463,416 467,416"/>
<polyline points="423.6,429.2 428.9,434.4 431.5,439.6 434.1,444.9 442,447.5 448.5,447.5 452.5,451.4 457.7,458 453.8,463.2 447.2,465.9 452.5,471.1 460.3,473.7 467,479"/>
<polyline points="407.9,439.6 402.7,442.3 397.4,447.5 394.8,452.8 398.7,460.6 405.3,464.6 410.5,465.9 410.5,473.7 407.9,481.6 407.9,489.5 410.5,492.1 415.8,486.8 422.3,484.2 428.9,485.5 434.1,481.6 439.4,479 444.6,480.3 449.9,485.5 455.1,490.8 456.4,501.3 459,507.8 463,511.8 467,515.7"/>
<polyline points="394.8,452.8 389.5,455.4 384.3,456.7 376.4,459.3 368.6,461.9 364.6,468.5 363.3,475 359.4,479 362,484.2 365.9,489.5 371.2,494.7 375.1,500 376.4,507.8 379.1,510.4 375.1,515.7 372.5,520.9 371.2,526.7"/>
<polyline points="337.1,514.4 342.3,511.8 347.6,507.8 351.5,505.2 354.1,497.3 356.8,501.3 360.7,507.8 363.3,514.4 364.6,520.9 364.6,526.7"/>
<polyline points="626.8,211.6 630.8,208.9 637.5,210.2 642.8,206.2 646.8,203.6 652.1,198.3 658.7,194.3 666.7,190.3 670.7,186.3 677.3,185 682.7,186.3 686.7,190.3 685.3,194.3 681.3,198.3 677.3,200.9 673.4,203.6 672,210.2 677.7,211.8"/>
<polyline points="677.7,211.8 678.7,208.9 686.7,206.2 694.6,203.6 702.6,200.9 713.8,199.3"/>
<polyline points="626.8,211.6 625.5,216.9 628.2,220.9 633.5,222.2 638.8,223.5 642.8,227.5 645.4,232.8 650.8,234.2 654.7,230.2 660.1,224.9 666.7,220.9 668,224.9 676,227.5 684,230.2 692,231.5 690.6,235.5 684,236.8 676,239.5 668,242.1 660.1,246.1 654.7,251.5 649.4,256.8 646.8,262.8"/>
<polyline points="628.2,220.9 620.2,223.5 614.9,226.2 606.9,230.2 601.6,234.2 596.2,239.5 594.9,243.5 596.2,250.1 590.9,256.8 588.3,262.8"/>
<polyline points="572.3,244.8 582.9,246.1 593.6,247.5 596.2,250.1"/>
<polyline points="597.6,195.6 601.6,190.3 609.5,185 613.5,183.6 620.2,189 622.8,193 617.5,196.9 620.2,199.6 614.9,202.3 606.9,202.9 600.2,201.6 597.6,198.3 597.6,195.6"/>
<polyline points="620.2,199.6 625.5,200.9 628.2,207.6 626.8,211.6"/>
<polyline points="626.8,211.6 622.8,216.9 617.5,215.6 614.9,211.6 614.9,207.6 620.2,206.2"/>
<polyline points="640.1,185 642.8,179.7 640.1,177"/>
<polyline points="713.8,199.3 715.9,196.9 721.2,193 726.5,189 731.9,185 737.2,182.3 742.5,179.7"/>
<polyline points="745.2,174.3 753.1,175.7 759.8,173 767.1,171.7"/>
<polyline points="745.2,219.5 753.1,216.9 761.1,216.9 767.1,215.6"/>
<polyline points="753.1,206.2 755.8,200.9 761.1,196.9 767.1,195.6"/>
<polyline points="588.3,260.1 594.9,255.4 601.6,251.5 606.9,248.8"/>
<polyline points="456.1,154.7 456.1,154.7"/>
<polyline points="456.1,231.2 463.7,227.3 468.8,223.5 472.7,215.9 472.7,210.8 476.5,206.9 482.9,205.7 485.4,209.5 480.3,213.3 479,218.4 481.6,221 489.2,223.5 490.5,228.6 489.2,233.7 481.6,235 479,238.8 481.6,243.9 484.1,249 481.6,254.1 479,256.6 477.8,261.7"/>
<polyline points="489.2,228 494.3,226.1 498.1,227.3 504.5,227.3 509.6,223.5 517.3,215.9 523.6,209.5 528.7,205.7 535.1,203.8 540.2,203.1 545.3,200.6 551.7,196.7 555.5,194.2 558,191.7 563.1,190.4 568.2,189.1 573.3,187.8 578.4,186.6"/>
<polyline points="489.2,233.7 491.8,237.5 500.7,240.1 507.1,242.6 508.3,249 507.1,255.4 507.1,261.7"/>
<polyline points="540.2,203.1 537.7,208.2 533.8,214.6 531.3,221 533.8,227.3 532.6,233.7 531.3,241.3 532.6,250.3 531.3,260.5 528.7,266.8 532.6,275.8 536.4,285.9"/>
<polyline points="578.4,186.6 577.2,191.7 582.2,192.9 578.4,196.7 581,203.1 577.2,208.2 573.3,214.6 577.2,221 578.4,228.6 574.6,236.3 570.8,241.3 573.3,246.4 572.1,254.1 569.5,261.7"/>
<polyline points="578.4,186.6 575.9,182.7 575.9,177.6 579.7,172.5 583.5,170 588.6,168.7 589.9,173.8 596.3,172.5 602.6,170 609,167.4 615.4,166.2 620.5,163.6 626.8,162.3 631.9,164.9 633.2,171.3 637,176.4 642.1,178.9 644.7,175.1 647.2,167.4 651.1,167.4 654.9,171.3 660,168.7 666.3,166.2 672.7,163.6 679.1,162.3 686.7,161.1"/>
<polyline points="570.8,242.6 578.4,245.2 588.6,247.7 595,249 600.1,250.3"/>
<polyline points="588.6,261.7 593.7,255.4 598.8,251.5 606.5,249"/>
</g>
<rect x="1428.1" y="936.4" width="426.9" height="183.9" fill="none" stroke="#000" stroke-width="3.6"/>
</g>
<rect x="1112.9" y="857.6" width="919.4" height="525.4" fill="none" stroke="#000" stroke-width="3.8"/>
<g stroke="#000" stroke-linecap="round"><line x1="1103" y1="1369.8" x2="1112.9" y2="1369.8" stroke-width="1.8"/><line x1="2032.3" y1="1369.8" x2="2042.2" y2="1369.8" stroke-width="1.8"/><line x1="1103" y1="1343.6" x2="1112.9" y2="1343.6" stroke-width="1.8"/><line x1="2032.3" y1="1343.6" x2="2042.2" y2="1343.6" stroke-width="1.8"/><line x1="1094" y1="1317.3" x2="1112.9" y2="1317.3" stroke-width="3.6"/><line x1="2032.3" y1="1317.3" x2="2051.2" y2="1317.3" stroke-width="3.6"/><line x1="1103" y1="1291" x2="1112.9" y2="1291" stroke-width="1.8"/><line x1="2032.3" y1="1291" x2="2042.2" y2="1291" stroke-width="1.8"/><line x1="1103" y1="1264.8" x2="1112.9" y2="1264.8" stroke-width="1.8"/><line x1="2032.3" y1="1264.8" x2="2042.2" y2="1264.8" stroke-width="1.8"/><line x1="1103" y1="1238.5" x2="1112.9" y2="1238.5" stroke-width="1.8"/><line x1="2032.3" y1="1238.5" x2="2042.2" y2="1238.5" stroke-width="1.8"/><line x1="1103" y1="1212.2" x2="1112.9" y2="1212.2" stroke-width="1.8"/><line x1="2032.3" y1="1212.2" x2="2042.2" y2="1212.2" stroke-width="1.8"/><line x1="1094" y1="1186" x2="1112.9" y2="1186" stroke-width="3.6"/><line x1="2032.3" y1="1186" x2="2051.2" y2="1186" stroke-width="3.6"/><line x1="1103" y1="1159.7" x2="1112.9" y2="1159.7" stroke-width="1.8"/><line x1="2032.3" y1="1159.7" x2="2042.2" y2="1159.7" stroke-width="1.8"/><line x1="1103" y1="1133.4" x2="1112.9" y2="1133.4" stroke-width="1.8"/><line x1="2032.3" y1="1133.4" x2="2042.2" y2="1133.4" stroke-width="1.8"/><line x1="1103" y1="1107.1" x2="1112.9" y2="1107.1" stroke-width="1.8"/><line x1="2032.3" y1="1107.1" x2="2042.2" y2="1107.1" stroke-width="1.8"/><line x1="1103" y1="1080.9" x2="1112.9" y2="1080.9" stroke-width="1.8"/><line x1="2032.3" y1="1080.9" x2="2042.2" y2="1080.9" stroke-width="1.8"/><line x1="1094" y1="1054.6" x2="1112.9" y2="1054.6" stroke-width="3.6"/><line x1="2032.3" y1="1054.6" x2="2051.2" y2="1054.6" stroke-width="3.6"/><line x1="1103" y1="1028.3" x2="1112.9" y2="1028.3" stroke-width="1.8"/><line x1="2032.3" y1="1028.3" x2="2042.2" y2="1028.3" stroke-width="1.8"/><line x1="1103" y1="1002.1" x2="1112.9" y2="1002.1" stroke-width="1.8"/><line x1="2032.3" y1="1002.1" x2="2042.2" y2="1002.1" stroke-width="1.8"/><line x1="1103" y1="975.8" x2="1112.9" y2="975.8" stroke-width="1.8"/><line x1="2032.3" y1="975.8" x2="2042.2" y2="975.8" stroke-width="1.8"/><line x1="1103" y1="949.5" x2="1112.9" y2="949.5" stroke-width="1.8"/><line x1="2032.3" y1="949.5" x2="2042.2" y2="949.5" stroke-width="1.8"/><line x1="1094" y1="923.3" x2="1112.9" y2="923.3" stroke-width="3.6"/><line x1="2032.3" y1="923.3" x2="2051.2" y2="923.3" stroke-width="3.6"/><line x1="1103" y1="897" x2="1112.9" y2="897" stroke-width="1.8"/><line x1="2032.3" y1="897" x2="2042.2" y2="897" stroke-width="1.8"/><line x1="1103" y1="870.7" x2="1112.9" y2="870.7" stroke-width="1.8"/><line x1="2032.3" y1="870.7" x2="2042.2" y2="870.7" stroke-width="1.8"/><line x1="1112.9" y1="847.7" x2="1112.9" y2="857.6" stroke-width="1.8"/><line x1="1112.9" y1="1383" x2="1112.9" y2="1392.9" stroke-width="1.8"/><line x1="1244.2" y1="847.7" x2="1244.2" y2="857.6" stroke-width="1.8"/><line x1="1244.2" y1="1383" x2="1244.2" y2="1392.9" stroke-width="1.8"/><line x1="1375.6" y1="838.7" x2="1375.6" y2="857.6" stroke-width="3.6"/><line x1="1375.6" y1="1383" x2="1375.6" y2="1401.9" stroke-width="3.6"/><line x1="1506.9" y1="847.7" x2="1506.9" y2="857.6" stroke-width="1.8"/><line x1="1506.9" y1="1383" x2="1506.9" y2="1392.9" stroke-width="1.8"/><line x1="1638.3" y1="847.7" x2="1638.3" y2="857.6" stroke-width="1.8"/><line x1="1638.3" y1="1383" x2="1638.3" y2="1392.9" stroke-width="1.8"/><line x1="1769.6" y1="838.7" x2="1769.6" y2="857.6" stroke-width="3.6"/><line x1="1769.6" y1="1383" x2="1769.6" y2="1401.9" stroke-width="3.6"/><line x1="1900.9" y1="847.7" x2="1900.9" y2="857.6" stroke-width="1.8"/><line x1="1900.9" y1="1383" x2="1900.9" y2="1392.9" stroke-width="1.8"/><line x1="2032.3" y1="847.7" x2="2032.3" y2="857.6" stroke-width="1.8"/><line x1="2032.3" y1="1383" x2="2032.3" y2="1392.9" stroke-width="1.8"/></g>
<text x="1077.9" y="932" font-size="25" text-anchor="end" textLength="42" lengthAdjust="spacingAndGlyphs">50N</text>
<text x="1077.9" y="1063.3" font-size="25" text-anchor="end" textLength="42" lengthAdjust="spacingAndGlyphs">40N</text>
<text x="1077.9" y="1194.7" font-size="25" text-anchor="end" textLength="42" lengthAdjust="spacingAndGlyphs">30N</text>
<text x="1077.9" y="1326" font-size="25" text-anchor="end" textLength="42" lengthAdjust="spacingAndGlyphs">20N</text>
<text x="1375.6" y="1435.3" font-size="25" text-anchor="middle">90E</text>
<text x="1769.6" y="1435.3" font-size="25" text-anchor="middle">120E</text>
<text x="1134" y="825.5" font-size="40.5" font-weight="bold" textLength="878.4" lengthAdjust="spacingAndGlyphs">Trends of dust emission flux due to LAI change</text>
<text x="1028" y="843" font-size="84">d</text>
<rect x="1166.2" y="1453.9" width="73.9" height="47.6" fill="#000080" stroke="#000" stroke-width="1.7"/>
<rect x="1240.1" y="1453.9" width="73.9" height="47.6" fill="#0000e0" stroke="#000" stroke-width="1.7"/>
<rect x="1313.9" y="1453.9" width="73.9" height="47.6" fill="#6666ff" stroke="#000" stroke-width="1.7"/>
<rect x="1387.8" y="1453.9" width="73.9" height="47.6" fill="#aaaaff" stroke="#000" stroke-width="1.7"/>
<rect x="1461.7" y="1453.9" width="73.9" height="47.6" fill="#ddddff" stroke="#000" stroke-width="1.7"/>
<rect x="1535.6" y="1453.9" width="73.9" height="47.6" fill="#ffffff" stroke="#000" stroke-width="1.7"/>
<rect x="1609.4" y="1453.9" width="73.9" height="47.6" fill="#ffdddd" stroke="#000" stroke-width="1.7"/>
<rect x="1683.3" y="1453.9" width="73.9" height="47.6" fill="#ffaaaa" stroke="#000" stroke-width="1.7"/>
<rect x="1757.2" y="1453.9" width="73.9" height="47.6" fill="#ff6666" stroke="#000" stroke-width="1.7"/>
<rect x="1831" y="1453.9" width="73.9" height="47.6" fill="#e00000" stroke="#000" stroke-width="1.7"/>
<rect x="1904.9" y="1453.9" width="73.9" height="47.6" fill="#800000" stroke="#000" stroke-width="1.7"/>
<text x="1240.1" y="1532.9" font-size="25" text-anchor="middle" transform="translate(1240.1,0) scale(0.66,1) translate(-1240.1,0)">-100</text>
<text x="1313.9" y="1532.9" font-size="25" text-anchor="middle" transform="translate(1313.9,0) scale(0.66,1) translate(-1313.9,0)">-50</text>
<text x="1387.8" y="1532.9" font-size="25" text-anchor="middle" transform="translate(1387.8,0) scale(0.66,1) translate(-1387.8,0)">-10</text>
<text x="1461.7" y="1532.9" font-size="25" text-anchor="middle" transform="translate(1461.7,0) scale(0.66,1) translate(-1461.7,0)">-1</text>
<text x="1535.6" y="1532.9" font-size="25" text-anchor="middle" transform="translate(1535.6,0) scale(0.66,1) translate(-1535.6,0)">-0.2</text>
<text x="1609.4" y="1532.9" font-size="25" text-anchor="middle" transform="translate(1609.4,0) scale(0.66,1) translate(-1609.4,0)">0.2</text>
<text x="1683.3" y="1532.9" font-size="25" text-anchor="middle" transform="translate(1683.3,0) scale(0.66,1) translate(-1683.3,0)">1</text>
<text x="1757.2" y="1532.9" font-size="25" text-anchor="middle" transform="translate(1757.2,0) scale(0.66,1) translate(-1757.2,0)">10</text>
<text x="1831" y="1532.9" font-size="25" text-anchor="middle" transform="translate(1831,0) scale(0.66,1) translate(-1831,0)">50</text>
<text x="1904.9" y="1532.9" font-size="25" text-anchor="middle" transform="translate(1904.9,0) scale(0.66,1) translate(-1904.9,0)">100</text>
</g>
<g id="panel-e">
<clipPath id="clipe"><rect x="79.1" y="1648.9" width="919.4" height="525.4"/></clipPath>
<g clip-path="url(#clipe)">
<defs><pattern id="pfe" patternUnits="userSpaceOnUse" x="75" y="1645.6" width="8.2088" height="6.5670"><path d="M1.3 3.3h5.7M4.1 0.4v5.7" stroke="#000" stroke-width="1.1" fill="none"/></pattern><pattern id="phe" patternUnits="userSpaceOnUse" x="75" y="1645.6" width="16.4175" height="13.1340"><path d="M1.3 3.3h5.7M4.1 0.4v5.7M9.5 9.9h5.7M12.3 7v5.7" stroke="#000" stroke-width="1.1" fill="none"/></pattern></defs><g><rect x="75" y="1645.6" width="33.5" height="27" fill="#aaaaff"/><rect x="107.8" y="1645.6" width="66.4" height="27" fill="#ddddff"/><rect x="173.5" y="1645.6" width="66.4" height="27" fill="#aaaaff"/><rect x="239.2" y="1645.6" width="66.4" height="27" fill="#ddddff"/><rect x="337.7" y="1645.6" width="33.5" height="27" fill="#ffdddd"/><rect x="469" y="1645.6" width="33.5" height="27" fill="#ffaaaa"/><rect x="600.4" y="1645.6" width="33.5" height="27" fill="#ffdddd"/><rect x="633.2" y="1645.6" width="33.5" height="27" fill="#ddddff"/><rect x="666" y="1645.6" width="33.5" height="27" fill="#aaaaff"/><rect x="698.9" y="1645.6" width="99.2" height="27" fill="#0000e0"/><rect x="797.4" y="1645.6" width="66.4" height="27" fill="#6666ff"/><rect x="895.9" y="1645.6" width="33.5" height="27" fill="#6666ff"/><rect x="75" y="1671.9" width="99.2" height="27" fill="#ddddff"/><rect x="173.5" y="1671.9" width="33.5" height="27" fill="#aaaaff"/><rect x="206.3" y="1671.9" width="66.4" height="27" fill="#6666ff"/><rect x="272" y="1671.9" width="33.5" height="27" fill="#aaaaff"/><rect x="337.7" y="1671.9" width="33.5" height="27" fill="#ffdddd"/><rect x="403.3" y="1671.9" width="33.5" height="27" fill="#ddddff"/><rect x="469" y="1671.9" width="66.4" height="27" fill="#ddddff"/><rect x="534.7" y="1671.9" width="66.4" height="27" fill="#ffdddd"/><rect x="600.4" y="1671.9" width="33.5" height="27" fill="#ddddff"/><rect x="633.2" y="1671.9" width="33.5" height="27" fill="#6666ff"/><rect x="666" y="1671.9" width="33.5" height="27" fill="#0000e0"/><rect x="698.9" y="1671.9" width="66.4" height="27" fill="#6666ff"/><rect x="764.5" y="1671.9" width="33.5" height="27" fill="#aaaaff"/><rect x="797.4" y="1671.9" width="99.2" height="27" fill="#6666ff"/><rect x="895.9" y="1671.9" width="116.4" height="27" fill="#aaaaff"/><rect x="75" y="1698.2" width="99.2" height="27" fill="#aaaaff"/><rect x="173.5" y="1698.2" width="66.4" height="27" fill="#6666ff"/><rect x="239.2" y="1698.2" width="33.5" height="27" fill="#aaaaff"/><rect x="304.8" y="1698.2" width="33.5" height="27" fill="#ddddff"/><rect x="337.7" y="1698.2" width="33.5" height="27" fill="#aaaaff"/><rect x="370.5" y="1698.2" width="33.5" height="27" fill="#6666ff"/><rect x="403.3" y="1698.2" width="132" height="27" fill="#0000e0"/><rect x="534.7" y="1698.2" width="33.5" height="27" fill="#ddddff"/><rect x="567.5" y="1698.2" width="99.2" height="27" fill="#6666ff"/><rect x="666" y="1698.2" width="66.4" height="27" fill="#aaaaff"/><rect x="731.7" y="1698.2" width="33.5" height="27" fill="#6666ff"/><rect x="764.5" y="1698.2" width="66.4" height="27" fill="#aaaaff"/><rect x="830.2" y="1698.2" width="33.5" height="27" fill="#0000e0"/><rect x="863" y="1698.2" width="33.5" height="27" fill="#6666ff"/><rect x="928.7" y="1698.2" width="33.5" height="27" fill="#0000e0"/><rect x="75" y="1724.4" width="132" height="27" fill="#aaaaff"/><rect x="206.3" y="1724.4" width="66.4" height="27" fill="#6666ff"/><rect x="272" y="1724.4" width="33.5" height="27" fill="#aaaaff"/><rect x="304.8" y="1724.4" width="33.5" height="27" fill="#ddddff"/><rect x="337.7" y="1724.4" width="33.5" height="27" fill="#6666ff"/><rect x="370.5" y="1724.4" width="33.5" height="27" fill="#aaaaff"/><rect x="403.3" y="1724.4" width="33.5" height="27" fill="#6666ff"/><rect x="436.2" y="1724.4" width="99.2" height="27" fill="#0000e0"/><rect x="534.7" y="1724.4" width="33.5" height="27" fill="#6666ff"/><rect x="567.5" y="1724.4" width="66.4" height="27" fill="#0000e0"/><rect x="633.2" y="1724.4" width="99.2" height="27" fill="#6666ff"/><rect x="731.7" y="1724.4" width="66.4" height="27" fill="#0000e0"/><rect x="797.4" y="1724.4" width="33.5" height="27" fill="#6666ff"/><rect x="863" y="1724.4" width="33.5" height="27" fill="#6666ff"/><rect x="895.9" y="1724.4" width="33.5" height="27" fill="#0000e0"/><rect x="928.7" y="1724.4" width="33.5" height="27" fill="#6666ff"/><rect x="75" y="1750.7" width="66.4" height="27" fill="#aaaaff"/><rect x="140.7" y="1750.7" width="33.5" height="27" fill="#ddddff"/><rect x="173.5" y="1750.7" width="66.4" height="27" fill="#aaaaff"/><rect x="239.2" y="1750.7" width="33.5" height="27" fill="#6666ff"/><rect x="272" y="1750.7" width="66.4" height="27" fill="#aaaaff"/><rect x="337.7" y="1750.7" width="33.5" height="27" fill="#ddddff"/><rect x="370.5" y="1750.7" width="66.4" height="27" fill="#6666ff"/><rect x="436.2" y="1750.7" width="66.4" height="27" fill="#0000e0"/><rect x="501.9" y="1750.7" width="33.5" height="27" fill="#6666ff"/><rect x="534.7" y="1750.7" width="33.5" height="27" fill="#0000e0"/><rect x="567.5" y="1750.7" width="33.5" height="27" fill="#aaaaff"/><rect x="600.4" y="1750.7" width="132" height="27" fill="#6666ff"/><rect x="731.7" y="1750.7" width="66.4" height="27" fill="#0000e0"/><rect x="797.4" y="1750.7" width="33.5" height="27" fill="#6666ff"/><rect x="830.2" y="1750.7" width="33.5" height="27" fill="#ddddff"/><rect x="863" y="1750.7" width="33.5" height="27" fill="#6666ff"/><rect x="895.9" y="1750.7" width="33.5" height="27" fill="#aaaaff"/><rect x="75" y="1777" width="66.4" height="27" fill="#aaaaff"/><rect x="140.7" y="1777" width="164.9" height="27" fill="#ddddff"/><rect x="304.8" y="1777" width="66.4" height="27" fill="#aaaaff"/><rect x="370.5" y="1777" width="33.5" height="27" fill="#ffdddd"/><rect x="403.3" y="1777" width="33.5" height="27" fill="#aaaaff"/><rect x="436.2" y="1777" width="66.4" height="27" fill="#0000e0"/><rect x="501.9" y="1777" width="33.5" height="27" fill="#6666ff"/><rect x="534.7" y="1777" width="66.4" height="27" fill="#aaaaff"/><rect x="600.4" y="1777" width="164.9" height="27" fill="#6666ff"/><rect x="764.5" y="1777" width="33.5" height="27" fill="#0000e0"/><rect x="797.4" y="1777" width="33.5" height="27" fill="#6666ff"/><rect x="863" y="1777" width="33.5" height="27" fill="#ddddff"/><rect x="895.9" y="1777" width="33.5" height="27" fill="#aaaaff"/><rect x="75" y="1803.2" width="66.4" height="27" fill="#ffdddd"/><rect x="140.7" y="1803.2" width="33.5" height="27" fill="#ddddff"/><rect x="173.5" y="1803.2" width="99.2" height="27" fill="#aaaaff"/><rect x="272" y="1803.2" width="33.5" height="27" fill="#6666ff"/><rect x="304.8" y="1803.2" width="33.5" height="27" fill="#aaaaff"/><rect x="337.7" y="1803.2" width="33.5" height="27" fill="#ffdddd"/><rect x="370.5" y="1803.2" width="33.5" height="27" fill="#ffaaaa"/><rect x="403.3" y="1803.2" width="33.5" height="27" fill="#ffdddd"/><rect x="436.2" y="1803.2" width="33.5" height="27" fill="#ddddff"/><rect x="469" y="1803.2" width="230.5" height="27" fill="#aaaaff"/><rect x="698.9" y="1803.2" width="66.4" height="27" fill="#6666ff"/><rect x="764.5" y="1803.2" width="33.5" height="27" fill="#aaaaff"/><rect x="797.4" y="1803.2" width="33.5" height="27" fill="#ddddff"/><rect x="75" y="1829.5" width="33.5" height="27" fill="#ffdddd"/><rect x="107.8" y="1829.5" width="33.5" height="27" fill="#ddddff"/><rect x="140.7" y="1829.5" width="164.9" height="27" fill="#aaaaff"/><rect x="304.8" y="1829.5" width="33.5" height="27" fill="#6666ff"/><rect x="337.7" y="1829.5" width="33.5" height="27" fill="#ddddff"/><rect x="370.5" y="1829.5" width="66.4" height="27" fill="#ffdddd"/><rect x="436.2" y="1829.5" width="164.9" height="27" fill="#ddddff"/><rect x="600.4" y="1829.5" width="33.5" height="27" fill="#aaaaff"/><rect x="633.2" y="1829.5" width="66.4" height="27" fill="#6666ff"/><rect x="698.9" y="1829.5" width="33.5" height="27" fill="#aaaaff"/><rect x="731.7" y="1829.5" width="66.4" height="27" fill="#ddddff"/><rect x="75" y="1855.8" width="33.5" height="27" fill="#ddddff"/><rect x="107.8" y="1855.8" width="33.5" height="27" fill="#aaaaff"/><rect x="140.7" y="1855.8" width="263.4" height="27" fill="#ddddff"/><rect x="403.3" y="1855.8" width="33.5" height="27" fill="#aaaaff"/><rect x="436.2" y="1855.8" width="33.5" height="27" fill="#6666ff"/><rect x="469" y="1855.8" width="33.5" height="27" fill="#aaaaff"/><rect x="501.9" y="1855.8" width="66.4" height="27" fill="#ddddff"/><rect x="567.5" y="1855.8" width="33.5" height="27" fill="#aaaaff"/><rect x="600.4" y="1855.8" width="66.4" height="27" fill="#6666ff"/><rect x="666" y="1855.8" width="66.4" height="27" fill="#ddddff"/><rect x="75" y="1882" width="66.4" height="27" fill="#ffdddd"/><rect x="140.7" y="1882" width="66.4" height="27" fill="#ddddff"/><rect x="206.3" y="1882" width="33.5" height="27" fill="#aaaaff"/><rect x="239.2" y="1882" width="99.2" height="27" fill="#ddddff"/><rect x="337.7" y="1882" width="99.2" height="27" fill="#aaaaff"/><rect x="436.2" y="1882" width="66.4" height="27" fill="#6666ff"/><rect x="501.9" y="1882" width="66.4" height="27" fill="#aaaaff"/><rect x="567.5" y="1882" width="33.5" height="27" fill="#6666ff"/><rect x="600.4" y="1882" width="33.5" height="27" fill="#aaaaff"/><rect x="633.2" y="1882" width="66.4" height="27" fill="#ddddff"/><rect x="698.9" y="1882" width="99.2" height="27" fill="#ffdddd"/><rect x="75" y="1908.3" width="66.4" height="27" fill="#ddddff"/><rect x="140.7" y="1908.3" width="33.5" height="27" fill="#0000e0"/><rect x="173.5" y="1908.3" width="33.5" height="27" fill="#6666ff"/><rect x="206.3" y="1908.3" width="66.4" height="27" fill="#ddddff"/><rect x="304.8" y="1908.3" width="99.2" height="27" fill="#ddddff"/><rect x="436.2" y="1908.3" width="33.5" height="27" fill="#aaaaff"/><rect x="501.9" y="1908.3" width="66.4" height="27" fill="#ddddff"/><rect x="600.4" y="1908.3" width="33.5" height="27" fill="#ffdddd"/><rect x="666" y="1908.3" width="66.4" height="27" fill="#ffdddd"/><rect x="75" y="1934.6" width="33.5" height="27" fill="#0000e0"/><rect x="107.8" y="1934.6" width="33.5" height="27" fill="#6666ff"/><rect x="173.5" y="1934.6" width="66.4" height="27" fill="#6666ff"/><rect x="239.2" y="1934.6" width="33.5" height="27" fill="#0000e0"/><rect x="272" y="1934.6" width="33.5" height="27" fill="#6666ff"/><rect x="304.8" y="1934.6" width="33.5" height="27" fill="#ffaaaa"/><rect x="337.7" y="1934.6" width="33.5" height="27" fill="#ffdddd"/><rect x="436.2" y="1934.6" width="33.5" height="27" fill="#aaaaff"/><rect x="469" y="1934.6" width="33.5" height="27" fill="#ddddff"/><rect x="501.9" y="1934.6" width="33.5" height="27" fill="#aaaaff"/><rect x="731.7" y="1934.6" width="33.5" height="27" fill="#6666ff"/><rect x="75" y="1960.8" width="33.5" height="27" fill="#ddddff"/><rect x="107.8" y="1960.8" width="66.4" height="27" fill="#aaaaff"/><rect x="173.5" y="1960.8" width="33.5" height="27" fill="#ddddff"/><rect x="206.3" y="1960.8" width="66.4" height="27" fill="#6666ff"/><rect x="304.8" y="1960.8" width="99.2" height="27" fill="#ffdddd"/><rect x="75" y="1987.1" width="99.2" height="27" fill="#6666ff"/><rect x="173.5" y="1987.1" width="33.5" height="27" fill="#ddddff"/><rect x="272" y="1987.1" width="66.4" height="27" fill="#ddddff"/><rect x="75" y="2013.4" width="33.5" height="27" fill="#6666ff"/><rect x="107.8" y="2013.4" width="33.5" height="27" fill="#0000e0"/><rect x="140.7" y="2013.4" width="33.5" height="27" fill="#6666ff"/><rect x="501.9" y="2013.4" width="33.5" height="27" fill="#ddddff"/><rect x="75" y="2039.6" width="33.5" height="27" fill="#aaaaff"/><rect x="107.8" y="2039.6" width="33.5" height="27" fill="#ddddff"/><rect x="75" y="2065.9" width="33.5" height="27" fill="#aaaaff"/></g><rect x="206.3" y="1671.9" width="32.8" height="26.3" fill="url(#pfe)"/><rect x="666" y="1671.9" width="32.8" height="26.3" fill="url(#pfe)"/><rect x="140.7" y="1698.2" width="65.7" height="26.3" fill="url(#pfe)"/><rect x="633.2" y="1698.2" width="32.8" height="26.3" fill="url(#pfe)"/><rect x="140.7" y="1724.4" width="65.7" height="26.3" fill="url(#pfe)"/><rect x="239.2" y="1724.4" width="32.8" height="26.3" fill="url(#pfe)"/><rect x="403.3" y="1724.4" width="361.2" height="26.3" fill="url(#pfe)"/><rect x="403.3" y="1750.7" width="131.3" height="26.3" fill="url(#pfe)"/><rect x="600.4" y="1750.7" width="197" height="26.3" fill="url(#pfe)"/><rect x="436.2" y="1777" width="65.7" height="26.3" fill="url(#pfe)"/><rect x="633.2" y="1777" width="164.2" height="26.3" fill="url(#pfe)"/><rect x="107.8" y="1987.1" width="32.8" height="26.3" fill="url(#pfe)"/><rect x="107.8" y="2013.4" width="32.8" height="26.3" fill="url(#pfe)"/><rect x="239.2" y="1648.9" width="32.8" height="23" fill="url(#phe)"/><rect x="731.7" y="1648.9" width="65.7" height="23" fill="url(#phe)"/><rect x="173.5" y="1671.9" width="32.8" height="26.3" fill="url(#phe)"/><rect x="239.2" y="1671.9" width="32.8" height="26.3" fill="url(#phe)"/><rect x="633.2" y="1671.9" width="32.8" height="26.3" fill="url(#phe)"/><rect x="698.9" y="1671.9" width="65.7" height="26.3" fill="url(#phe)"/><rect x="830.2" y="1671.9" width="32.8" height="26.3" fill="url(#phe)"/><rect x="79.1" y="1698.2" width="61.6" height="26.3" fill="url(#phe)"/><rect x="206.3" y="1698.2" width="65.7" height="26.3" fill="url(#phe)"/><rect x="370.5" y="1698.2" width="164.2" height="26.3" fill="url(#phe)"/><rect x="567.5" y="1698.2" width="65.7" height="26.3" fill="url(#phe)"/><rect x="666" y="1698.2" width="98.5" height="26.3" fill="url(#phe)"/><rect x="830.2" y="1698.2" width="32.8" height="26.3" fill="url(#phe)"/><rect x="107.8" y="1724.4" width="32.8" height="26.3" fill="url(#phe)"/><rect x="206.3" y="1724.4" width="32.8" height="26.3" fill="url(#phe)"/><rect x="272" y="1724.4" width="32.8" height="26.3" fill="url(#phe)"/><rect x="337.7" y="1724.4" width="65.7" height="26.3" fill="url(#phe)"/><rect x="764.5" y="1724.4" width="65.7" height="26.3" fill="url(#phe)"/><rect x="107.8" y="1750.7" width="32.8" height="26.3" fill="url(#phe)"/><rect x="370.5" y="1750.7" width="32.8" height="26.3" fill="url(#phe)"/><rect x="534.7" y="1750.7" width="65.7" height="26.3" fill="url(#phe)"/><rect x="797.4" y="1750.7" width="32.8" height="26.3" fill="url(#phe)"/><rect x="304.8" y="1777" width="65.7" height="26.3" fill="url(#phe)"/><rect x="403.3" y="1777" width="32.8" height="26.3" fill="url(#phe)"/><rect x="501.9" y="1777" width="32.8" height="26.3" fill="url(#phe)"/><rect x="567.5" y="1777" width="65.7" height="26.3" fill="url(#phe)"/><rect x="304.8" y="1803.2" width="32.8" height="26.3" fill="url(#phe)"/><rect x="370.5" y="1803.2" width="32.8" height="26.3" fill="url(#phe)"/><rect x="436.2" y="1803.2" width="98.5" height="26.3" fill="url(#phe)"/><rect x="633.2" y="1803.2" width="131.3" height="26.3" fill="url(#phe)"/><rect x="239.2" y="1829.5" width="98.5" height="26.3" fill="url(#phe)"/><rect x="469" y="1829.5" width="32.8" height="26.3" fill="url(#phe)"/><rect x="600.4" y="1829.5" width="98.5" height="26.3" fill="url(#phe)"/><rect x="436.2" y="1855.8" width="32.8" height="26.3" fill="url(#phe)"/><rect x="567.5" y="1855.8" width="98.5" height="26.3" fill="url(#phe)"/><rect x="436.2" y="1882" width="65.7" height="26.3" fill="url(#phe)"/><rect x="567.5" y="1882" width="65.7" height="26.3" fill="url(#phe)"/><rect x="140.7" y="1908.3" width="32.8" height="26.3" fill="url(#phe)"/><rect x="79.1" y="1934.6" width="28.7" height="26.3" fill="url(#phe)"/><rect x="239.2" y="1934.6" width="32.8" height="26.3" fill="url(#phe)"/><rect x="79.1" y="1987.1" width="28.7" height="26.3" fill="url(#phe)"/><rect x="140.7" y="1987.1" width="32.8" height="26.3" fill="url(#phe)"/><rect x="79.1" y="2013.4" width="28.7" height="26.3" fill="url(#phe)"/><rect x="140.7" y="2013.4" width="32.8" height="26.3" fill="url(#phe)"/><path fill="none" stroke="#000" stroke-width="1.1" d="M215.8 1655.5h5.7M218.6 1652.6v5.7M224 1662h5.7M226.9 1659.2v5.7M232.2 1655.5h5.7M235.1 1652.6v5.7M281.5 1655.5h5.7M284.3 1652.6v5.7M289.7 1662h5.7M292.5 1659.2v5.7M297.9 1655.5h5.7M300.7 1652.6v5.7M347.1 1655.5h5.7M350 1652.6v5.7M355.3 1662h5.7M358.2 1659.2v5.7M363.6 1655.5h5.7M366.4 1652.6v5.7M708.3 1655.5h5.7M711.2 1652.6v5.7M716.5 1662h5.7M719.4 1659.2v5.7M724.7 1655.5h5.7M727.6 1652.6v5.7M806.8 1655.5h5.7M809.7 1652.6v5.7M815 1662h5.7M817.9 1659.2v5.7M823.2 1655.5h5.7M826.1 1652.6v5.7M839.7 1655.5h5.7M842.5 1652.6v5.7M847.9 1662h5.7M850.7 1659.2v5.7M856.1 1655.5h5.7M858.9 1652.6v5.7M905.3 1655.5h5.7M908.2 1652.6v5.7M913.5 1662h5.7M916.4 1659.2v5.7M921.8 1655.5h5.7M924.6 1652.6v5.7M150.1 1681.7h5.7M153 1678.9v5.7M158.3 1688.3h5.7M161.2 1685.5v5.7M166.5 1681.7h5.7M169.4 1678.9v5.7M281.5 1681.7h5.7M284.3 1678.9v5.7M289.7 1688.3h5.7M292.5 1685.5v5.7M297.9 1681.7h5.7M300.7 1678.9v5.7M806.8 1681.7h5.7M809.7 1678.9v5.7M815 1688.3h5.7M817.9 1685.5v5.7M823.2 1681.7h5.7M826.1 1678.9v5.7M872.5 1681.7h5.7M875.3 1678.9v5.7M880.7 1688.3h5.7M883.6 1685.5v5.7M888.9 1681.7h5.7M891.8 1678.9v5.7M347.1 1708h5.7M350 1705.2v5.7M355.3 1714.6h5.7M358.2 1711.7v5.7M363.6 1708h5.7M366.4 1705.2v5.7M544.1 1708h5.7M547 1705.2v5.7M552.4 1714.6h5.7M555.2 1711.7v5.7M560.6 1708h5.7M563.4 1705.2v5.7M872.5 1708h5.7M875.3 1705.2v5.7M880.7 1714.6h5.7M883.6 1711.7v5.7M888.9 1708h5.7M891.8 1705.2v5.7M872.5 1734.3h5.7M875.3 1731.4v5.7M880.7 1740.8h5.7M883.6 1738v5.7M888.9 1734.3h5.7M891.8 1731.4v5.7M905.3 1734.3h5.7M908.2 1731.4v5.7M913.5 1740.8h5.7M916.4 1738v5.7M921.8 1734.3h5.7M924.6 1731.4v5.7M84.5 1760.5h5.7M87.3 1757.7v5.7M92.7 1767.1h5.7M95.5 1764.3v5.7M100.9 1760.5h5.7M103.7 1757.7v5.7M150.1 1760.5h5.7M153 1757.7v5.7M158.3 1767.1h5.7M161.2 1764.3v5.7M166.5 1760.5h5.7M169.4 1757.7v5.7M183 1760.5h5.7M185.8 1757.7v5.7M191.2 1767.1h5.7M194 1764.3v5.7M199.4 1760.5h5.7M202.2 1757.7v5.7M215.8 1760.5h5.7M218.6 1757.7v5.7M224 1767.1h5.7M226.9 1764.3v5.7M232.2 1760.5h5.7M235.1 1757.7v5.7M248.6 1760.5h5.7M251.5 1757.7v5.7M256.8 1767.1h5.7M259.7 1764.3v5.7M265.1 1760.5h5.7M267.9 1757.7v5.7M281.5 1760.5h5.7M284.3 1757.7v5.7M289.7 1767.1h5.7M292.5 1764.3v5.7M297.9 1760.5h5.7M300.7 1757.7v5.7M314.3 1760.5h5.7M317.2 1757.7v5.7M322.5 1767.1h5.7M325.4 1764.3v5.7M330.7 1760.5h5.7M333.6 1757.7v5.7M872.5 1760.5h5.7M875.3 1757.7v5.7M880.7 1767.1h5.7M883.6 1764.3v5.7M888.9 1760.5h5.7M891.8 1757.7v5.7M905.3 1760.5h5.7M908.2 1757.7v5.7M913.5 1767.1h5.7M916.4 1764.3v5.7M921.8 1760.5h5.7M924.6 1757.7v5.7M380 1786.8h5.7M382.8 1784v5.7M388.2 1793.4h5.7M391 1790.5v5.7M396.4 1786.8h5.7M399.2 1784v5.7M544.1 1786.8h5.7M547 1784v5.7M552.4 1793.4h5.7M555.2 1790.5v5.7M560.6 1786.8h5.7M563.4 1784v5.7M806.8 1786.8h5.7M809.7 1784v5.7M815 1793.4h5.7M817.9 1790.5v5.7M823.2 1786.8h5.7M826.1 1784v5.7M347.1 1813.1h5.7M350 1810.2v5.7M355.3 1819.6h5.7M358.2 1816.8v5.7M363.6 1813.1h5.7M366.4 1810.2v5.7M412.8 1813.1h5.7M415.7 1810.2v5.7M421 1819.6h5.7M423.9 1816.8v5.7M429.2 1813.1h5.7M432.1 1810.2v5.7M577 1813.1h5.7M579.8 1810.2v5.7M585.2 1819.6h5.7M588 1816.8v5.7M593.4 1813.1h5.7M596.3 1810.2v5.7M609.8 1813.1h5.7M612.7 1810.2v5.7M618 1819.6h5.7M620.9 1816.8v5.7M626.2 1813.1h5.7M629.1 1810.2v5.7M774 1813.1h5.7M776.8 1810.2v5.7M782.2 1819.6h5.7M785.1 1816.8v5.7M790.4 1813.1h5.7M793.3 1810.2v5.7M215.8 1839.3h5.7M218.6 1836.5v5.7M224 1845.9h5.7M226.9 1843.1v5.7M232.2 1839.3h5.7M235.1 1836.5v5.7M347.1 1839.3h5.7M350 1836.5v5.7M355.3 1845.9h5.7M358.2 1843.1v5.7M363.6 1839.3h5.7M366.4 1836.5v5.7M380 1839.3h5.7M382.8 1836.5v5.7M388.2 1845.9h5.7M391 1843.1v5.7M396.4 1839.3h5.7M399.2 1836.5v5.7M511.3 1839.3h5.7M514.2 1836.5v5.7M519.5 1845.9h5.7M522.4 1843.1v5.7M527.7 1839.3h5.7M530.6 1836.5v5.7M577 1839.3h5.7M579.8 1836.5v5.7M585.2 1845.9h5.7M588 1843.1v5.7M593.4 1839.3h5.7M596.3 1836.5v5.7M708.3 1839.3h5.7M711.2 1836.5v5.7M716.5 1845.9h5.7M719.4 1843.1v5.7M724.7 1839.3h5.7M727.6 1836.5v5.7M248.6 1865.6h5.7M251.5 1862.8v5.7M256.8 1872.2h5.7M259.7 1869.3v5.7M265.1 1865.6h5.7M267.9 1862.8v5.7M281.5 1865.6h5.7M284.3 1862.8v5.7M289.7 1872.2h5.7M292.5 1869.3v5.7M297.9 1865.6h5.7M300.7 1862.8v5.7M412.8 1865.6h5.7M415.7 1862.8v5.7M421 1872.2h5.7M423.9 1869.3v5.7M429.2 1865.6h5.7M432.1 1862.8v5.7M478.5 1865.6h5.7M481.3 1862.8v5.7M486.7 1872.2h5.7M489.5 1869.3v5.7M494.9 1865.6h5.7M497.7 1862.8v5.7M675.5 1865.6h5.7M678.3 1862.8v5.7M683.7 1872.2h5.7M686.5 1869.3v5.7M691.9 1865.6h5.7M694.8 1862.8v5.7M380 1891.9h5.7M382.8 1889v5.7M388.2 1898.4h5.7M391 1895.6v5.7M396.4 1891.9h5.7M399.2 1889v5.7M412.8 1891.9h5.7M415.7 1889v5.7M421 1898.4h5.7M423.9 1895.6v5.7M429.2 1891.9h5.7M432.1 1889v5.7M511.3 1891.9h5.7M514.2 1889v5.7M519.5 1898.4h5.7M522.4 1895.6v5.7M527.7 1891.9h5.7M530.6 1889v5.7M445.6 1918.1h5.7M448.5 1915.3v5.7M453.9 1924.7h5.7M456.7 1921.9v5.7M462.1 1918.1h5.7M464.9 1915.3v5.7M117.3 1944.4h5.7M120.1 1941.6v5.7M125.5 1951h5.7M128.4 1948.1v5.7M133.7 1944.4h5.7M136.6 1941.6v5.7M183 1944.4h5.7M185.8 1941.6v5.7M191.2 1951h5.7M194 1948.1v5.7M199.4 1944.4h5.7M202.2 1941.6v5.7M215.8 1944.4h5.7M218.6 1941.6v5.7M224 1951h5.7M226.9 1948.1v5.7M232.2 1944.4h5.7M235.1 1941.6v5.7M281.5 1944.4h5.7M284.3 1941.6v5.7M289.7 1951h5.7M292.5 1948.1v5.7M297.9 1944.4h5.7M300.7 1941.6v5.7M445.6 1944.4h5.7M448.5 1941.6v5.7M453.9 1951h5.7M456.7 1948.1v5.7M462.1 1944.4h5.7M464.9 1941.6v5.7M478.5 1944.4h5.7M481.3 1941.6v5.7M486.7 1951h5.7M489.5 1948.1v5.7M494.9 1944.4h5.7M497.7 1941.6v5.7M511.3 1944.4h5.7M514.2 1941.6v5.7M519.5 1951h5.7M522.4 1948.1v5.7M527.7 1944.4h5.7M530.6 1941.6v5.7M84.5 1970.7h5.7M87.3 1967.8v5.7M92.7 1977.2h5.7M95.5 1974.4v5.7M100.9 1970.7h5.7M103.7 1967.8v5.7M117.3 1970.7h5.7M120.1 1967.8v5.7M125.5 1977.2h5.7M128.4 1974.4v5.7M133.7 1970.7h5.7M136.6 1967.8v5.7M183 1970.7h5.7M185.8 1967.8v5.7M191.2 1977.2h5.7M194 1974.4v5.7M199.4 1970.7h5.7M202.2 1967.8v5.7M215.8 1970.7h5.7M218.6 1967.8v5.7M224 1977.2h5.7M226.9 1974.4v5.7M232.2 1970.7h5.7M235.1 1967.8v5.7M248.6 1970.7h5.7M251.5 1967.8v5.7M256.8 1977.2h5.7M259.7 1974.4v5.7M265.1 1970.7h5.7M267.9 1967.8v5.7M248.6 1997h5.7M251.5 1994.1v5.7M256.8 2003.5h5.7M259.7 2000.7v5.7M265.1 1997h5.7M267.9 1994.1v5.7M281.5 1997h5.7M284.3 1994.1v5.7M289.7 2003.5h5.7M292.5 2000.7v5.7M297.9 1997h5.7M300.7 1994.1v5.7M314.3 1997h5.7M317.2 1994.1v5.7M322.5 2003.5h5.7M325.4 2000.7v5.7M330.7 1997h5.7M333.6 1994.1v5.7M84.5 2049.5h5.7M87.3 2046.6v5.7M92.7 2056.1h5.7M95.5 2053.2v5.7M100.9 2049.5h5.7M103.7 2046.6v5.7M117.3 2049.5h5.7M120.1 2046.6v5.7M125.5 2056.1h5.7M128.4 2053.2v5.7M133.7 2049.5h5.7M136.6 2046.6v5.7"/>
<g transform="translate(79.1,1648.9)" fill="none" stroke="#000" stroke-width="2.3" stroke-linejoin="round" stroke-linecap="round">
<polyline points="1.7,275.3 10.1,270.2 16.5,263.8 21.6,260"/>
<polyline points="92.9,258.7 91.7,261.8 84,263.8 72.6,267.9 59.8,266.9 50.9,268.9 50.9,276.5 54.7,282.9 58.5,289.3 62.9,296.9 70,299 64.9,303.3 59.8,308.4 59.3,314.8 61.1,318.6 57.3,324.5 49.6,328.8 44.5,332.6 38.1,339 31.8,344.1 26.7,347.9 19,353 10.1,355 3.7,356.8 0.7,358.1"/>
<polyline points="1.7,378.5 7.6,387.4 12.7,396.3 14.4,401.4 11.4,405.2 6.3,411.6 3.2,419.3 1.7,426.9"/>
<polyline points="1.2,448.6 10.1,450.3 21.6,446.8 28.7,441.7 30.5,434.5 31.8,430 38.1,431 34.3,437.1 35.6,454.9 36.9,470.2 40.7,485.5 44.5,500.8 48.3,513.5 52.2,523.7"/>
<polyline points="103.1,258.7 109.5,264.3 113.8,271.4 116.4,276.5"/>
<polyline points="135,258.7 128.6,264.3 123.5,270.2 116.4,276.5"/>
<polyline points="116.4,276.5 115.9,280.4 112.1,286.7 110.3,294.4 113.8,299.5 115.4,309.7 121,312.2 128.6,317.3 136.3,321.1 142.6,325 146.5,327"/>
<polyline points="146.5,326.2 152.8,323.7 161.8,327.5 174.5,333.1 186,338.2 200,344.1 212.7,353.5 225.5,355.5 238.2,355.5 245.3,354.3 246.4,361.9 243.3,368.3 237.7,374.7 225.5,375.4 212.7,372.6 200,368.8 187.2,361.1 171.9,358.6 159.2,353.5 146.5,348.4 135,343.3 131.7,340.8 135.8,332.6 140.1,328 146.5,326.2"/>
<polyline points="245.3,354.3 253.5,355 263.7,351 273.9,353.5 284.1,355 287.9,358.1 290.4,365.7 288.7,368.8 276.4,369.8 263.7,370.8 250.9,368.8 248.4,364.5 246.4,361.9"/>
<polyline points="289.2,368.8 301.9,368.3 313.4,364.5 319.8,359.4 330,354.3 340.1,351.7 350.3,355.5 354.2,361.9 355.9,365.7"/>
<polyline points="237.7,374.7 240.8,376.4 247.1,375.4 250.9,377.2 257.3,378.5 259.9,386.1 262.4,391.2 276.4,391.2 291.7,393.3 294.3,396.3 286.6,405.2 279,410.3 280.3,418 284.1,419.3 289.2,411.6 293,414.2 294.3,424.4 295.5,434.5 296.8,442.2"/>
<polyline points="240.8,373.4 239.5,381 244.6,388.7 248.4,389.9 240.8,396.3 236.9,397.6 242,405.2 244.6,414.2 247.1,421.8 249.7,432 250.9,434.5"/>
<polyline points="133.7,523.7 149,505.9 161.8,498.3 174.5,488.1 189.8,475.3 207.6,462.6 217.8,457.5 221.6,447.3 222.9,440.2 235.7,434.5 240.8,437.1 250.9,434.5 263.7,432 273.9,425.6 281.5,424.9 285.4,428.2 289.2,437.1 294.3,447.3 301.9,456.2 309.6,462.6 313.4,472.8 318.5,480.4 321,493.2 319.2,511 326.1,513.5 335,511 345.2,503.4 351.6,494.4 355.4,498.3 359.3,505.9 363.1,513.5 365.6,523.7"/>
<polyline points="296.8,434.5 301.9,426.9 305.7,419.3 308.3,409.1 315.9,406.5 319.8,397.6 324.9,388.7 328.7,378.5 332.5,372.1 340.1,367 349.1,363.2 355.4,363.2"/>
<polyline points="477.1,264.6 479,267.9 481.7,271.8 479.7,275.7 480.4,281.6 475.8,281 471.2,283 469.2,284.9 470.5,288.2 467.9,290.2 464,290.8 460,292.8 456.1,293.4"/>
<polyline points="470.5,289.5 477.1,292.1 484.9,292.8 488.9,295.4 494.1,296.7 499.4,299.3 504.6,298.7 509.9,302 515.1,304.6 520.3,305.2 524.3,308.5 526.9,310.5 526.9,316.4 523,317.7 519,319 513.8,320.3 508.5,321 504.6,322.9 505.3,326.9 504.6,330.8 508.5,334.7 512.5,338.7 515.1,342.6"/>
<polyline points="517.7,285.6 524.3,285.6 529.5,286.2 538,285.6"/>
<polyline points="528.2,264.6 530.2,269.2 532.8,274.4 534.8,279.7 538,285.6 542.6,291.5 547.9,295.4 554.4,297.4 561,296.7 567.5,296.7 572.8,297.4 574.1,302 578,304.6 584.6,307.2 588.5,308.5 593.8,307.9 597.7,311.1 602.9,313.8 604.3,316.4 601.6,319 603.6,324.3 605.6,330.8"/>
<polyline points="518.4,286.2 521.7,288.2 526.2,290.8 527.6,293.1 523,294.1 519,296.1 520.3,300.7 520.3,304.6"/>
<polyline points="596.4,265.3 602.9,266.6 606.9,268.5 609.5,271.8 610.8,277.1 606.9,275.7 600.3,275.1 597.7,278.4 595.1,283.6 589.2,286.9 592.5,291.5 595.1,294.1 600.3,294.8 602.9,296.7 601.6,303.3 596.4,307.2"/>
<polyline points="610.8,266.6 613.4,269.8 620,273.1 626.6,275.7 630.5,279 630.5,283.6 633.1,287.5 638.4,291.5 642.3,289.5 645.6,291.5 644.9,294.8 641,295.4 637,298 635.1,303.3 637,307.2 638.4,311.1 642.3,312.5 648.8,313.8 652.8,312.5 658,315.1 662,316.4 668.5,315.1 679,316.4 681.6,317.7"/>
<polyline points="646.2,265.3 655.4,269.2 660.6,271.8 663.3,278.4 665.9,284.9 668.5,291.5 671.1,295.4 677.7,300.7 681.6,304.6 682.3,311.1 679.7,316.4"/>
<polyline points="658,302 663.3,301.3 668.5,303.3 676.4,305.9 681,309.2"/>
<polyline points="659.3,325.6 665.9,324.3 672.4,322.9 679,325.6 684.9,324.3"/>
<polyline points="684.9,321.6 683.2,330.8 679.7,337.4 676.6,343.9 672.7,350.5 668.8,355.7 663.5,361.2 658.3,367.5 653,371.7 652.8,379.6 650.2,384.8 643.9,390.1 637.3,395.3 630.7,400.6 624.2,405.8 617.6,412.1 611.1,416 604.5,418.9 598,421.5 590.1,422.9 582.2,426.8 577,428.1 571.7,425.2 569.1,429.2 563.9,431.8 558.6,434.4 550.8,437 541.6,439.9 535,442.5 531.1,445.1 529.5,447.8 531.5,451.7 532.1,455.4 529.5,458 525.6,458 523,454.1 521.7,448.8 523,442.3 524.3,438.6 520.3,439.9 517.7,441 511.2,439.6 507.2,437.3 500.7,438.6 495.4,441.2 491.5,443.8 486.3,447.8 482.3,450.4 478.4,454.3 475.8,458.3 473.1,460.9 470.5,464.8 468.6,471.4 469.2,475.3 473.1,479.2 478.4,483.2 481,489.7 484.9,495 490.5,500.2 493.1,506.8 498.3,510.7 504.9,515.9 508.5,520.9 511.2,526.7"/>
<polyline points="507.2,468.5 511.2,464.6 517.7,461.3 525.6,460 533.5,459.3 538,461.3 538.7,465.9 534.8,471.1 532.1,475 529.5,479 524.3,481.6 519,482.9 513.8,481.6 508.5,479 507.2,473.7 507.2,468.5"/>
<polyline points="456.1,475 462,477 464,481.6 467.9,488.2 470.5,492.1 475.8,497.3 479,502.6 481,506.5 484.9,510.4 488.9,514.4 491.5,519.6 494.8,526.7"/>
<polyline points="456.1,492.1 457.4,498.6 461.3,505.2 465.3,510.4 467.9,515.7 467.2,526.7"/>
<polyline points="456.1,418.7 461.3,416 466.6,417.3 470.5,421.3 475.8,421.3 481,422.6 482.3,429.2 484.3,434.4 490.2,437.7 495.4,437.7 505.9,435.1 512.5,438.3 519,439.6 523,439"/>
<polyline points="456.1,401.6 461.3,401 466.6,405.5 473.1,406.9 475.1,410.8 473.1,413.4 469.2,414.7 465.9,417.3 464,418"/>
<polyline points="515.1,338.7 517.7,334.7 524.3,333.4 532.1,332.1 534.8,328.2 541.3,328.2 547.9,330.8 554.4,333.4 561,332.1 564.9,334.1 570.2,330.8 572.8,334.7 574.1,340"/>
<polyline points="574.1,340 579.3,342.6 580.7,349.2 576.7,353.1 572.8,358.3 571.5,362.3 574.1,366.2 575.4,372.8 578,379.3 576.7,387.2 577.4,389.8"/>
<polyline points="515.1,338.7 515.8,343.9 515.8,350.5 517.7,358.3 515.1,362.3 509.9,366.2 513.8,368.8 517.7,368.8 519,372.8 517.7,376.7 519,380.6"/>
<polyline points="519,380.6 524.3,378.7 529.5,379.3 534.8,376.7 540,377.4 542.6,380.6 542.6,384.6 540,388.5 538,393.7 542.6,396.4 547.9,397.7 551.8,396.4 554.4,392.4 561,392.4 564.9,389.8 570.2,387.8 576.7,388.5 582,388.5 585.9,389.8 585.9,393.7 580.7,396.4 582,400.3 587.2,400.3 593.8,397.7 600.3,399"/>
<polyline points="579.3,338 587.2,336.1 593.8,334.1 600.3,330.8 605.6,330.8 612.1,328.2 614.7,332.1 620,330.8 623.9,333.4 631.8,334.7"/>
<polyline points="631.8,334.7 630.5,338.7 633.1,343.9 635.7,349.2 637,351.8 631.8,353.1 626.6,355.7 620,357 617.4,359.7 617.4,366.2 613.4,368.8 610.8,372.8 608.2,379.3 605.6,384.6 602.9,391.1 601.6,395.1 600.3,399"/>
<polyline points="637,351.8 639.7,358.3 642.3,362.3 647.5,361 652.8,363.6 658,363.6 660.6,364.9"/>
<polyline points="601.6,395.1 606.9,396.4 613.4,397.7 616.1,402.9 618.7,410.8"/>
<polyline points="553.1,397.7 551.8,402.9 547.9,409.5 543.9,414.7 542.6,421.3 537.4,425.2 534.8,429.2 530.8,431.8 526.9,434.4 524.3,437"/>
<polyline points="519,380.6 512.5,383.3 508.5,385.9 503.3,387.2 499.4,389.8 494.1,391.1 490.2,388.5 486.9,386.5 484.9,389.8 482.3,391.1 474.5,393.7 471.8,396.4 466.6,395.1 461.3,393.7 456.1,391.1"/>
<polyline points="462.7,334.1 467.9,326.9 471.8,324.3 478.4,325.6 483.6,326.9 487.6,322.9 491.5,317.7 495.4,316.4 498.1,313.8 500.7,309.8 504.6,305.9"/>
<polyline points="462.7,334.1 466.6,340 470.5,343.9 475.8,347.9 482.3,346.5 486.3,343.9 490.2,342.6 494.1,340 498.1,340.6 502,341.3 505.9,347.9 509.9,351.8 513.8,351.8 515.8,350.5"/>
<polyline points="456.1,355.7 460,354.4 462.7,357 461.3,361 456.1,362.3"/>
<polyline points="658,414.7 662,406.9 668.5,397.7 673.8,392.4 679,389.8 682.9,393.7 681.6,400.3 679,409.5 676.4,418.7 672.4,426.5 668.5,431.8 667.2,434.4 664.6,429.2 660.6,426.5 658.7,421.3 658,414.7"/>
<polyline points="656.7,526.7 654.7,519.6 654.1,511.8 656.7,507.8 660.6,510.4 662,505.2 663.3,494.7 664.6,481.6 668.5,477.7 673.8,479 679,480.3 686.1,481.6"/>
<polyline points="676.4,526.7 679,519.6 686.1,514.4"/>
<polyline points="724.1,274.4 732,271.8 738.5,269.8 745.1,266.8 754.3,264.2 764.8,261.6 777.9,258.7"/>
<polyline points="733.3,273.1 735.9,267.9 741.2,263.9"/>
<polyline points="737.2,284.9 741.2,282.3 747.1,282 747.7,284.3 742.5,286.2 737.2,284.9"/>
<polyline points="780.5,284.9 788.4,282.3 794.9,278.4 800.2,275.7 804.1,278.4 809.3,283.6 813.3,288.9 810.7,294.1 808,300.7 806.7,308.5 801.5,312.5 796.2,315.1 791,311.1 789.7,302 787.1,296.7 783.1,291.5 780.5,284.9"/>
<polyline points="770,294.1 773.9,290.2 777.9,286.2"/>
<polyline points="798.9,270.5 804.1,269.2 810.7,266.6 817.2,262.6 822.5,258.7"/>
<polyline points="798.9,273.1 804.1,275.7 810.7,277.1 817.2,273.1 823.8,270.5 832.9,269.2 843.4,266.6 850,265.3 856.6,266.6 859.2,269.2"/>
<polyline points="817.2,284.9 821.1,278.4 830.3,275.7 836.9,274.4 843.4,271.8 848.7,273.1 850,277.1 843.4,281 842.1,284.9 836.9,283.6 830.3,284.9 827.7,291.5 823.8,292.8 819.8,288.9 817.2,284.9"/>
<polyline points="856.6,266.6 856.6,274.4 861.8,282.3 864.4,281 869.7,274.4 872.3,271.8 877.5,270.5 880.2,267.9 888,266.6 895.9,266.6 901.1,262.6 906.4,261.3 911.6,258.7"/>
<polyline points="874.9,263.9 877.5,261.3 880.2,263.9"/>
<polyline points="783.6,305.9 785.2,306.2"/>
<polyline points="779.7,313.8 781.3,314"/>
<polyline points="786.3,317.7 787.8,318"/>
<polyline points="794.1,320.3 795.7,320.6"/>
<polyline points="800.7,319 802.3,319.3"/>
<polyline points="785,329.5 786.5,329.8"/>
<polyline points="782.3,334.7 783.9,335"/>
<polyline points="777.1,338.7 778.7,338.9"/>
<polyline points="774.5,343.9 776,344.2"/>
<polyline points="782.3,349.2 783.9,349.4"/>
<polyline points="786.9,350.5 788.5,350.7"/>
<polyline points="777.1,353.1 778.7,353.4"/>
<polyline points="773.2,358.3 774.7,358.6"/>
<polyline points="769.2,362.3 770.8,362.5"/>
<polyline points="764,356.4 765.6,356.6"/>
<polyline points="764,367.5 765.6,367.8"/>
<polyline points="760,372.8 761.6,373"/>
<polyline points="757.4,378 759,378.3"/>
<polyline points="750.9,378 752.4,378.3"/>
<polyline points="744.3,375.4 745.9,375.7"/>
<polyline points="702.4,383.3 703.9,383.5"/>
<polyline points="715.5,381.9 717,382.2"/>
<polyline points="694.5,401 696.1,401.2"/>
<polyline points="705,402.9 706.6,403.2"/>
<polyline points="711.5,400.3 713.1,400.6"/>
<polyline points="717.4,397.7 719,397.9"/>
<polyline points="726,396.4 727.5,396.6"/>
<polyline points="803.3,382.6 804.9,382.9"/>
<polyline points="802.7,401 804.2,401.2"/>
<polyline points="866.9,454.1 868.5,454.3"/>
<polyline points="765.3,302 766.9,302.2"/>
<polyline points="723.3,275.1 724.9,275.4"/>
<polyline points="727.3,273.1 728.8,273.4"/>
<polyline points="777.1,270.5 778.7,270.8"/>
<polyline points="779.7,267.9 781.3,268.1"/>
<polyline points="908.2,271.8 909.8,272.1"/>
<polyline points="910.8,275.7 912.4,276"/>
<polyline points="913.5,282.3 915,282.6"/>
<polyline points="12.8,2.5 15.4,4.5 13.5,8.3 16.7,10.3 21.8,9 27,8.3 30.8,11.5 34.7,12.8 39.8,12.2 45,13.5 48.9,12.8 45,16.7 43.7,19.9 50.1,19.3 56.6,19.3 63,15.4 68.2,12.8 73.3,10.9 79.7,9 86.2,7.7 91.3,7 90,9 84.9,10.3 83.6,11.5 88.7,14.1 96.5,18 102.9,21.8 108,27 114.5,34.7 120.9,43.7 126.1,50.1 131.2,55.3 135.1,52.7 137.6,49.5 141.5,48.9 144.1,50.1 146.6,52.7 150.5,55.3 156.9,55.9 163.4,55.3 169.8,52.7 176.2,52.7 182.7,55.3 186.5,59.1 189.1,61.7 194.3,63 198.1,66.9 200.7,70.1 208.4,70.7 214.8,69.4 218.7,68.2 221.3,70.7 223.8,73.3 227.1,75.9"/>
<polyline points="227.1,78.4 222.6,79.7 220,82.3 214.8,84.9 207.1,86.2 204.5,91.3 205.8,97.7 204.5,101.6 199.4,102.9 194.3,105.5 189.1,104.2 178.8,104.2 172.4,102.9 171.1,108 168.5,114.5 164.7,120.9 162.1,124.8 165.9,126.1 163.4,128.6 156.9,127.3 150.5,128.6 144.1,129.9 137.6,131.2 131.2,131.2 128.6,132.5 135.1,135.1 136.3,140.2 137.6,145.4 138.9,150.5 141.5,155.6 137.6,158.2 136.3,163.4 133.8,165.9 135.1,168.5 131.2,169.8 122.2,172.4 114.5,175 108,178.8 104.2,182.7 96.5,184 90,185.2 86.2,189.1 83.6,191.7 79.7,189.1 73.3,187.8 68.2,189.1 63,190.4 56.6,193 51.4,195.5 50.1,199.4 48.9,204.5 48.9,208.4 51.4,213.6 55.3,214.8 60.4,214.8 63,217.4 64.3,222.6 66.2,227.7 68.2,230.3 63,231.6"/>
<polyline points="45,119.6 47.6,114.5 52.7,111.9 60.4,109.3 68.2,108 78.4,107.4 86.2,108 93.9,108.7 101.6,109.3 109.3,109.3 115.8,108 120.9,109.3 119.6,111.9 111.9,113.2 105.5,113.2 96.5,111.9 86.2,111.3 75.9,110.6 68.2,110.6 60.4,111.9 56.6,114.5 54,119.6 52.7,124.8 53.4,131.2 50.1,128.6 46.3,124.8 45,119.6"/>
<polyline points="1.2,175 7.7,168.5 12.8,162.1 19.3,159.5 28.3,159.5 36,162.1 43.7,163.4 46.3,158.2 50.1,155.6 55.3,154.4 63,156.9 68.2,158.9 75.9,158.9 83.6,158.2 91.3,157.6 99,158.2 106.8,158.9 114.5,158.9 120.9,160.2 126.1,162.7 131.2,164.7 134.4,167.2"/>
<polyline points="1.2,176.2 9,177.5 15.4,178.8 21.8,176.2 25.7,177.5 29.6,180.1 34.7,182.7 41.1,185.2 36,186.5 30.8,187.8 25.7,190.4 21.8,193 15.4,193 9,191.7 3.8,190.4 1.2,186.5"/>
<polyline points="1.2,202 9,202.6 15.4,203.3 21.8,204.5 28.3,207.1 34.7,205.8 41.1,203.3 48.9,203.3"/>
<polyline points="1.2,221.3 6.4,217.4 11.5,216.1 15.4,217.4 18,220 19.3,227.7 20.5,234.1 21.8,238 28.3,235.4 34.7,232.9 42.4,231.6 47.6,230.9 54,231.6 60.4,231.6 65.6,232.9"/>
<polyline points="15.4,250.9 21.8,247 29.6,244.4 37.3,241.9 45,240.6 52.7,240.6 60.4,241.9 68.2,243.1 73.3,244.4 78.4,248.3 81,253.4 86.2,257.3 91.3,259.9"/>
<polyline points="19.3,252.2 20.5,259.9"/>
<polyline points="135.1,259.9 142.8,257.3 150.5,256 158.2,253.4 164.7,252.2 171.1,253.4 178.8,252.2 186.5,249.6 194.3,247 202,245.7 208.4,244.4 214.8,243.1 221.3,241.9 227.1,241.2"/>
<polyline points="226.1,76.5 232.5,75.9 239,73.3 245.4,72 251.8,70.7 257,68.2 258.3,66.2 264.7,64.3 271.1,61.7 273.7,59.1 280.1,57.9 285.3,55.9 293,54.6 298.2,55.9 303.3,57.2 311,57.9 318.7,57.9 321.3,61.7 323.9,64.3 329,66.2 336.8,66.2 344.5,66.2 349.6,66.2 357.3,68.2 362.5,66.9 367.6,64.3 371.5,60.4 371.5,56.6 367.6,54 365.1,51.4 366.3,47.6 370.2,43.7 375.4,41.1 379.2,37.3 385.6,39.8 393.4,41.8 401.1,43.1 408.8,45 416.5,46.3 421.7,47.6 423,52.7 424.3,56.6 428.1,59.1 434.5,61.1 442.3,63 447.4,61.7 452.6,60.4 457.1,59.1"/>
<polyline points="457.1,41.1 447.4,42.4 442.3,43.7 447.4,45.3 457.1,45.6"/>
<polyline points="232.5,78.4 233.8,81 239,84.9 245.4,88.7 251.8,91.3 258.3,93.2 263.4,95.2 267.3,99 271.1,102.9 275,106.8 276.3,111.9 274.4,117 272.4,122.2 273.7,127.3 280.1,129.3 290.4,130.6 300.7,131.2 307.2,132.5 313.6,134.4 318.7,137 326.5,139.6 332.9,140.9 335.5,144.1 339.3,150.5 343.2,156.9 347,160.8"/>
<polyline points="347,160.8 354.8,160.8 367.6,161.4 380.5,162.1 393.4,162.1 406.2,162.7 416.5,164.7 424.3,167.2 432,169.8 439.7,171.7 447.4,172.4 457.1,173"/>
<polyline points="347,160.8 341.9,163.4 340.6,169.8 335.5,172.4 326.5,173.7 320,177.5 316.2,181.4 312.3,185.2 311,189.1 305.9,190.4 300.7,191.7 299.4,199.4 300.7,205.8"/>
<polyline points="356.1,162.1 359.9,168.5 363.8,175 366.3,178.8 365.1,181.4 367.6,185.2 371.5,186.5 372.8,189.1 377.9,186.5 384.4,185.2 390.8,184 394.7,185.2 395.9,189.1 392.1,193 388.2,196.8 393.4,199.4 398.5,200.7 403.7,203.3 406.2,207.1 408.8,209.7 412.7,211 417.8,209.7 425.5,208.4 432,207.1 439.7,205.8 444.8,204.5 447.4,207.1 446.1,212.3 442.3,214.8 439.7,218.7 444.8,222.6 450,226.4 457.1,227.7"/>
<polyline points="264.7,217.4 277.6,213.6 290.4,211 303.3,208.4 309.7,207.1 318.7,205.8 329,208.4 336.8,212.3 345.8,216.1 353.5,218.7 354.8,212.3 357.3,208.4 362.5,209.7 367.6,211 374.1,209.7 380.5,212.3 386.9,214.8 393.4,217.4 395.9,216.1 401.1,220 406.2,222.6 411.4,225.1 416.5,227.7 419.1,226.4 421.7,231.6 426.8,235.4 429.4,238 432,243.1 430.7,248.3 426.8,253.4 425.5,259.9"/>
<polyline points="264.7,217.4 267.3,221.3 271.1,225.1 275,227.7 277.6,231.6 280.1,235.4 275,236.7 273.7,240.6 275,245.7 272.4,247 264.7,245.7 257,247 249.3,247.6 239,245.7 226.1,248.3"/>
<polyline points="255.7,249.6 258.3,259.9"/>
<polyline points="456.1,41.1 462.5,38.6 469,34.7 475.4,32.1 481.8,27 489.6,21.8 497.3,19.3 503.7,14.1 507.6,9 510.1,3.8 511.4,1.2"/>
<polyline points="456.1,46.9 463.8,45 471.5,42.4 476.7,37.3 481.8,33.4 489.6,29.6 497.3,25.7 505,21.8 510.1,18 516.6,14.1 519.1,10.3 519.8,5.1 521.1,1.2"/>
<polyline points="483.1,26.3 489.6,23.1 496,21.2"/>
<polyline points="456.1,60.4 462.5,59.1 469,59.8 479.3,60.4 485.7,63 496,65.6 499.8,70.7 507.6,73.9 517.9,74.6 524.3,75.9 530.7,75.2 539.7,73.3 548.7,72 559,70.7 565.5,68.2 571.9,64.3 578.3,62.4 584.8,61.7 591.2,64.3 597.6,66.9 605.4,65.6 611.8,66.9 618.2,69.4 627.2,70.7 633.7,68.2 638.8,65.6 644,64.3 647.8,61.7"/>
<polyline points="647.8,61.7 649.1,56.6 653,51.4 658.1,46.3 662,42.4 665.8,38.6 665.8,33.4 662,30.8 657.5,29.6 662,25.7 668.4,21.8 677.4,20.5 687.1,19.3"/>
<polyline points="672.3,30.8 677.4,32.8 682.6,34.7 687.1,33.4"/>
<polyline points="456.1,175 469,169.8 481.8,165.9 494.7,163.4 507.6,162.1 517.9,159.5 528.2,155.6 535.9,151.8 543.6,149.2 551.3,145.4 548.7,141.5 544.9,137.6 546.2,132.5 551.3,129.9 559,131.2 566.8,133.8 574.5,132.5 582.2,128.6 592.5,124.8 598.9,123.5 604.1,120.9 607.9,117 613.1,113.2 619.5,110.6 627.2,109.3 636.2,107.8 644,106.8 649.1,108 653,106.8 654.3,102.9 651.7,99 646.5,96.5 641.4,93.9 636.2,92 631.1,91.3 625.9,92.6 620.8,96.5 613.1,95.2 606.6,96.5 601.5,95.2 597.6,91.3 598.9,86.2 602.8,83.6 605.4,78.4 607.9,73.3 611.8,66.9"/>
<polyline points="686.1,19.5 693.9,18.9 703,19.5 712.1,22.1 721.3,23.4 729.1,25.4 735.6,28.6 739.5,33.9 743.4,41.7 748.6,49.5 752.5,57.3 755.1,65.1 759,69 766.8,71 777.2,72.3 785,75.5 792.9,79.4 796.8,82 796.8,87.2 800.7,95 809.8,95 820.2,94.4 826.7,91.1 835.8,88.5 842.3,87.2 848.8,87.2 850.1,93.7 846.2,99 842.3,101.6 839.7,109.4 837.1,115.9 831.9,122.4 828,127.6 824.1,132.8 820.2,135.4 816.3,131.5 815,127.6 816.3,126.3 821.5,126.3 824.1,128.9"/>
<polyline points="815,126.9 811.1,127.6 807.2,130.2 800.7,132.8 802,139.3 803.3,145.8 804.6,152.3 800.7,156.2"/>
<polyline points="792.9,162.7 798.1,158.8 805.9,156.2 813.7,154.9 818.9,153.6 822.8,160.1 829.3,161.4 838.4,158.8 846.2,154.9 855.4,149.7 860.6,144.5 868.4,136.7 876.2,130.2 884,123.7 891.8,117.2 897,110.7 902.2,102.9 907.4,95 912.6,89.8 921.1,85.9"/>
<polyline points="686.1,32.6 691.3,35.2 692.6,40.4 695.2,47.5 703,48.8 712.1,47.5 718.6,45.6 725.2,44.3 730.4,47.5 735.6,52.1 731.7,57.3 727.8,61.2 725.2,66.4 724.5,71.6 725.2,76.2 717.3,82 714.7,85.9 715.4,89.8 712.1,87.2 708.2,88.5 701.7,92.4 693.9,96.3 688.7,99 687.4,101.6 691.3,102.9 696.5,105.5 699.1,109.4 696.5,112"/>
<polyline points="699.1,108.1 703,110.7 706.9,115.9 708.2,121.1 714.7,123.7 722.6,125 730.4,126.3 735.6,128.9 744.7,128.9 751.2,135.4 759,143.2 765.5,138 769.4,143.2 774.6,149.7 783.7,145.8 790.3,144.5 794.2,149.7 800.7,151 804.6,152.3"/>
<polyline points="761.7,171.2 756.4,175.8 751.2,175.8 746,173.2 740.8,175.8 735.6,178.4 730.4,182.3 725.2,186.2 720,191.4 716,196.6 714,199.6"/>
<polyline points="761.7,171.2 764.2,168 770.7,168 777.2,165.4 782.4,162.7 786.3,158.8 791.6,160.1 796.8,161.4 800.7,156.2"/>
<polyline points="686.1,204.4 693.9,202.5 703,199.2 709.5,198.6 714,199.6 718.6,201.8 723.9,204.4 729.1,209.6 727.8,216.1 721.3,221.3 718.6,225.2 725.2,229.1 733,230.4 740.8,229.1 743.4,233.1 742.1,240.9 739.5,250 740.8,259.7"/>
<polyline points="800.7,156.2 796.8,162.7 790.3,165.4 785,169.3 783.7,175.8 782.4,181 777.2,184.9 772,188.8 764.2,192.7 757.7,196.6 753.8,199.2 755.1,207 759,210.9 764.2,214.8 766.8,220 772,225.2 777.2,230.4 779.8,237 781.8,243.5 782.4,251.3 779.8,259.7"/>
<polyline points="742.1,220 747.3,217.4 756.4,216.1 764.2,214.8"/>
<polyline points="686.1,158.8 693.9,156.2 703,152.3 712.1,154.9 718.6,154.9 723.9,161.4 727.8,169.3 731,178.4 729.1,183.6"/>
<polyline points="855.4,2.6 863.2,3.9 871,3.9 876.2,7.8 876.2,15.6 882.7,15.6 885.3,18.2 894.4,18.2 900.9,14.3 904.8,9.1 910,9.1 917.8,7.8"/>
<polyline points="894.4,223.9 899.6,220 907.4,217.4 913.9,212.2 917.8,207"/>
<polyline points="874.9,233.1 878.8,230.4 884,229.1 889.2,230.4 894.4,227.8 900.9,225.2 907.4,221.3"/>
<polyline points="821.5,259.7 829.3,255.2 839.7,253.9 850.1,252.6 859.3,251.3 865.8,246.1 871,240.9 874.9,235.7 876.2,231.8"/>
<polyline points="798.6,229.8 800.1,230.1"/>
<polyline points="828.5,248 830.1,248.3"/>
<polyline points="897.5,222.6 899.1,222.9"/>
<polyline points="911.9,169.3 913.4,169.5"/>
<polyline points="910.6,177.1 912.1,177.3"/>
<polyline points="914.5,197.9 916,198.2"/>
<polyline points="915.8,186.2 917.3,186.4"/>
<polyline points="906.6,250 908.2,250.2"/>
<polyline points="359.4,278.4 360.7,284.9 359.4,290.2 360.7,294.1"/>
<polyline points="359.4,278.4 364.6,276.4 371.2,277.1 376.4,283 379.7,286.9 385.6,290.2 390.9,291.5 393.5,289.5 397.4,293.1 401.3,296.1 407.9,293.1 409.9,288.9 415.8,286.9 421,284.3 424.9,282.3 424.9,279.7 422.3,275.7"/>
<polyline points="404,271.8 407.9,271.2 415.8,273.1 421,271.8 422.3,269.2 418.4,266.6 419.7,264.6"/>
<polyline points="422.3,275.7 427.6,273.1 431.5,271.8 435.4,275.7 440.7,278.4 447.2,279.7 449.9,284.9 451.2,290.2 456.4,292.8 463,291.5 467,290.8"/>
<polyline points="337.1,304.6 343.7,305.9 350.2,303.3 356.8,300.7 360.7,295.4 367.3,295.4 372.5,300.7 376.4,308.5 379.1,313.8 380.4,321.6 381.7,330.8 382.3,338.7 383,347.9 384.3,350.5"/>
<polyline points="337.1,368.8 342.3,366.2 347.6,363.6 352.8,362.3 355.5,358.3 362,349.2 367.3,349.2 371.2,354.4 373.8,359.7 376.4,362.3 377.7,370.1 376.4,376.7 375.1,383.3 369.9,385.9 365.9,389.8 363.3,396.4 362,402.9 363.3,406.9 369.9,405.5 379.1,405.5 380.4,409.5 383,416 386.9,420 384.3,426.5 384.3,431.8 390.9,433.1 394.8,438.3 401.3,439.6 407.9,437 410.5,442.3 415.8,443.6 414.5,435.7 415.8,429.2 421,427.8"/>
<polyline points="337.1,350.5 343.7,351.8 350.2,354.4 355.5,358.3"/>
<polyline points="376.4,350.5 377.7,343.9 380.4,342.6 384.3,350.5 389.5,343.9 394.8,349.2 397.4,354.4 402.7,355.7 406.6,362.3 411.8,371.5 415.8,376.7 419.7,379.3 426.3,376.7 431.5,376 432.8,371.5 431.5,366.2 434.1,362.3 439.4,355.7 440.7,350.5 444.6,346.5 449.9,345.9 452.5,350.5 455.1,354.4 460.3,355.7 463,358.3 460.3,362.3 455.1,363.6 448.5,363.6 443.3,366.2 444.6,372.8 451.2,374.1 452.5,380.6 451.2,385.9 455.1,391.1 456.4,396.4 453.8,400.3 459,402.9 463,404.2 467,404.2"/>
<polyline points="421,427.8 426.3,423.9 431.5,426.5 436.7,423.9 442,422.6 447.2,423.9 452.5,421.3 457.7,418.7 463,416 467,416"/>
<polyline points="423.6,429.2 428.9,434.4 431.5,439.6 434.1,444.9 442,447.5 448.5,447.5 452.5,451.4 457.7,458 453.8,463.2 447.2,465.9 452.5,471.1 460.3,473.7 467,479"/>
<polyline points="407.9,439.6 402.7,442.3 397.4,447.5 394.8,452.8 398.7,460.6 405.3,464.6 410.5,465.9 410.5,473.7 407.9,481.6 407.9,489.5 410.5,492.1 415.8,486.8 422.3,484.2 428.9,485.5 434.1,481.6 439.4,479 444.6,480.3 449.9,485.5 455.1,490.8 456.4,501.3 459,507.8 463,511.8 467,515.7"/>
<polyline points="394.8,452.8 389.5,455.4 384.3,456.7 376.4,459.3 368.6,461.9 364.6,468.5 363.3,475 359.4,479 362,484.2 365.9,489.5 371.2,494.7 375.1,500 376.4,507.8 379.1,510.4 375.1,515.7 372.5,520.9 371.2,526.7"/>
<polyline points="337.1,514.4 342.3,511.8 347.6,507.8 351.5,505.2 354.1,497.3 356.8,501.3 360.7,507.8 363.3,514.4 364.6,520.9 364.6,526.7"/>
<polyline points="626.8,211.6 630.8,208.9 637.5,210.2 642.8,206.2 646.8,203.6 652.1,198.3 658.7,194.3 666.7,190.3 670.7,186.3 677.3,185 682.7,186.3 686.7,190.3 685.3,194.3 681.3,198.3 677.3,200.9 673.4,203.6 672,210.2 677.7,211.8"/>
<polyline points="677.7,211.8 678.7,208.9 686.7,206.2 694.6,203.6 702.6,200.9 713.8,199.3"/>
<polyline points="626.8,211.6 625.5,216.9 628.2,220.9 633.5,222.2 638.8,223.5 642.8,227.5 645.4,232.8 650.8,234.2 654.7,230.2 660.1,224.9 666.7,220.9 668,224.9 676,227.5 684,230.2 692,231.5 690.6,235.5 684,236.8 676,239.5 668,242.1 660.1,246.1 654.7,251.5 649.4,256.8 646.8,262.8"/>
<polyline points="628.2,220.9 620.2,223.5 614.9,226.2 606.9,230.2 601.6,234.2 596.2,239.5 594.9,243.5 596.2,250.1 590.9,256.8 588.3,262.8"/>
<polyline points="572.3,244.8 582.9,246.1 593.6,247.5 596.2,250.1"/>
<polyline points="597.6,195.6 601.6,190.3 609.5,185 613.5,183.6 620.2,189 622.8,193 617.5,196.9 620.2,199.6 614.9,202.3 606.9,202.9 600.2,201.6 597.6,198.3 597.6,195.6"/>
<polyline points="620.2,199.6 625.5,200.9 628.2,207.6 626.8,211.6"/>
<polyline points="626.8,211.6 622.8,216.9 617.5,215.6 614.9,211.6 614.9,207.6 620.2,206.2"/>
<polyline points="640.1,185 642.8,179.7 640.1,177"/>
<polyline points="713.8,199.3 715.9,196.9 721.2,193 726.5,189 731.9,185 737.2,182.3 742.5,179.7"/>
<polyline points="745.2,174.3 753.1,175.7 759.8,173 767.1,171.7"/>
<polyline points="745.2,219.5 753.1,216.9 761.1,216.9 767.1,215.6"/>
<polyline points="753.1,206.2 755.8,200.9 761.1,196.9 767.1,195.6"/>
<polyline points="588.3,260.1 594.9,255.4 601.6,251.5 606.9,248.8"/>
<polyline points="456.1,154.7 456.1,154.7"/>
<polyline points="456.1,231.2 463.7,227.3 468.8,223.5 472.7,215.9 472.7,210.8 476.5,206.9 482.9,205.7 485.4,209.5 480.3,213.3 479,218.4 481.6,221 489.2,223.5 490.5,228.6 489.2,233.7 481.6,235 479,238.8 481.6,243.9 484.1,249 481.6,254.1 479,256.6 477.8,261.7"/>
<polyline points="489.2,228 494.3,226.1 498.1,227.3 504.5,227.3 509.6,223.5 517.3,215.9 523.6,209.5 528.7,205.7 535.1,203.8 540.2,203.1 545.3,200.6 551.7,196.7 555.5,194.2 558,191.7 563.1,190.4 568.2,189.1 573.3,187.8 578.4,186.6"/>
<polyline points="489.2,233.7 491.8,237.5 500.7,240.1 507.1,242.6 508.3,249 507.1,255.4 507.1,261.7"/>
<polyline points="540.2,203.1 537.7,208.2 533.8,214.6 531.3,221 533.8,227.3 532.6,233.7 531.3,241.3 532.6,250.3 531.3,260.5 528.7,266.8 532.6,275.8 536.4,285.9"/>
<polyline points="578.4,186.6 577.2,191.7 582.2,192.9 578.4,196.7 581,203.1 577.2,208.2 573.3,214.6 577.2,221 578.4,228.6 574.6,236.3 570.8,241.3 573.3,246.4 572.1,254.1 569.5,261.7"/>
<polyline points="578.4,186.6 575.9,182.7 575.9,177.6 579.7,172.5 583.5,170 588.6,168.7 589.9,173.8 596.3,172.5 602.6,170 609,167.4 615.4,166.2 620.5,163.6 626.8,162.3 631.9,164.9 633.2,171.3 637,176.4 642.1,178.9 644.7,175.1 647.2,167.4 651.1,167.4 654.9,171.3 660,168.7 666.3,166.2 672.7,163.6 679.1,162.3 686.7,161.1"/>
<polyline points="570.8,242.6 578.4,245.2 588.6,247.7 595,249 600.1,250.3"/>
<polyline points="588.6,261.7 593.7,255.4 598.8,251.5 606.5,249"/>
</g>
<rect x="394.3" y="1727.7" width="426.9" height="183.9" fill="none" stroke="#000" stroke-width="3.6"/>
</g>
<rect x="79.1" y="1648.9" width="919.4" height="525.4" fill="none" stroke="#000" stroke-width="3.8"/>
<g stroke="#000" stroke-linecap="round"><line x1="69.2" y1="2161.1" x2="79.1" y2="2161.1" stroke-width="1.8"/><line x1="998.5" y1="2161.1" x2="1008.4" y2="2161.1" stroke-width="1.8"/><line x1="69.2" y1="2134.9" x2="79.1" y2="2134.9" stroke-width="1.8"/><line x1="998.5" y1="2134.9" x2="1008.4" y2="2134.9" stroke-width="1.8"/><line x1="60.2" y1="2108.6" x2="79.1" y2="2108.6" stroke-width="3.6"/><line x1="998.5" y1="2108.6" x2="1017.4" y2="2108.6" stroke-width="3.6"/><line x1="69.2" y1="2082.3" x2="79.1" y2="2082.3" stroke-width="1.8"/><line x1="998.5" y1="2082.3" x2="1008.4" y2="2082.3" stroke-width="1.8"/><line x1="69.2" y1="2056.1" x2="79.1" y2="2056.1" stroke-width="1.8"/><line x1="998.5" y1="2056.1" x2="1008.4" y2="2056.1" stroke-width="1.8"/><line x1="69.2" y1="2029.8" x2="79.1" y2="2029.8" stroke-width="1.8"/><line x1="998.5" y1="2029.8" x2="1008.4" y2="2029.8" stroke-width="1.8"/><line x1="69.2" y1="2003.5" x2="79.1" y2="2003.5" stroke-width="1.8"/><line x1="998.5" y1="2003.5" x2="1008.4" y2="2003.5" stroke-width="1.8"/><line x1="60.2" y1="1977.2" x2="79.1" y2="1977.2" stroke-width="3.6"/><line x1="998.5" y1="1977.2" x2="1017.4" y2="1977.2" stroke-width="3.6"/><line x1="69.2" y1="1951" x2="79.1" y2="1951" stroke-width="1.8"/><line x1="998.5" y1="1951" x2="1008.4" y2="1951" stroke-width="1.8"/><line x1="69.2" y1="1924.7" x2="79.1" y2="1924.7" stroke-width="1.8"/><line x1="998.5" y1="1924.7" x2="1008.4" y2="1924.7" stroke-width="1.8"/><line x1="69.2" y1="1898.4" x2="79.1" y2="1898.4" stroke-width="1.8"/><line x1="998.5" y1="1898.4" x2="1008.4" y2="1898.4" stroke-width="1.8"/><line x1="69.2" y1="1872.2" x2="79.1" y2="1872.2" stroke-width="1.8"/><line x1="998.5" y1="1872.2" x2="1008.4" y2="1872.2" stroke-width="1.8"/><line x1="60.2" y1="1845.9" x2="79.1" y2="1845.9" stroke-width="3.6"/><line x1="998.5" y1="1845.9" x2="1017.4" y2="1845.9" stroke-width="3.6"/><line x1="69.2" y1="1819.6" x2="79.1" y2="1819.6" stroke-width="1.8"/><line x1="998.5" y1="1819.6" x2="1008.4" y2="1819.6" stroke-width="1.8"/><line x1="69.2" y1="1793.4" x2="79.1" y2="1793.4" stroke-width="1.8"/><line x1="998.5" y1="1793.4" x2="1008.4" y2="1793.4" stroke-width="1.8"/><line x1="69.2" y1="1767.1" x2="79.1" y2="1767.1" stroke-width="1.8"/><line x1="998.5" y1="1767.1" x2="1008.4" y2="1767.1" stroke-width="1.8"/><line x1="69.2" y1="1740.8" x2="79.1" y2="1740.8" stroke-width="1.8"/><line x1="998.5" y1="1740.8" x2="1008.4" y2="1740.8" stroke-width="1.8"/><line x1="60.2" y1="1714.6" x2="79.1" y2="1714.6" stroke-width="3.6"/><line x1="998.5" y1="1714.6" x2="1017.4" y2="1714.6" stroke-width="3.6"/><line x1="69.2" y1="1688.3" x2="79.1" y2="1688.3" stroke-width="1.8"/><line x1="998.5" y1="1688.3" x2="1008.4" y2="1688.3" stroke-width="1.8"/><line x1="69.2" y1="1662" x2="79.1" y2="1662" stroke-width="1.8"/><line x1="998.5" y1="1662" x2="1008.4" y2="1662" stroke-width="1.8"/><line x1="79.1" y1="1639" x2="79.1" y2="1648.9" stroke-width="1.8"/><line x1="79.1" y1="2174.3" x2="79.1" y2="2184.2" stroke-width="1.8"/><line x1="210.4" y1="1639" x2="210.4" y2="1648.9" stroke-width="1.8"/><line x1="210.4" y1="2174.3" x2="210.4" y2="2184.2" stroke-width="1.8"/><line x1="341.8" y1="1630" x2="341.8" y2="1648.9" stroke-width="3.6"/><line x1="341.8" y1="2174.3" x2="341.8" y2="2193.2" stroke-width="3.6"/><line x1="473.1" y1="1639" x2="473.1" y2="1648.9" stroke-width="1.8"/><line x1="473.1" y1="2174.3" x2="473.1" y2="2184.2" stroke-width="1.8"/><line x1="604.5" y1="1639" x2="604.5" y2="1648.9" stroke-width="1.8"/><line x1="604.5" y1="2174.3" x2="604.5" y2="2184.2" stroke-width="1.8"/><line x1="735.8" y1="1630" x2="735.8" y2="1648.9" stroke-width="3.6"/><line x1="735.8" y1="2174.3" x2="735.8" y2="2193.2" stroke-width="3.6"/><line x1="867.1" y1="1639" x2="867.1" y2="1648.9" stroke-width="1.8"/><line x1="867.1" y1="2174.3" x2="867.1" y2="2184.2" stroke-width="1.8"/><line x1="998.5" y1="1639" x2="998.5" y2="1648.9" stroke-width="1.8"/><line x1="998.5" y1="2174.3" x2="998.5" y2="2184.2" stroke-width="1.8"/></g>
<text x="44.1" y="1723.3" font-size="25" text-anchor="end" textLength="42" lengthAdjust="spacingAndGlyphs">50N</text>
<text x="44.1" y="1854.6" font-size="25" text-anchor="end" textLength="42" lengthAdjust="spacingAndGlyphs">40N</text>
<text x="44.1" y="1986" font-size="25" text-anchor="end" textLength="42" lengthAdjust="spacingAndGlyphs">30N</text>
<text x="44.1" y="2117.3" font-size="25" text-anchor="end" textLength="42" lengthAdjust="spacingAndGlyphs">20N</text>
<text x="341.8" y="2226.6" font-size="25" text-anchor="middle">90E</text>
<text x="735.8" y="2226.6" font-size="25" text-anchor="middle">120E</text>
<text x="324" y="1618.6" font-size="40.5" font-weight="bold" textLength="429.2" lengthAdjust="spacingAndGlyphs">Trends of soil moisture</text>
<text x="-3" y="1634" font-size="84">e</text>
<rect x="132.4" y="2245.2" width="73.9" height="47.6" fill="#800000" stroke="#000" stroke-width="1.7"/>
<rect x="206.3" y="2245.2" width="73.9" height="47.6" fill="#e00000" stroke="#000" stroke-width="1.7"/>
<rect x="280.1" y="2245.2" width="73.9" height="47.6" fill="#ff6666" stroke="#000" stroke-width="1.7"/>
<rect x="354" y="2245.2" width="73.9" height="47.6" fill="#ffaaaa" stroke="#000" stroke-width="1.7"/>
<rect x="427.9" y="2245.2" width="73.9" height="47.6" fill="#ffdddd" stroke="#000" stroke-width="1.7"/>
<rect x="501.8" y="2245.2" width="73.9" height="47.6" fill="#ffffff" stroke="#000" stroke-width="1.7"/>
<rect x="575.6" y="2245.2" width="73.9" height="47.6" fill="#ddddff" stroke="#000" stroke-width="1.7"/>
<rect x="649.5" y="2245.2" width="73.9" height="47.6" fill="#aaaaff" stroke="#000" stroke-width="1.7"/>
<rect x="723.4" y="2245.2" width="73.9" height="47.6" fill="#6666ff" stroke="#000" stroke-width="1.7"/>
<rect x="797.2" y="2245.2" width="73.9" height="47.6" fill="#0000e0" stroke="#000" stroke-width="1.7"/>
<rect x="871.1" y="2245.2" width="73.9" height="47.6" fill="#000080" stroke="#000" stroke-width="1.7"/>
<text x="206.3" y="2324.2" font-size="25" text-anchor="middle" transform="translate(206.3,0) scale(0.66,1) translate(-206.3,0)">-0.05</text>
<text x="280.1" y="2324.2" font-size="25" text-anchor="middle" transform="translate(280.1,0) scale(0.66,1) translate(-280.1,0)">-0.02</text>
<text x="354" y="2324.2" font-size="25" text-anchor="middle" transform="translate(354,0) scale(0.66,1) translate(-354,0)">-0.01</text>
<text x="427.9" y="2324.2" font-size="25" text-anchor="middle" transform="translate(427.9,0) scale(0.66,1) translate(-427.9,0)">-0.005</text>
<text x="501.8" y="2324.2" font-size="25" text-anchor="middle" transform="translate(501.8,0) scale(0.66,1) translate(-501.8,0)">-0.002</text>
<text x="575.6" y="2324.2" font-size="25" text-anchor="middle" transform="translate(575.6,0) scale(0.66,1) translate(-575.6,0)">0.002</text>
<text x="649.5" y="2324.2" font-size="25" text-anchor="middle" transform="translate(649.5,0) scale(0.66,1) translate(-649.5,0)">0.005</text>
<text x="723.4" y="2324.2" font-size="25" text-anchor="middle" transform="translate(723.4,0) scale(0.66,1) translate(-723.4,0)">0.01</text>
<text x="797.2" y="2324.2" font-size="25" text-anchor="middle" transform="translate(797.2,0) scale(0.66,1) translate(-797.2,0)">0.02</text>
<text x="871.1" y="2324.2" font-size="25" text-anchor="middle" transform="translate(871.1,0) scale(0.66,1) translate(-871.1,0)">0.05</text>
</g>
<g id="panel-f">
<clipPath id="clipf"><rect x="1112.9" y="1648.9" width="919.4" height="525.4"/></clipPath>
<g clip-path="url(#clipf)">
<defs><pattern id="pff" patternUnits="userSpaceOnUse" x="1108.8" y="1645.6" width="8.2088" height="6.5670"><path d="M1.3 3.3h5.7M4.1 0.4v5.7" stroke="#000" stroke-width="1.1" fill="none"/></pattern><pattern id="phf" patternUnits="userSpaceOnUse" x="1108.8" y="1645.6" width="16.4175" height="13.1340"><path d="M1.3 3.3h5.7M4.1 0.4v5.7M9.5 9.9h5.7M12.3 7v5.7" stroke="#000" stroke-width="1.1" fill="none"/></pattern></defs><g><rect x="1108.8" y="1645.6" width="66.4" height="27" fill="#ffdddd"/><rect x="1207.3" y="1645.6" width="33.5" height="27" fill="#ffdddd"/><rect x="1371.5" y="1645.6" width="33.5" height="27" fill="#ffdddd"/><rect x="1732.7" y="1645.6" width="66.4" height="27" fill="#ddddff"/><rect x="1141.6" y="1671.9" width="33.5" height="27" fill="#ddddff"/><rect x="1174.5" y="1671.9" width="33.5" height="27" fill="#ffdddd"/><rect x="1207.3" y="1671.9" width="66.4" height="27" fill="#ddddff"/><rect x="1108.8" y="1698.2" width="164.9" height="27" fill="#ddddff"/><rect x="1371.5" y="1698.2" width="33.5" height="27" fill="#ddddff"/><rect x="1502.8" y="1698.2" width="33.5" height="27" fill="#ddddff"/><rect x="1568.5" y="1698.2" width="66.4" height="27" fill="#ddddff"/><rect x="1634.2" y="1698.2" width="33.5" height="27" fill="#aaaaff"/><rect x="1667" y="1698.2" width="33.5" height="27" fill="#ddddff"/><rect x="1864" y="1698.2" width="33.5" height="27" fill="#ddddff"/><rect x="1962.5" y="1698.2" width="33.5" height="27" fill="#ddddff"/><rect x="1108.8" y="1724.4" width="164.9" height="27" fill="#ddddff"/><rect x="1273" y="1724.4" width="33.5" height="27" fill="#ffdddd"/><rect x="1305.8" y="1724.4" width="66.4" height="27" fill="#ddddff"/><rect x="1371.5" y="1724.4" width="66.4" height="27" fill="#aaaaff"/><rect x="1437.1" y="1724.4" width="66.4" height="27" fill="#ddddff"/><rect x="1502.8" y="1724.4" width="66.4" height="27" fill="#aaaaff"/><rect x="1568.5" y="1724.4" width="33.5" height="27" fill="#ddddff"/><rect x="1601.3" y="1724.4" width="66.4" height="27" fill="#aaaaff"/><rect x="1667" y="1724.4" width="99.2" height="27" fill="#ddddff"/><rect x="1929.7" y="1724.4" width="33.5" height="27" fill="#ddddff"/><rect x="1108.8" y="1750.7" width="66.4" height="27" fill="#aaaaff"/><rect x="1174.5" y="1750.7" width="66.4" height="27" fill="#ddddff"/><rect x="1305.8" y="1750.7" width="33.5" height="27" fill="#aaaaff"/><rect x="1338.6" y="1750.7" width="33.5" height="27" fill="#ddddff"/><rect x="1371.5" y="1750.7" width="33.5" height="27" fill="#aaaaff"/><rect x="1404.3" y="1750.7" width="66.4" height="27" fill="#ddddff"/><rect x="1470" y="1750.7" width="66.4" height="27" fill="#aaaaff"/><rect x="1535.7" y="1750.7" width="33.5" height="27" fill="#6666ff"/><rect x="1568.5" y="1750.7" width="33.5" height="27" fill="#ffdddd"/><rect x="1601.3" y="1750.7" width="132" height="27" fill="#ddddff"/><rect x="1732.7" y="1750.7" width="66.4" height="27" fill="#aaaaff"/><rect x="1798.3" y="1750.7" width="33.5" height="27" fill="#ddddff"/><rect x="1831.2" y="1750.7" width="33.5" height="27" fill="#aaaaff"/><rect x="1108.8" y="1777" width="66.4" height="27" fill="#ffdddd"/><rect x="1338.6" y="1777" width="33.5" height="27" fill="#ddddff"/><rect x="1371.5" y="1777" width="33.5" height="27" fill="#aaaaff"/><rect x="1404.3" y="1777" width="66.4" height="27" fill="#ffaaaa"/><rect x="1470" y="1777" width="66.4" height="27" fill="#6666ff"/><rect x="1535.7" y="1777" width="66.4" height="27" fill="#aaaaff"/><rect x="1601.3" y="1777" width="33.5" height="27" fill="#ffdddd"/><rect x="1634.2" y="1777" width="33.5" height="27" fill="#6666ff"/><rect x="1667" y="1777" width="164.9" height="27" fill="#aaaaff"/><rect x="1831.2" y="1777" width="33.5" height="27" fill="#ddddff"/><rect x="1896.8" y="1777" width="33.5" height="27" fill="#ddddff"/><rect x="1240.1" y="1803.2" width="33.5" height="27" fill="#ffdddd"/><rect x="1273" y="1803.2" width="33.5" height="27" fill="#ddddff"/><rect x="1305.8" y="1803.2" width="33.5" height="27" fill="#aaaaff"/><rect x="1338.6" y="1803.2" width="33.5" height="27" fill="#6666ff"/><rect x="1371.5" y="1803.2" width="66.4" height="27" fill="#ffaaaa"/><rect x="1437.1" y="1803.2" width="33.5" height="27" fill="#ff6666"/><rect x="1470" y="1803.2" width="33.5" height="27" fill="#aaaaff"/><rect x="1502.8" y="1803.2" width="33.5" height="27" fill="#6666ff"/><rect x="1535.7" y="1803.2" width="33.5" height="27" fill="#aaaaff"/><rect x="1568.5" y="1803.2" width="99.2" height="27" fill="#6666ff"/><rect x="1667" y="1803.2" width="33.5" height="27" fill="#aaaaff"/><rect x="1699.8" y="1803.2" width="33.5" height="27" fill="#ddddff"/><rect x="1732.7" y="1803.2" width="66.4" height="27" fill="#aaaaff"/><rect x="1798.3" y="1803.2" width="33.5" height="27" fill="#ddddff"/><rect x="1141.6" y="1829.5" width="33.5" height="27" fill="#ffdddd"/><rect x="1174.5" y="1829.5" width="66.4" height="27" fill="#ddddff"/><rect x="1240.1" y="1829.5" width="33.5" height="27" fill="#aaaaff"/><rect x="1273" y="1829.5" width="99.2" height="27" fill="#6666ff"/><rect x="1371.5" y="1829.5" width="33.5" height="27" fill="#aaaaff"/><rect x="1404.3" y="1829.5" width="66.4" height="27" fill="#ffaaaa"/><rect x="1470" y="1829.5" width="33.5" height="27" fill="#aaaaff"/><rect x="1502.8" y="1829.5" width="99.2" height="27" fill="#6666ff"/><rect x="1601.3" y="1829.5" width="33.5" height="27" fill="#aaaaff"/><rect x="1634.2" y="1829.5" width="132" height="27" fill="#ddddff"/><rect x="1108.8" y="1855.8" width="33.5" height="27" fill="#ddddff"/><rect x="1141.6" y="1855.8" width="33.5" height="27" fill="#ffdddd"/><rect x="1174.5" y="1855.8" width="33.5" height="27" fill="#ddddff"/><rect x="1207.3" y="1855.8" width="99.2" height="27" fill="#aaaaff"/><rect x="1305.8" y="1855.8" width="33.5" height="27" fill="#ddddff"/><rect x="1338.6" y="1855.8" width="33.5" height="27" fill="#ffdddd"/><rect x="1371.5" y="1855.8" width="33.5" height="27" fill="#ddddff"/><rect x="1404.3" y="1855.8" width="66.4" height="27" fill="#ffdddd"/><rect x="1470" y="1855.8" width="66.4" height="27" fill="#ddddff"/><rect x="1535.7" y="1855.8" width="33.5" height="27" fill="#aaaaff"/><rect x="1568.5" y="1855.8" width="33.5" height="27" fill="#6666ff"/><rect x="1601.3" y="1855.8" width="33.5" height="27" fill="#aaaaff"/><rect x="1634.2" y="1855.8" width="33.5" height="27" fill="#ddddff"/><rect x="1141.6" y="1882" width="99.2" height="27" fill="#ddddff"/><rect x="1240.1" y="1882" width="33.5" height="27" fill="#aaaaff"/><rect x="1273" y="1882" width="66.4" height="27" fill="#ddddff"/><rect x="1338.6" y="1882" width="33.5" height="27" fill="#ffdddd"/><rect x="1371.5" y="1882" width="33.5" height="27" fill="#aaaaff"/><rect x="1404.3" y="1882" width="33.5" height="27" fill="#ddddff"/><rect x="1437.1" y="1882" width="33.5" height="27" fill="#ffdddd"/><rect x="1470" y="1882" width="66.4" height="27" fill="#ddddff"/><rect x="1568.5" y="1882" width="66.4" height="27" fill="#ddddff"/><rect x="1174.5" y="1908.3" width="164.9" height="27" fill="#ddddff"/><rect x="1338.6" y="1908.3" width="33.5" height="27" fill="#ffdddd"/><rect x="1207.3" y="1934.6" width="33.5" height="27" fill="#aaaaff"/><rect x="1240.1" y="1934.6" width="66.4" height="27" fill="#6666ff"/><rect x="1305.8" y="1934.6" width="66.4" height="27" fill="#ffdddd"/><rect x="1371.5" y="1934.6" width="33.5" height="27" fill="#ffaaaa"/><rect x="1207.3" y="1960.8" width="66.4" height="27" fill="#ddddff"/><rect x="1305.8" y="1960.8" width="99.2" height="27" fill="#ffdddd"/><rect x="1108.8" y="1987.1" width="33.5" height="27" fill="#aaaaff"/><rect x="1141.6" y="1987.1" width="33.5" height="27" fill="#ddddff"/><rect x="1338.6" y="1987.1" width="33.5" height="27" fill="#ffdddd"/><rect x="1108.8" y="2013.4" width="33.5" height="27" fill="#ddddff"/><rect x="1108.8" y="2039.6" width="33.5" height="27" fill="#ffdddd"/></g><rect x="1634.2" y="1724.4" width="32.8" height="26.3" fill="url(#pff)"/><rect x="1502.8" y="1750.7" width="65.7" height="26.3" fill="url(#pff)"/><rect x="1470" y="1777" width="65.7" height="26.3" fill="url(#pff)"/><rect x="1732.7" y="1777" width="65.7" height="26.3" fill="url(#pff)"/><rect x="1338.6" y="1829.5" width="32.8" height="26.3" fill="url(#pff)"/><rect x="1371.5" y="1724.4" width="65.7" height="26.3" fill="url(#phf)"/><rect x="1470" y="1724.4" width="98.5" height="26.3" fill="url(#phf)"/><rect x="1667" y="1724.4" width="32.8" height="26.3" fill="url(#phf)"/><rect x="1207.3" y="1750.7" width="32.8" height="26.3" fill="url(#phf)"/><rect x="1470" y="1750.7" width="32.8" height="26.3" fill="url(#phf)"/><rect x="1634.2" y="1750.7" width="32.8" height="26.3" fill="url(#phf)"/><rect x="1732.7" y="1750.7" width="65.7" height="26.3" fill="url(#phf)"/><rect x="1535.7" y="1777" width="32.8" height="26.3" fill="url(#phf)"/><rect x="1601.3" y="1777" width="65.7" height="26.3" fill="url(#phf)"/><rect x="1699.8" y="1777" width="32.8" height="26.3" fill="url(#phf)"/><rect x="1798.3" y="1777" width="65.7" height="26.3" fill="url(#phf)"/><rect x="1470" y="1803.2" width="65.7" height="26.3" fill="url(#phf)"/><rect x="1601.3" y="1803.2" width="65.7" height="26.3" fill="url(#phf)"/><rect x="1732.7" y="1803.2" width="65.7" height="26.3" fill="url(#phf)"/><rect x="1601.3" y="1829.5" width="32.8" height="26.3" fill="url(#phf)"/><rect x="1601.3" y="1855.8" width="32.8" height="26.3" fill="url(#phf)"/><rect x="1273" y="1934.6" width="32.8" height="26.3" fill="url(#phf)"/><rect x="1112.9" y="1987.1" width="28.7" height="26.3" fill="url(#phf)"/><path fill="none" stroke="#000" stroke-width="1.1" d="M1249.6 1655.5h5.7M1252.4 1652.6v5.7M1257.8 1662h5.7M1260.7 1659.2v5.7M1266 1655.5h5.7M1268.9 1652.6v5.7M1742.1 1655.5h5.7M1745 1652.6v5.7M1750.3 1662h5.7M1753.2 1659.2v5.7M1758.5 1655.5h5.7M1761.4 1652.6v5.7M1775 1655.5h5.7M1777.8 1652.6v5.7M1783.2 1662h5.7M1786 1659.2v5.7M1791.4 1655.5h5.7M1794.2 1652.6v5.7M1249.6 1681.7h5.7M1252.4 1678.9v5.7M1257.8 1688.3h5.7M1260.7 1685.5v5.7M1266 1681.7h5.7M1268.9 1678.9v5.7M1183.9 1708h5.7M1186.8 1705.2v5.7M1192.1 1714.6h5.7M1195 1711.7v5.7M1200.3 1708h5.7M1203.2 1705.2v5.7M1249.6 1708h5.7M1252.4 1705.2v5.7M1257.8 1714.6h5.7M1260.7 1711.7v5.7M1266 1708h5.7M1268.9 1705.2v5.7M1446.6 1708h5.7M1449.5 1705.2v5.7M1454.8 1714.6h5.7M1457.7 1711.7v5.7M1463 1708h5.7M1465.9 1705.2v5.7M1512.3 1708h5.7M1515.1 1705.2v5.7M1520.5 1714.6h5.7M1523.3 1711.7v5.7M1528.7 1708h5.7M1531.5 1705.2v5.7M1577.9 1708h5.7M1580.8 1705.2v5.7M1586.2 1714.6h5.7M1589 1711.7v5.7M1594.4 1708h5.7M1597.2 1705.2v5.7M1643.6 1708h5.7M1646.5 1705.2v5.7M1651.8 1714.6h5.7M1654.7 1711.7v5.7M1660 1708h5.7M1662.9 1705.2v5.7M1873.5 1714.6h5.7M1876.3 1711.7v5.7M1972 1708h5.7M1974.8 1705.2v5.7M1980.2 1714.6h5.7M1983 1711.7v5.7M1988.4 1708h5.7M1991.2 1705.2v5.7M1183.9 1734.3h5.7M1186.8 1731.4v5.7M1192.1 1740.8h5.7M1195 1738v5.7M1200.3 1734.3h5.7M1203.2 1731.4v5.7M1216.8 1734.3h5.7M1219.6 1731.4v5.7M1225 1740.8h5.7M1227.8 1738v5.7M1233.2 1734.3h5.7M1236 1731.4v5.7M1249.6 1734.3h5.7M1252.4 1731.4v5.7M1257.8 1740.8h5.7M1260.7 1738v5.7M1266 1734.3h5.7M1268.9 1731.4v5.7M1315.3 1734.3h5.7M1318.1 1731.4v5.7M1323.5 1740.8h5.7M1326.3 1738v5.7M1331.7 1734.3h5.7M1334.5 1731.4v5.7M1348.1 1734.3h5.7M1351 1731.4v5.7M1356.3 1740.8h5.7M1359.2 1738v5.7M1364.5 1734.3h5.7M1367.4 1731.4v5.7M1446.6 1734.3h5.7M1449.5 1731.4v5.7M1454.8 1740.8h5.7M1457.7 1738v5.7M1463 1734.3h5.7M1465.9 1731.4v5.7M1577.9 1734.3h5.7M1580.8 1731.4v5.7M1586.2 1740.8h5.7M1589 1738v5.7M1594.4 1734.3h5.7M1597.2 1731.4v5.7M1610.8 1734.3h5.7M1613.6 1731.4v5.7M1619 1740.8h5.7M1621.8 1738v5.7M1627.2 1734.3h5.7M1630.1 1731.4v5.7M1709.3 1734.3h5.7M1712.1 1731.4v5.7M1717.5 1740.8h5.7M1720.3 1738v5.7M1725.7 1734.3h5.7M1728.6 1731.4v5.7M1742.1 1734.3h5.7M1745 1731.4v5.7M1750.3 1740.8h5.7M1753.2 1738v5.7M1758.5 1734.3h5.7M1761.4 1731.4v5.7M1906.3 1734.3h5.7M1909.1 1731.4v5.7M1914.5 1740.8h5.7M1917.4 1738v5.7M1922.7 1734.3h5.7M1925.6 1731.4v5.7M1939.1 1734.3h5.7M1942 1731.4v5.7M1947.3 1740.8h5.7M1950.2 1738v5.7M1955.6 1734.3h5.7M1958.4 1731.4v5.7M1118.3 1760.5h5.7M1121.1 1757.7v5.7M1126.5 1767.1h5.7M1129.3 1764.3v5.7M1134.7 1760.5h5.7M1137.5 1757.7v5.7M1151.1 1760.5h5.7M1153.9 1757.7v5.7M1159.3 1767.1h5.7M1162.2 1764.3v5.7M1167.5 1760.5h5.7M1170.4 1757.7v5.7M1183.9 1760.5h5.7M1186.8 1757.7v5.7M1192.1 1767.1h5.7M1195 1764.3v5.7M1200.3 1760.5h5.7M1203.2 1757.7v5.7M1249.6 1760.5h5.7M1252.4 1757.7v5.7M1257.8 1767.1h5.7M1260.7 1764.3v5.7M1266 1760.5h5.7M1268.9 1757.7v5.7M1315.3 1760.5h5.7M1318.1 1757.7v5.7M1323.5 1767.1h5.7M1326.3 1764.3v5.7M1331.7 1760.5h5.7M1334.5 1757.7v5.7M1413.8 1760.5h5.7M1416.6 1757.7v5.7M1422 1767.1h5.7M1424.8 1764.3v5.7M1430.2 1760.5h5.7M1433 1757.7v5.7M1446.6 1760.5h5.7M1449.5 1757.7v5.7M1454.8 1767.1h5.7M1457.7 1764.3v5.7M1463 1760.5h5.7M1465.9 1757.7v5.7M1577.9 1760.5h5.7M1580.8 1757.7v5.7M1586.2 1767.1h5.7M1589 1764.3v5.7M1594.4 1760.5h5.7M1597.2 1757.7v5.7M1610.8 1760.5h5.7M1613.6 1757.7v5.7M1619 1767.1h5.7M1621.8 1764.3v5.7M1627.2 1760.5h5.7M1630.1 1757.7v5.7M1709.3 1760.5h5.7M1712.1 1757.7v5.7M1717.5 1767.1h5.7M1720.3 1764.3v5.7M1725.7 1760.5h5.7M1728.6 1757.7v5.7M1807.8 1760.5h5.7M1810.6 1757.7v5.7M1816 1767.1h5.7M1818.9 1764.3v5.7M1824.2 1760.5h5.7M1827.1 1757.7v5.7M1840.6 1760.5h5.7M1843.5 1757.7v5.7M1848.8 1767.1h5.7M1851.7 1764.3v5.7M1857 1760.5h5.7M1859.9 1757.7v5.7M1348.1 1786.8h5.7M1351 1784v5.7M1356.3 1793.4h5.7M1359.2 1790.5v5.7M1364.5 1786.8h5.7M1367.4 1784v5.7M1380.9 1786.8h5.7M1383.8 1784v5.7M1389.1 1793.4h5.7M1392 1790.5v5.7M1397.4 1786.8h5.7M1400.2 1784v5.7M1413.8 1786.8h5.7M1416.6 1784v5.7M1422 1793.4h5.7M1424.8 1790.5v5.7M1430.2 1786.8h5.7M1433 1784v5.7M1577.9 1786.8h5.7M1580.8 1784v5.7M1586.2 1793.4h5.7M1589 1790.5v5.7M1594.4 1786.8h5.7M1597.2 1784v5.7M1676.5 1786.8h5.7M1679.3 1784v5.7M1684.7 1793.4h5.7M1687.5 1790.5v5.7M1692.9 1786.8h5.7M1695.7 1784v5.7M1906.3 1786.8h5.7M1909.1 1784v5.7M1914.5 1793.4h5.7M1917.4 1790.5v5.7M1922.7 1786.8h5.7M1925.6 1784v5.7M1348.1 1813.1h5.7M1351 1810.2v5.7M1356.3 1819.6h5.7M1359.2 1816.8v5.7M1364.5 1813.1h5.7M1367.4 1810.2v5.7M1380.9 1813.1h5.7M1383.8 1810.2v5.7M1389.1 1819.6h5.7M1392 1816.8v5.7M1397.4 1813.1h5.7M1400.2 1810.2v5.7M1545.1 1813.1h5.7M1548 1810.2v5.7M1553.3 1819.6h5.7M1556.2 1816.8v5.7M1561.5 1813.1h5.7M1564.4 1810.2v5.7M1577.9 1813.1h5.7M1580.8 1810.2v5.7M1586.2 1819.6h5.7M1589 1816.8v5.7M1594.4 1813.1h5.7M1597.2 1810.2v5.7M1676.5 1813.1h5.7M1679.3 1810.2v5.7M1684.7 1819.6h5.7M1687.5 1816.8v5.7M1692.9 1813.1h5.7M1695.7 1810.2v5.7M1709.3 1813.1h5.7M1712.1 1810.2v5.7M1717.5 1819.6h5.7M1720.3 1816.8v5.7M1725.7 1813.1h5.7M1728.6 1810.2v5.7M1807.8 1813.1h5.7M1810.6 1810.2v5.7M1816 1819.6h5.7M1818.9 1816.8v5.7M1824.2 1813.1h5.7M1827.1 1810.2v5.7M1315.3 1839.3h5.7M1318.1 1836.5v5.7M1323.5 1845.9h5.7M1326.3 1843.1v5.7M1331.7 1839.3h5.7M1334.5 1836.5v5.7M1512.3 1839.3h5.7M1515.1 1836.5v5.7M1520.5 1845.9h5.7M1523.3 1843.1v5.7M1528.7 1839.3h5.7M1531.5 1836.5v5.7M1545.1 1839.3h5.7M1548 1836.5v5.7M1553.3 1845.9h5.7M1556.2 1843.1v5.7M1561.5 1839.3h5.7M1564.4 1836.5v5.7M1577.9 1839.3h5.7M1580.8 1836.5v5.7M1586.2 1845.9h5.7M1589 1843.1v5.7M1594.4 1839.3h5.7M1597.2 1836.5v5.7M1643.6 1839.3h5.7M1646.5 1836.5v5.7M1651.8 1845.9h5.7M1654.7 1843.1v5.7M1660 1839.3h5.7M1662.9 1836.5v5.7M1676.5 1839.3h5.7M1679.3 1836.5v5.7M1684.7 1845.9h5.7M1687.5 1843.1v5.7M1692.9 1839.3h5.7M1695.7 1836.5v5.7M1315.3 1865.6h5.7M1318.1 1862.8v5.7M1323.5 1872.2h5.7M1326.3 1869.3v5.7M1331.7 1865.6h5.7M1334.5 1862.8v5.7M1348.1 1865.6h5.7M1351 1862.8v5.7M1356.3 1872.2h5.7M1359.2 1869.3v5.7M1364.5 1865.6h5.7M1367.4 1862.8v5.7M1413.8 1865.6h5.7M1416.6 1862.8v5.7M1422 1872.2h5.7M1424.8 1869.3v5.7M1430.2 1865.6h5.7M1433 1862.8v5.7M1643.6 1865.6h5.7M1646.5 1862.8v5.7M1651.8 1872.2h5.7M1654.7 1869.3v5.7M1660 1865.6h5.7M1662.9 1862.8v5.7M1380.9 1891.9h5.7M1383.8 1889v5.7M1389.1 1898.4h5.7M1392 1895.6v5.7M1397.4 1891.9h5.7M1400.2 1889v5.7M1413.8 1891.9h5.7M1416.6 1889v5.7M1422 1898.4h5.7M1424.8 1895.6v5.7M1430.2 1891.9h5.7M1433 1889v5.7M1446.6 1891.9h5.7M1449.5 1889v5.7M1454.8 1898.4h5.7M1457.7 1895.6v5.7M1463 1891.9h5.7M1465.9 1889v5.7M1479.4 1891.9h5.7M1482.3 1889v5.7M1487.7 1898.4h5.7M1490.5 1895.6v5.7M1495.9 1891.9h5.7M1498.7 1889v5.7M1512.3 1891.9h5.7M1515.1 1889v5.7M1520.5 1898.4h5.7M1523.3 1895.6v5.7M1528.7 1891.9h5.7M1531.5 1889v5.7M1610.8 1891.9h5.7M1613.6 1889v5.7M1619 1898.4h5.7M1621.8 1895.6v5.7M1627.2 1891.9h5.7M1630.1 1889v5.7M1183.9 1918.1h5.7M1186.8 1915.3v5.7M1192.1 1924.7h5.7M1195 1921.9v5.7M1200.3 1918.1h5.7M1203.2 1915.3v5.7M1118.3 1951h5.7M1121.1 1948.1v5.7M1249.6 1951h5.7M1252.4 1948.1v5.7M1282.4 1970.7h5.7M1285.3 1967.8v5.7M1290.6 1977.2h5.7M1293.5 1974.4v5.7M1298.9 1970.7h5.7M1301.7 1967.8v5.7M1151.1 1997h5.7M1153.9 1994.1v5.7M1159.3 2003.5h5.7M1162.2 2000.7v5.7M1167.5 1997h5.7M1170.4 1994.1v5.7M1118.3 2023.2h5.7M1121.1 2020.4v5.7M1126.5 2029.8h5.7M1129.3 2026.9v5.7M1134.7 2023.2h5.7M1137.5 2020.4v5.7"/>
<g transform="translate(1112.9,1648.9)" fill="none" stroke="#000" stroke-width="2.3" stroke-linejoin="round" stroke-linecap="round">
<polyline points="1.7,275.3 10.1,270.2 16.5,263.8 21.6,260"/>
<polyline points="92.9,258.7 91.7,261.8 84,263.8 72.6,267.9 59.8,266.9 50.9,268.9 50.9,276.5 54.7,282.9 58.5,289.3 62.9,296.9 70,299 64.9,303.3 59.8,308.4 59.3,314.8 61.1,318.6 57.3,324.5 49.6,328.8 44.5,332.6 38.1,339 31.8,344.1 26.7,347.9 19,353 10.1,355 3.7,356.8 0.7,358.1"/>
<polyline points="1.7,378.5 7.6,387.4 12.7,396.3 14.4,401.4 11.4,405.2 6.3,411.6 3.2,419.3 1.7,426.9"/>
<polyline points="1.2,448.6 10.1,450.3 21.6,446.8 28.7,441.7 30.5,434.5 31.8,430 38.1,431 34.3,437.1 35.6,454.9 36.9,470.2 40.7,485.5 44.5,500.8 48.3,513.5 52.2,523.7"/>
<polyline points="103.1,258.7 109.5,264.3 113.8,271.4 116.4,276.5"/>
<polyline points="135,258.7 128.6,264.3 123.5,270.2 116.4,276.5"/>
<polyline points="116.4,276.5 115.9,280.4 112.1,286.7 110.3,294.4 113.8,299.5 115.4,309.7 121,312.2 128.6,317.3 136.3,321.1 142.6,325 146.5,327"/>
<polyline points="146.5,326.2 152.8,323.7 161.8,327.5 174.5,333.1 186,338.2 200,344.1 212.7,353.5 225.5,355.5 238.2,355.5 245.3,354.3 246.4,361.9 243.3,368.3 237.7,374.7 225.5,375.4 212.7,372.6 200,368.8 187.2,361.1 171.9,358.6 159.2,353.5 146.5,348.4 135,343.3 131.7,340.8 135.8,332.6 140.1,328 146.5,326.2"/>
<polyline points="245.3,354.3 253.5,355 263.7,351 273.9,353.5 284.1,355 287.9,358.1 290.4,365.7 288.7,368.8 276.4,369.8 263.7,370.8 250.9,368.8 248.4,364.5 246.4,361.9"/>
<polyline points="289.2,368.8 301.9,368.3 313.4,364.5 319.8,359.4 330,354.3 340.1,351.7 350.3,355.5 354.2,361.9 355.9,365.7"/>
<polyline points="237.7,374.7 240.8,376.4 247.1,375.4 250.9,377.2 257.3,378.5 259.9,386.1 262.4,391.2 276.4,391.2 291.7,393.3 294.3,396.3 286.6,405.2 279,410.3 280.3,418 284.1,419.3 289.2,411.6 293,414.2 294.3,424.4 295.5,434.5 296.8,442.2"/>
<polyline points="240.8,373.4 239.5,381 244.6,388.7 248.4,389.9 240.8,396.3 236.9,397.6 242,405.2 244.6,414.2 247.1,421.8 249.7,432 250.9,434.5"/>
<polyline points="133.7,523.7 149,505.9 161.8,498.3 174.5,488.1 189.8,475.3 207.6,462.6 217.8,457.5 221.6,447.3 222.9,440.2 235.7,434.5 240.8,437.1 250.9,434.5 263.7,432 273.9,425.6 281.5,424.9 285.4,428.2 289.2,437.1 294.3,447.3 301.9,456.2 309.6,462.6 313.4,472.8 318.5,480.4 321,493.2 319.2,511 326.1,513.5 335,511 345.2,503.4 351.6,494.4 355.4,498.3 359.3,505.9 363.1,513.5 365.6,523.7"/>
<polyline points="296.8,434.5 301.9,426.9 305.7,419.3 308.3,409.1 315.9,406.5 319.8,397.6 324.9,388.7 328.7,378.5 332.5,372.1 340.1,367 349.1,363.2 355.4,363.2"/>
<polyline points="477.1,264.6 479,267.9 481.7,271.8 479.7,275.7 480.4,281.6 475.8,281 471.2,283 469.2,284.9 470.5,288.2 467.9,290.2 464,290.8 460,292.8 456.1,293.4"/>
<polyline points="470.5,289.5 477.1,292.1 484.9,292.8 488.9,295.4 494.1,296.7 499.4,299.3 504.6,298.7 509.9,302 515.1,304.6 520.3,305.2 524.3,308.5 526.9,310.5 526.9,316.4 523,317.7 519,319 513.8,320.3 508.5,321 504.6,322.9 505.3,326.9 504.6,330.8 508.5,334.7 512.5,338.7 515.1,342.6"/>
<polyline points="517.7,285.6 524.3,285.6 529.5,286.2 538,285.6"/>
<polyline points="528.2,264.6 530.2,269.2 532.8,274.4 534.8,279.7 538,285.6 542.6,291.5 547.9,295.4 554.4,297.4 561,296.7 567.5,296.7 572.8,297.4 574.1,302 578,304.6 584.6,307.2 588.5,308.5 593.8,307.9 597.7,311.1 602.9,313.8 604.3,316.4 601.6,319 603.6,324.3 605.6,330.8"/>
<polyline points="518.4,286.2 521.7,288.2 526.2,290.8 527.6,293.1 523,294.1 519,296.1 520.3,300.7 520.3,304.6"/>
<polyline points="596.4,265.3 602.9,266.6 606.9,268.5 609.5,271.8 610.8,277.1 606.9,275.7 600.3,275.1 597.7,278.4 595.1,283.6 589.2,286.9 592.5,291.5 595.1,294.1 600.3,294.8 602.9,296.7 601.6,303.3 596.4,307.2"/>
<polyline points="610.8,266.6 613.4,269.8 620,273.1 626.6,275.7 630.5,279 630.5,283.6 633.1,287.5 638.4,291.5 642.3,289.5 645.6,291.5 644.9,294.8 641,295.4 637,298 635.1,303.3 637,307.2 638.4,311.1 642.3,312.5 648.8,313.8 652.8,312.5 658,315.1 662,316.4 668.5,315.1 679,316.4 681.6,317.7"/>
<polyline points="646.2,265.3 655.4,269.2 660.6,271.8 663.3,278.4 665.9,284.9 668.5,291.5 671.1,295.4 677.7,300.7 681.6,304.6 682.3,311.1 679.7,316.4"/>
<polyline points="658,302 663.3,301.3 668.5,303.3 676.4,305.9 681,309.2"/>
<polyline points="659.3,325.6 665.9,324.3 672.4,322.9 679,325.6 684.9,324.3"/>
<polyline points="684.9,321.6 683.2,330.8 679.7,337.4 676.6,343.9 672.7,350.5 668.8,355.7 663.5,361.2 658.3,367.5 653,371.7 652.8,379.6 650.2,384.8 643.9,390.1 637.3,395.3 630.7,400.6 624.2,405.8 617.6,412.1 611.1,416 604.5,418.9 598,421.5 590.1,422.9 582.2,426.8 577,428.1 571.7,425.2 569.1,429.2 563.9,431.8 558.6,434.4 550.8,437 541.6,439.9 535,442.5 531.1,445.1 529.5,447.8 531.5,451.7 532.1,455.4 529.5,458 525.6,458 523,454.1 521.7,448.8 523,442.3 524.3,438.6 520.3,439.9 517.7,441 511.2,439.6 507.2,437.3 500.7,438.6 495.4,441.2 491.5,443.8 486.3,447.8 482.3,450.4 478.4,454.3 475.8,458.3 473.1,460.9 470.5,464.8 468.6,471.4 469.2,475.3 473.1,479.2 478.4,483.2 481,489.7 484.9,495 490.5,500.2 493.1,506.8 498.3,510.7 504.9,515.9 508.5,520.9 511.2,526.7"/>
<polyline points="507.2,468.5 511.2,464.6 517.7,461.3 525.6,460 533.5,459.3 538,461.3 538.7,465.9 534.8,471.1 532.1,475 529.5,479 524.3,481.6 519,482.9 513.8,481.6 508.5,479 507.2,473.7 507.2,468.5"/>
<polyline points="456.1,475 462,477 464,481.6 467.9,488.2 470.5,492.1 475.8,497.3 479,502.6 481,506.5 484.9,510.4 488.9,514.4 491.5,519.6 494.8,526.7"/>
<polyline points="456.1,492.1 457.4,498.6 461.3,505.2 465.3,510.4 467.9,515.7 467.2,526.7"/>
<polyline points="456.1,418.7 461.3,416 466.6,417.3 470.5,421.3 475.8,421.3 481,422.6 482.3,429.2 484.3,434.4 490.2,437.7 495.4,437.7 505.9,435.1 512.5,438.3 519,439.6 523,439"/>
<polyline points="456.1,401.6 461.3,401 466.6,405.5 473.1,406.9 475.1,410.8 473.1,413.4 469.2,414.7 465.9,417.3 464,418"/>
<polyline points="515.1,338.7 517.7,334.7 524.3,333.4 532.1,332.1 534.8,328.2 541.3,328.2 547.9,330.8 554.4,333.4 561,332.1 564.9,334.1 570.2,330.8 572.8,334.7 574.1,340"/>
<polyline points="574.1,340 579.3,342.6 580.7,349.2 576.7,353.1 572.8,358.3 571.5,362.3 574.1,366.2 575.4,372.8 578,379.3 576.7,387.2 577.4,389.8"/>
<polyline points="515.1,338.7 515.8,343.9 515.8,350.5 517.7,358.3 515.1,362.3 509.9,366.2 513.8,368.8 517.7,368.8 519,372.8 517.7,376.7 519,380.6"/>
<polyline points="519,380.6 524.3,378.7 529.5,379.3 534.8,376.7 540,377.4 542.6,380.6 542.6,384.6 540,388.5 538,393.7 542.6,396.4 547.9,397.7 551.8,396.4 554.4,392.4 561,392.4 564.9,389.8 570.2,387.8 576.7,388.5 582,388.5 585.9,389.8 585.9,393.7 580.7,396.4 582,400.3 587.2,400.3 593.8,397.7 600.3,399"/>
<polyline points="579.3,338 587.2,336.1 593.8,334.1 600.3,330.8 605.6,330.8 612.1,328.2 614.7,332.1 620,330.8 623.9,333.4 631.8,334.7"/>
<polyline points="631.8,334.7 630.5,338.7 633.1,343.9 635.7,349.2 637,351.8 631.8,353.1 626.6,355.7 620,357 617.4,359.7 617.4,366.2 613.4,368.8 610.8,372.8 608.2,379.3 605.6,384.6 602.9,391.1 601.6,395.1 600.3,399"/>
<polyline points="637,351.8 639.7,358.3 642.3,362.3 647.5,361 652.8,363.6 658,363.6 660.6,364.9"/>
<polyline points="601.6,395.1 606.9,396.4 613.4,397.7 616.1,402.9 618.7,410.8"/>
<polyline points="553.1,397.7 551.8,402.9 547.9,409.5 543.9,414.7 542.6,421.3 537.4,425.2 534.8,429.2 530.8,431.8 526.9,434.4 524.3,437"/>
<polyline points="519,380.6 512.5,383.3 508.5,385.9 503.3,387.2 499.4,389.8 494.1,391.1 490.2,388.5 486.9,386.5 484.9,389.8 482.3,391.1 474.5,393.7 471.8,396.4 466.6,395.1 461.3,393.7 456.1,391.1"/>
<polyline points="462.7,334.1 467.9,326.9 471.8,324.3 478.4,325.6 483.6,326.9 487.6,322.9 491.5,317.7 495.4,316.4 498.1,313.8 500.7,309.8 504.6,305.9"/>
<polyline points="462.7,334.1 466.6,340 470.5,343.9 475.8,347.9 482.3,346.5 486.3,343.9 490.2,342.6 494.1,340 498.1,340.6 502,341.3 505.9,347.9 509.9,351.8 513.8,351.8 515.8,350.5"/>
<polyline points="456.1,355.7 460,354.4 462.7,357 461.3,361 456.1,362.3"/>
<polyline points="658,414.7 662,406.9 668.5,397.7 673.8,392.4 679,389.8 682.9,393.7 681.6,400.3 679,409.5 676.4,418.7 672.4,426.5 668.5,431.8 667.2,434.4 664.6,429.2 660.6,426.5 658.7,421.3 658,414.7"/>
<polyline points="656.7,526.7 654.7,519.6 654.1,511.8 656.7,507.8 660.6,510.4 662,505.2 663.3,494.7 664.6,481.6 668.5,477.7 673.8,479 679,480.3 686.1,481.6"/>
<polyline points="676.4,526.7 679,519.6 686.1,514.4"/>
<polyline points="724.1,274.4 732,271.8 738.5,269.8 745.1,266.8 754.3,264.2 764.8,261.6 777.9,258.7"/>
<polyline points="733.3,273.1 735.9,267.9 741.2,263.9"/>
<polyline points="737.2,284.9 741.2,282.3 747.1,282 747.7,284.3 742.5,286.2 737.2,284.9"/>
<polyline points="780.5,284.9 788.4,282.3 794.9,278.4 800.2,275.7 804.1,278.4 809.3,283.6 813.3,288.9 810.7,294.1 808,300.7 806.7,308.5 801.5,312.5 796.2,315.1 791,311.1 789.7,302 787.1,296.7 783.1,291.5 780.5,284.9"/>
<polyline points="770,294.1 773.9,290.2 777.9,286.2"/>
<polyline points="798.9,270.5 804.1,269.2 810.7,266.6 817.2,262.6 822.5,258.7"/>
<polyline points="798.9,273.1 804.1,275.7 810.7,277.1 817.2,273.1 823.8,270.5 832.9,269.2 843.4,266.6 850,265.3 856.6,266.6 859.2,269.2"/>
<polyline points="817.2,284.9 821.1,278.4 830.3,275.7 836.9,274.4 843.4,271.8 848.7,273.1 850,277.1 843.4,281 842.1,284.9 836.9,283.6 830.3,284.9 827.7,291.5 823.8,292.8 819.8,288.9 817.2,284.9"/>
<polyline points="856.6,266.6 856.6,274.4 861.8,282.3 864.4,281 869.7,274.4 872.3,271.8 877.5,270.5 880.2,267.9 888,266.6 895.9,266.6 901.1,262.6 906.4,261.3 911.6,258.7"/>
<polyline points="874.9,263.9 877.5,261.3 880.2,263.9"/>
<polyline points="783.6,305.9 785.2,306.2"/>
<polyline points="779.7,313.8 781.3,314"/>
<polyline points="786.3,317.7 787.8,318"/>
<polyline points="794.1,320.3 795.7,320.6"/>
<polyline points="800.7,319 802.3,319.3"/>
<polyline points="785,329.5 786.5,329.8"/>
<polyline points="782.3,334.7 783.9,335"/>
<polyline points="777.1,338.7 778.7,338.9"/>
<polyline points="774.5,343.9 776,344.2"/>
<polyline points="782.3,349.2 783.9,349.4"/>
<polyline points="786.9,350.5 788.5,350.7"/>
<polyline points="777.1,353.1 778.7,353.4"/>
<polyline points="773.2,358.3 774.7,358.6"/>
<polyline points="769.2,362.3 770.8,362.5"/>
<polyline points="764,356.4 765.6,356.6"/>
<polyline points="764,367.5 765.6,367.8"/>
<polyline points="760,372.8 761.6,373"/>
<polyline points="757.4,378 759,378.3"/>
<polyline points="750.9,378 752.4,378.3"/>
<polyline points="744.3,375.4 745.9,375.7"/>
<polyline points="702.4,383.3 703.9,383.5"/>
<polyline points="715.5,381.9 717,382.2"/>
<polyline points="694.5,401 696.1,401.2"/>
<polyline points="705,402.9 706.6,403.2"/>
<polyline points="711.5,400.3 713.1,400.6"/>
<polyline points="717.4,397.7 719,397.9"/>
<polyline points="726,396.4 727.5,396.6"/>
<polyline points="803.3,382.6 804.9,382.9"/>
<polyline points="802.7,401 804.2,401.2"/>
<polyline points="866.9,454.1 868.5,454.3"/>
<polyline points="765.3,302 766.9,302.2"/>
<polyline points="723.3,275.1 724.9,275.4"/>
<polyline points="727.3,273.1 728.8,273.4"/>
<polyline points="777.1,270.5 778.7,270.8"/>
<polyline points="779.7,267.9 781.3,268.1"/>
<polyline points="908.2,271.8 909.8,272.1"/>
<polyline points="910.8,275.7 912.4,276"/>
<polyline points="913.5,282.3 915,282.6"/>
<polyline points="12.8,2.5 15.4,4.5 13.5,8.3 16.7,10.3 21.8,9 27,8.3 30.8,11.5 34.7,12.8 39.8,12.2 45,13.5 48.9,12.8 45,16.7 43.7,19.9 50.1,19.3 56.6,19.3 63,15.4 68.2,12.8 73.3,10.9 79.7,9 86.2,7.7 91.3,7 90,9 84.9,10.3 83.6,11.5 88.7,14.1 96.5,18 102.9,21.8 108,27 114.5,34.7 120.9,43.7 126.1,50.1 131.2,55.3 135.1,52.7 137.6,49.5 141.5,48.9 144.1,50.1 146.6,52.7 150.5,55.3 156.9,55.9 163.4,55.3 169.8,52.7 176.2,52.7 182.7,55.3 186.5,59.1 189.1,61.7 194.3,63 198.1,66.9 200.7,70.1 208.4,70.7 214.8,69.4 218.7,68.2 221.3,70.7 223.8,73.3 227.1,75.9"/>
<polyline points="227.1,78.4 222.6,79.7 220,82.3 214.8,84.9 207.1,86.2 204.5,91.3 205.8,97.7 204.5,101.6 199.4,102.9 194.3,105.5 189.1,104.2 178.8,104.2 172.4,102.9 171.1,108 168.5,114.5 164.7,120.9 162.1,124.8 165.9,126.1 163.4,128.6 156.9,127.3 150.5,128.6 144.1,129.9 137.6,131.2 131.2,131.2 128.6,132.5 135.1,135.1 136.3,140.2 137.6,145.4 138.9,150.5 141.5,155.6 137.6,158.2 136.3,163.4 133.8,165.9 135.1,168.5 131.2,169.8 122.2,172.4 114.5,175 108,178.8 104.2,182.7 96.5,184 90,185.2 86.2,189.1 83.6,191.7 79.7,189.1 73.3,187.8 68.2,189.1 63,190.4 56.6,193 51.4,195.5 50.1,199.4 48.9,204.5 48.9,208.4 51.4,213.6 55.3,214.8 60.4,214.8 63,217.4 64.3,222.6 66.2,227.7 68.2,230.3 63,231.6"/>
<polyline points="45,119.6 47.6,114.5 52.7,111.9 60.4,109.3 68.2,108 78.4,107.4 86.2,108 93.9,108.7 101.6,109.3 109.3,109.3 115.8,108 120.9,109.3 119.6,111.9 111.9,113.2 105.5,113.2 96.5,111.9 86.2,111.3 75.9,110.6 68.2,110.6 60.4,111.9 56.6,114.5 54,119.6 52.7,124.8 53.4,131.2 50.1,128.6 46.3,124.8 45,119.6"/>
<polyline points="1.2,175 7.7,168.5 12.8,162.1 19.3,159.5 28.3,159.5 36,162.1 43.7,163.4 46.3,158.2 50.1,155.6 55.3,154.4 63,156.9 68.2,158.9 75.9,158.9 83.6,158.2 91.3,157.6 99,158.2 106.8,158.9 114.5,158.9 120.9,160.2 126.1,162.7 131.2,164.7 134.4,167.2"/>
<polyline points="1.2,176.2 9,177.5 15.4,178.8 21.8,176.2 25.7,177.5 29.6,180.1 34.7,182.7 41.1,185.2 36,186.5 30.8,187.8 25.7,190.4 21.8,193 15.4,193 9,191.7 3.8,190.4 1.2,186.5"/>
<polyline points="1.2,202 9,202.6 15.4,203.3 21.8,204.5 28.3,207.1 34.7,205.8 41.1,203.3 48.9,203.3"/>
<polyline points="1.2,221.3 6.4,217.4 11.5,216.1 15.4,217.4 18,220 19.3,227.7 20.5,234.1 21.8,238 28.3,235.4 34.7,232.9 42.4,231.6 47.6,230.9 54,231.6 60.4,231.6 65.6,232.9"/>
<polyline points="15.4,250.9 21.8,247 29.6,244.4 37.3,241.9 45,240.6 52.7,240.6 60.4,241.9 68.2,243.1 73.3,244.4 78.4,248.3 81,253.4 86.2,257.3 91.3,259.9"/>
<polyline points="19.3,252.2 20.5,259.9"/>
<polyline points="135.1,259.9 142.8,257.3 150.5,256 158.2,253.4 164.7,252.2 171.1,253.4 178.8,252.2 186.5,249.6 194.3,247 202,245.7 208.4,244.4 214.8,243.1 221.3,241.9 227.1,241.2"/>
<polyline points="226.1,76.5 232.5,75.9 239,73.3 245.4,72 251.8,70.7 257,68.2 258.3,66.2 264.7,64.3 271.1,61.7 273.7,59.1 280.1,57.9 285.3,55.9 293,54.6 298.2,55.9 303.3,57.2 311,57.9 318.7,57.9 321.3,61.7 323.9,64.3 329,66.2 336.8,66.2 344.5,66.2 349.6,66.2 357.3,68.2 362.5,66.9 367.6,64.3 371.5,60.4 371.5,56.6 367.6,54 365.1,51.4 366.3,47.6 370.2,43.7 375.4,41.1 379.2,37.3 385.6,39.8 393.4,41.8 401.1,43.1 408.8,45 416.5,46.3 421.7,47.6 423,52.7 424.3,56.6 428.1,59.1 434.5,61.1 442.3,63 447.4,61.7 452.6,60.4 457.1,59.1"/>
<polyline points="457.1,41.1 447.4,42.4 442.3,43.7 447.4,45.3 457.1,45.6"/>
<polyline points="232.5,78.4 233.8,81 239,84.9 245.4,88.7 251.8,91.3 258.3,93.2 263.4,95.2 267.3,99 271.1,102.9 275,106.8 276.3,111.9 274.4,117 272.4,122.2 273.7,127.3 280.1,129.3 290.4,130.6 300.7,131.2 307.2,132.5 313.6,134.4 318.7,137 326.5,139.6 332.9,140.9 335.5,144.1 339.3,150.5 343.2,156.9 347,160.8"/>
<polyline points="347,160.8 354.8,160.8 367.6,161.4 380.5,162.1 393.4,162.1 406.2,162.7 416.5,164.7 424.3,167.2 432,169.8 439.7,171.7 447.4,172.4 457.1,173"/>
<polyline points="347,160.8 341.9,163.4 340.6,169.8 335.5,172.4 326.5,173.7 320,177.5 316.2,181.4 312.3,185.2 311,189.1 305.9,190.4 300.7,191.7 299.4,199.4 300.7,205.8"/>
<polyline points="356.1,162.1 359.9,168.5 363.8,175 366.3,178.8 365.1,181.4 367.6,185.2 371.5,186.5 372.8,189.1 377.9,186.5 384.4,185.2 390.8,184 394.7,185.2 395.9,189.1 392.1,193 388.2,196.8 393.4,199.4 398.5,200.7 403.7,203.3 406.2,207.1 408.8,209.7 412.7,211 417.8,209.7 425.5,208.4 432,207.1 439.7,205.8 444.8,204.5 447.4,207.1 446.1,212.3 442.3,214.8 439.7,218.7 444.8,222.6 450,226.4 457.1,227.7"/>
<polyline points="264.7,217.4 277.6,213.6 290.4,211 303.3,208.4 309.7,207.1 318.7,205.8 329,208.4 336.8,212.3 345.8,216.1 353.5,218.7 354.8,212.3 357.3,208.4 362.5,209.7 367.6,211 374.1,209.7 380.5,212.3 386.9,214.8 393.4,217.4 395.9,216.1 401.1,220 406.2,222.6 411.4,225.1 416.5,227.7 419.1,226.4 421.7,231.6 426.8,235.4 429.4,238 432,243.1 430.7,248.3 426.8,253.4 425.5,259.9"/>
<polyline points="264.7,217.4 267.3,221.3 271.1,225.1 275,227.7 277.6,231.6 280.1,235.4 275,236.7 273.7,240.6 275,245.7 272.4,247 264.7,245.7 257,247 249.3,247.6 239,245.7 226.1,248.3"/>
<polyline points="255.7,249.6 258.3,259.9"/>
<polyline points="456.1,41.1 462.5,38.6 469,34.7 475.4,32.1 481.8,27 489.6,21.8 497.3,19.3 503.7,14.1 507.6,9 510.1,3.8 511.4,1.2"/>
<polyline points="456.1,46.9 463.8,45 471.5,42.4 476.7,37.3 481.8,33.4 489.6,29.6 497.3,25.7 505,21.8 510.1,18 516.6,14.1 519.1,10.3 519.8,5.1 521.1,1.2"/>
<polyline points="483.1,26.3 489.6,23.1 496,21.2"/>
<polyline points="456.1,60.4 462.5,59.1 469,59.8 479.3,60.4 485.7,63 496,65.6 499.8,70.7 507.6,73.9 517.9,74.6 524.3,75.9 530.7,75.2 539.7,73.3 548.7,72 559,70.7 565.5,68.2 571.9,64.3 578.3,62.4 584.8,61.7 591.2,64.3 597.6,66.9 605.4,65.6 611.8,66.9 618.2,69.4 627.2,70.7 633.7,68.2 638.8,65.6 644,64.3 647.8,61.7"/>
<polyline points="647.8,61.7 649.1,56.6 653,51.4 658.1,46.3 662,42.4 665.8,38.6 665.8,33.4 662,30.8 657.5,29.6 662,25.7 668.4,21.8 677.4,20.5 687.1,19.3"/>
<polyline points="672.3,30.8 677.4,32.8 682.6,34.7 687.1,33.4"/>
<polyline points="456.1,175 469,169.8 481.8,165.9 494.7,163.4 507.6,162.1 517.9,159.5 528.2,155.6 535.9,151.8 543.6,149.2 551.3,145.4 548.7,141.5 544.9,137.6 546.2,132.5 551.3,129.9 559,131.2 566.8,133.8 574.5,132.5 582.2,128.6 592.5,124.8 598.9,123.5 604.1,120.9 607.9,117 613.1,113.2 619.5,110.6 627.2,109.3 636.2,107.8 644,106.8 649.1,108 653,106.8 654.3,102.9 651.7,99 646.5,96.5 641.4,93.9 636.2,92 631.1,91.3 625.9,92.6 620.8,96.5 613.1,95.2 606.6,96.5 601.5,95.2 597.6,91.3 598.9,86.2 602.8,83.6 605.4,78.4 607.9,73.3 611.8,66.9"/>
<polyline points="686.1,19.5 693.9,18.9 703,19.5 712.1,22.1 721.3,23.4 729.1,25.4 735.6,28.6 739.5,33.9 743.4,41.7 748.6,49.5 752.5,57.3 755.1,65.1 759,69 766.8,71 777.2,72.3 785,75.5 792.9,79.4 796.8,82 796.8,87.2 800.7,95 809.8,95 820.2,94.4 826.7,91.1 835.8,88.5 842.3,87.2 848.8,87.2 850.1,93.7 846.2,99 842.3,101.6 839.7,109.4 837.1,115.9 831.9,122.4 828,127.6 824.1,132.8 820.2,135.4 816.3,131.5 815,127.6 816.3,126.3 821.5,126.3 824.1,128.9"/>
<polyline points="815,126.9 811.1,127.6 807.2,130.2 800.7,132.8 802,139.3 803.3,145.8 804.6,152.3 800.7,156.2"/>
<polyline points="792.9,162.7 798.1,158.8 805.9,156.2 813.7,154.9 818.9,153.6 822.8,160.1 829.3,161.4 838.4,158.8 846.2,154.9 855.4,149.7 860.6,144.5 868.4,136.7 876.2,130.2 884,123.7 891.8,117.2 897,110.7 902.2,102.9 907.4,95 912.6,89.8 921.1,85.9"/>
<polyline points="686.1,32.6 691.3,35.2 692.6,40.4 695.2,47.5 703,48.8 712.1,47.5 718.6,45.6 725.2,44.3 730.4,47.5 735.6,52.1 731.7,57.3 727.8,61.2 725.2,66.4 724.5,71.6 725.2,76.2 717.3,82 714.7,85.9 715.4,89.8 712.1,87.2 708.2,88.5 701.7,92.4 693.9,96.3 688.7,99 687.4,101.6 691.3,102.9 696.5,105.5 699.1,109.4 696.5,112"/>
<polyline points="699.1,108.1 703,110.7 706.9,115.9 708.2,121.1 714.7,123.7 722.6,125 730.4,126.3 735.6,128.9 744.7,128.9 751.2,135.4 759,143.2 765.5,138 769.4,143.2 774.6,149.7 783.7,145.8 790.3,144.5 794.2,149.7 800.7,151 804.6,152.3"/>
<polyline points="761.7,171.2 756.4,175.8 751.2,175.8 746,173.2 740.8,175.8 735.6,178.4 730.4,182.3 725.2,186.2 720,191.4 716,196.6 714,199.6"/>
<polyline points="761.7,171.2 764.2,168 770.7,168 777.2,165.4 782.4,162.7 786.3,158.8 791.6,160.1 796.8,161.4 800.7,156.2"/>
<polyline points="686.1,204.4 693.9,202.5 703,199.2 709.5,198.6 714,199.6 718.6,201.8 723.9,204.4 729.1,209.6 727.8,216.1 721.3,221.3 718.6,225.2 725.2,229.1 733,230.4 740.8,229.1 743.4,233.1 742.1,240.9 739.5,250 740.8,259.7"/>
<polyline points="800.7,156.2 796.8,162.7 790.3,165.4 785,169.3 783.7,175.8 782.4,181 777.2,184.9 772,188.8 764.2,192.7 757.7,196.6 753.8,199.2 755.1,207 759,210.9 764.2,214.8 766.8,220 772,225.2 777.2,230.4 779.8,237 781.8,243.5 782.4,251.3 779.8,259.7"/>
<polyline points="742.1,220 747.3,217.4 756.4,216.1 764.2,214.8"/>
<polyline points="686.1,158.8 693.9,156.2 703,152.3 712.1,154.9 718.6,154.9 723.9,161.4 727.8,169.3 731,178.4 729.1,183.6"/>
<polyline points="855.4,2.6 863.2,3.9 871,3.9 876.2,7.8 876.2,15.6 882.7,15.6 885.3,18.2 894.4,18.2 900.9,14.3 904.8,9.1 910,9.1 917.8,7.8"/>
<polyline points="894.4,223.9 899.6,220 907.4,217.4 913.9,212.2 917.8,207"/>
<polyline points="874.9,233.1 878.8,230.4 884,229.1 889.2,230.4 894.4,227.8 900.9,225.2 907.4,221.3"/>
<polyline points="821.5,259.7 829.3,255.2 839.7,253.9 850.1,252.6 859.3,251.3 865.8,246.1 871,240.9 874.9,235.7 876.2,231.8"/>
<polyline points="798.6,229.8 800.1,230.1"/>
<polyline points="828.5,248 830.1,248.3"/>
<polyline points="897.5,222.6 899.1,222.9"/>
<polyline points="911.9,169.3 913.4,169.5"/>
<polyline points="910.6,177.1 912.1,177.3"/>
<polyline points="914.5,197.9 916,198.2"/>
<polyline points="915.8,186.2 917.3,186.4"/>
<polyline points="906.6,250 908.2,250.2"/>
<polyline points="359.4,278.4 360.7,284.9 359.4,290.2 360.7,294.1"/>
<polyline points="359.4,278.4 364.6,276.4 371.2,277.1 376.4,283 379.7,286.9 385.6,290.2 390.9,291.5 393.5,289.5 397.4,293.1 401.3,296.1 407.9,293.1 409.9,288.9 415.8,286.9 421,284.3 424.9,282.3 424.9,279.7 422.3,275.7"/>
<polyline points="404,271.8 407.9,271.2 415.8,273.1 421,271.8 422.3,269.2 418.4,266.6 419.7,264.6"/>
<polyline points="422.3,275.7 427.6,273.1 431.5,271.8 435.4,275.7 440.7,278.4 447.2,279.7 449.9,284.9 451.2,290.2 456.4,292.8 463,291.5 467,290.8"/>
<polyline points="337.1,304.6 343.7,305.9 350.2,303.3 356.8,300.7 360.7,295.4 367.3,295.4 372.5,300.7 376.4,308.5 379.1,313.8 380.4,321.6 381.7,330.8 382.3,338.7 383,347.9 384.3,350.5"/>
<polyline points="337.1,368.8 342.3,366.2 347.6,363.6 352.8,362.3 355.5,358.3 362,349.2 367.3,349.2 371.2,354.4 373.8,359.7 376.4,362.3 377.7,370.1 376.4,376.7 375.1,383.3 369.9,385.9 365.9,389.8 363.3,396.4 362,402.9 363.3,406.9 369.9,405.5 379.1,405.5 380.4,409.5 383,416 386.9,420 384.3,426.5 384.3,431.8 390.9,433.1 394.8,438.3 401.3,439.6 407.9,437 410.5,442.3 415.8,443.6 414.5,435.7 415.8,429.2 421,427.8"/>
<polyline points="337.1,350.5 343.7,351.8 350.2,354.4 355.5,358.3"/>
<polyline points="376.4,350.5 377.7,343.9 380.4,342.6 384.3,350.5 389.5,343.9 394.8,349.2 397.4,354.4 402.7,355.7 406.6,362.3 411.8,371.5 415.8,376.7 419.7,379.3 426.3,376.7 431.5,376 432.8,371.5 431.5,366.2 434.1,362.3 439.4,355.7 440.7,350.5 444.6,346.5 449.9,345.9 452.5,350.5 455.1,354.4 460.3,355.7 463,358.3 460.3,362.3 455.1,363.6 448.5,363.6 443.3,366.2 444.6,372.8 451.2,374.1 452.5,380.6 451.2,385.9 455.1,391.1 456.4,396.4 453.8,400.3 459,402.9 463,404.2 467,404.2"/>
<polyline points="421,427.8 426.3,423.9 431.5,426.5 436.7,423.9 442,422.6 447.2,423.9 452.5,421.3 457.7,418.7 463,416 467,416"/>
<polyline points="423.6,429.2 428.9,434.4 431.5,439.6 434.1,444.9 442,447.5 448.5,447.5 452.5,451.4 457.7,458 453.8,463.2 447.2,465.9 452.5,471.1 460.3,473.7 467,479"/>
<polyline points="407.9,439.6 402.7,442.3 397.4,447.5 394.8,452.8 398.7,460.6 405.3,464.6 410.5,465.9 410.5,473.7 407.9,481.6 407.9,489.5 410.5,492.1 415.8,486.8 422.3,484.2 428.9,485.5 434.1,481.6 439.4,479 444.6,480.3 449.9,485.5 455.1,490.8 456.4,501.3 459,507.8 463,511.8 467,515.7"/>
<polyline points="394.8,452.8 389.5,455.4 384.3,456.7 376.4,459.3 368.6,461.9 364.6,468.5 363.3,475 359.4,479 362,484.2 365.9,489.5 371.2,494.7 375.1,500 376.4,507.8 379.1,510.4 375.1,515.7 372.5,520.9 371.2,526.7"/>
<polyline points="337.1,514.4 342.3,511.8 347.6,507.8 351.5,505.2 354.1,497.3 356.8,501.3 360.7,507.8 363.3,514.4 364.6,520.9 364.6,526.7"/>
<polyline points="626.8,211.6 630.8,208.9 637.5,210.2 642.8,206.2 646.8,203.6 652.1,198.3 658.7,194.3 666.7,190.3 670.7,186.3 677.3,185 682.7,186.3 686.7,190.3 685.3,194.3 681.3,198.3 677.3,200.9 673.4,203.6 672,210.2 677.7,211.8"/>
<polyline points="677.7,211.8 678.7,208.9 686.7,206.2 694.6,203.6 702.6,200.9 713.8,199.3"/>
<polyline points="626.8,211.6 625.5,216.9 628.2,220.9 633.5,222.2 638.8,223.5 642.8,227.5 645.4,232.8 650.8,234.2 654.7,230.2 660.1,224.9 666.7,220.9 668,224.9 676,227.5 684,230.2 692,231.5 690.6,235.5 684,236.8 676,239.5 668,242.1 660.1,246.1 654.7,251.5 649.4,256.8 646.8,262.8"/>
<polyline points="628.2,220.9 620.2,223.5 614.9,226.2 606.9,230.2 601.6,234.2 596.2,239.5 594.9,243.5 596.2,250.1 590.9,256.8 588.3,262.8"/>
<polyline points="572.3,244.8 582.9,246.1 593.6,247.5 596.2,250.1"/>
<polyline points="597.6,195.6 601.6,190.3 609.5,185 613.5,183.6 620.2,189 622.8,193 617.5,196.9 620.2,199.6 614.9,202.3 606.9,202.9 600.2,201.6 597.6,198.3 597.6,195.6"/>
<polyline points="620.2,199.6 625.5,200.9 628.2,207.6 626.8,211.6"/>
<polyline points="626.8,211.6 622.8,216.9 617.5,215.6 614.9,211.6 614.9,207.6 620.2,206.2"/>
<polyline points="640.1,185 642.8,179.7 640.1,177"/>
<polyline points="713.8,199.3 715.9,196.9 721.2,193 726.5,189 731.9,185 737.2,182.3 742.5,179.7"/>
<polyline points="745.2,174.3 753.1,175.7 759.8,173 767.1,171.7"/>
<polyline points="745.2,219.5 753.1,216.9 761.1,216.9 767.1,215.6"/>
<polyline points="753.1,206.2 755.8,200.9 761.1,196.9 767.1,195.6"/>
<polyline points="588.3,260.1 594.9,255.4 601.6,251.5 606.9,248.8"/>
<polyline points="456.1,154.7 456.1,154.7"/>
<polyline points="456.1,231.2 463.7,227.3 468.8,223.5 472.7,215.9 472.7,210.8 476.5,206.9 482.9,205.7 485.4,209.5 480.3,213.3 479,218.4 481.6,221 489.2,223.5 490.5,228.6 489.2,233.7 481.6,235 479,238.8 481.6,243.9 484.1,249 481.6,254.1 479,256.6 477.8,261.7"/>
<polyline points="489.2,228 494.3,226.1 498.1,227.3 504.5,227.3 509.6,223.5 517.3,215.9 523.6,209.5 528.7,205.7 535.1,203.8 540.2,203.1 545.3,200.6 551.7,196.7 555.5,194.2 558,191.7 563.1,190.4 568.2,189.1 573.3,187.8 578.4,186.6"/>
<polyline points="489.2,233.7 491.8,237.5 500.7,240.1 507.1,242.6 508.3,249 507.1,255.4 507.1,261.7"/>
<polyline points="540.2,203.1 537.7,208.2 533.8,214.6 531.3,221 533.8,227.3 532.6,233.7 531.3,241.3 532.6,250.3 531.3,260.5 528.7,266.8 532.6,275.8 536.4,285.9"/>
<polyline points="578.4,186.6 577.2,191.7 582.2,192.9 578.4,196.7 581,203.1 577.2,208.2 573.3,214.6 577.2,221 578.4,228.6 574.6,236.3 570.8,241.3 573.3,246.4 572.1,254.1 569.5,261.7"/>
<polyline points="578.4,186.6 575.9,182.7 575.9,177.6 579.7,172.5 583.5,170 588.6,168.7 589.9,173.8 596.3,172.5 602.6,170 609,167.4 615.4,166.2 620.5,163.6 626.8,162.3 631.9,164.9 633.2,171.3 637,176.4 642.1,178.9 644.7,175.1 647.2,167.4 651.1,167.4 654.9,171.3 660,168.7 666.3,166.2 672.7,163.6 679.1,162.3 686.7,161.1"/>
<polyline points="570.8,242.6 578.4,245.2 588.6,247.7 595,249 600.1,250.3"/>
<polyline points="588.6,261.7 593.7,255.4 598.8,251.5 606.5,249"/>
</g>
<rect x="1428.1" y="1727.7" width="426.9" height="183.9" fill="none" stroke="#000" stroke-width="3.6"/>
</g>
<rect x="1112.9" y="1648.9" width="919.4" height="525.4" fill="none" stroke="#000" stroke-width="3.8"/>
<g stroke="#000" stroke-linecap="round"><line x1="1103" y1="2161.1" x2="1112.9" y2="2161.1" stroke-width="1.8"/><line x1="2032.3" y1="2161.1" x2="2042.2" y2="2161.1" stroke-width="1.8"/><line x1="1103" y1="2134.9" x2="1112.9" y2="2134.9" stroke-width="1.8"/><line x1="2032.3" y1="2134.9" x2="2042.2" y2="2134.9" stroke-width="1.8"/><line x1="1094" y1="2108.6" x2="1112.9" y2="2108.6" stroke-width="3.6"/><line x1="2032.3" y1="2108.6" x2="2051.2" y2="2108.6" stroke-width="3.6"/><line x1="1103" y1="2082.3" x2="1112.9" y2="2082.3" stroke-width="1.8"/><line x1="2032.3" y1="2082.3" x2="2042.2" y2="2082.3" stroke-width="1.8"/><line x1="1103" y1="2056.1" x2="1112.9" y2="2056.1" stroke-width="1.8"/><line x1="2032.3" y1="2056.1" x2="2042.2" y2="2056.1" stroke-width="1.8"/><line x1="1103" y1="2029.8" x2="1112.9" y2="2029.8" stroke-width="1.8"/><line x1="2032.3" y1="2029.8" x2="2042.2" y2="2029.8" stroke-width="1.8"/><line x1="1103" y1="2003.5" x2="1112.9" y2="2003.5" stroke-width="1.8"/><line x1="2032.3" y1="2003.5" x2="2042.2" y2="2003.5" stroke-width="1.8"/><line x1="1094" y1="1977.2" x2="1112.9" y2="1977.2" stroke-width="3.6"/><line x1="2032.3" y1="1977.2" x2="2051.2" y2="1977.2" stroke-width="3.6"/><line x1="1103" y1="1951" x2="1112.9" y2="1951" stroke-width="1.8"/><line x1="2032.3" y1="1951" x2="2042.2" y2="1951" stroke-width="1.8"/><line x1="1103" y1="1924.7" x2="1112.9" y2="1924.7" stroke-width="1.8"/><line x1="2032.3" y1="1924.7" x2="2042.2" y2="1924.7" stroke-width="1.8"/><line x1="1103" y1="1898.4" x2="1112.9" y2="1898.4" stroke-width="1.8"/><line x1="2032.3" y1="1898.4" x2="2042.2" y2="1898.4" stroke-width="1.8"/><line x1="1103" y1="1872.2" x2="1112.9" y2="1872.2" stroke-width="1.8"/><line x1="2032.3" y1="1872.2" x2="2042.2" y2="1872.2" stroke-width="1.8"/><line x1="1094" y1="1845.9" x2="1112.9" y2="1845.9" stroke-width="3.6"/><line x1="2032.3" y1="1845.9" x2="2051.2" y2="1845.9" stroke-width="3.6"/><line x1="1103" y1="1819.6" x2="1112.9" y2="1819.6" stroke-width="1.8"/><line x1="2032.3" y1="1819.6" x2="2042.2" y2="1819.6" stroke-width="1.8"/><line x1="1103" y1="1793.4" x2="1112.9" y2="1793.4" stroke-width="1.8"/><line x1="2032.3" y1="1793.4" x2="2042.2" y2="1793.4" stroke-width="1.8"/><line x1="1103" y1="1767.1" x2="1112.9" y2="1767.1" stroke-width="1.8"/><line x1="2032.3" y1="1767.1" x2="2042.2" y2="1767.1" stroke-width="1.8"/><line x1="1103" y1="1740.8" x2="1112.9" y2="1740.8" stroke-width="1.8"/><line x1="2032.3" y1="1740.8" x2="2042.2" y2="1740.8" stroke-width="1.8"/><line x1="1094" y1="1714.6" x2="1112.9" y2="1714.6" stroke-width="3.6"/><line x1="2032.3" y1="1714.6" x2="2051.2" y2="1714.6" stroke-width="3.6"/><line x1="1103" y1="1688.3" x2="1112.9" y2="1688.3" stroke-width="1.8"/><line x1="2032.3" y1="1688.3" x2="2042.2" y2="1688.3" stroke-width="1.8"/><line x1="1103" y1="1662" x2="1112.9" y2="1662" stroke-width="1.8"/><line x1="2032.3" y1="1662" x2="2042.2" y2="1662" stroke-width="1.8"/><line x1="1112.9" y1="1639" x2="1112.9" y2="1648.9" stroke-width="1.8"/><line x1="1112.9" y1="2174.3" x2="1112.9" y2="2184.2" stroke-width="1.8"/><line x1="1244.2" y1="1639" x2="1244.2" y2="1648.9" stroke-width="1.8"/><line x1="1244.2" y1="2174.3" x2="1244.2" y2="2184.2" stroke-width="1.8"/><line x1="1375.6" y1="1630" x2="1375.6" y2="1648.9" stroke-width="3.6"/><line x1="1375.6" y1="2174.3" x2="1375.6" y2="2193.2" stroke-width="3.6"/><line x1="1506.9" y1="1639" x2="1506.9" y2="1648.9" stroke-width="1.8"/><line x1="1506.9" y1="2174.3" x2="1506.9" y2="2184.2" stroke-width="1.8"/><line x1="1638.3" y1="1639" x2="1638.3" y2="1648.9" stroke-width="1.8"/><line x1="1638.3" y1="2174.3" x2="1638.3" y2="2184.2" stroke-width="1.8"/><line x1="1769.6" y1="1630" x2="1769.6" y2="1648.9" stroke-width="3.6"/><line x1="1769.6" y1="2174.3" x2="1769.6" y2="2193.2" stroke-width="3.6"/><line x1="1900.9" y1="1639" x2="1900.9" y2="1648.9" stroke-width="1.8"/><line x1="1900.9" y1="2174.3" x2="1900.9" y2="2184.2" stroke-width="1.8"/><line x1="2032.3" y1="1639" x2="2032.3" y2="1648.9" stroke-width="1.8"/><line x1="2032.3" y1="2174.3" x2="2032.3" y2="2184.2" stroke-width="1.8"/></g>
<text x="1077.9" y="1723.3" font-size="25" text-anchor="end" textLength="42" lengthAdjust="spacingAndGlyphs">50N</text>
<text x="1077.9" y="1854.6" font-size="25" text-anchor="end" textLength="42" lengthAdjust="spacingAndGlyphs">40N</text>
<text x="1077.9" y="1986" font-size="25" text-anchor="end" textLength="42" lengthAdjust="spacingAndGlyphs">30N</text>
<text x="1077.9" y="2117.3" font-size="25" text-anchor="end" textLength="42" lengthAdjust="spacingAndGlyphs">20N</text>
<text x="1375.6" y="2226.6" font-size="25" text-anchor="middle">90E</text>
<text x="1769.6" y="2226.6" font-size="25" text-anchor="middle">120E</text>
<text x="1104.5" y="1617" font-size="40.5" font-weight="bold" textLength="937.4" lengthAdjust="spacingAndGlyphs">Trends of dust emission flux due to SOILM change</text>
<text x="1038" y="1634" font-size="84">f</text>
<rect x="1166.2" y="2245.2" width="73.9" height="47.6" fill="#000080" stroke="#000" stroke-width="1.7"/>
<rect x="1240.1" y="2245.2" width="73.9" height="47.6" fill="#0000e0" stroke="#000" stroke-width="1.7"/>
<rect x="1313.9" y="2245.2" width="73.9" height="47.6" fill="#6666ff" stroke="#000" stroke-width="1.7"/>
<rect x="1387.8" y="2245.2" width="73.9" height="47.6" fill="#aaaaff" stroke="#000" stroke-width="1.7"/>
<rect x="1461.7" y="2245.2" width="73.9" height="47.6" fill="#ddddff" stroke="#000" stroke-width="1.7"/>
<rect x="1535.6" y="2245.2" width="73.9" height="47.6" fill="#ffffff" stroke="#000" stroke-width="1.7"/>
<rect x="1609.4" y="2245.2" width="73.9" height="47.6" fill="#ffdddd" stroke="#000" stroke-width="1.7"/>
<rect x="1683.3" y="2245.2" width="73.9" height="47.6" fill="#ffaaaa" stroke="#000" stroke-width="1.7"/>
<rect x="1757.2" y="2245.2" width="73.9" height="47.6" fill="#ff6666" stroke="#000" stroke-width="1.7"/>
<rect x="1831" y="2245.2" width="73.9" height="47.6" fill="#e00000" stroke="#000" stroke-width="1.7"/>
<rect x="1904.9" y="2245.2" width="73.9" height="47.6" fill="#800000" stroke="#000" stroke-width="1.7"/>
<text x="1240.1" y="2324.2" font-size="25" text-anchor="middle" transform="translate(1240.1,0) scale(0.66,1) translate(-1240.1,0)">-100</text>
<text x="1313.9" y="2324.2" font-size="25" text-anchor="middle" transform="translate(1313.9,0) scale(0.66,1) translate(-1313.9,0)">-50</text>
<text x="1387.8" y="2324.2" font-size="25" text-anchor="middle" transform="translate(1387.8,0) scale(0.66,1) translate(-1387.8,0)">-10</text>
<text x="1461.7" y="2324.2" font-size="25" text-anchor="middle" transform="translate(1461.7,0) scale(0.66,1) translate(-1461.7,0)">-1</text>
<text x="1535.6" y="2324.2" font-size="25" text-anchor="middle" transform="translate(1535.6,0) scale(0.66,1) translate(-1535.6,0)">-0.2</text>
<text x="1609.4" y="2324.2" font-size="25" text-anchor="middle" transform="translate(1609.4,0) scale(0.66,1) translate(-1609.4,0)">0.2</text>
<text x="1683.3" y="2324.2" font-size="25" text-anchor="middle" transform="translate(1683.3,0) scale(0.66,1) translate(-1683.3,0)">1</text>
<text x="1757.2" y="2324.2" font-size="25" text-anchor="middle" transform="translate(1757.2,0) scale(0.66,1) translate(-1757.2,0)">10</text>
<text x="1831" y="2324.2" font-size="25" text-anchor="middle" transform="translate(1831,0) scale(0.66,1) translate(-1831,0)">50</text>
<text x="1904.9" y="2324.2" font-size="25" text-anchor="middle" transform="translate(1904.9,0) scale(0.66,1) translate(-1904.9,0)">100</text>
</g>
</svg></body></html>
